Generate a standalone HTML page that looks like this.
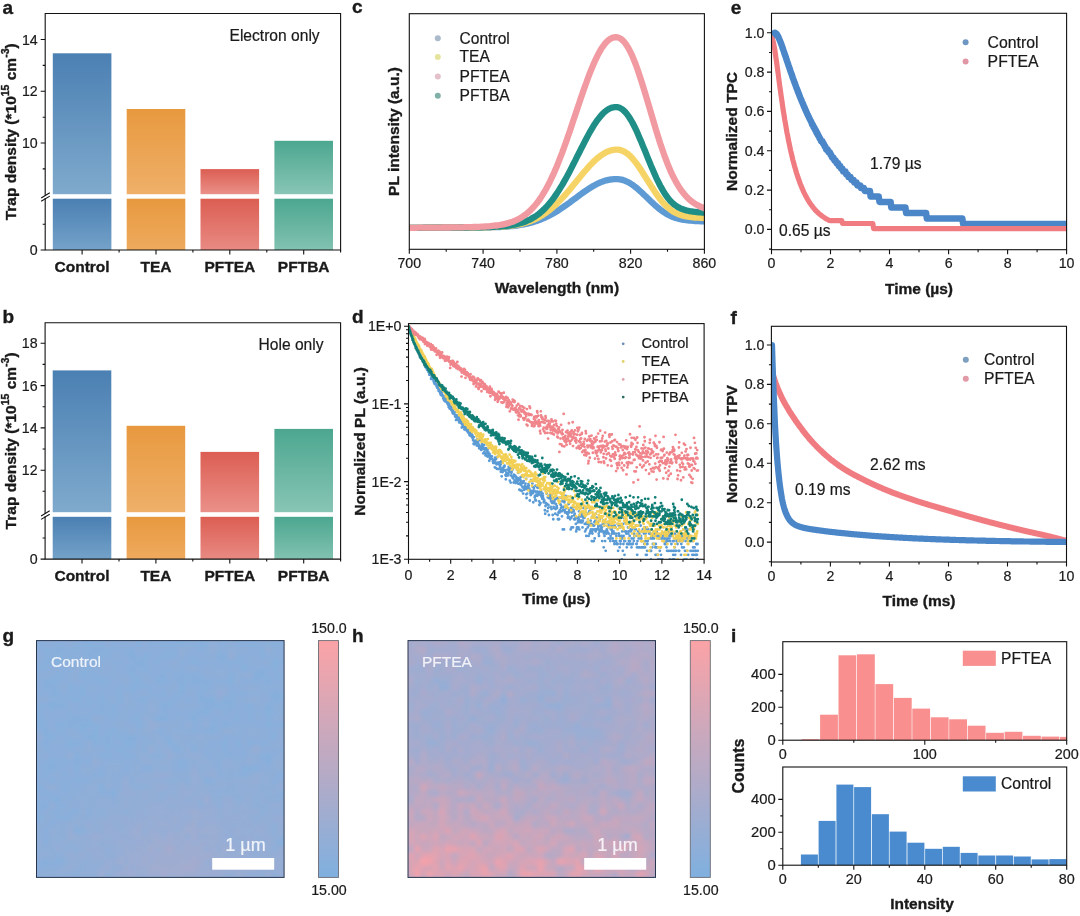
<!DOCTYPE html>
<html><head><meta charset="utf-8"><title>Figure</title>
<style>html,body{margin:0;padding:0;background:#fff}svg{display:block}text{font-family:'Liberation Sans', sans-serif}</style>
</head><body>
<svg width="1080" height="916" viewBox="0 0 1080 916" font-family="Liberation Sans, sans-serif">
<rect width="1080" height="916" fill="#fff"/>
<defs>
<linearGradient id="gB" x1="0" y1="0" x2="0" y2="1"><stop offset="0" stop-color="#4b80b3"/><stop offset="1" stop-color="#7faacd"/></linearGradient>
<linearGradient id="gO" x1="0" y1="0" x2="0" y2="1"><stop offset="0" stop-color="#e8993f"/><stop offset="1" stop-color="#efb069"/></linearGradient>
<linearGradient id="gR" x1="0" y1="0" x2="0" y2="1"><stop offset="0" stop-color="#dc5e53"/><stop offset="1" stop-color="#ea9089"/></linearGradient>
<linearGradient id="gG" x1="0" y1="0" x2="0" y2="1"><stop offset="0" stop-color="#4ca790"/><stop offset="1" stop-color="#88c5b5"/></linearGradient>
<linearGradient id="gB2" x1="0" y1="0" x2="0" y2="1"><stop offset="0" stop-color="#4b80b3"/><stop offset="1" stop-color="#74a2c9"/></linearGradient>
<linearGradient id="gO2" x1="0" y1="0" x2="0" y2="1"><stop offset="0" stop-color="#e8993f"/><stop offset="1" stop-color="#eeaa5e"/></linearGradient>
<linearGradient id="gR2" x1="0" y1="0" x2="0" y2="1"><stop offset="0" stop-color="#dc5e53"/><stop offset="1" stop-color="#e88a83"/></linearGradient>
<linearGradient id="gG2" x1="0" y1="0" x2="0" y2="1"><stop offset="0" stop-color="#4ca790"/><stop offset="1" stop-color="#82c2b1"/></linearGradient>
<linearGradient id="cb" x1="0" y1="0" x2="0" y2="1"><stop offset="0" stop-color="#fba3a6"/><stop offset="1" stop-color="#7fb0df"/></linearGradient>
<filter id="bl" x="-5%" y="-5%" width="110%" height="110%"><feGaussianBlur stdDeviation="2.2"/></filter>
<clipPath id="cg"><rect x="36" y="640.6" width="248" height="236.8"/></clipPath>
<clipPath id="ch"><rect x="408" y="640.6" width="247.5" height="236.8"/></clipPath>
</defs>
<rect x="52.8" y="53.3" width="58.6" height="140.9" fill="url(#gB)"/>
<rect x="52.8" y="198.7" width="58.6" height="51.3" fill="url(#gB2)"/>
<rect x="126.7" y="109" width="58.6" height="85.2" fill="url(#gO)"/>
<rect x="126.7" y="198.7" width="58.6" height="51.3" fill="url(#gO2)"/>
<rect x="200.5" y="169.1" width="58.6" height="25.1" fill="url(#gR)"/>
<rect x="200.5" y="198.7" width="58.6" height="51.3" fill="url(#gR2)"/>
<rect x="274.4" y="140.8" width="58.6" height="53.4" fill="url(#gG)"/>
<rect x="274.4" y="198.7" width="58.6" height="51.3" fill="url(#gG2)"/>
<path d="M45.2 195.4L45.2 13.5L340.6 13.5L340.6 250L45.2 250L45.2 198.1" stroke="#111" stroke-width="1.1" fill="none"/>
<path d="M41.2 198L49.8 192.8M41.2 201.3L49.8 196.1" stroke="#111" stroke-width="1.1" fill="none"/>
<text x="37.7" y="44.5" font-size="14.2" stroke="#1a1a1a" stroke-width=".2" text-anchor="end" fill="#1a1a1a">14</text>
<text x="37.7" y="96.3" font-size="14.2" stroke="#1a1a1a" stroke-width=".2" text-anchor="end" fill="#1a1a1a">12</text>
<text x="37.7" y="148" font-size="14.2" stroke="#1a1a1a" stroke-width=".2" text-anchor="end" fill="#1a1a1a">10</text>
<text x="37.7" y="255" font-size="14.2" stroke="#1a1a1a" stroke-width=".2" text-anchor="end" fill="#1a1a1a">0</text>
<text x="82.1" y="272" font-size="15.5" font-weight="bold" stroke="#1a1a1a" stroke-width=".35" text-anchor="middle" fill="#1a1a1a">Control</text>
<text x="156" y="272" font-size="15.5" font-weight="bold" stroke="#1a1a1a" stroke-width=".35" text-anchor="middle" fill="#1a1a1a">TEA</text>
<text x="229.8" y="272" font-size="15.5" font-weight="bold" stroke="#1a1a1a" stroke-width=".35" text-anchor="middle" fill="#1a1a1a">PFTEA</text>
<text x="303.7" y="272" font-size="15.5" font-weight="bold" stroke="#1a1a1a" stroke-width=".35" text-anchor="middle" fill="#1a1a1a">PFTBA</text>
<path d="M45.2 39.5L40.7 39.5M45.2 91.3L40.7 91.3M45.2 143L40.7 143M45.2 250L40.7 250M45.2 65.4L42.7 65.4M45.2 117.2L42.7 117.2M45.2 168.9L42.7 168.9M45.2 224.2L42.7 224.2M82.1 250L82.1 254.5M156 250L156 254.5M229.8 250L229.8 254.5M303.7 250L303.7 254.5M119.1 250L119.1 252.5M192.9 250L192.9 252.5M266.8 250L266.8 252.5M340.6 250L340.6 252.5" stroke="#111" stroke-width="1.1" fill="none"/>
<text x="229.5" y="41" font-size="15.6" stroke="#1a1a1a" stroke-width=".2" text-anchor="start" fill="#1a1a1a">Electron only</text>
<text x="15.7" y="131.8" font-size="15.5" font-weight="bold" stroke="#1a1a1a" stroke-width=".35" text-anchor="middle" fill="#1a1a1a" transform="rotate(-90 15.7 131.8)">Trap density (*10<tspan font-size="10.5" dy="-6.5">15</tspan><tspan dy="6.5"> cm</tspan><tspan font-size="10.5" dy="-6.5">-3</tspan><tspan dy="6.5">)</tspan></text>
<text x="2.5" y="14" font-size="19" font-weight="bold" stroke="#1a1a1a" stroke-width=".35" text-anchor="start" fill="#1a1a1a">a</text>
<rect x="52.7" y="370.4" width="58.6" height="141.8" fill="url(#gB)"/>
<rect x="52.7" y="516.8" width="58.6" height="42.3" fill="url(#gB2)"/>
<rect x="126.6" y="425.8" width="58.6" height="86.4" fill="url(#gO)"/>
<rect x="126.6" y="516.8" width="58.6" height="42.3" fill="url(#gO2)"/>
<rect x="200.5" y="451.9" width="58.6" height="60.3" fill="url(#gR)"/>
<rect x="200.5" y="516.8" width="58.6" height="42.3" fill="url(#gR2)"/>
<rect x="274.4" y="428.9" width="58.6" height="83.3" fill="url(#gG)"/>
<rect x="274.4" y="516.8" width="58.6" height="42.3" fill="url(#gG2)"/>
<path d="M45.1 513.4L45.1 322.7L340.6 322.7L340.6 559.1L45.1 559.1L45.1 516.2" stroke="#111" stroke-width="1.1" fill="none"/>
<path d="M41.1 516L49.7 510.8M41.1 519.4L49.7 514.2" stroke="#111" stroke-width="1.1" fill="none"/>
<text x="37.6" y="348.3" font-size="14.2" stroke="#1a1a1a" stroke-width=".2" text-anchor="end" fill="#1a1a1a">18</text>
<text x="37.6" y="390.6" font-size="14.2" stroke="#1a1a1a" stroke-width=".2" text-anchor="end" fill="#1a1a1a">16</text>
<text x="37.6" y="432.9" font-size="14.2" stroke="#1a1a1a" stroke-width=".2" text-anchor="end" fill="#1a1a1a">14</text>
<text x="37.6" y="475.2" font-size="14.2" stroke="#1a1a1a" stroke-width=".2" text-anchor="end" fill="#1a1a1a">12</text>
<text x="37.6" y="564.1" font-size="14.2" stroke="#1a1a1a" stroke-width=".2" text-anchor="end" fill="#1a1a1a">0</text>
<text x="82" y="580.5" font-size="15.5" font-weight="bold" stroke="#1a1a1a" stroke-width=".35" text-anchor="middle" fill="#1a1a1a">Control</text>
<text x="155.9" y="580.5" font-size="15.5" font-weight="bold" stroke="#1a1a1a" stroke-width=".35" text-anchor="middle" fill="#1a1a1a">TEA</text>
<text x="229.8" y="580.5" font-size="15.5" font-weight="bold" stroke="#1a1a1a" stroke-width=".35" text-anchor="middle" fill="#1a1a1a">PFTEA</text>
<text x="303.7" y="580.5" font-size="15.5" font-weight="bold" stroke="#1a1a1a" stroke-width=".35" text-anchor="middle" fill="#1a1a1a">PFTBA</text>
<path d="M45.1 343.3L40.6 343.3M45.1 385.6L40.6 385.6M45.1 427.9L40.6 427.9M45.1 470.2L40.6 470.2M45.1 559.1L40.6 559.1M45.1 364.4L42.6 364.4M45.1 406.7L42.6 406.7M45.1 449L42.6 449M45.1 491.3L42.6 491.3M45.1 538L42.6 538M82 559.1L82 563.6M155.9 559.1L155.9 563.6M229.8 559.1L229.8 563.6M303.7 559.1L303.7 563.6M119 559.1L119 561.6M192.8 559.1L192.8 561.6M266.7 559.1L266.7 561.6M340.6 559.1L340.6 561.6" stroke="#111" stroke-width="1.1" fill="none"/>
<text x="258.5" y="349.5" font-size="15.6" stroke="#1a1a1a" stroke-width=".2" text-anchor="start" fill="#1a1a1a">Hole only</text>
<text x="15.7" y="440.9" font-size="15.5" font-weight="bold" stroke="#1a1a1a" stroke-width=".35" text-anchor="middle" fill="#1a1a1a" transform="rotate(-90 15.7 440.9)">Trap density (*10<tspan font-size="10.5" dy="-6.5">15</tspan><tspan dy="6.5"> cm</tspan><tspan font-size="10.5" dy="-6.5">-3</tspan><tspan dy="6.5">)</tspan></text>
<text x="2.5" y="323" font-size="19" font-weight="bold" stroke="#1a1a1a" stroke-width=".35" text-anchor="start" fill="#1a1a1a">b</text>
<clipPath id="cc"><rect x="409.3" y="13.7" width="295.1" height="235.6"/></clipPath>
<g fill="none" stroke-linecap="round" stroke-linejoin="round" stroke-width="6.3" clip-path="url(#cc)">
<path d="M409.3 227.8 411.1 227.8 413 227.8 414.8 227.8 416.7 227.8 418.5 227.8 420.4 227.8 422.2 227.8 424.1 227.8 425.9 227.8 427.7 227.8 429.6 227.8 431.4 227.8 433.3 227.8 435.1 227.7 437 227.7 438.8 227.7 440.7 227.7 442.5 227.7 444.3 227.7 446.2 227.7 448 227.7 449.9 227.7 451.7 227.7 453.6 227.7 455.4 227.7 457.3 227.7 459.1 227.7 460.9 227.7 462.8 227.7 464.6 227.6 466.5 227.6 468.3 227.6 470.2 227.6 472 227.6 473.9 227.6 475.7 227.6 477.5 227.5 479.4 227.5 481.2 227.5 483.1 227.5 484.9 227.4 486.8 227.4 488.6 227.3 490.5 227.3 492.3 227.2 494.1 227.2 496 227.1 497.8 227 499.7 227 501.5 226.9 503.4 226.8 505.2 226.6 507.1 226.5 508.9 226.4 510.7 226.2 512.6 226 514.4 225.8 516.3 225.6 518.1 225.3 520 225 521.8 224.7 523.7 224.4 525.5 224 527.3 223.6 529.2 223.2 531 222.7 532.9 222.2 534.7 221.6 536.6 221 538.4 220.3 540.3 219.7 542.1 218.9 543.9 218.1 545.8 217.3 547.6 216.4 549.5 215.5 551.3 214.5 553.2 213.5 555 212.4 556.9 211.3 558.7 210.1 560.5 208.9 562.4 207.7 564.2 206.4 566.1 205.1 567.9 203.8 569.8 202.5 571.6 201.1 573.4 199.7 575.3 198.4 577.1 197 579 195.6 580.8 194.3 582.7 192.9 584.5 191.6 586.4 190.3 588.2 189.1 590 187.9 591.9 186.8 593.7 185.7 595.6 184.7 597.4 183.8 599.3 182.9 601.1 182.1 603 181.4 604.8 180.8 606.6 180.3 608.5 179.9 610.3 179.5 612.2 179.3 614 179.1 615.9 179.1 617.7 179.1 619.6 179.3 621.4 179.6 623.2 180.1 625.1 180.8 626.9 181.6 628.8 182.5 630.6 183.6 632.5 184.8 634.3 186.2 636.2 187.6 638 189.2 639.8 190.8 641.7 192.5 643.5 194.3 645.4 196 647.2 197.8 649.1 199.6 650.9 201.4 652.8 203.1 654.6 204.8 656.4 206.4 658.3 208 660.1 209.5 662 210.9 663.8 212.2 665.7 213.4 667.5 214.5 669.4 215.4 671.2 216.3 673 217.1 674.9 217.7 676.7 218.3 678.6 218.8 680.4 219.2 682.3 219.6 684.1 219.9 686 220.1 687.8 220.4 689.6 220.6 691.5 220.7 693.3 220.9 695.2 221 697 221.1 698.9 221.2 700.7 221.3 702.6 221.4 704.4 221.4" stroke="#5e9ad3"/>
<path d="M409.3 227.8 411.1 227.8 413 227.8 414.8 227.8 416.7 227.8 418.5 227.8 420.4 227.8 422.2 227.8 424.1 227.8 425.9 227.8 427.7 227.7 429.6 227.7 431.4 227.7 433.3 227.7 435.1 227.7 437 227.7 438.8 227.7 440.7 227.7 442.5 227.7 444.3 227.7 446.2 227.7 448 227.7 449.9 227.7 451.7 227.7 453.6 227.6 455.4 227.6 457.3 227.6 459.1 227.6 460.9 227.6 462.8 227.6 464.6 227.6 466.5 227.6 468.3 227.5 470.2 227.5 472 227.5 473.9 227.5 475.7 227.5 477.5 227.4 479.4 227.4 481.2 227.4 483.1 227.3 484.9 227.3 486.8 227.3 488.6 227.2 490.5 227.1 492.3 227.1 494.1 227 496 226.9 497.8 226.8 499.7 226.7 501.5 226.6 503.4 226.5 505.2 226.3 507.1 226.1 508.9 225.9 510.7 225.7 512.6 225.5 514.4 225.2 516.3 224.9 518.1 224.5 520 224.1 521.8 223.7 523.7 223.2 525.5 222.7 527.3 222.1 529.2 221.5 531 220.8 532.9 220.1 534.7 219.3 536.6 218.4 538.4 217.4 540.3 216.4 542.1 215.3 543.9 214.1 545.8 212.9 547.6 211.5 549.5 210.1 551.3 208.6 553.2 207 555 205.4 556.9 203.6 558.7 201.8 560.5 199.9 562.4 197.9 564.2 195.9 566.1 193.8 567.9 191.7 569.8 189.5 571.6 187.3 573.4 185.1 575.3 182.8 577.1 180.6 579 178.3 580.8 176.1 582.7 173.8 584.5 171.6 586.4 169.5 588.2 167.4 590 165.4 591.9 163.4 593.7 161.6 595.6 159.8 597.4 158.2 599.3 156.7 601.1 155.3 603 154.1 604.8 153 606.6 152 608.5 151.3 610.3 150.6 612.2 150.2 614 149.9 615.9 149.7 617.7 149.7 619.6 149.9 621.4 150.4 623.2 151.1 625.1 152.1 626.9 153.3 628.8 154.8 630.6 156.6 632.5 158.5 634.3 160.7 636.2 163.1 638 165.6 639.8 168.3 641.7 171.1 643.5 174 645.4 176.9 647.2 179.8 649.1 182.8 650.9 185.7 652.8 188.6 654.6 191.4 656.4 194.1 658.3 196.6 660.1 199.1 662 201.4 663.8 203.5 665.7 205.4 667.5 207.2 669.4 208.8 671.2 210.2 673 211.5 674.9 212.5 676.7 213.4 678.6 214.2 680.4 214.9 682.3 215.4 684.1 215.9 686 216.3 687.8 216.6 689.6 216.9 691.5 217.1 693.3 217.3 695.2 217.5 697 217.6 698.9 217.7 700.7 217.8 702.6 217.9 704.4 218" stroke="#f5d465"/>
<path d="M409.3 227.8 411.1 227.8 413 227.8 414.8 227.8 416.7 227.8 418.5 227.8 420.4 227.8 422.2 227.8 424.1 227.7 425.9 227.7 427.7 227.7 429.6 227.7 431.4 227.7 433.3 227.7 435.1 227.7 437 227.7 438.8 227.7 440.7 227.7 442.5 227.7 444.3 227.6 446.2 227.6 448 227.6 449.9 227.6 451.7 227.6 453.6 227.6 455.4 227.6 457.3 227.6 459.1 227.5 460.9 227.5 462.8 227.5 464.6 227.5 466.5 227.5 468.3 227.5 470.2 227.4 472 227.4 473.9 227.4 475.7 227.4 477.5 227.3 479.4 227.3 481.2 227.3 483.1 227.2 484.9 227.2 486.8 227.1 488.6 227.1 490.5 227 492.3 226.9 494.1 226.8 496 226.7 497.8 226.6 499.7 226.5 501.5 226.4 503.4 226.2 505.2 226 507.1 225.8 508.9 225.6 510.7 225.3 512.6 225 514.4 224.7 516.3 224.3 518.1 223.8 520 223.3 521.8 222.8 523.7 222.2 525.5 221.5 527.3 220.7 529.2 219.9 531 218.9 532.9 217.9 534.7 216.8 536.6 215.5 538.4 214.2 540.3 212.7 542.1 211.1 543.9 209.4 545.8 207.5 547.6 205.5 549.5 203.4 551.3 201.1 553.2 198.7 555 196.1 556.9 193.4 558.7 190.6 560.5 187.7 562.4 184.6 564.2 181.4 566.1 178.1 567.9 174.7 569.8 171.2 571.6 167.6 573.4 164 575.3 160.4 577.1 156.7 579 153 580.8 149.3 582.7 145.7 584.5 142.1 586.4 138.5 588.2 135.1 590 131.8 591.9 128.6 593.7 125.6 595.6 122.8 597.4 120.1 599.3 117.7 601.1 115.5 603 113.5 604.8 111.8 606.6 110.3 608.5 109.1 610.3 108.2 612.2 107.6 614 107.2 615.9 107.1 617.7 107.2 619.6 107.8 621.4 108.7 623.2 110.1 625.1 111.9 626.9 114 628.8 116.6 630.6 119.5 632.5 122.8 634.3 126.3 636.2 130.1 638 134.2 639.8 138.4 641.7 142.8 643.5 147.3 645.4 151.8 647.2 156.4 649.1 160.9 650.9 165.4 652.8 169.8 654.6 174 656.4 178.1 658.3 181.9 660.1 185.5 662 188.9 663.8 192 665.7 194.9 667.5 197.5 669.4 199.8 671.2 201.8 673 203.5 674.9 205 676.7 206.3 678.6 207.4 680.4 208.3 682.3 209.1 684.1 209.7 686 210.3 687.8 210.7 689.6 211.1 691.5 211.4 693.3 211.7 695.2 211.9 697 212.1 698.9 212.3 700.7 212.4 702.6 212.6 704.4 212.7" stroke="#1e8e87"/>
<path d="M409.3 227.8 411.1 227.8 413 227.8 414.8 227.8 416.7 227.8 418.5 227.7 420.4 227.7 422.2 227.7 424.1 227.7 425.9 227.7 427.7 227.7 429.6 227.7 431.4 227.6 433.3 227.6 435.1 227.6 437 227.6 438.8 227.6 440.7 227.6 442.5 227.5 444.3 227.5 446.2 227.5 448 227.5 449.9 227.5 451.7 227.4 453.6 227.4 455.4 227.4 457.3 227.4 459.1 227.3 460.9 227.3 462.8 227.3 464.6 227.2 466.5 227.2 468.3 227.2 470.2 227.1 472 227.1 473.9 227 475.7 226.9 477.5 226.9 479.4 226.8 481.2 226.7 483.1 226.6 484.9 226.5 486.8 226.4 488.6 226.3 490.5 226.1 492.3 225.9 494.1 225.7 496 225.5 497.8 225.3 499.7 225 501.5 224.7 503.4 224.3 505.2 223.9 507.1 223.4 508.9 222.9 510.7 222.3 512.6 221.7 514.4 221 516.3 220.1 518.1 219.2 520 218.2 521.8 217.1 523.7 215.9 525.5 214.6 527.3 213.1 529.2 211.5 531 209.7 532.9 207.8 534.7 205.7 536.6 203.5 538.4 201.1 540.3 198.4 542.1 195.6 543.9 192.7 545.8 189.5 547.6 186.1 549.5 182.5 551.3 178.7 553.2 174.7 555 170.5 556.9 166.2 558.7 161.6 560.5 156.9 562.4 152.1 564.2 147 566.1 141.9 567.9 136.6 569.8 131.3 571.6 125.8 573.4 120.3 575.3 114.8 577.1 109.3 579 103.8 580.8 98.3 582.7 92.9 584.5 87.6 586.4 82.5 588.2 77.5 590 72.7 591.9 68.1 593.7 63.7 595.6 59.6 597.4 55.8 599.3 52.3 601.1 49.1 603 46.3 604.8 43.9 606.6 41.8 608.5 40.1 610.3 38.8 612.2 37.9 614 37.4 615.9 37.2 617.7 37.4 619.6 38.1 621.4 39.2 623.2 40.9 625.1 43 626.9 45.7 628.8 48.8 630.6 52.4 632.5 56.4 634.3 60.9 636.2 65.7 638 70.8 639.8 76.3 641.7 82 643.5 87.9 645.4 94 647.2 100.2 649.1 106.4 650.9 112.7 652.8 119 654.6 125.2 656.4 131.3 658.3 137.2 660.1 143 662 148.5 663.8 153.8 665.7 158.9 667.5 163.7 669.4 168.2 671.2 172.4 673 176.3 674.9 179.9 676.7 183.2 678.6 186.3 680.4 189.1 682.3 191.6 684.1 194 686 196.1 687.8 198 689.6 199.7 691.5 201.2 693.3 202.6 695.2 203.8 697 204.9 698.9 205.9 700.7 206.8 702.6 207.5 704.4 208.2" stroke="#f29aa1"/>
</g>
<rect x="409.3" y="13.7" width="295.1" height="235.6" fill="none" stroke="#111" stroke-width="1.1"/>
<text x="409.3" y="268.3" font-size="14.2" stroke="#1a1a1a" stroke-width=".2" text-anchor="middle" fill="#1a1a1a">700</text>
<text x="483.1" y="268.3" font-size="14.2" stroke="#1a1a1a" stroke-width=".2" text-anchor="middle" fill="#1a1a1a">740</text>
<text x="556.9" y="268.3" font-size="14.2" stroke="#1a1a1a" stroke-width=".2" text-anchor="middle" fill="#1a1a1a">780</text>
<text x="630.6" y="268.3" font-size="14.2" stroke="#1a1a1a" stroke-width=".2" text-anchor="middle" fill="#1a1a1a">820</text>
<text x="704.4" y="268.3" font-size="14.2" stroke="#1a1a1a" stroke-width=".2" text-anchor="middle" fill="#1a1a1a">860</text>
<path d="M409.3 249.3L409.3 253.8M483.1 249.3L483.1 253.8M556.9 249.3L556.9 253.8M630.6 249.3L630.6 253.8M704.4 249.3L704.4 253.8M446.2 249.3L446.2 251.8M520 249.3L520 251.8M593.7 249.3L593.7 251.8M667.5 249.3L667.5 251.8" stroke="#111" stroke-width="1.1" fill="none"/>
<text x="556.9" y="293" font-size="15.5" font-weight="bold" stroke="#1a1a1a" stroke-width=".35" text-anchor="middle" fill="#1a1a1a">Wavelength (nm)</text>
<text x="398.5" y="131.5" font-size="15.5" font-weight="bold" stroke="#1a1a1a" stroke-width=".35" text-anchor="middle" fill="#1a1a1a" transform="rotate(-90 398.5 131.5)">PL intensity (a.u.)</text>
<text x="352" y="13" font-size="19" font-weight="bold" stroke="#1a1a1a" stroke-width=".35" text-anchor="start" fill="#1a1a1a">c</text>
<circle cx="437.8" cy="38.3" r="3" fill="#abbaca"/>
<text x="459.5" y="43.8" font-size="15.6" stroke="#1a1a1a" stroke-width=".2" text-anchor="start" fill="#1a1a1a">Control</text>
<circle cx="437.8" cy="56.9" r="3" fill="#e6e49c"/>
<text x="459.5" y="62.4" font-size="15.6" stroke="#1a1a1a" stroke-width=".2" text-anchor="start" fill="#1a1a1a">TEA</text>
<circle cx="437.8" cy="76.5" r="3" fill="#e3c0ca"/>
<text x="459.5" y="82" font-size="15.6" stroke="#1a1a1a" stroke-width=".2" text-anchor="start" fill="#1a1a1a">PFTEA</text>
<circle cx="437.8" cy="95.7" r="3" fill="#80b0a7"/>
<text x="459.5" y="101.2" font-size="15.6" stroke="#1a1a1a" stroke-width=".2" text-anchor="start" fill="#1a1a1a">PFTBA</text>
<clipPath id="ce"><rect x="771.5" y="13.3" width="295.1" height="236.4"/></clipPath>
<g fill="none" stroke-linecap="round" stroke-linejoin="round" clip-path="url(#ce)">
<path d="M771.5 38.7 772.2 37.2 773 35.7 773.7 34.1 774.5 32.8 775.2 32.8 775.9 33.3 776.7 34.1 777.4 35.2 778.2 36.6 778.9 38.2 779.6 39.9 780.4 41.8 781.1 43.7 781.9 45.8 782.6 47.9 783.3 50 784.1 52.2 784.8 54.4 785.6 56.6 786.3 58.8 787 61 787.8 63.2 788.5 65.3 789.3 67.5 790 69.7 790.7 71.8 791.5 73.9 792.2 76 792.9 78.1 793.7 80.2 794.4 82.2 795.2 84.2 795.9 86.2 796.6 88.2 797.4 90.1 798.1 92.1 798.9 93.9 799.6 95.8 800.3 97.7 801.1 99.5 801.8 101.3 802.6 103.1 803.3 104.8 804 106.5 804.8 108.2 805.5 109.9 806.3 111.6 807 113.2 807.7 114.8 808.5 116.4 809.2 118 810 119.5 810.7 121 811.4 122.1 812.2 124.8 812.9 124.8 813.7 127.6 814.4 127.6 815.1 130.3 815.9 130.3 816.6 133.1 817.4 133.1 818.1 135.8 818.8 135.8 819.6 138.6 820.3 138.6 821.1 141.3 821.8 141.3 822.5 141.3 823.3 144.1 824 144.1 824.8 146.8 825.5 146.8 826.2 149.6 827 149.6 827.7 149.6 828.4 152.3 829.2 152.3 829.9 152.3 830.7 155.1 831.4 155.1 832.1 157.8 832.9 157.8 833.6 157.8 834.4 160.6 835.1 160.6 835.8 160.6 836.6 163.3 837.3 163.3 838.1 163.3 838.8 166.1 839.5 166.1 840.3 166.1 841 168.8 841.8 168.8 842.5 168.8 843.2 171.6 844 171.6 844.7 171.6 845.5 171.6 846.2 174.4 846.9 174.4 847.7 174.4 848.4 177.1 849.2 177.1 849.9 177.1 850.6 177.1 851.4 179.9 852.1 179.9 852.9 179.9 853.6 179.9 854.3 182.6 855.1 182.6 855.8 182.6 856.6 182.6 857.3 185.4 858 185.4 858.8 185.4 859.5 185.4 860.3 185.4 861 188.1 861.7 188.1 862.5 188.1 863.2 188.1 863.9 188.1 864.7 190.9 865.4 190.9 866.2 190.9 866.9 190.9 867.6 190.9 868.4 190.9 869.1 190.9 869.9 190.9 870.6 196.4 871.3 196.4 872.1 196.4 872.8 196.4 873.6 196.4 874.3 196.4 875 196.4 875.8 196.4 876.5 196.4 877.3 196.4 878 196.4 878.7 196.4 879.5 201.9 880.2 201.9 881 201.9 881.7 201.9 882.4 201.9 883.2 201.9 883.9 201.9 884.7 201.9 885.4 201.9 886.1 201.9 886.9 201.9 887.6 201.9 888.4 201.9 889.1 201.9 889.8 201.9 890.6 201.9 891.3 207.4 892.1 207.4 892.8 207.4 893.5 207.4 894.3 207.4 895 207.4 895.8 207.4 896.5 207.4 897.2 207.4 898 207.4 898.7 207.4 899.5 207.4 900.2 207.4 900.9 207.4 901.7 207.4 902.4 207.4 903.1 207.4 903.9 207.4 904.6 207.4 905.4 207.4 906.1 212.9 906.8 212.9 907.6 212.9 908.3 212.9 909.1 212.9 909.8 212.9 910.5 212.9 911.3 212.9 912 212.9 912.8 212.9 913.5 212.9 914.2 212.9 915 212.9 915.7 212.9 916.5 212.9 917.2 212.9 917.9 212.9 918.7 212.9 919.4 212.9 920.2 212.9 920.9 212.9 921.6 212.9 922.4 212.9 923.1 212.9 923.9 212.9 924.6 212.9 925.3 212.9 926.1 212.9 926.8 218.4 927.6 218.4 928.3 218.4 929 218.4 929.8 218.4 930.5 218.4 931.3 218.4 932 218.4 932.7 218.4 933.5 218.4 934.2 218.4 935 218.4 935.7 218.4 936.4 218.4 937.2 218.4 937.9 218.4 938.6 218.4 939.4 218.4 940.1 218.4 940.9 218.4 941.6 218.4 942.3 218.4 943.1 218.4 943.8 218.4 944.6 218.4 945.3 218.4 946 218.4 946.8 218.4 947.5 218.4 948.3 218.4 949 218.4 949.7 218.4 950.5 218.4 951.2 218.4 952 218.4 952.7 218.4 953.4 218.4 954.2 218.4 954.9 218.4 955.7 218.4 956.4 218.4 957.1 218.4 957.9 218.4 958.6 218.4 959.4 218.4 960.1 218.4 960.8 218.4 961.6 218.4 962.3 218.4 963.1 223.9 963.8 223.9 964.5 223.9 965.3 223.9 966 223.9 966.8 223.9 967.5 223.9 968.2 223.9 969 223.9 969.7 223.9 970.5 223.9 971.2 223.9 971.9 223.9 972.7 223.9 973.4 223.9 974.2 223.9 974.9 223.9 975.6 223.9 976.4 223.9 977.1 223.9 977.8 223.9 978.6 223.9 979.3 223.9 980.1 223.9 980.8 223.9 981.5 223.9 982.3 223.9 983 223.9 983.8 223.9 984.5 223.9 985.2 223.9 986 223.9 986.7 223.9 987.5 223.9 988.2 223.9 988.9 223.9 989.7 223.9 990.4 223.9 991.2 223.9 991.9 223.9 992.6 223.9 993.4 223.9 994.1 223.9 994.9 223.9 995.6 223.9 996.3 223.9 997.1 223.9 997.8 223.9 998.6 223.9 999.3 223.9 1000 223.9 1000.8 223.9 1001.5 223.9 1002.3 223.9 1003 223.9 1003.7 223.9 1004.5 223.9 1005.2 223.9 1006 223.9 1006.7 223.9 1007.4 223.9 1008.2 223.9 1008.9 223.9 1009.7 223.9 1010.4 223.9 1011.1 223.9 1011.9 223.9 1012.6 223.9 1013.3 223.9 1014.1 223.9 1014.8 223.9 1015.6 223.9 1016.3 223.9 1017 223.9 1017.8 223.9 1018.5 223.9 1019.3 223.9 1020 223.9 1020.7 223.9 1021.5 223.9 1022.2 223.9 1023 223.9 1023.7 223.9 1024.4 223.9 1025.2 223.9 1025.9 223.9 1026.7 223.9 1027.4 223.9 1028.1 223.9 1028.9 223.9 1029.6 223.9 1030.4 223.9 1031.1 223.9 1031.8 223.9 1032.6 223.9 1033.3 223.9 1034.1 223.9 1034.8 223.9 1035.5 223.9 1036.3 223.9 1037 223.9 1037.8 223.9 1038.5 223.9 1039.2 223.9 1040 223.9 1040.7 223.9 1041.5 223.9 1042.2 223.9 1042.9 223.9 1043.7 223.9 1044.4 223.9 1045.2 223.9 1045.9 223.9 1046.6 223.9 1047.4 223.9 1048.1 223.9 1048.8 223.9 1049.6 223.9 1050.3 223.9 1051.1 223.9 1051.8 223.9 1052.5 223.9 1053.3 223.9 1054 223.9 1054.8 223.9 1055.5 223.9 1056.2 223.9 1057 223.9 1057.7 223.9 1058.5 223.9 1059.2 223.9 1059.9 223.9 1060.7 223.9 1061.4 223.9 1062.2 223.9 1062.9 223.9 1063.6 223.9 1064.4 223.9 1065.1 223.9 1065.9 223.9 1066.6 223.9" stroke="#4a86c8" stroke-width="6.5"/>
<path d="M771.5 38.1 772.2 38.8 773 40.8 773.7 43.9 774.5 47.9 775.2 52.5 775.9 57.6 776.7 62.9 777.4 68.4 778.2 74 778.9 79.5 779.6 85 780.4 90.4 781.1 95.7 781.9 100.9 782.6 105.9 783.3 110.8 784.1 115.5 784.8 120 785.6 124.4 786.3 128.6 787 132.7 787.8 136.6 788.5 140.4 789.3 144 790 147.5 790.7 150.8 791.5 154 792.2 157.1 792.9 160.1 793.7 163 794.4 165.7 795.2 168.3 795.9 170.8 796.6 173.2 797.4 175.6 798.1 177.8 798.9 179.9 799.6 182 800.3 183.9 801.1 185.8 801.8 187.6 802.6 189.3 803.3 191 804 192.6 804.8 194.1 805.5 195.5 806.3 196.9 807 198.3 807.7 199.5 808.5 200.8 809.2 202 810 203.1 810.7 204.2 811.4 205.2 812.2 206.2 812.9 207.1 813.7 208.1 814.4 208.9 815.1 209.8 815.9 210.6 816.6 211.3 817.4 212.1 818.1 212.8 818.8 213.5 819.6 214.1 820.3 214.7 821.1 215.3 821.8 215.9 822.5 216.4 823.3 216.9 824 217.4 824.8 217.9 825.5 218.4 826.2 218.8 827 219.2 827.7 219.6 828.4 220 829.2 220.4 829.9 220.6 830.7 220.6 831.4 220.6 832.1 220.6 832.9 220.6 833.6 220.6 834.4 220.6 835.1 220.6 835.8 220.6 836.6 220.6 837.3 220.6 838.1 220.6 838.8 220.6 839.5 220.6 840.3 220.6 841 220.6 841.8 220.6 842.5 223.5 843.2 223.5 844 223.5 844.7 223.5 845.5 223.5 846.2 223.5 846.9 223.5 847.7 223.5 848.4 223.5 849.2 223.5 849.9 223.5 850.6 223.5 851.4 223.5 852.1 223.5 852.9 223.5 853.6 223.5 854.3 223.5 855.1 223.5 855.8 223.5 856.6 223.5 857.3 223.5 858 223.5 858.8 223.5 859.5 223.5 860.3 223.5 861 223.5 861.7 223.5 862.5 223.5 863.2 223.5 863.9 223.5 864.7 223.5 865.4 223.5 866.2 223.5 866.9 223.5 867.6 223.5 868.4 223.5 869.1 223.5 869.9 223.5 870.6 223.5 871.3 223.5 872.1 223.5 872.8 223.5 873.6 228.6 874.3 228.6 875 228.6 875.8 228.6 876.5 228.6 877.3 228.6 878 228.6 878.7 228.6 879.5 228.6 880.2 228.6 881 228.6 881.7 228.6 882.4 228.6 883.2 228.6 883.9 228.6 884.7 228.6 885.4 228.6 886.1 228.6 886.9 228.6 887.6 228.6 888.4 228.6 889.1 228.6 889.8 228.6 890.6 228.6 891.3 228.6 892.1 228.6 892.8 228.6 893.5 228.6 894.3 228.6 895 228.6 895.8 228.6 896.5 228.6 897.2 228.6 898 228.6 898.7 228.6 899.5 228.6 900.2 228.6 900.9 228.6 901.7 228.6 902.4 228.6 903.1 228.6 903.9 228.6 904.6 228.6 905.4 228.6 906.1 228.6 906.8 228.6 907.6 228.6 908.3 228.6 909.1 228.6 909.8 228.6 910.5 228.6 911.3 228.6 912 228.6 912.8 228.6 913.5 228.6 914.2 228.6 915 228.6 915.7 228.6 916.5 228.6 917.2 228.6 917.9 228.6 918.7 228.6 919.4 228.6 920.2 228.6 920.9 228.6 921.6 228.6 922.4 228.6 923.1 228.6 923.9 228.6 924.6 228.6 925.3 228.6 926.1 228.6 926.8 228.6 927.6 228.6 928.3 228.6 929 228.6 929.8 228.6 930.5 228.6 931.3 228.6 932 228.6 932.7 228.6 933.5 228.6 934.2 228.6 935 228.6 935.7 228.6 936.4 228.6 937.2 228.6 937.9 228.6 938.6 228.6 939.4 228.6 940.1 228.6 940.9 228.6 941.6 228.6 942.3 228.6 943.1 228.6 943.8 228.6 944.6 228.6 945.3 228.6 946 228.6 946.8 228.6 947.5 228.6 948.3 228.6 949 228.6 949.7 228.6 950.5 228.6 951.2 228.6 952 228.6 952.7 228.6 953.4 228.6 954.2 228.6 954.9 228.6 955.7 228.6 956.4 228.6 957.1 228.6 957.9 228.6 958.6 228.6 959.4 228.6 960.1 228.6 960.8 228.6 961.6 228.6 962.3 228.6 963.1 228.6 963.8 228.6 964.5 228.6 965.3 228.6 966 228.6 966.8 228.6 967.5 228.6 968.2 228.6 969 228.6 969.7 228.6 970.5 228.6 971.2 228.6 971.9 228.6 972.7 228.6 973.4 228.6 974.2 228.6 974.9 228.6 975.6 228.6 976.4 228.6 977.1 228.6 977.8 228.6 978.6 228.6 979.3 228.6 980.1 228.6 980.8 228.6 981.5 228.6 982.3 228.6 983 228.6 983.8 228.6 984.5 228.6 985.2 228.6 986 228.6 986.7 228.6 987.5 228.6 988.2 228.6 988.9 228.6 989.7 228.6 990.4 228.6 991.2 228.6 991.9 228.6 992.6 228.6 993.4 228.6 994.1 228.6 994.9 228.6 995.6 228.6 996.3 228.6 997.1 228.6 997.8 228.6 998.6 228.6 999.3 228.6 1000 228.6 1000.8 228.6 1001.5 228.6 1002.3 228.6 1003 228.6 1003.7 228.6 1004.5 228.6 1005.2 228.6 1006 228.6 1006.7 228.6 1007.4 228.6 1008.2 228.6 1008.9 228.6 1009.7 228.6 1010.4 228.6 1011.1 228.6 1011.9 228.6 1012.6 228.6 1013.3 228.6 1014.1 228.6 1014.8 228.6 1015.6 228.6 1016.3 228.6 1017 228.6 1017.8 228.6 1018.5 228.6 1019.3 228.6 1020 228.6 1020.7 228.6 1021.5 228.6 1022.2 228.6 1023 228.6 1023.7 228.6 1024.4 228.6 1025.2 228.6 1025.9 228.6 1026.7 228.6 1027.4 228.6 1028.1 228.6 1028.9 228.6 1029.6 228.6 1030.4 228.6 1031.1 228.6 1031.8 228.6 1032.6 228.6 1033.3 228.6 1034.1 228.6 1034.8 228.6 1035.5 228.6 1036.3 228.6 1037 228.6 1037.8 228.6 1038.5 228.6 1039.2 228.6 1040 228.6 1040.7 228.6 1041.5 228.6 1042.2 228.6 1042.9 228.6 1043.7 228.6 1044.4 228.6 1045.2 228.6 1045.9 228.6 1046.6 228.6 1047.4 228.6 1048.1 228.6 1048.8 228.6 1049.6 228.6 1050.3 228.6 1051.1 228.6 1051.8 228.6 1052.5 228.6 1053.3 228.6 1054 228.6 1054.8 228.6 1055.5 228.6 1056.2 228.6 1057 228.6 1057.7 228.6 1058.5 228.6 1059.2 228.6 1059.9 228.6 1060.7 228.6 1061.4 228.6 1062.2 228.6 1062.9 228.6 1063.6 228.6 1064.4 228.6 1065.1 228.6 1065.9 228.6 1066.6 228.6" stroke="#f07c82" stroke-width="5.2"/>
</g>
<rect x="771.5" y="13.3" width="295.1" height="236.4" fill="none" stroke="#111" stroke-width="1.1"/>
<text x="771.5" y="268.3" font-size="14.2" stroke="#1a1a1a" stroke-width=".2" text-anchor="middle" fill="#1a1a1a">0</text>
<text x="830.5" y="268.3" font-size="14.2" stroke="#1a1a1a" stroke-width=".2" text-anchor="middle" fill="#1a1a1a">2</text>
<text x="889.5" y="268.3" font-size="14.2" stroke="#1a1a1a" stroke-width=".2" text-anchor="middle" fill="#1a1a1a">4</text>
<text x="948.6" y="268.3" font-size="14.2" stroke="#1a1a1a" stroke-width=".2" text-anchor="middle" fill="#1a1a1a">6</text>
<text x="1007.6" y="268.3" font-size="14.2" stroke="#1a1a1a" stroke-width=".2" text-anchor="middle" fill="#1a1a1a">8</text>
<text x="1066.6" y="268.3" font-size="14.2" stroke="#1a1a1a" stroke-width=".2" text-anchor="middle" fill="#1a1a1a">10</text>
<text x="764.5" y="234.4" font-size="14.2" stroke="#1a1a1a" stroke-width=".2" text-anchor="end" fill="#1a1a1a">0.0</text>
<text x="764.5" y="195.1" font-size="14.2" stroke="#1a1a1a" stroke-width=".2" text-anchor="end" fill="#1a1a1a">0.2</text>
<text x="764.5" y="155.8" font-size="14.2" stroke="#1a1a1a" stroke-width=".2" text-anchor="end" fill="#1a1a1a">0.4</text>
<text x="764.5" y="116.4" font-size="14.2" stroke="#1a1a1a" stroke-width=".2" text-anchor="end" fill="#1a1a1a">0.6</text>
<text x="764.5" y="77.1" font-size="14.2" stroke="#1a1a1a" stroke-width=".2" text-anchor="end" fill="#1a1a1a">0.8</text>
<text x="764.5" y="37.8" font-size="14.2" stroke="#1a1a1a" stroke-width=".2" text-anchor="end" fill="#1a1a1a">1.0</text>
<path d="M771.5 249.7L771.5 254.2M830.5 249.7L830.5 254.2M889.5 249.7L889.5 254.2M948.6 249.7L948.6 254.2M1007.6 249.7L1007.6 254.2M1066.6 249.7L1066.6 254.2M801 249.7L801 252.2M860 249.7L860 252.2M919 249.7L919 252.2M978.1 249.7L978.1 252.2M1037.1 249.7L1037.1 252.2M771.5 229.4L767 229.4M771.5 190.1L767 190.1M771.5 150.8L767 150.8M771.5 111.4L767 111.4M771.5 72.1L767 72.1M771.5 32.8L767 32.8M771.5 249.1L769 249.1M771.5 209.7L769 209.7M771.5 170.4L769 170.4M771.5 131.1L769 131.1M771.5 91.8L769 91.8M771.5 52.5L769 52.5" stroke="#111" stroke-width="1.1" fill="none"/>
<text x="919" y="293.8" font-size="15.5" font-weight="bold" stroke="#1a1a1a" stroke-width=".35" text-anchor="middle" fill="#1a1a1a">Time (µs)</text>
<text x="737.4" y="131.5" font-size="15.5" font-weight="bold" stroke="#1a1a1a" stroke-width=".35" text-anchor="middle" fill="#1a1a1a" transform="rotate(-90 737.4 131.5)">Normalized TPC</text>
<text x="730.8" y="14" font-size="19" font-weight="bold" stroke="#1a1a1a" stroke-width=".35" text-anchor="start" fill="#1a1a1a">e</text>
<circle cx="965.6" cy="42.3" r="3" fill="#6e96c3"/>
<text x="987.6" y="47.8" font-size="15.8" stroke="#1a1a1a" stroke-width=".2" text-anchor="start" fill="#1a1a1a">Control</text>
<circle cx="965.6" cy="61.5" r="3" fill="#e196a5"/>
<text x="987.6" y="66.8" font-size="15.8" stroke="#1a1a1a" stroke-width=".2" text-anchor="start" fill="#1a1a1a">PFTEA</text>
<text x="870" y="169" font-size="15.6" stroke="#1a1a1a" stroke-width=".2" text-anchor="start" fill="#1a1a1a">1.79 µs</text>
<text x="779" y="236.3" font-size="15.6" stroke="#1a1a1a" stroke-width=".2" text-anchor="start" fill="#1a1a1a">0.65 µs</text>
<clipPath id="cf"><rect x="771.4" y="326.3" width="295.1" height="235.7"/></clipPath>
<g fill="none" stroke-linecap="round" stroke-linejoin="round" clip-path="url(#cf)">
<path d="M771.4 368.7 772 371.2 772.6 373.5 773.2 375.6 773.8 377.5 774.4 379.3 774.9 381 775.5 382.7 776.1 384.3 776.7 385.9 777.3 387.4 777.9 388.9 778.5 390.3 779.1 391.7 779.7 393 780.3 394.3 780.9 395.6 781.5 396.8 782 398 782.6 399.2 783.2 400.4 783.8 401.5 784.4 402.6 785 403.7 785.6 404.8 786.2 405.8 786.8 406.8 787.4 407.8 788 408.8 788.6 409.8 789.1 410.7 789.7 411.7 790.3 412.6 790.9 413.5 791.5 414.4 792.1 415.3 792.7 416.2 793.3 417.1 793.9 418 794.5 418.9 795.1 419.7 795.6 420.6 796.2 421.5 796.8 422.3 797.4 423.1 798 424 798.6 424.8 799.2 425.6 799.8 426.4 800.4 427.2 801 428 801.6 428.8 802.2 429.6 802.7 430.4 803.3 431.2 803.9 431.9 804.5 432.7 805.1 433.4 805.7 434.2 806.3 434.9 806.9 435.6 807.5 436.4 808.1 437.1 808.7 437.8 809.2 438.5 809.8 439.2 810.4 439.8 811 440.5 811.6 441.2 812.2 441.8 812.8 442.5 813.4 443.1 814 443.8 814.6 444.4 815.2 445 815.8 445.6 816.3 446.2 816.9 446.8 817.5 447.4 818.1 448 818.7 448.6 819.3 449.2 819.9 449.7 820.5 450.3 821.1 450.9 821.7 451.4 822.3 452 822.9 452.5 823.4 453.1 824 453.6 824.6 454.1 825.2 454.7 825.8 455.2 826.4 455.7 827 456.2 827.6 456.7 828.2 457.2 828.8 457.7 829.4 458.2 829.9 458.7 830.5 459.2 831.1 459.7 831.7 460.2 832.3 460.6 832.9 461.1 833.5 461.5 834.1 462 834.7 462.5 835.3 462.9 835.9 463.3 836.5 463.8 837 464.2 837.6 464.6 838.2 465.1 838.8 465.5 839.4 465.9 840 466.3 840.6 466.7 841.2 467.1 841.8 467.5 842.4 467.9 843 468.3 843.5 468.6 844.1 469 844.7 469.4 845.3 469.8 845.9 470.1 846.5 470.5 847.1 470.8 847.7 471.2 848.3 471.5 848.9 471.9 849.5 472.2 850.1 472.6 850.6 472.9 851.2 473.2 851.8 473.6 852.4 473.9 853 474.2 853.6 474.5 854.2 474.9 854.8 475.2 855.4 475.5 856 475.8 856.6 476.1 857.2 476.4 857.7 476.7 858.3 477 858.9 477.3 859.5 477.6 860.1 477.9 860.7 478.2 861.3 478.5 861.9 478.8 862.5 479.1 863.1 479.4 863.7 479.7 864.2 480 864.8 480.3 865.4 480.6 866 480.9 866.6 481.2 867.2 481.5 867.8 481.8 868.4 482 869 482.3 869.6 482.6 870.2 482.9 870.8 483.2 871.3 483.5 871.9 483.7 872.5 484 873.1 484.3 873.7 484.6 874.3 484.8 874.9 485.1 875.5 485.4 876.1 485.6 876.7 485.9 877.3 486.2 877.8 486.4 878.4 486.7 879 487 879.6 487.2 880.2 487.5 880.8 487.7 881.4 488 882 488.2 882.6 488.5 883.2 488.8 883.8 489 884.4 489.3 884.9 489.5 885.5 489.7 886.1 490 886.7 490.2 887.3 490.5 887.9 490.7 888.5 491 889.1 491.2 889.7 491.4 890.3 491.7 890.9 491.9 891.5 492.1 892 492.4 892.6 492.6 893.2 492.8 893.8 493 894.4 493.3 895 493.5 895.6 493.7 896.2 493.9 896.8 494.2 897.4 494.4 898 494.6 898.5 494.8 899.1 495 899.7 495.2 900.3 495.5 900.9 495.7 901.5 495.9 902.1 496.1 902.7 496.3 903.3 496.5 903.9 496.7 904.5 496.9 905.1 497.1 905.6 497.3 906.2 497.5 906.8 497.7 907.4 497.9 908 498.1 908.6 498.3 909.2 498.5 909.8 498.7 910.4 498.9 911 499.1 911.6 499.3 912.1 499.5 912.7 499.7 913.3 499.9 913.9 500.1 914.5 500.3 915.1 500.5 915.7 500.7 916.3 500.9 916.9 501.1 917.5 501.3 918.1 501.5 918.7 501.7 919.2 501.9 919.8 502 920.4 502.2 921 502.4 921.6 502.6 922.2 502.8 922.8 503 923.4 503.1 924 503.3 924.6 503.5 925.2 503.7 925.8 503.9 926.3 504.1 926.9 504.2 927.5 504.4 928.1 504.6 928.7 504.8 929.3 505 929.9 505.1 930.5 505.3 931.1 505.5 931.7 505.7 932.3 505.8 932.8 506 933.4 506.2 934 506.4 934.6 506.5 935.2 506.7 935.8 506.9 936.4 507.1 937 507.2 937.6 507.4 938.2 507.6 938.8 507.7 939.4 507.9 939.9 508.1 940.5 508.3 941.1 508.4 941.7 508.6 942.3 508.8 942.9 508.9 943.5 509.1 944.1 509.3 944.7 509.5 945.3 509.6 945.9 509.8 946.4 510 947 510.2 947.6 510.3 948.2 510.5 948.8 510.7 949.4 510.8 950 511 950.6 511.2 951.2 511.4 951.8 511.5 952.4 511.7 953 511.9 953.5 512 954.1 512.2 954.7 512.4 955.3 512.6 955.9 512.7 956.5 512.9 957.1 513.1 957.7 513.2 958.3 513.4 958.9 513.6 959.5 513.8 960.1 513.9 960.6 514.1 961.2 514.3 961.8 514.4 962.4 514.6 963 514.8 963.6 514.9 964.2 515.1 964.8 515.3 965.4 515.5 966 515.6 966.6 515.8 967.1 516 967.7 516.1 968.3 516.3 968.9 516.5 969.5 516.6 970.1 516.8 970.7 517 971.3 517.1 971.9 517.3 972.5 517.5 973.1 517.6 973.7 517.8 974.2 518 974.8 518.1 975.4 518.3 976 518.5 976.6 518.6 977.2 518.8 977.8 519 978.4 519.1 979 519.3 979.6 519.4 980.2 519.6 980.7 519.8 981.3 519.9 981.9 520.1 982.5 520.3 983.1 520.4 983.7 520.6 984.3 520.7 984.9 520.9 985.5 521.1 986.1 521.2 986.7 521.4 987.3 521.5 987.8 521.7 988.4 521.8 989 522 989.6 522.2 990.2 522.3 990.8 522.5 991.4 522.6 992 522.8 992.6 522.9 993.2 523.1 993.8 523.2 994.4 523.4 994.9 523.5 995.5 523.7 996.1 523.8 996.7 524 997.3 524.1 997.9 524.3 998.5 524.5 999.1 524.6 999.7 524.8 1000.3 524.9 1000.9 525.1 1001.4 525.2 1002 525.3 1002.6 525.5 1003.2 525.6 1003.8 525.8 1004.4 525.9 1005 526.1 1005.6 526.2 1006.2 526.4 1006.8 526.5 1007.4 526.7 1008 526.8 1008.5 527 1009.1 527.1 1009.7 527.3 1010.3 527.4 1010.9 527.5 1011.5 527.7 1012.1 527.8 1012.7 528 1013.3 528.1 1013.9 528.3 1014.5 528.4 1015 528.6 1015.6 528.7 1016.2 528.8 1016.8 529 1017.4 529.1 1018 529.3 1018.6 529.4 1019.2 529.5 1019.8 529.7 1020.4 529.8 1021 530 1021.6 530.1 1022.1 530.3 1022.7 530.4 1023.3 530.5 1023.9 530.7 1024.5 530.8 1025.1 530.9 1025.7 531.1 1026.3 531.2 1026.9 531.4 1027.5 531.5 1028.1 531.6 1028.7 531.8 1029.2 531.9 1029.8 532 1030.4 532.1 1031 532.3 1031.6 532.4 1032.2 532.5 1032.8 532.7 1033.4 532.8 1034 532.9 1034.6 533.1 1035.2 533.2 1035.7 533.3 1036.3 533.5 1036.9 533.6 1037.5 533.7 1038.1 533.8 1038.7 534 1039.3 534.1 1039.9 534.2 1040.5 534.4 1041.1 534.5 1041.7 534.6 1042.3 534.8 1042.8 534.9 1043.4 535 1044 535.2 1044.6 535.3 1045.2 535.5 1045.8 535.6 1046.4 535.7 1047 535.9 1047.6 536 1048.2 536.2 1048.8 536.3 1049.3 536.4 1049.9 536.6 1050.5 536.7 1051.1 536.9 1051.7 537 1052.3 537.2 1052.9 537.3 1053.5 537.5 1054.1 537.6 1054.7 537.8 1055.3 537.9 1055.9 538.1 1056.4 538.2 1057 538.4 1057.6 538.5 1058.2 538.7 1058.8 538.9 1059.4 539 1060 539.2 1060.6 539.3 1061.2 539.5 1061.8 539.6 1062.4 539.8 1063 540 1063.5 540.1 1064.1 540.3 1064.7 540.4 1065.3 540.6 1065.9 540.8 1066.5 540.9" stroke="#f07c82" stroke-width="6"/>
<path d="M771.4 345 772 345 772.6 364.3 773.2 381.5 773.8 396.9 774.4 410.7 774.9 422.9 775.5 433.9 776.1 443.6 776.7 452.4 777.3 460.2 777.9 467.1 778.5 473.4 779.1 478.9 779.7 483.9 780.3 488.4 780.9 492.3 781.5 495.9 782 499.1 782.6 501.9 783.2 504.5 783.8 506.8 784.4 508.8 785 510.7 785.6 512.3 786.2 513.8 786.8 515.2 787.4 516.4 788 517.5 788.6 518.4 789.1 519.3 789.7 520.1 790.3 520.9 790.9 521.5 791.5 522.1 792.1 522.7 792.7 523.1 793.3 523.6 793.9 524 794.5 524.4 795.1 524.7 795.6 525.1 796.2 525.4 796.8 525.6 797.4 525.9 798 526.1 798.6 526.3 799.2 526.6 799.8 526.8 800.4 526.9 801 527.1 801.6 527.3 802.2 527.4 802.7 527.6 803.3 527.7 803.9 527.9 804.5 528 805.1 528.1 805.7 528.2 806.3 528.4 806.9 528.5 807.5 528.6 808.1 528.7 808.7 528.8 809.2 528.9 809.8 529 810.4 529.1 811 529.2 811.6 529.3 812.2 529.4 812.8 529.5 813.4 529.6 814 529.7 814.6 529.7 815.2 529.8 815.8 529.9 816.3 530 816.9 530.1 817.5 530.2 818.1 530.2 818.7 530.3 819.3 530.4 819.9 530.5 820.5 530.6 821.1 530.6 821.7 530.7 822.3 530.8 822.9 530.9 823.4 531 824 531 824.6 531.1 825.2 531.2 825.8 531.3 826.4 531.3 827 531.4 827.6 531.5 828.2 531.5 828.8 531.6 829.4 531.7 829.9 531.8 830.5 531.8 831.1 531.9 831.7 532 832.3 532 832.9 532.1 833.5 532.2 834.1 532.2 834.7 532.3 835.3 532.4 835.9 532.4 836.5 532.5 837 532.6 837.6 532.6 838.2 532.7 838.8 532.8 839.4 532.8 840 532.9 840.6 532.9 841.2 533 841.8 533.1 842.4 533.1 843 533.2 843.5 533.2 844.1 533.3 844.7 533.4 845.3 533.4 845.9 533.5 846.5 533.5 847.1 533.6 847.7 533.7 848.3 533.7 848.9 533.8 849.5 533.8 850.1 533.9 850.6 533.9 851.2 534 851.8 534.1 852.4 534.1 853 534.2 853.6 534.2 854.2 534.3 854.8 534.3 855.4 534.4 856 534.4 856.6 534.5 857.2 534.5 857.7 534.6 858.3 534.6 858.9 534.7 859.5 534.7 860.1 534.8 860.7 534.8 861.3 534.9 861.9 534.9 862.5 535 863.1 535 863.7 535.1 864.2 535.1 864.8 535.2 865.4 535.2 866 535.3 866.6 535.3 867.2 535.4 867.8 535.4 868.4 535.5 869 535.5 869.6 535.6 870.2 535.6 870.8 535.7 871.3 535.7 871.9 535.8 872.5 535.8 873.1 535.8 873.7 535.9 874.3 535.9 874.9 536 875.5 536 876.1 536.1 876.7 536.1 877.3 536.1 877.8 536.2 878.4 536.2 879 536.3 879.6 536.3 880.2 536.4 880.8 536.4 881.4 536.4 882 536.5 882.6 536.5 883.2 536.6 883.8 536.6 884.4 536.6 884.9 536.7 885.5 536.7 886.1 536.7 886.7 536.8 887.3 536.8 887.9 536.9 888.5 536.9 889.1 536.9 889.7 537 890.3 537 890.9 537 891.5 537.1 892 537.1 892.6 537.2 893.2 537.2 893.8 537.2 894.4 537.3 895 537.3 895.6 537.3 896.2 537.4 896.8 537.4 897.4 537.4 898 537.5 898.5 537.5 899.1 537.5 899.7 537.6 900.3 537.6 900.9 537.6 901.5 537.7 902.1 537.7 902.7 537.7 903.3 537.8 903.9 537.8 904.5 537.8 905.1 537.9 905.6 537.9 906.2 537.9 906.8 538 907.4 538 908 538 908.6 538 909.2 538.1 909.8 538.1 910.4 538.1 911 538.2 911.6 538.2 912.1 538.2 912.7 538.3 913.3 538.3 913.9 538.3 914.5 538.3 915.1 538.4 915.7 538.4 916.3 538.4 916.9 538.5 917.5 538.5 918.1 538.5 918.7 538.5 919.2 538.6 919.8 538.6 920.4 538.6 921 538.6 921.6 538.7 922.2 538.7 922.8 538.7 923.4 538.7 924 538.8 924.6 538.8 925.2 538.8 925.8 538.9 926.3 538.9 926.9 538.9 927.5 538.9 928.1 539 928.7 539 929.3 539 929.9 539 930.5 539 931.1 539.1 931.7 539.1 932.3 539.1 932.8 539.1 933.4 539.2 934 539.2 934.6 539.2 935.2 539.2 935.8 539.3 936.4 539.3 937 539.3 937.6 539.3 938.2 539.3 938.8 539.4 939.4 539.4 939.9 539.4 940.5 539.4 941.1 539.5 941.7 539.5 942.3 539.5 942.9 539.5 943.5 539.5 944.1 539.6 944.7 539.6 945.3 539.6 945.9 539.6 946.4 539.6 947 539.7 947.6 539.7 948.2 539.7 948.8 539.7 949.4 539.7 950 539.8 950.6 539.8 951.2 539.8 951.8 539.8 952.4 539.8 953 539.9 953.5 539.9 954.1 539.9 954.7 539.9 955.3 539.9 955.9 540 956.5 540 957.1 540 957.7 540 958.3 540 958.9 540 959.5 540.1 960.1 540.1 960.6 540.1 961.2 540.1 961.8 540.1 962.4 540.2 963 540.2 963.6 540.2 964.2 540.2 964.8 540.2 965.4 540.2 966 540.3 966.6 540.3 967.1 540.3 967.7 540.3 968.3 540.3 968.9 540.3 969.5 540.3 970.1 540.4 970.7 540.4 971.3 540.4 971.9 540.4 972.5 540.4 973.1 540.4 973.7 540.5 974.2 540.5 974.8 540.5 975.4 540.5 976 540.5 976.6 540.5 977.2 540.5 977.8 540.6 978.4 540.6 979 540.6 979.6 540.6 980.2 540.6 980.7 540.6 981.3 540.6 981.9 540.7 982.5 540.7 983.1 540.7 983.7 540.7 984.3 540.7 984.9 540.7 985.5 540.7 986.1 540.8 986.7 540.8 987.3 540.8 987.8 540.8 988.4 540.8 989 540.8 989.6 540.8 990.2 540.8 990.8 540.9 991.4 540.9 992 540.9 992.6 540.9 993.2 540.9 993.8 540.9 994.4 540.9 994.9 540.9 995.5 541 996.1 541 996.7 541 997.3 541 997.9 541 998.5 541 999.1 541 999.7 541 1000.3 541.1 1000.9 541.1 1001.4 541.1 1002 541.1 1002.6 541.1 1003.2 541.1 1003.8 541.1 1004.4 541.1 1005 541.1 1005.6 541.2 1006.2 541.2 1006.8 541.2 1007.4 541.2 1008 541.2 1008.5 541.2 1009.1 541.2 1009.7 541.2 1010.3 541.2 1010.9 541.3 1011.5 541.3 1012.1 541.3 1012.7 541.3 1013.3 541.3 1013.9 541.3 1014.5 541.3 1015 541.3 1015.6 541.3 1016.2 541.3 1016.8 541.3 1017.4 541.4 1018 541.4 1018.6 541.4 1019.2 541.4 1019.8 541.4 1020.4 541.4 1021 541.4 1021.6 541.4 1022.1 541.4 1022.7 541.4 1023.3 541.5 1023.9 541.5 1024.5 541.5 1025.1 541.5 1025.7 541.5 1026.3 541.5 1026.9 541.5 1027.5 541.5 1028.1 541.5 1028.7 541.5 1029.2 541.5 1029.8 541.5 1030.4 541.6 1031 541.6 1031.6 541.6 1032.2 541.6 1032.8 541.6 1033.4 541.6 1034 541.6 1034.6 541.6 1035.2 541.6 1035.7 541.6 1036.3 541.6 1036.9 541.6 1037.5 541.7 1038.1 541.7 1038.7 541.7 1039.3 541.7 1039.9 541.7 1040.5 541.7 1041.1 541.7 1041.7 541.7 1042.3 541.7 1042.8 541.7 1043.4 541.7 1044 541.7 1044.6 541.7 1045.2 541.7 1045.8 541.8 1046.4 541.8 1047 541.8 1047.6 541.8 1048.2 541.8 1048.8 541.8 1049.3 541.8 1049.9 541.8 1050.5 541.8 1051.1 541.8 1051.7 541.8 1052.3 541.8 1052.9 541.8 1053.5 541.8 1054.1 541.9 1054.7 541.9 1055.3 541.9 1055.9 541.9 1056.4 541.9 1057 541.9 1057.6 541.9 1058.2 541.9 1058.8 541.9 1059.4 541.9 1060 541.9 1060.6 541.9 1061.2 541.9 1061.8 541.9 1062.4 541.9 1063 541.9 1063.5 542 1064.1 542 1064.7 542 1065.3 542 1065.9 542 1066.5 542" stroke="#4a86c8" stroke-width="6.2"/>
</g>
<rect x="771.4" y="326.3" width="295.1" height="235.7" fill="none" stroke="#111" stroke-width="1.1"/>
<text x="771.4" y="581.2" font-size="14.2" stroke="#1a1a1a" stroke-width=".2" text-anchor="middle" fill="#1a1a1a">0</text>
<text x="830.4" y="581.2" font-size="14.2" stroke="#1a1a1a" stroke-width=".2" text-anchor="middle" fill="#1a1a1a">2</text>
<text x="889.4" y="581.2" font-size="14.2" stroke="#1a1a1a" stroke-width=".2" text-anchor="middle" fill="#1a1a1a">4</text>
<text x="948.5" y="581.2" font-size="14.2" stroke="#1a1a1a" stroke-width=".2" text-anchor="middle" fill="#1a1a1a">6</text>
<text x="1007.5" y="581.2" font-size="14.2" stroke="#1a1a1a" stroke-width=".2" text-anchor="middle" fill="#1a1a1a">8</text>
<text x="1066.5" y="581.2" font-size="14.2" stroke="#1a1a1a" stroke-width=".2" text-anchor="middle" fill="#1a1a1a">10</text>
<text x="764.4" y="547.1" font-size="14.2" stroke="#1a1a1a" stroke-width=".2" text-anchor="end" fill="#1a1a1a">0.0</text>
<text x="764.4" y="507.7" font-size="14.2" stroke="#1a1a1a" stroke-width=".2" text-anchor="end" fill="#1a1a1a">0.2</text>
<text x="764.4" y="468.3" font-size="14.2" stroke="#1a1a1a" stroke-width=".2" text-anchor="end" fill="#1a1a1a">0.4</text>
<text x="764.4" y="428.8" font-size="14.2" stroke="#1a1a1a" stroke-width=".2" text-anchor="end" fill="#1a1a1a">0.6</text>
<text x="764.4" y="389.4" font-size="14.2" stroke="#1a1a1a" stroke-width=".2" text-anchor="end" fill="#1a1a1a">0.8</text>
<text x="764.4" y="350" font-size="14.2" stroke="#1a1a1a" stroke-width=".2" text-anchor="end" fill="#1a1a1a">1.0</text>
<path d="M771.4 562L771.4 566.5M830.4 562L830.4 566.5M889.4 562L889.4 566.5M948.5 562L948.5 566.5M1007.5 562L1007.5 566.5M1066.5 562L1066.5 566.5M800.9 562L800.9 564.5M859.9 562L859.9 564.5M919 562L919 564.5M978 562L978 564.5M1037 562L1037 564.5M771.4 542.1L766.9 542.1M771.4 502.7L766.9 502.7M771.4 463.3L766.9 463.3M771.4 423.8L766.9 423.8M771.4 384.4L766.9 384.4M771.4 345L766.9 345M771.4 561.8L768.9 561.8M771.4 522.4L768.9 522.4M771.4 483L768.9 483M771.4 443.6L768.9 443.6M771.4 404.1L768.9 404.1M771.4 364.7L768.9 364.7" stroke="#111" stroke-width="1.1" fill="none"/>
<text x="919" y="605.5" font-size="15.5" font-weight="bold" stroke="#1a1a1a" stroke-width=".35" text-anchor="middle" fill="#1a1a1a">Time (ms)</text>
<text x="737.2" y="444.1" font-size="15.5" font-weight="bold" stroke="#1a1a1a" stroke-width=".35" text-anchor="middle" fill="#1a1a1a" transform="rotate(-90 737.2 444.1)">Normalized TPV</text>
<text x="730.5" y="324" font-size="19" font-weight="bold" stroke="#1a1a1a" stroke-width=".35" text-anchor="start" fill="#1a1a1a">f</text>
<circle cx="965.8" cy="359.7" r="3" fill="#7d9fc0"/>
<text x="984" y="365.3" font-size="15.7" stroke="#1a1a1a" stroke-width=".2" text-anchor="start" fill="#1a1a1a">Control</text>
<circle cx="965.8" cy="378.8" r="3" fill="#e29aa6"/>
<text x="984" y="384.2" font-size="15.7" stroke="#1a1a1a" stroke-width=".2" text-anchor="start" fill="#1a1a1a">PFTEA</text>
<text x="870" y="469.5" font-size="15.6" stroke="#1a1a1a" stroke-width=".2" text-anchor="start" fill="#1a1a1a">2.62 ms</text>
<text x="795" y="495.3" font-size="15.6" stroke="#1a1a1a" stroke-width=".2" text-anchor="start" fill="#1a1a1a">0.19 ms</text>
<clipPath id="cd"><rect x="408.5" y="323.6" width="295.6" height="235.7"/></clipPath>
<path d="M408.5 326.2h0M408.8 326.8h0M409.1 328.3h0M409.4 328.6h0M409.7 330.1h0M409.9 331.1h0M410.2 331.6h0M410.5 332.9h0M410.8 333.2h0M411.1 334.2h0M411.4 334.8h0M411.7 335.8h0M412 336.3h0M412.3 337.5h0M412.6 337.6h0M412.8 339.2h0M413.1 339.6h0M413.4 340.1h0M413.7 341.9h0M414 341.8h0M414.3 342.7h0M414.6 344.3h0M414.9 344.2h0M415.2 344.1h0M415.4 345.1h0M415.7 345.7h0M416 346.7h0M416.3 347.4h0M416.6 346.3h0M416.9 348.3h0M417.2 348.5h0M417.5 350.6h0M417.8 350.4h0M418.1 351h0M418.3 350.9h0M418.6 352.3h0M418.9 353.1h0M419.2 353.7h0M419.5 354.5h0M419.8 356.8h0M420.1 355.5h0M420.4 355.2h0M420.7 356.4h0M421 357.4h0M421.2 357.2h0M421.5 357.7h0M421.8 359.1h0M422.1 358.9h0M422.4 359.6h0M422.7 361.3h0M423 361.9h0M423.3 360.3h0M423.6 362.6h0M423.8 361.3h0M424.1 363.4h0M424.4 363.5h0M424.7 364.7h0M425 365.3h0M425.3 367h0M425.6 366.1h0M425.9 367.3h0M426.2 366.9h0M426.5 367.5h0M426.7 368.7h0M427 369.6h0M427.3 370.1h0M427.6 369.1h0M427.9 370.2h0M428.2 370.8h0M428.5 372h0M428.8 372.1h0M429.1 372.2h0M429.3 374.7h0M429.6 372.9h0M429.9 373.6h0M430.2 373.3h0M430.5 374.1h0M430.8 374.3h0M431.1 378.9h0M431.4 377.3h0M431.7 378.1h0M432 378.7h0M432.2 376.5h0M432.5 377.9h0M432.8 379h0M433.1 379.6h0M433.4 379.2h0M433.7 381.2h0M434 382.6h0M434.3 380.9h0M434.6 381.1h0M434.8 384h0M435.1 382h0M435.4 383.5h0M435.7 383.9h0M436 384.3h0M436.3 384.2h0M436.6 386.2h0M436.9 385h0M437.2 387.8h0M437.5 386.7h0M437.7 387.5h0M438 388.5h0M438.3 388.7h0M438.6 390.7h0M438.9 390.9h0M439.2 389h0M439.5 390.9h0M439.8 392h0M440.1 392h0M440.4 393.8h0M440.6 392.2h0M440.9 394.9h0M441.2 394.8h0M441.5 395.3h0M441.8 392.6h0M442.1 395.5h0M442.4 394.9h0M442.7 395.9h0M443 396.6h0M443.2 398.5h0M443.5 396.1h0M443.8 397h0M444.1 400.4h0M444.4 397.6h0M444.7 399.8h0M445 398.6h0M445.3 401.5h0M445.6 399.2h0M445.9 398.4h0M446.1 400.2h0M446.4 401.2h0M446.7 401.2h0M447 401.8h0M447.3 403.5h0M447.6 403.3h0M447.9 403.8h0M448.2 404.8h0M448.5 402.7h0M448.7 406.9h0M449 404.9h0M449.3 403.9h0M449.6 408.5h0M449.9 406.8h0M450.2 406.5h0M450.5 405.7h0M450.8 407.2h0M451.1 408.9h0M451.4 410h0M451.6 408.7h0M451.9 408.1h0M452.2 411.6h0M452.5 412.2h0M452.8 413.3h0M453.1 410h0M453.4 413.7h0M453.7 413.7h0M454 414h0M454.2 412.9h0M454.5 414.3h0M454.8 412.4h0M455.1 416.6h0M455.4 416.6h0M455.7 415.5h0M456 420.1h0M456.3 415.9h0M456.6 418.1h0M456.9 415.1h0M457.1 415.9h0M457.4 417.1h0M457.7 417.6h0M458 419.8h0M458.3 418h0M458.6 417h0M458.9 420.8h0M459.2 422.4h0M459.5 420.4h0M459.8 422.3h0M460 420.6h0M460.3 418.4h0M460.6 422.8h0M460.9 421h0M461.2 422.4h0M461.5 423.3h0M461.8 427.5h0M462.1 424.5h0M462.4 423.6h0M462.6 423.9h0M462.9 425.1h0M463.2 422.7h0M463.5 426.5h0M463.8 426.4h0M464.1 426.5h0M464.4 429.2h0M464.7 429.6h0M465 426.8h0M465.3 428.3h0M465.5 429.1h0M465.8 427.4h0M466.1 428.9h0M466.4 429.7h0M466.7 429h0M467 431h0M467.3 431.1h0M467.6 429.5h0M467.9 429.7h0M468.1 432.5h0M468.4 430.2h0M468.7 432.6h0M469 432.3h0M469.3 434.1h0M469.6 435.3h0M469.9 435.2h0M470.2 435.4h0M470.5 435.8h0M470.8 432.7h0M471 434.7h0M471.3 433.6h0M471.6 436.6h0M471.9 437.3h0M472.2 434.9h0M472.5 435.8h0M472.8 438.6h0M473.1 440.3h0M473.4 437.2h0M473.6 443.7h0M473.9 437.1h0M474.2 444.2h0M474.5 441.6h0M474.8 441h0M475.1 442.2h0M475.4 440.7h0M475.7 442.7h0M476 443.3h0M476.3 442.3h0M476.5 440.9h0M476.8 445.5h0M477.1 441h0M477.4 439.5h0M477.7 442.8h0M478 442.2h0M478.3 446h0M478.6 444.5h0M478.9 445.2h0M479.2 448.3h0M479.4 448.1h0M479.7 440h0M480 448.6h0M480.3 446.7h0M480.6 447h0M480.9 448.8h0M481.2 449.9h0M481.5 448.4h0M481.8 445.5h0M482 444.2h0M482.3 447.4h0M482.6 447.7h0M482.9 447.2h0M483.2 453.3h0M483.5 449h0M483.8 448.8h0M484.1 445h0M484.4 452.1h0M484.7 449.5h0M484.9 448.4h0M485.2 452.9h0M485.5 455.4h0M485.8 453.9h0M486.1 448.1h0M486.4 449.2h0M486.7 450.1h0M487 455.7h0M487.3 451.3h0M487.5 456.6h0M487.8 449.4h0M488.1 453.1h0M488.4 452.3h0M488.7 455h0M489 455.2h0M489.3 460.7h0M489.6 453.9h0M489.9 458h0M490.2 457h0M490.4 458.7h0M490.7 456.1h0M491 458.5h0M491.3 456.1h0M491.6 456.3h0M491.9 456.3h0M492.2 458.9h0M492.5 459.4h0M492.8 461h0M493.1 462h0M493.3 463.1h0M493.6 460.2h0M493.9 462.3h0M494.2 460.5h0M494.5 461h0M494.8 467.3h0M495.1 457.7h0M495.4 462.9h0M495.7 467.9h0M495.9 459.2h0M496.2 462.9h0M496.5 464.3h0M496.8 464h0M497.1 468.9h0M497.4 457h0M497.7 462.6h0M498 463.4h0M498.3 463.4h0M498.6 464h0M498.8 464h0M499.1 468.9h0M499.4 462.3h0M499.7 465.1h0M500 466.7h0M500.3 467.3h0M500.6 464.6h0M500.9 471.7h0M501.2 461.5h0M501.4 469.9h0M501.7 476.3h0M502 470.9h0M502.3 462.6h0M502.6 472h0M502.9 468.2h0M503.2 469.2h0M503.5 470.2h0M503.8 466.7h0M504.1 466.3h0M504.3 466.7h0M504.6 465.7h0M504.9 470.6h0M505.2 470.2h0M505.5 475h0M505.8 479.3h0M506.1 475.9h0M506.4 472.7h0M506.7 473.9h0M506.9 473.5h0M507.2 474.7h0M507.5 469.6h0M507.8 474.7h0M508.1 475.4h0M508.4 473.9h0M508.7 467h0M509 471.3h0M509.3 471.7h0M509.6 468.9h0M509.8 480.6h0M510.1 467.9h0M510.4 468.9h0M510.7 482.6h0M511 475.4h0M511.3 472.7h0M511.6 472h0M511.9 476.3h0M512.2 468.9h0M512.5 469.6h0M512.7 477.9h0M513 477.1h0M513.3 478.4h0M513.6 482.6h0M513.9 474.7h0M514.2 475.9h0M514.5 481.1h0M514.8 480.6h0M515.1 475.4h0M515.3 480.6h0M515.6 483.1h0M515.9 476.7h0M516.2 481.6h0M516.5 478.8h0M516.8 481.6h0M517.1 478.8h0M517.4 477.9h0M517.7 469.9h0M518 483.6h0M518.2 472.7h0M518.5 480.6h0M518.8 478.8h0M519.1 483.6h0M519.4 489.7h0M519.7 484.1h0M520 483.1h0M520.3 479.7h0M520.6 477.1h0M520.8 490.4h0M521.1 481.6h0M521.4 485.2h0M521.7 491h0M522 481.6h0M522.3 482.6h0M522.6 487.4h0M522.9 482.6h0M523.2 493.6h0M523.5 482.6h0M523.7 481.1h0M524 489.7h0M524.3 489.1h0M524.6 486.8h0M524.9 485.7h0M525.2 486.8h0M525.5 483.6h0M525.8 489.1h0M526.1 478.8h0M526.3 494.3h0M526.6 498h0M526.9 487.4h0M527.2 493.6h0M527.5 489.1h0M527.8 486.2h0M528.1 487.4h0M528.4 484.1h0M528.7 485.7h0M529 489.1h0M529.2 488.5h0M529.5 489.7h0M529.8 500.5h0M530.1 491h0M530.4 493h0M530.7 495h0M531 480.2h0M531.3 491h0M531.6 493.6h0M531.9 493.6h0M532.1 493h0M532.4 483.6h0M532.7 486.8h0M533 493h0M533.3 502.2h0M533.6 490.4h0M533.9 487.9h0M534.2 480.2h0M534.5 491h0M534.7 497.3h0M535 495.8h0M535.3 499.7h0M535.6 485.7h0M535.9 500.5h0M536.2 492.3h0M536.5 495h0M536.8 491.6h0M537.1 495.8h0M537.4 487.4h0M537.6 491.6h0M537.9 487.9h0M538.2 495h0M538.5 493h0M538.8 484.6h0M539.1 501.3h0M539.4 505h0M539.7 494.3h0M540 504h0M540.2 491.6h0M540.5 503.1h0M540.8 495h0M541.1 491h0M541.4 496.5h0M541.7 496.5h0M542 493.6h0M542.3 498.8h0M542.6 493.6h0M542.9 495.8h0M543.1 498h0M543.4 498.8h0M543.7 502.2h0M544 501.3h0M544.3 500.5h0M544.6 489.1h0M544.9 510.2h0M545.2 513.7h0M545.5 506h0M545.7 503.1h0M546 503.1h0M546.3 488.5h0M546.6 493.6h0M546.9 504h0M547.2 504h0M547.5 511.3h0M547.8 497.3h0M548.1 508h0M548.4 505h0M548.6 498h0M548.9 515h0M549.2 497.3h0M549.5 495.8h0M549.8 495h0M550.1 495.8h0M550.4 498.8h0M550.7 507h0M551 501.3h0M551.3 494.3h0M551.5 509.1h0M551.8 498h0M552.1 503.1h0M552.4 501.3h0M552.7 515h0M553 497.3h0M553.3 519.2h0M553.6 507h0M553.9 508h0M554.1 503.1h0M554.4 501.3h0M554.7 499.7h0M555 493h0M555.3 513.7h0M555.6 509.1h0M555.9 504h0M556.2 498.8h0M556.5 507h0M556.8 506h0M557 508h0M557.3 498h0M557.6 515h0M557.9 519.2h0M558.2 498.8h0M558.5 512.5h0M558.8 519.2h0M559.1 519.2h0M559.4 511.3h0M559.6 512.5h0M559.9 510.2h0M560.2 504h0M560.5 511.3h0M560.8 505h0M561.1 508h0M561.4 498h0M561.7 511.3h0M562 516.3h0M562.3 501.3h0M562.5 507h0M562.8 529.4h0M563.1 510.2h0M563.4 510.2h0M563.7 507h0M564 529.4h0M564.3 502.2h0M564.6 510.2h0M564.9 500.5h0M565.1 512.5h0M565.4 507h0M565.7 495.8h0M566 506h0M566.3 512.5h0M566.6 508h0M566.9 508h0M567.2 513.7h0M567.5 512.5h0M567.8 517.7h0M568 513.7h0M568.3 516.3h0M568.6 504h0M568.9 512.5h0M569.2 510.2h0M569.5 511.3h0M569.8 517.7h0M570.1 519.2h0M570.4 510.2h0M570.7 529.4h0M570.9 508h0M571.2 517.7h0M571.5 527.4h0M571.8 512.5h0M572.1 516.3h0M572.4 510.2h0M572.7 510.2h0M573 527.4h0M573.3 507h0M573.5 510.2h0M573.8 511.3h0M574.1 519.2h0M574.4 515h0M574.7 513.7h0M575 519.2h0M575.3 519.2h0M575.6 517.7h0M575.9 523.9h0M576.2 531.4h0M576.4 508h0M576.7 529.4h0M577 527.4h0M577.3 527.4h0M577.6 517.7h0M577.9 522.2h0M578.2 520.7h0M578.5 527.4h0M578.8 519.2h0M579 511.3h0M579.3 529.4h0M579.6 516.3h0M579.9 515h0M580.2 522.2h0M580.5 508h0M580.8 520.7h0M581.1 515h0M581.4 512.5h0M581.7 516.3h0M581.9 520.7h0M582.2 522.2h0M582.5 527.4h0M582.8 520.7h0M583.1 508h0M583.4 517.7h0M583.7 513.7h0M584 515h0M584.3 513.7h0M584.5 517.7h0M584.8 523.9h0M585.1 531.4h0M585.4 523.9h0M585.7 513.7h0M586 529.4h0M586.3 535.9h0M586.6 508h0M586.9 522.2h0M587.2 523.9h0M587.4 522.2h0M587.7 527.4h0M588 513.7h0M588.3 523.9h0M588.6 535.9h0M588.9 525.6h0M589.2 511.3h0M589.5 533.6h0M589.8 533.6h0M590.1 510.2h0M590.3 531.4h0M590.6 520.7h0M590.9 529.4h0M591.2 523.9h0M591.5 523.9h0M591.8 541.1h0M592.1 531.4h0M592.4 533.6h0M592.7 516.3h0M592.9 529.4h0M593.2 525.6h0M593.5 525.6h0M593.8 541.1h0M594.1 525.6h0M594.4 522.2h0M594.7 538.4h0M595 529.4h0M595.3 520.7h0M595.6 531.4h0M595.8 513.7h0M596.1 529.4h0M596.4 529.4h0M596.7 517.7h0M597 529.4h0M597.3 522.2h0M597.6 529.4h0M597.9 522.2h0M598.2 527.4h0M598.4 525.6h0M598.7 533.6h0M599 535.9h0M599.3 529.4h0M599.6 531.4h0M599.9 519.2h0M600.2 529.4h0M600.5 525.6h0M600.8 531.4h0M601.1 517.7h0M601.3 527.4h0M601.6 529.4h0M601.9 527.4h0M602.2 541.1h0M602.5 531.4h0M602.8 523.9h0M603.1 531.4h0M603.4 520.7h0M603.7 547.3h0M603.9 533.6h0M604.2 525.6h0M604.5 535.9h0M604.8 522.2h0M605.1 541.1h0M605.4 531.4h0M605.7 550.8h0M606 531.4h0M606.3 533.6h0M606.6 533.6h0M606.8 529.4h0M607.1 522.2h0M607.4 531.4h0M607.7 522.2h0M608 525.6h0M608.3 525.6h0M608.6 538.4h0M608.9 533.6h0M609.2 527.4h0M609.5 523.9h0M609.7 527.4h0M610 538.4h0M610.3 541.1h0M610.6 535.9h0M610.9 529.4h0M611.2 538.4h0M611.5 525.6h0M611.8 529.4h0M612.1 533.6h0M612.3 531.4h0M612.6 538.4h0M612.9 525.6h0M613.2 541.1h0M613.5 531.4h0M613.8 519.2h0M614.1 533.6h0M614.4 544h0M614.7 525.6h0M615 527.4h0M615.2 541.1h0M615.5 527.4h0M615.8 533.6h0M616.1 541.1h0M616.4 535.9h0M616.7 544h0M617 544h0M617.3 544h0M617.6 544h0M617.8 523.9h0M618.1 550.8h0M618.4 533.6h0M618.7 525.6h0M619 533.6h0M619.3 535.9h0M619.6 547.3h0M619.9 541.1h0M620.2 527.4h0M620.5 544h0M620.7 541.1h0M621 538.4h0M621.3 525.6h0M621.6 535.9h0M621.9 559.3h0M622.2 531.4h0M622.5 538.4h0M622.8 550.8h0M623.1 523.9h0M623.4 544h0M623.6 535.9h0M623.9 517.7h0M624.2 541.1h0M624.5 554.8h0M624.8 531.4h0M625.1 541.1h0M625.4 522.2h0M625.7 520.7h0M626 531.4h0M626.2 533.6h0M626.5 523.9h0M626.8 547.3h0M627.1 544h0M627.4 515h0M627.7 544h0M628 527.4h0M628.3 533.6h0M628.6 531.4h0M628.9 541.1h0M629.1 544h0M629.4 541.1h0M629.7 535.9h0M630 541.1h0M630.3 522.2h0M630.6 529.4h0M630.9 531.4h0M631.2 544h0M631.5 547.3h0M631.7 538.4h0M632 529.4h0M632.3 522.2h0M632.6 544h0M632.9 544h0M633.2 527.4h0M633.5 538.4h0M633.8 541.1h0M634.1 533.6h0M634.4 535.9h0M634.6 535.9h0M634.9 535.9h0M635.2 529.4h0M635.5 535.9h0M635.8 529.4h0M636.1 525.6h0M636.4 544h0M636.7 544h0M637 547.3h0M637.2 554.8h0M637.5 541.1h0M637.8 547.3h0M638.1 531.4h0M638.4 535.9h0M638.7 538.4h0M639 547.3h0M639.3 533.6h0M639.6 520.7h0M639.9 547.3h0M640.1 525.6h0M640.4 538.4h0M640.7 525.6h0M641 535.9h0M641.3 538.4h0M641.6 541.1h0M641.9 547.3h0M642.2 531.4h0M642.5 547.3h0M642.8 529.4h0M643 531.4h0M643.3 547.3h0M643.6 529.4h0M643.9 533.6h0M644.2 544h0M644.5 527.4h0M644.8 527.4h0M645.1 547.3h0M645.4 541.1h0M645.6 533.6h0M645.9 554.8h0M646.2 529.4h0M646.5 544h0M646.8 554.8h0M647.1 550.8h0M647.4 544h0M647.7 541.1h0M648 529.4h0M648.3 529.4h0M648.5 531.4h0M648.8 538.4h0M649.1 533.6h0M649.4 531.4h0M649.7 550.8h0M650 538.4h0M650.3 533.6h0M650.6 550.8h0M650.9 559.3h0M651.1 550.8h0M651.4 525.6h0M651.7 538.4h0M652 535.9h0M652.3 547.3h0M652.6 538.4h0M652.9 544h0M653.2 538.4h0M653.5 533.6h0M653.8 535.9h0M654 538.4h0M654.6 544h0M654.9 533.6h0M655.2 547.3h0M655.5 554.8h0M655.8 544h0M656.1 547.3h0M656.4 554.8h0M656.6 531.4h0M656.9 533.6h0M657.2 535.9h0M657.5 547.3h0M657.8 554.8h0M658.1 559.3h0M658.7 535.9h0M659 538.4h0M659.3 538.4h0M659.5 535.9h0M659.8 550.8h0M660.1 559.3h0M660.4 538.4h0M660.7 547.3h0M661 554.8h0M661.3 538.4h0M661.9 535.9h0M662.2 535.9h0M662.4 559.3h0M662.7 538.4h0M663 538.4h0M663.6 533.6h0M663.9 533.6h0M664.2 541.1h0M664.5 535.9h0M664.8 544h0M665 538.4h0M665.3 538.4h0M665.6 544h0M665.9 544h0M666.2 544h0M666.5 547.3h0M666.8 541.1h0M667.1 550.8h0M667.4 538.4h0M667.7 541.1h0M667.9 535.9h0M668.2 538.4h0M668.5 550.8h0M668.8 531.4h0M669.1 533.6h0M669.4 538.4h0M669.7 559.3h0M670 541.1h0M670.3 535.9h0M670.5 550.8h0M670.8 529.4h0M671.1 533.6h0M671.4 544h0M671.7 550.8h0M672 531.4h0M672.3 535.9h0M672.6 559.3h0M672.9 541.1h0M673.2 554.8h0M673.4 550.8h0M673.7 541.1h0M674 550.8h0M674.3 559.3h0M674.6 547.3h0M674.9 533.6h0M675.2 554.8h0M675.5 538.4h0M675.8 550.8h0M676 550.8h0M676.3 535.9h0M676.6 541.1h0M676.9 541.1h0M677.2 538.4h0M677.5 544h0M678.4 538.4h0M678.7 550.8h0M678.9 533.6h0M679.2 550.8h0M679.5 541.1h0M679.8 541.1h0M680.1 538.4h0M680.7 538.4h0M681 554.8h0M681.3 544h0M681.6 538.4h0M681.8 535.9h0M682.1 547.3h0M682.4 538.4h0M682.7 541.1h0M683 535.9h0M683.3 529.4h0M683.6 538.4h0M683.9 547.3h0M684.7 559.3h0M685 550.8h0M685.3 529.4h0M685.6 541.1h0M685.9 535.9h0M686.5 559.3h0M686.8 531.4h0M687.1 550.8h0M687.3 538.4h0M687.6 529.4h0M687.9 535.9h0M688.2 554.8h0M689.1 541.1h0M689.4 541.1h0M689.7 535.9h0M689.9 535.9h0M690.5 550.8h0M690.8 559.3h0M691.1 538.4h0M691.4 538.4h0M692 550.8h0M692.3 554.8h0M692.6 541.1h0M692.8 559.3h0M693.1 547.3h0M693.4 554.8h0M693.7 550.8h0M694 547.3h0M694.6 547.3h0M694.9 550.8h0M695.2 535.9h0M695.4 554.8h0M695.7 550.8h0M696 550.8h0M696.3 544h0M696.6 554.8h0M696.9 554.8h0M697.2 559.3h0M697.5 544h0M697.8 550.8h0" stroke="#5b9bd5" stroke-width="2.85" stroke-linecap="round" fill="none" clip-path="url(#cd)"/>
<path d="M408.5 326.2h0M408.8 326.4h0M409.1 326.9h0M409.4 327.8h0M409.7 328.6h0M409.9 328.8h0M410.2 330.1h0M410.5 330.3h0M410.8 330.4h0M411.1 330.8h0M411.4 331.7h0M411.7 332.7h0M412 332.9h0M412.3 334.4h0M412.6 334.2h0M412.8 334.3h0M413.1 335.9h0M413.4 335.8h0M413.7 336.8h0M414 337.2h0M414.3 337.5h0M414.6 338.2h0M414.9 340.1h0M415.2 338.7h0M415.4 339.4h0M415.7 340.7h0M416 341.6h0M416.3 342.4h0M416.6 342.5h0M416.9 343.3h0M417.2 343.5h0M417.5 344.1h0M417.8 344.6h0M418.1 345.6h0M418.3 344.8h0M418.6 345.8h0M418.9 346.5h0M419.2 346.8h0M419.5 348.3h0M419.8 349.3h0M420.1 349.7h0M420.4 349.3h0M420.7 350h0M421 351.8h0M421.2 350.3h0M421.5 351.1h0M421.8 351.8h0M422.1 353h0M422.4 353.4h0M422.7 354h0M423 354.8h0M423.3 354.7h0M423.6 357.1h0M423.8 356.5h0M424.1 356.2h0M424.4 357.7h0M424.7 356.6h0M425 358.4h0M425.3 358.5h0M425.6 359.9h0M425.9 359.5h0M426.2 360.6h0M426.5 362.1h0M426.7 361.3h0M427 363.1h0M427.3 363.4h0M427.6 363.5h0M427.9 362.8h0M428.2 364.7h0M428.5 364.2h0M428.8 365.5h0M429.1 366.1h0M429.3 367.1h0M429.6 367.4h0M429.9 367.9h0M430.2 369.4h0M430.5 368.3h0M430.8 369.3h0M431.1 369.4h0M431.4 371.7h0M431.7 369h0M432 369.6h0M432.2 372h0M432.5 370.7h0M432.8 373.4h0M433.1 373.3h0M433.4 372.7h0M433.7 376.4h0M434 374.5h0M434.3 375.3h0M434.6 375.4h0M434.8 376.7h0M435.1 376.8h0M435.4 377.7h0M435.7 377.9h0M436 378.3h0M436.3 378.8h0M436.6 379.7h0M436.9 379.7h0M437.2 380.7h0M437.5 381.2h0M437.7 380.9h0M438 381.4h0M438.3 382.4h0M438.6 382.7h0M438.9 382.2h0M439.2 384.5h0M439.5 383.8h0M439.8 385h0M440.1 386.3h0M440.4 387.3h0M440.6 387.3h0M440.9 387h0M441.2 388.7h0M441.5 386.9h0M441.8 387.2h0M442.1 387.8h0M442.4 388h0M442.7 390.1h0M443 390.7h0M443.2 390.9h0M443.5 389.4h0M443.8 391.2h0M444.1 390.4h0M444.4 392.1h0M444.7 391.8h0M445 392.6h0M445.3 392h0M445.6 393.8h0M445.9 396.5h0M446.1 395h0M446.4 393.2h0M446.7 394.2h0M447 396.4h0M447.3 397.3h0M447.6 398.1h0M447.9 399.7h0M448.2 395.5h0M448.5 397.4h0M448.7 399.6h0M449 398.2h0M449.3 397.8h0M449.6 400.7h0M449.9 399.6h0M450.2 401.2h0M450.5 401.1h0M450.8 401.3h0M451.1 401.3h0M451.4 402.3h0M451.6 402.7h0M451.9 404.4h0M452.2 401.8h0M452.5 403.6h0M452.8 403.3h0M453.1 405.5h0M453.4 405.1h0M453.7 408h0M454 405.5h0M454.2 408.4h0M454.5 406.2h0M454.8 407.3h0M455.1 406.3h0M455.4 409.5h0M455.7 405.1h0M456 408.6h0M456.3 409.4h0M456.6 410.4h0M456.9 411.9h0M457.1 410.4h0M457.4 410h0M457.7 411.6h0M458 411.8h0M458.3 410.3h0M458.6 412.3h0M458.9 414.6h0M459.2 415.2h0M459.5 415h0M459.8 413.8h0M460 412.7h0M460.3 414.1h0M460.6 414.3h0M460.9 412.4h0M461.2 417.7h0M461.5 414.5h0M461.8 415.7h0M462.1 418h0M462.4 419.8h0M462.6 418.5h0M462.9 418.4h0M463.2 416.4h0M463.5 422h0M463.8 418.1h0M464.1 420.2h0M464.4 419.3h0M464.7 419.4h0M465 424.5h0M465.3 421.3h0M465.5 424.5h0M465.8 422.7h0M466.1 419.8h0M466.4 419.7h0M466.7 423.6h0M467 423.5h0M467.3 425.9h0M467.6 423h0M467.9 421.5h0M468.1 427.8h0M468.4 423.1h0M468.7 425.1h0M469 427.6h0M469.3 424.2h0M469.6 424.2h0M469.9 428h0M470.2 430.2h0M470.5 426.6h0M470.8 428.4h0M471 424.3h0M471.3 426.8h0M471.6 427.1h0M471.9 428.7h0M472.2 432h0M472.5 427.1h0M472.8 431.1h0M473.1 428.4h0M473.4 430h0M473.6 429.7h0M473.9 430.6h0M474.2 429.5h0M474.5 429.4h0M474.8 430h0M475.1 433.2h0M475.4 432.4h0M475.7 431.8h0M476 431.1h0M476.3 430.6h0M476.5 435.7h0M476.8 436.6h0M477.1 435.6h0M477.4 432.8h0M477.7 439.6h0M478 435.4h0M478.3 435.4h0M478.6 434.5h0M478.9 434h0M479.2 436.7h0M479.4 435.6h0M479.7 436.4h0M480 438.4h0M480.3 435.3h0M480.6 433.4h0M480.9 433.8h0M481.2 436.9h0M481.5 441.9h0M481.8 439.7h0M482 439.1h0M482.3 437.7h0M482.6 441.3h0M482.9 436.4h0M483.2 434.7h0M483.5 440.4h0M483.8 440.3h0M484.1 440.7h0M484.4 442h0M484.7 441.3h0M484.9 441.5h0M485.2 439.5h0M485.5 442.3h0M485.8 443h0M486.1 440.7h0M486.4 443.3h0M486.7 442.5h0M487 442.7h0M487.3 443.7h0M487.5 445.2h0M487.8 439.1h0M488.1 444.7h0M488.4 443.9h0M488.7 448.1h0M489 447.9h0M489.3 443h0M489.6 445.5h0M489.9 446.9h0M490.2 443.3h0M490.4 446.2h0M490.7 442.8h0M491 447.2h0M491.3 447.9h0M491.6 449.2h0M491.9 445.5h0M492.2 447.7h0M492.5 447h0M492.8 449.5h0M493.1 452.5h0M493.3 449.5h0M493.6 447.4h0M493.9 447.4h0M494.2 449h0M494.5 451.5h0M494.8 446.7h0M495.1 454.1h0M495.4 450.1h0M495.7 451.9h0M495.9 448.4h0M496.2 447h0M496.5 451.3h0M496.8 451.1h0M497.1 451.1h0M497.4 451.1h0M497.7 457h0M498 453.5h0M498.3 451.9h0M498.6 453.5h0M498.8 455.4h0M499.1 450.1h0M499.4 454.6h0M499.7 455.4h0M500 450.1h0M500.3 456.6h0M500.6 456.6h0M500.9 451.3h0M501.2 452.1h0M501.4 458h0M501.7 452.7h0M502 458.5h0M502.3 459.7h0M502.6 456.3h0M502.9 463.1h0M503.2 461h0M503.5 458h0M503.8 454.6h0M504.1 458.5h0M504.3 459.4h0M504.6 455.2h0M504.9 454.8h0M505.2 456.8h0M505.5 461h0M505.8 454.3h0M506.1 455h0M506.4 456.6h0M506.7 457h0M506.9 458.5h0M507.2 463.4h0M507.5 457h0M507.8 459.7h0M508.1 459.4h0M508.4 458.9h0M508.7 460.5h0M509 462.6h0M509.3 464h0M509.6 454.6h0M509.8 460.7h0M510.1 460.5h0M510.4 466h0M510.7 462.6h0M511 460.5h0M511.3 457h0M511.6 459.7h0M511.9 469.6h0M512.2 462.3h0M512.5 464.3h0M512.7 467.6h0M513 466.7h0M513.3 460.7h0M513.6 462h0M513.9 465.1h0M514.2 461.8h0M514.5 460.7h0M514.8 467.6h0M515.1 466h0M515.3 461.2h0M515.6 467.6h0M515.9 464.8h0M516.2 467.6h0M516.5 464.6h0M516.8 469.6h0M517.1 469.2h0M517.4 466.7h0M517.7 464.6h0M518 472.4h0M518.2 468.2h0M518.5 469.9h0M518.8 465.1h0M519.1 469.6h0M519.4 464.6h0M519.7 472h0M520 469.9h0M520.3 469.6h0M520.6 471.7h0M520.8 471.3h0M521.1 466.3h0M521.4 467.9h0M521.7 468.2h0M522 475.4h0M522.3 464.3h0M522.6 469.6h0M522.9 475h0M523.2 467.9h0M523.5 477.1h0M523.7 470.6h0M524 466.7h0M524.3 475.9h0M524.6 475.4h0M524.9 474.7h0M525.2 470.9h0M525.5 468.6h0M525.8 471.3h0M526.1 479.3h0M526.3 468.2h0M526.6 473.5h0M526.9 471.7h0M527.2 475.9h0M527.5 475.9h0M527.8 471.3h0M528.1 476.3h0M528.4 490.4h0M528.7 475.4h0M529 470.6h0M529.2 475.4h0M529.5 482.1h0M529.8 475.9h0M530.1 471.7h0M530.4 472h0M530.7 476.3h0M531 475h0M531.3 480.6h0M531.6 473.5h0M531.9 485.7h0M532.1 475.9h0M532.4 475h0M532.7 474.7h0M533 481.1h0M533.3 479.3h0M533.6 476.3h0M533.9 476.3h0M534.2 478.8h0M534.5 480.2h0M534.7 473.5h0M535 476.7h0M535.3 472.4h0M535.6 478.4h0M535.9 481.1h0M536.2 481.6h0M536.5 474.3h0M536.8 478.4h0M537.1 485.2h0M537.4 481.1h0M537.6 477.9h0M537.9 480.6h0M538.2 483.1h0M538.5 481.1h0M538.8 485.2h0M539.1 485.7h0M539.4 481.1h0M539.7 485.2h0M540 487.9h0M540.2 479.3h0M540.5 482.6h0M540.8 489.7h0M541.1 486.2h0M541.4 485.2h0M541.7 484.6h0M542 478.8h0M542.3 485.2h0M542.6 485.2h0M542.9 479.7h0M543.1 473.5h0M543.4 482.6h0M543.7 489.1h0M544 477.1h0M544.3 478.8h0M544.6 487.4h0M544.9 480.6h0M545.2 477.1h0M545.5 489.1h0M545.7 491.6h0M546 485.2h0M546.3 493h0M546.6 487.9h0M546.9 489.1h0M547.2 483.1h0M547.5 489.1h0M547.8 490.4h0M548.1 495.8h0M548.4 488.5h0M548.6 483.1h0M548.9 489.1h0M549.2 483.6h0M549.5 491.6h0M549.8 484.6h0M550.1 493h0M550.4 487.4h0M550.7 483.1h0M551 489.7h0M551.3 486.8h0M551.5 486.8h0M551.8 493.6h0M552.1 488.5h0M552.4 496.5h0M552.7 491.6h0M553 498.8h0M553.3 486.2h0M553.6 493.6h0M553.9 490.4h0M554.1 492.3h0M554.4 493h0M554.7 485.7h0M555 496.5h0M555.3 489.7h0M555.6 491h0M555.9 493.6h0M556.2 495.8h0M556.5 491.6h0M556.8 491.6h0M557 486.8h0M557.3 493h0M557.6 490.4h0M557.9 482.1h0M558.2 500.5h0M558.5 488.5h0M558.8 492.3h0M559.1 503.1h0M559.4 497.3h0M559.6 501.3h0M559.9 501.3h0M560.2 493h0M560.5 492.3h0M560.8 493.6h0M561.1 484.1h0M561.4 497.3h0M561.7 493.6h0M562 496.5h0M562.3 495.8h0M562.5 497.3h0M562.8 498.8h0M563.1 495.8h0M563.4 493h0M563.7 494.3h0M564 487.9h0M564.3 491.6h0M564.6 498h0M564.9 490.4h0M565.1 497.3h0M565.4 507h0M565.7 505h0M566 499.7h0M566.3 498.8h0M566.6 497.3h0M566.9 506h0M567.2 487.9h0M567.5 488.5h0M567.8 496.5h0M568 508h0M568.3 499.7h0M568.6 502.2h0M568.9 502.2h0M569.2 502.2h0M569.5 499.7h0M569.8 500.5h0M570.1 501.3h0M570.4 496.5h0M570.7 502.2h0M570.9 500.5h0M571.2 510.2h0M571.5 500.5h0M571.8 497.3h0M572.1 497.3h0M572.4 501.3h0M572.7 506h0M573 499.7h0M573.3 505h0M573.5 501.3h0M573.8 502.2h0M574.1 491h0M574.4 507h0M574.7 503.1h0M575 502.2h0M575.3 496.5h0M575.6 495h0M575.9 507h0M576.2 516.3h0M576.4 509.1h0M576.7 504h0M577 509.1h0M577.3 505h0M577.6 504h0M577.9 498.8h0M578.2 506h0M578.5 507h0M578.8 506h0M579 504h0M579.3 497.3h0M579.6 515h0M579.9 509.1h0M580.2 505h0M580.5 512.5h0M580.8 506h0M581.1 505h0M581.4 508h0M581.7 505h0M581.9 499.7h0M582.2 511.3h0M582.5 504h0M582.8 503.1h0M583.1 511.3h0M583.4 502.2h0M583.7 513.7h0M584 512.5h0M584.3 506h0M584.5 515h0M584.8 506h0M585.1 516.3h0M585.4 509.1h0M585.7 511.3h0M586 513.7h0M586.3 515h0M586.6 507h0M586.9 501.3h0M587.2 507h0M587.4 501.3h0M587.7 522.2h0M588 519.2h0M588.3 505h0M588.6 507h0M588.9 513.7h0M589.2 522.2h0M589.5 508h0M589.8 507h0M590.1 507h0M590.3 512.5h0M590.6 509.1h0M590.9 525.6h0M591.2 525.6h0M591.5 517.7h0M591.8 507h0M592.1 502.2h0M592.4 509.1h0M592.7 512.5h0M592.9 515h0M593.2 517.7h0M593.5 508h0M593.8 516.3h0M594.1 508h0M594.4 502.2h0M594.7 515h0M595 517.7h0M595.3 500.5h0M595.6 513.7h0M595.8 523.9h0M596.1 507h0M596.4 519.2h0M596.7 522.2h0M597 506h0M597.3 511.3h0M597.6 507h0M597.9 500.5h0M598.2 523.9h0M598.4 511.3h0M598.7 515h0M599 517.7h0M599.3 520.7h0M599.6 517.7h0M599.9 520.7h0M600.2 510.2h0M600.5 512.5h0M600.8 516.3h0M601.1 507h0M601.3 512.5h0M601.6 516.3h0M601.9 517.7h0M602.2 510.2h0M602.5 509.1h0M602.8 522.2h0M603.1 516.3h0M603.4 520.7h0M603.7 507h0M603.9 525.6h0M604.2 509.1h0M604.5 513.7h0M604.8 512.5h0M605.1 507h0M605.4 522.2h0M605.7 519.2h0M606 510.2h0M606.3 513.7h0M606.6 525.6h0M606.8 506h0M607.1 516.3h0M607.4 515h0M607.7 522.2h0M608 513.7h0M608.3 507h0M608.6 527.4h0M608.9 516.3h0M609.2 517.7h0M609.5 520.7h0M609.7 522.2h0M610 517.7h0M610.3 510.2h0M610.6 523.9h0M610.9 527.4h0M611.2 515h0M611.5 512.5h0M611.8 519.2h0M612.1 522.2h0M612.3 512.5h0M612.6 517.7h0M612.9 523.9h0M613.2 508h0M613.5 527.4h0M613.8 519.2h0M614.1 522.2h0M614.4 511.3h0M614.7 522.2h0M615 522.2h0M615.2 527.4h0M615.5 517.7h0M615.8 512.5h0M616.1 517.7h0M616.4 538.4h0M616.7 519.2h0M617 517.7h0M617.3 515h0M617.6 529.4h0M617.8 523.9h0M618.1 515h0M618.4 516.3h0M618.7 520.7h0M619 509.1h0M619.3 523.9h0M619.6 527.4h0M619.9 520.7h0M620.2 538.4h0M620.5 517.7h0M620.7 523.9h0M621 516.3h0M621.3 511.3h0M621.6 523.9h0M621.9 525.6h0M622.2 527.4h0M622.5 527.4h0M622.8 516.3h0M623.1 527.4h0M623.4 527.4h0M623.6 529.4h0M623.9 512.5h0M624.2 520.7h0M624.5 538.4h0M624.8 513.7h0M625.1 517.7h0M625.4 513.7h0M625.7 522.2h0M626 515h0M626.2 523.9h0M626.5 519.2h0M626.8 520.7h0M627.1 516.3h0M627.4 522.2h0M627.7 523.9h0M628 509.1h0M628.3 509.1h0M628.6 538.4h0M628.9 527.4h0M629.1 523.9h0M629.4 522.2h0M629.7 513.7h0M630 522.2h0M630.3 523.9h0M630.6 525.6h0M630.9 512.5h0M631.2 510.2h0M631.5 523.9h0M631.7 525.6h0M632 533.6h0M632.3 527.4h0M632.6 515h0M632.9 520.7h0M633.2 523.9h0M633.5 522.2h0M633.8 527.4h0M634.1 527.4h0M634.4 531.4h0M634.6 535.9h0M634.9 527.4h0M635.2 513.7h0M635.5 516.3h0M635.8 525.6h0M636.1 513.7h0M636.4 519.2h0M636.7 519.2h0M637 525.6h0M637.2 533.6h0M637.5 516.3h0M637.8 525.6h0M638.1 535.9h0M638.4 525.6h0M638.7 516.3h0M639 529.4h0M639.3 520.7h0M639.6 520.7h0M639.9 535.9h0M640.1 531.4h0M640.4 515h0M640.7 513.7h0M641 541.1h0M641.3 517.7h0M641.6 516.3h0M641.9 517.7h0M642.2 531.4h0M642.5 519.2h0M642.8 522.2h0M643 541.1h0M643.3 516.3h0M643.6 523.9h0M643.9 527.4h0M644.2 531.4h0M644.5 529.4h0M644.8 544h0M645.1 519.2h0M645.4 538.4h0M645.6 535.9h0M645.9 519.2h0M646.2 531.4h0M646.5 538.4h0M646.8 517.7h0M647.1 527.4h0M647.4 516.3h0M647.7 522.2h0M648 522.2h0M648.3 531.4h0M648.5 538.4h0M648.8 538.4h0M649.1 550.8h0M649.4 531.4h0M649.7 523.9h0M650 525.6h0M650.3 523.9h0M650.6 547.3h0M650.9 525.6h0M651.1 535.9h0M651.4 529.4h0M651.7 533.6h0M652 523.9h0M652.3 517.7h0M652.6 533.6h0M652.9 512.5h0M653.2 525.6h0M653.5 531.4h0M653.8 544h0M654 535.9h0M654.3 515h0M654.6 531.4h0M654.9 525.6h0M655.2 535.9h0M655.5 531.4h0M655.8 529.4h0M656.1 512.5h0M656.4 533.6h0M656.6 533.6h0M656.9 538.4h0M657.2 533.6h0M657.5 529.4h0M657.8 554.8h0M658.1 513.7h0M658.4 547.3h0M658.7 533.6h0M659 525.6h0M659.3 538.4h0M659.5 529.4h0M659.8 547.3h0M660.1 527.4h0M660.4 533.6h0M660.7 535.9h0M661 547.3h0M661.3 525.6h0M661.6 525.6h0M661.9 519.2h0M662.2 531.4h0M662.4 541.1h0M662.7 533.6h0M663 516.3h0M663.3 527.4h0M663.6 527.4h0M663.9 541.1h0M664.2 523.9h0M664.5 519.2h0M664.8 533.6h0M665 535.9h0M665.3 531.4h0M665.6 523.9h0M665.9 533.6h0M666.2 516.3h0M666.5 527.4h0M666.8 531.4h0M667.1 535.9h0M667.4 544h0M667.7 533.6h0M667.9 529.4h0M668.2 533.6h0M668.5 525.6h0M668.8 529.4h0M669.1 517.7h0M669.4 523.9h0M669.7 520.7h0M670 531.4h0M670.3 525.6h0M670.5 525.6h0M670.8 527.4h0M671.1 520.7h0M671.4 523.9h0M671.7 527.4h0M672 520.7h0M672.3 531.4h0M672.6 533.6h0M672.9 535.9h0M673.2 516.3h0M673.4 522.2h0M673.7 520.7h0M674 538.4h0M674.3 547.3h0M674.6 525.6h0M674.9 520.7h0M675.2 544h0M675.5 538.4h0M675.8 531.4h0M676 535.9h0M676.3 527.4h0M676.6 535.9h0M676.9 525.6h0M677.2 535.9h0M677.5 538.4h0M677.8 559.3h0M678.1 535.9h0M678.4 541.1h0M678.7 533.6h0M678.9 538.4h0M679.2 533.6h0M679.5 525.6h0M679.8 522.2h0M680.1 535.9h0M680.4 531.4h0M680.7 538.4h0M681 531.4h0M681.3 541.1h0M681.6 516.3h0M681.8 525.6h0M682.1 533.6h0M682.4 541.1h0M682.7 533.6h0M683 538.4h0M683.3 529.4h0M683.6 533.6h0M683.9 523.9h0M684.2 535.9h0M684.4 554.8h0M684.7 533.6h0M685 538.4h0M685.3 533.6h0M685.6 531.4h0M685.9 554.8h0M686.2 512.5h0M686.5 535.9h0M686.8 533.6h0M687.1 535.9h0M687.3 550.8h0M687.6 544h0M687.9 541.1h0M688.2 523.9h0M688.5 544h0M688.8 538.4h0M689.1 517.7h0M689.4 523.9h0M689.7 529.4h0M689.9 535.9h0M690.2 520.7h0M690.5 525.6h0M690.8 538.4h0M691.1 527.4h0M691.4 535.9h0M691.7 519.2h0M692 529.4h0M692.3 525.6h0M692.6 527.4h0M692.8 517.7h0M693.1 529.4h0M693.4 538.4h0M693.7 541.1h0M694 529.4h0M694.3 527.4h0M694.6 535.9h0M694.9 512.5h0M695.2 533.6h0M695.4 511.3h0M695.7 522.2h0M696 538.4h0M696.3 535.9h0M696.6 533.6h0M696.9 533.6h0M697.2 531.4h0M697.5 515h0M697.8 523.9h0" stroke="#f2cf55" stroke-width="2.85" stroke-linecap="round" fill="none" clip-path="url(#cd)"/>
<path d="M408.5 328h0M408.8 326.2h0M409.1 326.4h0M409.4 326.4h0M409.7 327.8h0M409.9 329h0M410.2 328.7h0M410.5 328h0M410.8 329.5h0M411.1 329.8h0M411.4 330.7h0M411.7 330.8h0M412 329.2h0M412.3 329.9h0M412.6 331.7h0M412.8 331.9h0M413.1 331.7h0M413.4 330.9h0M413.7 332.9h0M414 332.2h0M414.3 334.4h0M414.6 333.8h0M414.9 332.4h0M415.2 332.2h0M415.4 334.6h0M415.7 334.5h0M416 333.2h0M416.3 334.6h0M416.6 335.1h0M416.9 334.3h0M417.2 334.9h0M417.5 334.2h0M417.8 334.8h0M418.1 336.5h0M418.3 336.3h0M418.6 336.5h0M418.9 338.1h0M419.2 338h0M419.5 336.1h0M419.8 339.2h0M420.1 336.6h0M420.4 337.6h0M420.7 338.4h0M421 337.9h0M421.2 338.2h0M421.5 337.6h0M421.8 339.7h0M422.1 339.7h0M422.4 340h0M422.7 337.9h0M423 339.2h0M423.3 341.5h0M423.6 341.1h0M423.8 341.8h0M424.1 341.2h0M424.4 341.2h0M424.7 339h0M425 344.1h0M425.3 341h0M425.6 341.9h0M425.9 343.5h0M426.2 343.1h0M426.5 343.8h0M426.7 343.4h0M427 342.5h0M427.3 345.8h0M427.6 342.6h0M427.9 344.9h0M428.2 342.8h0M428.5 344.4h0M428.8 343.6h0M429.1 344.7h0M429.3 344.2h0M429.6 345.8h0M429.9 347.1h0M430.2 345.5h0M430.5 345.6h0M430.8 344.1h0M431.1 349.6h0M431.4 347.5h0M431.7 346.1h0M432 349.4h0M432.2 348.3h0M432.5 345.4h0M432.8 346.5h0M433.1 349.8h0M433.4 347h0M433.7 347.5h0M434 348.3h0M434.3 349.1h0M434.6 349.5h0M434.8 351.2h0M435.1 351h0M435.4 349.5h0M435.7 350.5h0M436 348.4h0M436.3 351.7h0M436.6 354.8h0M436.9 352.1h0M437.2 351.5h0M437.5 351.6h0M437.7 352.2h0M438 353.7h0M438.3 350.7h0M438.6 354h0M438.9 352.2h0M439.2 353.9h0M439.5 355.5h0M439.8 351.9h0M440.1 357.8h0M440.4 355.6h0M440.6 354h0M440.9 355.4h0M441.2 353.9h0M441.5 355.4h0M441.8 356.2h0M442.1 352.5h0M442.4 356.3h0M442.7 356.4h0M443 358.1h0M443.2 357.8h0M443.5 355.9h0M443.8 356.2h0M444.1 357.3h0M444.4 358.6h0M444.7 356.7h0M445 360.7h0M445.3 358.7h0M445.6 358.8h0M445.9 360h0M446.1 358.6h0M446.4 360.2h0M446.7 360.6h0M447 356.6h0M447.3 358.6h0M447.6 358h0M447.9 360.1h0M448.2 358.8h0M448.5 359.4h0M448.7 358.9h0M449 357.2h0M449.3 361.7h0M449.6 361.1h0M449.9 361.8h0M450.2 367.9h0M450.5 364.6h0M450.8 362.4h0M451.1 361.6h0M451.4 363.8h0M451.6 361.1h0M451.9 361.1h0M452.2 364.2h0M452.5 361.2h0M452.8 360.9h0M453.1 363.4h0M453.4 366.1h0M453.7 362h0M454 365.1h0M454.2 365.7h0M454.5 365.1h0M454.8 366.5h0M455.1 363.8h0M455.4 364.5h0M455.7 363.9h0M456 365.3h0M456.3 368h0M456.6 367.1h0M456.9 365.4h0M457.1 368h0M457.4 362h0M457.7 368.1h0M458 369h0M458.3 365.9h0M458.6 366.9h0M458.9 368.6h0M459.2 369.2h0M459.5 368.2h0M459.8 367.6h0M460 367.9h0M460.3 370.2h0M460.6 369h0M460.9 368.4h0M461.2 368.8h0M461.5 376.6h0M461.8 372.5h0M462.1 372.5h0M462.4 371.6h0M462.6 371h0M462.9 369.7h0M463.2 370.5h0M463.5 372.3h0M463.8 372.2h0M464.1 368.8h0M464.4 373.9h0M464.7 372.2h0M465 369.8h0M465.3 372.6h0M465.5 377.8h0M465.8 372.9h0M466.1 374.8h0M466.4 374.4h0M466.7 372.1h0M467 373.6h0M467.3 375.4h0M467.6 373.1h0M467.9 374.3h0M468.1 375.2h0M468.4 375h0M468.7 375.3h0M469 376.8h0M469.3 377.3h0M469.6 376.5h0M469.9 378.8h0M470.2 379.7h0M470.5 374.2h0M470.8 377.9h0M471 377.6h0M471.3 378.1h0M471.6 377.9h0M471.9 378.2h0M472.2 378.3h0M472.5 380.5h0M472.8 376.7h0M473.1 380.7h0M473.4 376.9h0M473.6 384h0M473.9 382.2h0M474.2 377.6h0M474.5 380.5h0M474.8 381.9h0M475.1 379.6h0M475.4 383.2h0M475.7 380.8h0M476 386.5h0M476.3 382.5h0M476.5 383.2h0M476.8 380.5h0M477.1 379.9h0M477.4 384.3h0M477.7 378.5h0M478 384.1h0M478.3 388h0M478.6 389h0M478.9 379.4h0M479.2 383.7h0M479.4 385.3h0M479.7 385.8h0M480 386.9h0M480.3 380.9h0M480.6 384.7h0M480.9 380.1h0M481.2 385.4h0M481.5 391.2h0M481.8 383.2h0M482 386.5h0M482.3 386.4h0M482.6 381.8h0M482.9 386.9h0M483.2 383.3h0M483.5 386.6h0M483.8 388.8h0M484.1 385.6h0M484.4 388.8h0M484.7 384.1h0M484.9 385h0M485.2 387.7h0M485.5 386.4h0M485.8 386.7h0M486.1 389.2h0M486.4 386.2h0M486.7 389.5h0M487 387.3h0M487.3 391.9h0M487.5 389.2h0M487.8 388.5h0M488.1 392.1h0M488.4 391.3h0M488.7 391.8h0M489 388.4h0M489.3 392.7h0M489.6 389.6h0M489.9 386.7h0M490.2 390.3h0M490.4 396.2h0M490.7 391.3h0M491 388.8h0M491.3 392.9h0M491.6 389h0M491.9 390.7h0M492.2 391.4h0M492.5 393.7h0M492.8 394.6h0M493.1 394.1h0M493.3 393.3h0M493.6 392.1h0M493.9 392.6h0M494.2 395h0M494.5 394.1h0M494.8 393.3h0M495.1 399.7h0M495.4 397.3h0M495.7 397.6h0M495.9 395.9h0M496.2 396.3h0M496.5 396.5h0M496.8 398.6h0M497.1 393.9h0M497.4 395.4h0M497.7 401.7h0M498 396.6h0M498.3 400.5h0M498.6 391.6h0M498.8 398.7h0M499.1 398.7h0M499.4 397.4h0M499.7 398.5h0M500 398.2h0M500.3 393.1h0M500.6 397.7h0M500.9 395.8h0M501.2 395.1h0M501.4 402.3h0M501.7 393.5h0M502 397.1h0M502.3 396.4h0M502.6 402.7h0M502.9 397.2h0M503.2 398.8h0M503.5 402.2h0M503.8 392.7h0M504.1 398.8h0M504.3 401.8h0M504.6 400.5h0M504.9 398.1h0M505.2 397.6h0M505.5 399.7h0M505.8 397.6h0M506.1 396.9h0M506.4 406.7h0M506.7 404.2h0M506.9 406h0M507.2 402.5h0M507.5 397.8h0M507.8 400.9h0M508.1 407.2h0M508.4 404.7h0M508.7 400h0M509 405.9h0M509.3 404.5h0M509.6 403.2h0M509.8 411.3h0M510.1 401.9h0M510.4 403.7h0M510.7 403h0M511 409h0M511.3 408.4h0M511.6 407.9h0M511.9 404.9h0M512.2 405.8h0M512.5 405.8h0M512.7 399.6h0M513 401.6h0M513.3 409.6h0M513.6 409.5h0M513.9 400.5h0M514.2 408.6h0M514.5 402.1h0M514.8 401.5h0M515.1 410.1h0M515.3 409.2h0M515.6 408h0M515.9 411.9h0M516.2 412.6h0M516.5 410.4h0M516.8 405.6h0M517.1 411h0M517.4 410.2h0M517.7 411.5h0M518 415.3h0M518.2 403.9h0M518.5 419.7h0M518.8 413h0M519.1 408.2h0M519.4 416.4h0M519.7 408.3h0M520 405.8h0M520.3 414.8h0M520.6 410.5h0M520.8 416.2h0M521.1 409.6h0M521.4 411.5h0M521.7 411.2h0M522 406.4h0M522.3 410.4h0M522.6 406.8h0M522.9 410.1h0M523.2 418.2h0M523.5 412h0M523.7 411.2h0M524 419.8h0M524.3 407.8h0M524.6 413.5h0M524.9 412.4h0M525.2 418.2h0M525.5 414.1h0M525.8 413.2h0M526.1 416.2h0M526.3 414.5h0M526.6 424.6h0M526.9 409.1h0M527.2 420.5h0M527.5 425.5h0M527.8 420.1h0M528.1 419.7h0M528.4 413.6h0M528.7 420.5h0M529 415.1h0M529.2 421.1h0M529.5 406.5h0M529.8 414.4h0M530.1 408h0M530.4 422h0M530.7 414.3h0M531 422.1h0M531.3 415.1h0M531.6 414.8h0M531.9 425.7h0M532.1 423.7h0M532.4 424.1h0M532.7 425.9h0M533 422.3h0M533.3 423.6h0M533.6 426.2h0M533.9 418.8h0M534.2 416.8h0M534.5 426.1h0M534.7 422.5h0M535 419.9h0M535.3 421.3h0M535.6 423.8h0M535.9 416.4h0M536.2 416.4h0M536.5 417.4h0M536.8 422h0M537.1 411.1h0M537.4 412.5h0M537.6 423.5h0M537.9 422.2h0M538.2 415.7h0M538.5 426h0M538.8 420.1h0M539.1 422h0M539.4 426h0M539.7 423.8h0M540 430.9h0M540.2 425.7h0M540.5 433.4h0M540.8 411.3h0M541.1 415.5h0M541.4 417.1h0M541.7 422.1h0M542 418.6h0M542.3 417.3h0M542.6 418.8h0M542.9 419.4h0M543.1 429.3h0M543.4 422.3h0M543.7 427.7h0M544 431.3h0M544.3 431.3h0M544.6 422.9h0M544.9 419.7h0M545.2 433h0M545.5 416.2h0M545.7 417.8h0M546 428.1h0M546.3 428.7h0M546.6 426.7h0M546.9 421h0M547.2 428.8h0M547.5 432.9h0M547.8 425h0M548.1 438.6h0M548.4 426.4h0M548.6 420.9h0M548.9 425.8h0M549.2 423.3h0M549.5 425h0M549.8 423.8h0M550.1 427.3h0M550.4 433h0M550.7 429.7h0M551 429h0M551.3 421.4h0M551.5 419.4h0M551.8 426.6h0M552.1 433.5h0M552.4 433.5h0M552.7 430.5h0M553 421.4h0M553.3 427.7h0M553.6 430.2h0M553.9 434.5h0M554.1 424.9h0M554.4 428.6h0M554.7 430.7h0M555 429.9h0M555.3 420.6h0M555.6 431.8h0M555.9 420.8h0M556.2 423.6h0M556.5 430.9h0M556.8 426h0M557 432.3h0M557.3 436.7h0M557.6 433.4h0M557.9 437.5h0M558.2 428.9h0M558.5 432.1h0M558.8 428.8h0M559.1 427.4h0M559.4 451.9h0M559.6 430.8h0M559.9 444.1h0M560.2 432h0M560.5 438.6h0M560.8 432.6h0M561.1 424.8h0M561.4 444.3h0M561.7 432.5h0M562 434.3h0M562.3 445.9h0M562.5 429.9h0M562.8 434h0M563.1 437.6h0M563.4 439.1h0M563.7 413.9h0M564 437.2h0M564.3 446.4h0M564.6 441h0M564.9 437.5h0M565.1 437.7h0M565.4 435.8h0M565.7 442.3h0M566 432h0M566.3 438.9h0M566.6 444.8h0M566.9 441.3h0M567.2 438.6h0M567.5 430.6h0M567.8 433.1h0M568 438.7h0M568.3 436.4h0M568.6 435.2h0M568.9 423.2h0M569.2 441.1h0M569.5 433.9h0M569.8 432.3h0M570.1 443.7h0M570.4 436.1h0M570.7 436.4h0M570.9 440.8h0M571.2 433.9h0M571.5 430.9h0M571.8 430.3h0M572.1 439.4h0M572.4 436.9h0M572.7 422.2h0M573 446.1h0M573.3 437h0M573.5 432.5h0M573.8 437.8h0M574.1 434.4h0M574.4 437.8h0M574.7 433.9h0M575 430.3h0M575.3 440.9h0M575.6 438.1h0M575.9 440h0M576.2 442.6h0M576.4 440h0M576.7 448h0M577 434.7h0M577.3 428h0M577.6 428.1h0M577.9 431.2h0M578.2 447.4h0M578.5 429.7h0M578.8 445.8h0M579 441.2h0M579.3 427.6h0M579.6 448.8h0M579.9 435h0M580.2 439.2h0M580.5 442.4h0M580.8 447.8h0M581.1 438.5h0M581.4 445h0M581.7 434.1h0M581.9 432.9h0M582.2 452.1h0M582.5 445.8h0M582.8 444.5h0M583.1 451h0M583.4 450.6h0M583.7 441.8h0M584 444.1h0M584.3 455h0M584.5 446.8h0M584.8 439h0M585.1 452h0M585.4 450h0M585.7 431.2h0M586 433.3h0M586.3 455.6h0M586.6 453.7h0M586.9 440.7h0M587.2 452.7h0M587.4 445.7h0M587.7 447.3h0M588 439.7h0M588.3 463.4h0M588.6 461h0M588.9 453.6h0M589.2 436.5h0M589.5 445.6h0M589.8 457.7h0M590.1 440.8h0M590.3 439.2h0M590.6 446.7h0M590.9 447.4h0M591.2 441.5h0M591.5 435.6h0M591.8 443.9h0M592.1 441.1h0M592.4 445.7h0M592.7 448.4h0M592.9 452.7h0M593.2 443.6h0M593.5 448h0M593.8 447.7h0M594.1 438.5h0M594.4 442.1h0M594.7 439.1h0M595 458.6h0M595.3 441.7h0M595.6 451h0M595.8 452.8h0M596.1 453.3h0M596.4 436.8h0M596.7 440h0M597 452.4h0M597.3 455.9h0M597.6 446.7h0M597.9 450.6h0M598.2 433.6h0M598.4 458.9h0M598.7 462h0M599 449.3h0M599.3 447.3h0M599.6 446.3h0M599.9 441.4h0M600.2 430.7h0M600.5 450.5h0M600.8 452.2h0M601.1 462.2h0M601.3 445.9h0M601.6 441h0M601.9 450.2h0M602.2 438.4h0M602.5 448h0M602.8 435.8h0M603.1 445.6h0M603.4 457.2h0M603.7 453.8h0M603.9 461.3h0M604.2 463.1h0M604.5 446.5h0M604.8 441.6h0M605.1 432.6h0M605.4 449.4h0M605.7 451h0M606 458.4h0M606.3 440.9h0M606.6 446h0M606.8 454.3h0M607.1 443.6h0M607.4 444.7h0M607.7 465.3h0M608 443.3h0M608.3 448.5h0M608.6 453.1h0M608.9 453.4h0M609.2 435h0M609.5 436.9h0M609.7 434.4h0M610 459.9h0M610.3 455.8h0M610.6 442.5h0M610.9 460.7h0M611.2 456.5h0M611.5 465.9h0M611.8 434.5h0M612.1 441.4h0M612.3 446.7h0M612.6 448.8h0M612.9 454.4h0M613.2 454.3h0M613.5 445.5h0M613.8 457.1h0M614.1 440.3h0M614.4 455.3h0M614.7 458.7h0M615 439.9h0M615.2 452.5h0M615.5 446.5h0M615.8 455h0M616.1 471.1h0M616.4 446.7h0M616.7 463.4h0M617 442.1h0M617.3 465.3h0M617.6 468.2h0M617.8 449.1h0M618.1 448.1h0M618.4 451h0M618.7 462.7h0M619 444.2h0M619.3 465.1h0M619.6 456.3h0M619.9 459.2h0M620.2 455.6h0M620.5 444.7h0M620.7 458h0M621 447.4h0M621.3 446.3h0M621.6 467.8h0M621.9 463h0M622.2 456.1h0M622.5 458h0M622.8 450h0M623.1 470.2h0M623.4 446.4h0M623.6 446.2h0M623.9 454.5h0M624.2 465.5h0M624.5 453h0M624.8 458h0M625.1 448.1h0M625.4 454h0M625.7 446.7h0M626 457.3h0M626.2 440.3h0M626.5 474.4h0M626.8 462.7h0M627.1 449.1h0M627.4 467.4h0M627.7 446.9h0M628 464.8h0M628.3 452.9h0M628.6 462.2h0M628.9 457.9h0M629.1 452.3h0M629.4 454.9h0M629.7 457.5h0M630 434.2h0M630.3 454h0M630.6 463h0M630.9 445.6h0M631.2 446.7h0M631.5 443h0M631.7 437.8h0M632 463h0M632.3 444.6h0M632.6 443.9h0M632.9 454.5h0M633.2 452.3h0M633.5 482.4h0M633.8 460h0M634.1 438h0M634.4 471.3h0M634.6 459.7h0M634.9 452.1h0M635.2 449.5h0M635.5 439.7h0M635.8 471.4h0M636.1 454.6h0M636.4 447h0M636.7 467.3h0M637 455.5h0M637.2 437.5h0M637.5 442.8h0M637.8 450.2h0M638.1 479.8h0M638.4 456.5h0M638.7 451.7h0M639 458.3h0M639.3 456h0M639.6 426.4h0M639.9 457.5h0M640.1 464.7h0M640.4 453.3h0M640.7 458.6h0M641 458.6h0M641.3 456.5h0M641.6 448.4h0M641.9 453.5h0M642.2 467.2h0M642.5 457.1h0M642.8 451.4h0M643 460.4h0M643.3 445h0M643.6 448.6h0M643.9 465.5h0M644.2 453h0M644.5 437.2h0M644.8 441.2h0M645.1 456.7h0M645.4 447.6h0M645.6 462.7h0M645.9 470.1h0M646.2 451h0M646.5 454h0M646.8 451.4h0M647.1 456.6h0M647.4 453.3h0M647.7 461.4h0M648 452h0M648.3 448.5h0M648.5 457.1h0M648.8 448.8h0M649.1 473.7h0M649.4 464.3h0M649.7 442.8h0M650 439.7h0M650.3 454.4h0M650.6 457.8h0M650.9 469.1h0M651.1 453.3h0M651.4 449.4h0M651.7 471.3h0M652 451.5h0M652.3 452.2h0M652.6 452.7h0M652.9 468h0M653.2 451.8h0M653.5 471.7h0M653.8 442.7h0M654 455.9h0M654.3 468.5h0M654.6 444.1h0M654.9 446h0M655.2 463.6h0M655.5 435.8h0M655.8 467.1h0M656.1 454.3h0M656.4 445.8h0M656.6 479.6h0M656.9 447.7h0M657.2 458.1h0M657.5 457.7h0M657.8 468.1h0M658.1 454.3h0M658.4 468.5h0M658.7 467.1h0M659 462h0M659.3 469.7h0M659.5 442.2h0M659.8 470.8h0M660.1 465.2h0M660.4 460.9h0M660.7 457.8h0M661 450h0M661.3 449.8h0M661.6 460.9h0M661.9 461.7h0M662.2 457.6h0M662.4 449.8h0M662.7 451.1h0M663 463.1h0M663.3 478.4h0M663.6 436.9h0M663.9 448.7h0M664.2 455.5h0M664.5 454.8h0M664.8 463.3h0M665 468.1h0M665.3 461.5h0M665.6 460.4h0M665.9 464.4h0M666.2 472.7h0M666.5 461.4h0M666.8 452.6h0M667.1 463.3h0M667.4 458.1h0M667.7 479h0M667.9 460.5h0M668.2 459.6h0M668.5 470.7h0M668.8 475.7h0M669.1 454.4h0M669.4 466.6h0M669.7 453.7h0M670 462.7h0M670.3 452.3h0M670.5 462h0M670.8 473.7h0M671.1 459.5h0M671.4 461.9h0M671.7 452.1h0M672 463.2h0M672.3 462.6h0M672.6 450.1h0M672.9 447.1h0M673.2 451.2h0M673.4 448.4h0M673.7 454.3h0M674 451.1h0M674.3 450h0M674.6 454.8h0M674.9 458.3h0M675.2 457.5h0M675.5 434.8h0M675.8 458.8h0M676 461.3h0M676.3 462.6h0M676.6 459.3h0M676.9 456.6h0M677.2 470.4h0M677.5 479h0M677.8 456.1h0M678.1 475.3h0M678.4 456.5h0M678.7 457.7h0M678.9 447.5h0M679.2 442.3h0M679.5 455.5h0M679.8 464.8h0M680.1 471.1h0M680.4 467.2h0M680.7 458.8h0M681 480.2h0M681.3 458.5h0M681.6 459.4h0M681.8 452.8h0M682.1 462.7h0M682.4 458.3h0M682.7 466.8h0M683 464.1h0M683.3 477.4h0M683.6 458.2h0M683.9 443.7h0M684.2 457.8h0M684.4 455.7h0M684.7 469.4h0M685 444.9h0M685.3 467.3h0M685.6 451.4h0M685.9 458.4h0M686.2 469.3h0M686.5 449.1h0M686.8 459.4h0M687.1 457.8h0M687.3 455h0M687.6 459.8h0M687.9 463.5h0M688.2 454.9h0M688.5 463.8h0M688.8 459h0M689.1 466.5h0M689.4 474.9h0M689.7 466.6h0M689.9 464.8h0M690.2 459.6h0M690.5 447.7h0M690.8 477h0M691.1 458.5h0M691.4 482.4h0M691.7 470.5h0M692 465h0M692.3 482.9h0M692.6 478.8h0M692.8 458.3h0M693.1 459.1h0M693.4 461h0M693.7 468.1h0M694 437.9h0M694.3 461.6h0M694.6 468.8h0M694.9 442.8h0M695.2 453.7h0M695.4 463.8h0M695.7 447.8h0M696 458.4h0M696.3 453.4h0M696.6 457.6h0M696.9 470.6h0M697.2 450.1h0M697.5 458.4h0M697.8 470.4h0" stroke="#f0858b" stroke-width="2.85" stroke-linecap="round" fill="none" clip-path="url(#cd)"/>
<path d="M408.5 326.2h0M408.8 327.6h0M409.1 327.9h0M409.4 329.7h0M409.7 330.2h0M409.9 330.8h0M410.2 331.7h0M410.5 333.3h0M410.8 334.5h0M411.1 334.4h0M411.4 335.8h0M411.7 336.6h0M412 336.3h0M412.3 338h0M412.6 340.1h0M412.8 339.2h0M413.1 339.7h0M413.4 341.2h0M413.7 342.4h0M414 343.2h0M414.3 343.5h0M414.6 343.7h0M414.9 344.7h0M415.2 345.5h0M415.4 346.1h0M415.7 347.9h0M416 348.3h0M416.3 347.4h0M416.6 349.5h0M416.9 349.9h0M417.2 349.6h0M417.5 350.8h0M417.8 351.7h0M418.1 350.6h0M418.3 352.2h0M418.6 353.4h0M418.9 352.9h0M419.2 353.6h0M419.5 354.7h0M419.8 355.3h0M420.1 355.3h0M420.4 357h0M420.7 357.9h0M421 357.3h0M421.2 358.6h0M421.5 358.2h0M421.8 358.3h0M422.1 358.9h0M422.4 360.3h0M422.7 360.7h0M423 360.9h0M423.3 361.7h0M423.6 360.6h0M423.8 361.7h0M424.1 363.6h0M424.4 361.9h0M424.7 365.2h0M425 365.3h0M425.3 363.9h0M425.6 364.4h0M425.9 365.7h0M426.2 366.6h0M426.5 366.4h0M426.7 366.1h0M427 366.9h0M427.3 367.4h0M427.6 368.1h0M427.9 368.4h0M428.2 368.6h0M428.5 370h0M428.8 369.6h0M429.1 369.6h0M429.3 370.9h0M429.6 370.6h0M429.9 371.9h0M430.2 370h0M430.5 372.9h0M430.8 371.3h0M431.1 372h0M431.4 372.1h0M431.7 374h0M432 375h0M432.2 374.7h0M432.5 375h0M432.8 376.6h0M433.1 375.7h0M433.4 375.8h0M433.7 376.4h0M434 375.4h0M434.3 377.9h0M434.6 376.9h0M434.8 377.3h0M435.1 378.3h0M435.4 378.4h0M435.7 378.2h0M436 379.8h0M436.3 380.5h0M436.6 378.4h0M436.9 379.6h0M437.2 380.8h0M437.5 380.7h0M437.7 381.6h0M438 381.5h0M438.3 382.1h0M438.6 382.8h0M438.9 383h0M439.2 384.8h0M439.5 385.3h0M439.8 385.3h0M440.1 385h0M440.4 385.8h0M440.6 384.8h0M440.9 386.1h0M441.2 385.5h0M441.5 386.7h0M441.8 387.3h0M442.1 385.5h0M442.4 387.5h0M442.7 389.7h0M443 388.5h0M443.2 386.9h0M443.5 387.5h0M443.8 388.5h0M444.1 389.3h0M444.4 388.8h0M444.7 390.7h0M445 389.7h0M445.3 389.4h0M445.6 388.6h0M445.9 392.3h0M446.1 391.7h0M446.4 391.5h0M446.7 392.8h0M447 392.6h0M447.3 393.3h0M447.6 393.7h0M447.9 393.8h0M448.2 394.1h0M448.5 393.8h0M448.7 394.8h0M449 393h0M449.3 395h0M449.6 396.5h0M449.9 398.4h0M450.2 396.6h0M450.5 395.3h0M450.8 397.2h0M451.1 396.5h0M451.4 396.3h0M451.6 397.3h0M451.9 397.2h0M452.2 397.8h0M452.5 397.8h0M452.8 397h0M453.1 398.7h0M453.4 398.9h0M453.7 398.3h0M454 401.1h0M454.2 401.8h0M454.5 401h0M454.8 403h0M455.1 400.3h0M455.4 401.1h0M455.7 401.5h0M456 403.2h0M456.3 399.5h0M456.6 401.9h0M456.9 403.6h0M457.1 401.9h0M457.4 402.9h0M457.7 405.3h0M458 404.6h0M458.3 404.4h0M458.6 404.2h0M458.9 407.5h0M459.2 403h0M459.5 406.8h0M459.8 405.9h0M460 406h0M460.3 407.8h0M460.6 403.6h0M460.9 407.4h0M461.2 408.4h0M461.5 408.9h0M461.8 408.7h0M462.1 409h0M462.4 409.1h0M462.6 407.6h0M462.9 409.1h0M463.2 409.4h0M463.5 409.8h0M463.8 411h0M464.1 410.4h0M464.4 412h0M464.7 414.1h0M465 408.8h0M465.3 412.2h0M465.5 409.6h0M465.8 408.4h0M466.1 411.4h0M466.4 411.6h0M466.7 412.4h0M467 411.8h0M467.3 409h0M467.6 414.7h0M467.9 413.1h0M468.1 412.9h0M468.4 412h0M468.7 413.4h0M469 413h0M469.3 416.5h0M469.6 414.3h0M469.9 411.9h0M470.2 416.8h0M470.5 417.2h0M470.8 417.1h0M471 416.4h0M471.3 415.7h0M471.6 416.4h0M471.9 418.7h0M472.2 415.3h0M472.5 418.5h0M472.8 416.1h0M473.1 418.5h0M473.4 419.5h0M473.6 417h0M473.9 418.1h0M474.2 418.8h0M474.5 421.1h0M474.8 419.8h0M475.1 420.7h0M475.4 418.7h0M475.7 421.2h0M476 421.1h0M476.3 421.1h0M476.5 418h0M476.8 417.2h0M477.1 420.4h0M477.4 420.3h0M477.7 421.1h0M478 421.9h0M478.3 419.3h0M478.6 421.7h0M478.9 427h0M479.2 425.5h0M479.4 421h0M479.7 421.5h0M480 425.3h0M480.3 425.1h0M480.6 423h0M480.9 425.5h0M481.2 423h0M481.5 425.5h0M481.8 424.5h0M482 424.8h0M482.3 425.6h0M482.6 426.5h0M482.9 424.6h0M483.2 422.1h0M483.5 427.7h0M483.8 424.7h0M484.1 427.3h0M484.4 427.3h0M484.7 429.5h0M484.9 424.1h0M485.2 427.8h0M485.5 423.8h0M485.8 430.3h0M486.1 428.1h0M486.4 429.4h0M486.7 427.8h0M487 428.3h0M487.3 428.6h0M487.5 426.4h0M487.8 427.3h0M488.1 430.5h0M488.4 429.9h0M488.7 430.3h0M489 432.2h0M489.3 431.3h0M489.6 432.3h0M489.9 431.5h0M490.2 432.6h0M490.4 430.8h0M490.7 430.6h0M491 435.4h0M491.3 432.4h0M491.6 432.6h0M491.9 431.6h0M492.2 434.1h0M492.5 432h0M492.8 430h0M493.1 433.4h0M493.3 435.1h0M493.6 433.6h0M493.9 432.8h0M494.2 433.3h0M494.5 433.9h0M494.8 434.5h0M495.1 433.8h0M495.4 435.2h0M495.7 438.1h0M495.9 433.6h0M496.2 432.3h0M496.5 438h0M496.8 434h0M497.1 434.3h0M497.4 436.7h0M497.7 439.2h0M498 439.6h0M498.3 434h0M498.6 441.5h0M498.8 437.5h0M499.1 435.1h0M499.4 444h0M499.7 437.3h0M500 440.7h0M500.3 438.5h0M500.6 438h0M500.9 439.6h0M501.2 440.9h0M501.4 441.3h0M501.7 439.6h0M502 439.9h0M502.3 437.8h0M502.6 440.2h0M502.9 442.3h0M503.2 440h0M503.5 440.7h0M503.8 442.2h0M504.1 441.2h0M504.3 440.9h0M504.6 438.4h0M504.9 442h0M505.2 442.8h0M505.5 441.8h0M505.8 442.2h0M506.1 444.4h0M506.4 442.8h0M506.7 444h0M506.9 442.3h0M507.2 441.6h0M507.5 442.2h0M507.8 443.9h0M508.1 441.5h0M508.4 449.5h0M508.7 449h0M509 442.3h0M509.3 442h0M509.6 446.2h0M509.8 446.9h0M510.1 445.8h0M510.4 443.4h0M510.7 446.9h0M511 441h0M511.3 447.6h0M511.6 447h0M511.9 448.6h0M512.2 448.3h0M512.5 447.6h0M512.7 447.4h0M513 448.3h0M513.3 449.9h0M513.6 447h0M513.9 448.1h0M514.2 451.1h0M514.5 446.2h0M514.8 449.4h0M515.1 448.1h0M515.3 450.5h0M515.6 447h0M515.9 448.6h0M516.2 451.9h0M516.5 449.9h0M516.8 448.3h0M517.1 449.5h0M517.4 449.2h0M517.7 449.9h0M518 454.8h0M518.2 449.7h0M518.5 450.3h0M518.8 453.5h0M519.1 457.5h0M519.4 447.2h0M519.7 450.5h0M520 451.7h0M520.3 453.3h0M520.6 451.3h0M520.8 453.5h0M521.1 453.7h0M521.4 454.1h0M521.7 450.3h0M522 451.5h0M522.3 456.1h0M522.6 458.2h0M522.9 453.5h0M523.2 457.3h0M523.5 451.7h0M523.7 454.8h0M524 454.6h0M524.3 454.3h0M524.6 453.1h0M524.9 454.6h0M525.2 459.4h0M525.5 458.7h0M525.8 452.7h0M526.1 455.2h0M526.3 455.9h0M526.6 454.1h0M526.9 457h0M527.2 460.7h0M527.5 455.4h0M527.8 452.9h0M528.1 456.1h0M528.4 457.3h0M528.7 460.2h0M529 456.3h0M529.2 458.2h0M529.5 461.2h0M529.8 458.5h0M530.1 457h0M530.4 456.6h0M530.7 458.5h0M531 458.7h0M531.3 460.7h0M531.6 461.5h0M531.9 463.1h0M532.1 457h0M532.4 458.7h0M532.7 459.7h0M533 462.6h0M533.3 459.7h0M533.6 462.3h0M533.9 461h0M534.2 466.3h0M534.5 460.5h0M534.7 466h0M535 460.2h0M535.3 455.9h0M535.6 466.7h0M535.9 461.8h0M536.2 465.7h0M536.5 464.8h0M536.8 464.8h0M537.1 461.2h0M537.4 460.5h0M537.6 466h0M537.9 462.9h0M538.2 463.1h0M538.5 467h0M538.8 475.4h0M539.1 466.7h0M539.4 466h0M539.7 469.6h0M540 474.7h0M540.2 464.3h0M540.5 464.8h0M540.8 469.6h0M541.1 464h0M541.4 471.7h0M541.7 466.7h0M542 466h0M542.3 458h0M542.6 469.2h0M542.9 470.2h0M543.1 468.9h0M543.4 469.2h0M543.7 471.7h0M544 470.9h0M544.3 470.2h0M544.6 468.2h0M544.9 464.6h0M545.2 472.7h0M545.5 468.9h0M545.7 470.2h0M546 467.3h0M546.3 470.9h0M546.6 466h0M546.9 470.9h0M547.2 469.9h0M547.5 465.1h0M547.8 467.9h0M548.1 467.6h0M548.4 467.3h0M548.6 473.5h0M548.9 467.3h0M549.2 465.4h0M549.5 465.4h0M549.8 464.8h0M550.1 465.1h0M550.4 471.3h0M550.7 470.2h0M551 470.2h0M551.3 475h0M551.5 476.3h0M551.8 470.9h0M552.1 475.9h0M552.4 483.6h0M552.7 469.6h0M553 473.5h0M553.3 477.1h0M553.6 470.2h0M553.9 475.9h0M554.1 480.6h0M554.4 473.5h0M554.7 476.3h0M555 481.1h0M555.3 473.5h0M555.6 472.7h0M555.9 473.1h0M556.2 474.3h0M556.5 479.3h0M556.8 481.1h0M557 469.6h0M557.3 475h0M557.6 475.9h0M557.9 475.4h0M558.2 474.3h0M558.5 475.9h0M558.8 473.5h0M559.1 478.8h0M559.4 475h0M559.6 473.5h0M559.9 475.9h0M560.2 474.3h0M560.5 484.1h0M560.8 481.6h0M561.1 483.6h0M561.4 477.9h0M561.7 475h0M562 480.6h0M562.3 482.1h0M562.5 483.6h0M562.8 481.1h0M563.1 476.3h0M563.4 476.3h0M563.7 480.2h0M564 489.7h0M564.3 479.7h0M564.6 477.9h0M564.9 479.7h0M565.1 486.2h0M565.4 477.1h0M565.7 480.2h0M566 479.7h0M566.3 483.6h0M566.6 481.1h0M566.9 485.2h0M567.2 488.5h0M567.5 481.1h0M567.8 473.9h0M568 485.7h0M568.3 478.8h0M568.6 486.8h0M568.9 489.1h0M569.2 488.5h0M569.5 484.6h0M569.8 479.7h0M570.1 478.8h0M570.4 481.6h0M570.7 483.1h0M570.9 482.6h0M571.2 477.1h0M571.5 485.7h0M571.8 489.1h0M572.1 483.1h0M572.4 481.1h0M572.7 498h0M573 484.1h0M573.3 486.8h0M573.5 482.1h0M573.8 485.2h0M574.1 486.2h0M574.4 487.4h0M574.7 476.3h0M575 486.2h0M575.3 486.8h0M575.6 490.4h0M575.9 487.4h0M576.2 483.6h0M576.4 487.9h0M576.7 491h0M577 495.8h0M577.3 481.6h0M577.6 494.3h0M577.9 484.1h0M578.2 491h0M578.5 478.4h0M578.8 496.5h0M579 494.3h0M579.3 491h0M579.6 485.7h0M579.9 490.4h0M580.2 491.6h0M580.5 492.3h0M580.8 481.1h0M581.1 483.6h0M581.4 504h0M581.7 486.8h0M581.9 493h0M582.2 481.6h0M582.5 493h0M582.8 484.6h0M583.1 490.4h0M583.4 485.7h0M583.7 486.8h0M584 493.6h0M584.3 486.8h0M584.5 487.9h0M584.8 485.7h0M585.1 494.3h0M585.4 499.7h0M585.7 493h0M586 486.2h0M586.3 493h0M586.6 489.7h0M586.9 503.1h0M587.2 497.3h0M587.4 489.1h0M587.7 483.6h0M588 494.3h0M588.3 480.6h0M588.6 491h0M588.9 498.8h0M589.2 489.7h0M589.5 492.3h0M589.8 493h0M590.1 491.6h0M590.3 488.5h0M590.6 491.6h0M590.9 491.6h0M591.2 499.7h0M591.5 496.5h0M591.8 497.3h0M592.1 487.9h0M592.4 486.2h0M592.7 491h0M592.9 491h0M593.2 486.8h0M593.5 497.3h0M593.8 490.4h0M594.1 499.7h0M594.4 491h0M594.7 498h0M595 498h0M595.3 506h0M595.6 494.3h0M595.8 484.1h0M596.1 498h0M596.4 488.5h0M596.7 504h0M597 506h0M597.3 492.3h0M597.6 496.5h0M597.9 495h0M598.2 491.6h0M598.4 493.6h0M598.7 492.3h0M599 490.4h0M599.3 498h0M599.6 507h0M599.9 491.6h0M600.2 496.5h0M600.5 487.9h0M600.8 494.3h0M601.1 502.2h0M601.3 495.8h0M601.6 496.5h0M601.9 499.7h0M602.2 508h0M602.5 499.7h0M602.8 499.7h0M603.1 504h0M603.4 502.2h0M603.7 498h0M603.9 493.6h0M604.2 504h0M604.5 499.7h0M604.8 495.8h0M605.1 493h0M605.4 513.7h0M605.7 499.7h0M606 495h0M606.3 493h0M606.6 503.1h0M606.8 499.7h0M607.1 499.7h0M607.4 503.1h0M607.7 496.5h0M608 498h0M608.3 497.3h0M608.6 508h0M608.9 507h0M609.2 515h0M609.5 511.3h0M609.7 499.7h0M610 500.5h0M610.3 498.8h0M610.6 502.2h0M610.9 508h0M611.2 508h0M611.5 502.2h0M611.8 505h0M612.1 503.1h0M612.3 496.5h0M612.6 503.1h0M612.9 498h0M613.2 503.1h0M613.5 498h0M613.8 516.3h0M614.1 499.7h0M614.4 499.7h0M614.7 512.5h0M615 495.8h0M615.2 505h0M615.5 502.2h0M615.8 501.3h0M616.1 515h0M616.4 503.1h0M616.7 499.7h0M617 506h0M617.3 506h0M617.6 499.7h0M617.8 498.8h0M618.1 501.3h0M618.4 495h0M618.7 498.8h0M619 517.7h0M619.3 512.5h0M619.6 502.2h0M619.9 508h0M620.2 509.1h0M620.5 502.2h0M620.7 498h0M621 508h0M621.3 517.7h0M621.6 500.5h0M621.9 512.5h0M622.2 510.2h0M622.5 515h0M622.8 503.1h0M623.1 505h0M623.4 507h0M623.6 505h0M623.9 505h0M624.2 506h0M624.5 505h0M624.8 507h0M625.1 506h0M625.4 511.3h0M625.7 497.3h0M626 512.5h0M626.2 507h0M626.5 507h0M626.8 505h0M627.1 503.1h0M627.4 512.5h0M627.7 509.1h0M628 507h0M628.3 515h0M628.6 507h0M628.9 509.1h0M629.1 502.2h0M629.4 522.2h0M629.7 508h0M630 495.8h0M630.3 517.7h0M630.6 516.3h0M630.9 509.1h0M631.2 505h0M631.5 506h0M631.7 507h0M632 510.2h0M632.3 517.7h0M632.6 511.3h0M632.9 511.3h0M633.2 513.7h0M633.5 497.3h0M633.8 504h0M634.1 520.7h0M634.4 507h0M634.6 512.5h0M634.9 512.5h0M635.2 516.3h0M635.5 509.1h0M635.8 506h0M636.1 506h0M636.4 506h0M636.7 503.1h0M637 503.1h0M637.2 508h0M637.5 515h0M637.8 502.2h0M638.1 497.3h0M638.4 508h0M638.7 512.5h0M639 517.7h0M639.3 515h0M639.6 522.2h0M639.9 513.7h0M640.1 506h0M640.4 503.1h0M640.7 511.3h0M641 516.3h0M641.3 505h0M641.6 500.5h0M641.9 513.7h0M642.2 504h0M642.5 506h0M642.8 512.5h0M643 512.5h0M643.3 506h0M643.6 520.7h0M643.9 519.2h0M644.2 519.2h0M644.5 506h0M644.8 506h0M645.1 498.8h0M645.4 505h0M645.6 516.3h0M645.9 513.7h0M646.2 516.3h0M646.5 508h0M646.8 511.3h0M647.1 511.3h0M647.4 512.5h0M647.7 510.2h0M648 507h0M648.3 498.8h0M648.5 507h0M648.8 513.7h0M649.1 516.3h0M649.4 515h0M649.7 512.5h0M650 513.7h0M650.3 515h0M650.6 516.3h0M650.9 512.5h0M651.1 520.7h0M651.4 509.1h0M651.7 529.4h0M652 507h0M652.3 505h0M652.6 511.3h0M652.9 516.3h0M653.2 525.6h0M653.5 508h0M653.8 523.9h0M654 516.3h0M654.3 512.5h0M654.6 512.5h0M654.9 503.1h0M655.2 497.3h0M655.5 520.7h0M655.8 515h0M656.1 516.3h0M656.4 517.7h0M656.6 508h0M656.9 523.9h0M657.2 513.7h0M657.5 516.3h0M657.8 516.3h0M658.1 508h0M658.4 510.2h0M658.7 509.1h0M659 522.2h0M659.3 515h0M659.5 513.7h0M659.8 511.3h0M660.1 507h0M660.4 527.4h0M660.7 522.2h0M661 503.1h0M661.3 519.2h0M661.6 511.3h0M661.9 519.2h0M662.2 506h0M662.4 509.1h0M662.7 509.1h0M663 517.7h0M663.3 516.3h0M663.6 520.7h0M663.9 517.7h0M664.2 510.2h0M664.5 509.1h0M664.8 519.2h0M665 523.9h0M665.3 515h0M665.6 512.5h0M665.9 522.2h0M666.2 516.3h0M666.5 529.4h0M666.8 513.7h0M667.1 522.2h0M667.4 523.9h0M667.7 510.2h0M667.9 510.2h0M668.2 520.7h0M668.5 515h0M668.8 516.3h0M669.1 510.2h0M669.4 522.2h0M669.7 523.9h0M670 513.7h0M670.3 520.7h0M670.5 522.2h0M670.8 519.2h0M671.1 516.3h0M671.4 529.4h0M671.7 533.6h0M672 513.7h0M672.3 523.9h0M672.6 513.7h0M672.9 515h0M673.2 504h0M673.4 520.7h0M673.7 517.7h0M674 507h0M674.3 510.2h0M674.6 512.5h0M674.9 508h0M675.2 515h0M675.5 517.7h0M675.8 520.7h0M676 519.2h0M676.3 522.2h0M676.6 525.6h0M676.9 531.4h0M677.2 525.6h0M677.5 522.2h0M677.8 511.3h0M678.1 511.3h0M678.4 520.7h0M678.7 527.4h0M678.9 515h0M679.2 517.7h0M679.5 525.6h0M679.8 519.2h0M680.1 513.7h0M680.4 519.2h0M680.7 522.2h0M681 520.7h0M681.3 533.6h0M681.6 515h0M681.8 499.7h0M682.1 523.9h0M682.4 515h0M682.7 520.7h0M683 517.7h0M683.3 519.2h0M683.6 520.7h0M683.9 522.2h0M684.2 522.2h0M684.4 520.7h0M684.7 516.3h0M685 520.7h0M685.3 527.4h0M685.6 516.3h0M685.9 527.4h0M686.2 519.2h0M686.5 517.7h0M686.8 531.4h0M687.1 515h0M687.3 504h0M687.6 512.5h0M687.9 513.7h0M688.2 533.6h0M688.5 515h0M688.8 506h0M689.1 512.5h0M689.4 523.9h0M689.7 522.2h0M689.9 525.6h0M690.2 516.3h0M690.5 523.9h0M690.8 541.1h0M691.1 517.7h0M691.4 507h0M691.7 519.2h0M692 538.4h0M692.3 525.6h0M692.6 527.4h0M692.8 515h0M693.1 531.4h0M693.4 529.4h0M693.7 508h0M694 525.6h0M694.3 538.4h0M694.6 517.7h0M694.9 520.7h0M695.2 525.6h0M695.4 519.2h0M695.7 519.2h0M696 515h0M696.3 507h0M696.6 509.1h0M696.9 515h0M697.2 522.2h0M697.5 510.2h0M697.8 519.2h0" stroke="#138078" stroke-width="2.85" stroke-linecap="round" fill="none" clip-path="url(#cd)"/>
<rect x="408.5" y="323.6" width="295.6" height="235.7" fill="none" stroke="#111" stroke-width="1.1"/>
<text x="408.5" y="579.5" font-size="14.2" stroke="#1a1a1a" stroke-width=".2" text-anchor="middle" fill="#1a1a1a">0</text>
<text x="450.7" y="579.5" font-size="14.2" stroke="#1a1a1a" stroke-width=".2" text-anchor="middle" fill="#1a1a1a">2</text>
<text x="493" y="579.5" font-size="14.2" stroke="#1a1a1a" stroke-width=".2" text-anchor="middle" fill="#1a1a1a">4</text>
<text x="535.2" y="579.5" font-size="14.2" stroke="#1a1a1a" stroke-width=".2" text-anchor="middle" fill="#1a1a1a">6</text>
<text x="577.4" y="579.5" font-size="14.2" stroke="#1a1a1a" stroke-width=".2" text-anchor="middle" fill="#1a1a1a">8</text>
<text x="619.6" y="579.5" font-size="14.2" stroke="#1a1a1a" stroke-width=".2" text-anchor="middle" fill="#1a1a1a">10</text>
<text x="661.9" y="579.5" font-size="14.2" stroke="#1a1a1a" stroke-width=".2" text-anchor="middle" fill="#1a1a1a">12</text>
<text x="704.1" y="579.5" font-size="14.2" stroke="#1a1a1a" stroke-width=".2" text-anchor="middle" fill="#1a1a1a">14</text>
<text x="401.5" y="331.2" font-size="14.2" stroke="#1a1a1a" stroke-width=".2" text-anchor="end" fill="#1a1a1a">1E+0</text>
<text x="401.5" y="408.9" font-size="14.2" stroke="#1a1a1a" stroke-width=".2" text-anchor="end" fill="#1a1a1a">1E-1</text>
<text x="401.5" y="486.6" font-size="14.2" stroke="#1a1a1a" stroke-width=".2" text-anchor="end" fill="#1a1a1a">1E-2</text>
<text x="401.5" y="564.3" font-size="14.2" stroke="#1a1a1a" stroke-width=".2" text-anchor="end" fill="#1a1a1a">1E-3</text>
<path d="M408.5 559.3L408.5 563.8M450.7 559.3L450.7 563.8M493 559.3L493 563.8M535.2 559.3L535.2 563.8M577.4 559.3L577.4 563.8M619.6 559.3L619.6 563.8M661.9 559.3L661.9 563.8M704.1 559.3L704.1 563.8M429.6 559.3L429.6 561.8M471.8 559.3L471.8 561.8M514.1 559.3L514.1 561.8M556.3 559.3L556.3 561.8M598.5 559.3L598.5 561.8M640.8 559.3L640.8 561.8M683 559.3L683 561.8M408.5 326.2L404 326.2M408.5 403.9L404 403.9M408.5 481.6L404 481.6M408.5 559.3L404 559.3M408.5 380.5L406 380.5M408.5 366.8L406 366.8M408.5 357.1L406 357.1M408.5 349.6L406 349.6M408.5 343.4L406 343.4M408.5 338.2L406 338.2M408.5 333.7L406 333.7M408.5 329.8L406 329.8M408.5 458.2L406 458.2M408.5 444.5L406 444.5M408.5 434.8L406 434.8M408.5 427.3L406 427.3M408.5 421.1L406 421.1M408.5 415.9L406 415.9M408.5 411.4L406 411.4M408.5 407.5L406 407.5M408.5 535.9L406 535.9M408.5 522.2L406 522.2M408.5 512.5L406 512.5M408.5 505L406 505M408.5 498.8L406 498.8M408.5 493.6L406 493.6M408.5 489.1L406 489.1M408.5 485.2L406 485.2" stroke="#111" stroke-width="1.1" fill="none"/>
<text x="556.3" y="604" font-size="15.5" font-weight="bold" stroke="#1a1a1a" stroke-width=".35" text-anchor="middle" fill="#1a1a1a">Time (µs)</text>
<text x="365.5" y="441.4" font-size="15.5" font-weight="bold" stroke="#1a1a1a" stroke-width=".35" text-anchor="middle" fill="#1a1a1a" transform="rotate(-90 365.5 441.4)">Normalized PL (a.u.)</text>
<text x="352" y="323" font-size="19" font-weight="bold" stroke="#1a1a1a" stroke-width=".35" text-anchor="start" fill="#1a1a1a">d</text>
<circle cx="623.2" cy="343.8" r="1.4" fill="#6d8fb3"/>
<text x="641.5" y="348.2" font-size="14.6" stroke="#1a1a1a" stroke-width=".2" text-anchor="start" fill="#1a1a1a">Control</text>
<circle cx="623.2" cy="361.5" r="1.4" fill="#e0d26a"/>
<text x="641.5" y="365.9" font-size="14.6" stroke="#1a1a1a" stroke-width=".2" text-anchor="start" fill="#1a1a1a">TEA</text>
<circle cx="623.2" cy="379.4" r="1.4" fill="#e3a3ab"/>
<text x="641.5" y="383.8" font-size="14.6" stroke="#1a1a1a" stroke-width=".2" text-anchor="start" fill="#1a1a1a">PFTEA</text>
<circle cx="623.2" cy="397.1" r="1.4" fill="#2e6e63"/>
<text x="641.5" y="401.5" font-size="14.6" stroke="#1a1a1a" stroke-width=".2" text-anchor="start" fill="#1a1a1a">PFTBA</text>
<g clip-path="url(#cg)"><g filter="url(#bl)">
<rect x="30.5" y="634.6" width="259.6" height="248.8" fill="#8eaed9"/>
<rect x="36.5" y="640.6" width="6.5" height="6.5" fill="#8aafdb"/>
<rect x="42.7" y="640.6" width="6.5" height="6.5" fill="#8dafd9"/>
<rect x="48.9" y="640.6" width="6.5" height="6.5" fill="#8daed9"/>
<rect x="55.1" y="640.6" width="6.5" height="6.5" fill="#8aafda"/>
<rect x="61.3" y="640.6" width="6.5" height="6.5" fill="#8aafda"/>
<rect x="67.4" y="640.6" width="6.5" height="6.5" fill="#91aed7"/>
<rect x="73.6" y="640.6" width="6.5" height="6.5" fill="#89afdb"/>
<rect x="79.8" y="640.6" width="6.5" height="6.5" fill="#89afdb"/>
<rect x="86" y="640.6" width="6.5" height="6.5" fill="#86b0dd"/>
<rect x="92.2" y="640.6" width="6.5" height="6.5" fill="#8cafda"/>
<rect x="98.4" y="640.6" width="6.5" height="6.5" fill="#89afdb"/>
<rect x="104.6" y="640.6" width="6.5" height="6.5" fill="#91aed7"/>
<rect x="110.8" y="640.6" width="6.5" height="6.5" fill="#89afdb"/>
<rect x="117" y="640.6" width="6.5" height="6.5" fill="#8daed9"/>
<rect x="123.2" y="640.6" width="6.5" height="6.5" fill="#8daed9"/>
<rect x="129.3" y="640.6" width="6.5" height="6.5" fill="#90aed8"/>
<rect x="135.5" y="640.6" width="6.5" height="6.5" fill="#86afdc"/>
<rect x="141.7" y="640.6" width="6.5" height="6.5" fill="#90aed8"/>
<rect x="147.9" y="640.6" width="6.5" height="6.5" fill="#8aafda"/>
<rect x="154.1" y="640.6" width="6.5" height="6.5" fill="#8aafda"/>
<rect x="160.3" y="640.6" width="6.5" height="6.5" fill="#89afdb"/>
<rect x="166.5" y="640.6" width="6.5" height="6.5" fill="#89afdb"/>
<rect x="172.7" y="640.6" width="6.5" height="6.5" fill="#89afdb"/>
<rect x="178.9" y="640.6" width="6.5" height="6.5" fill="#86b0dd"/>
<rect x="185.1" y="640.6" width="6.5" height="6.5" fill="#8cafd9"/>
<rect x="191.2" y="640.6" width="6.5" height="6.5" fill="#8bafda"/>
<rect x="197.4" y="640.6" width="6.5" height="6.5" fill="#87afdc"/>
<rect x="203.6" y="640.6" width="6.5" height="6.5" fill="#8aafda"/>
<rect x="209.8" y="640.6" width="6.5" height="6.5" fill="#92aed7"/>
<rect x="216" y="640.6" width="6.5" height="6.5" fill="#8cafda"/>
<rect x="222.2" y="640.6" width="6.5" height="6.5" fill="#89afdb"/>
<rect x="228.4" y="640.6" width="6.5" height="6.5" fill="#90aed7"/>
<rect x="234.6" y="640.6" width="6.5" height="6.5" fill="#88afdb"/>
<rect x="240.8" y="640.6" width="6.5" height="6.5" fill="#8aafda"/>
<rect x="247" y="640.6" width="6.5" height="6.5" fill="#88afdb"/>
<rect x="253.1" y="640.6" width="6.5" height="6.5" fill="#8aafdb"/>
<rect x="259.3" y="640.6" width="6.5" height="6.5" fill="#8daed9"/>
<rect x="265.5" y="640.6" width="6.5" height="6.5" fill="#8cafd9"/>
<rect x="271.7" y="640.6" width="6.5" height="6.5" fill="#88afdb"/>
<rect x="277.9" y="640.6" width="6.5" height="6.5" fill="#8aafda"/>
<rect x="36.5" y="646.8" width="6.5" height="6.5" fill="#8bafda"/>
<rect x="42.7" y="646.8" width="6.5" height="6.5" fill="#89afdb"/>
<rect x="48.9" y="646.8" width="6.5" height="6.5" fill="#8aafda"/>
<rect x="55.1" y="646.8" width="6.5" height="6.5" fill="#88afdb"/>
<rect x="61.3" y="646.8" width="6.5" height="6.5" fill="#88afdb"/>
<rect x="67.4" y="646.8" width="6.5" height="6.5" fill="#8aafda"/>
<rect x="73.6" y="646.8" width="6.5" height="6.5" fill="#87afdc"/>
<rect x="79.8" y="646.8" width="6.5" height="6.5" fill="#8cafda"/>
<rect x="86" y="646.8" width="6.5" height="6.5" fill="#8aafdb"/>
<rect x="92.2" y="646.8" width="6.5" height="6.5" fill="#87afdc"/>
<rect x="98.4" y="646.8" width="6.5" height="6.5" fill="#88afdb"/>
<rect x="104.6" y="646.8" width="6.5" height="6.5" fill="#89afdb"/>
<rect x="110.8" y="646.8" width="6.5" height="6.5" fill="#8aafda"/>
<rect x="117" y="646.8" width="6.5" height="6.5" fill="#8bafda"/>
<rect x="123.2" y="646.8" width="6.5" height="6.5" fill="#8aafdb"/>
<rect x="129.3" y="646.8" width="6.5" height="6.5" fill="#87afdc"/>
<rect x="135.5" y="646.8" width="6.5" height="6.5" fill="#8faed8"/>
<rect x="141.7" y="646.8" width="6.5" height="6.5" fill="#8daed9"/>
<rect x="147.9" y="646.8" width="6.5" height="6.5" fill="#8bafda"/>
<rect x="154.1" y="646.8" width="6.5" height="6.5" fill="#8eaed9"/>
<rect x="160.3" y="646.8" width="6.5" height="6.5" fill="#8bafda"/>
<rect x="166.5" y="646.8" width="6.5" height="6.5" fill="#8aafdb"/>
<rect x="172.7" y="646.8" width="6.5" height="6.5" fill="#8bafda"/>
<rect x="178.9" y="646.8" width="6.5" height="6.5" fill="#93aed6"/>
<rect x="185.1" y="646.8" width="6.5" height="6.5" fill="#8eaed9"/>
<rect x="191.2" y="646.8" width="6.5" height="6.5" fill="#8eaed9"/>
<rect x="197.4" y="646.8" width="6.5" height="6.5" fill="#89afdb"/>
<rect x="203.6" y="646.8" width="6.5" height="6.5" fill="#8cafd9"/>
<rect x="209.8" y="646.8" width="6.5" height="6.5" fill="#92aed7"/>
<rect x="216" y="646.8" width="6.5" height="6.5" fill="#8cafd9"/>
<rect x="222.2" y="646.8" width="6.5" height="6.5" fill="#8eaed8"/>
<rect x="228.4" y="646.8" width="6.5" height="6.5" fill="#8faed8"/>
<rect x="234.6" y="646.8" width="6.5" height="6.5" fill="#8dafd9"/>
<rect x="240.8" y="646.8" width="6.5" height="6.5" fill="#90aed8"/>
<rect x="247" y="646.8" width="6.5" height="6.5" fill="#8bafda"/>
<rect x="253.1" y="646.8" width="6.5" height="6.5" fill="#8cafd9"/>
<rect x="259.3" y="646.8" width="6.5" height="6.5" fill="#88afdb"/>
<rect x="265.5" y="646.8" width="6.5" height="6.5" fill="#93aed6"/>
<rect x="271.7" y="646.8" width="6.5" height="6.5" fill="#8bafda"/>
<rect x="277.9" y="646.8" width="6.5" height="6.5" fill="#8bafda"/>
<rect x="36.5" y="653.1" width="6.5" height="6.5" fill="#8faed8"/>
<rect x="42.7" y="653.1" width="6.5" height="6.5" fill="#89afdb"/>
<rect x="48.9" y="653.1" width="6.5" height="6.5" fill="#8aafda"/>
<rect x="55.1" y="653.1" width="6.5" height="6.5" fill="#88afdb"/>
<rect x="61.3" y="653.1" width="6.5" height="6.5" fill="#8aafda"/>
<rect x="67.4" y="653.1" width="6.5" height="6.5" fill="#89afdb"/>
<rect x="73.6" y="653.1" width="6.5" height="6.5" fill="#8cafd9"/>
<rect x="79.8" y="653.1" width="6.5" height="6.5" fill="#8aafda"/>
<rect x="86" y="653.1" width="6.5" height="6.5" fill="#88afdb"/>
<rect x="92.2" y="653.1" width="6.5" height="6.5" fill="#89afdb"/>
<rect x="98.4" y="653.1" width="6.5" height="6.5" fill="#8aafda"/>
<rect x="104.6" y="653.1" width="6.5" height="6.5" fill="#89afdb"/>
<rect x="110.8" y="653.1" width="6.5" height="6.5" fill="#8eaed9"/>
<rect x="117" y="653.1" width="6.5" height="6.5" fill="#8dafd9"/>
<rect x="123.2" y="653.1" width="6.5" height="6.5" fill="#8bafda"/>
<rect x="129.3" y="653.1" width="6.5" height="6.5" fill="#86afdc"/>
<rect x="135.5" y="653.1" width="6.5" height="6.5" fill="#8cafd9"/>
<rect x="141.7" y="653.1" width="6.5" height="6.5" fill="#86afdc"/>
<rect x="147.9" y="653.1" width="6.5" height="6.5" fill="#8bafda"/>
<rect x="154.1" y="653.1" width="6.5" height="6.5" fill="#8bafda"/>
<rect x="160.3" y="653.1" width="6.5" height="6.5" fill="#88afdb"/>
<rect x="166.5" y="653.1" width="6.5" height="6.5" fill="#88afdb"/>
<rect x="172.7" y="653.1" width="6.5" height="6.5" fill="#88afdb"/>
<rect x="178.9" y="653.1" width="6.5" height="6.5" fill="#91aed7"/>
<rect x="185.1" y="653.1" width="6.5" height="6.5" fill="#8aafdb"/>
<rect x="191.2" y="653.1" width="6.5" height="6.5" fill="#8aafda"/>
<rect x="197.4" y="653.1" width="6.5" height="6.5" fill="#8eaed9"/>
<rect x="203.6" y="653.1" width="6.5" height="6.5" fill="#8cafd9"/>
<rect x="209.8" y="653.1" width="6.5" height="6.5" fill="#8eaed8"/>
<rect x="216" y="653.1" width="6.5" height="6.5" fill="#86afdc"/>
<rect x="222.2" y="653.1" width="6.5" height="6.5" fill="#87afdc"/>
<rect x="228.4" y="653.1" width="6.5" height="6.5" fill="#96add5"/>
<rect x="234.6" y="653.1" width="6.5" height="6.5" fill="#8aafda"/>
<rect x="240.8" y="653.1" width="6.5" height="6.5" fill="#8aafdb"/>
<rect x="247" y="653.1" width="6.5" height="6.5" fill="#8bafda"/>
<rect x="253.1" y="653.1" width="6.5" height="6.5" fill="#8eaed9"/>
<rect x="259.3" y="653.1" width="6.5" height="6.5" fill="#87afdc"/>
<rect x="265.5" y="653.1" width="6.5" height="6.5" fill="#8cafda"/>
<rect x="271.7" y="653.1" width="6.5" height="6.5" fill="#8bafda"/>
<rect x="277.9" y="653.1" width="6.5" height="6.5" fill="#8daed9"/>
<rect x="36.5" y="659.3" width="6.5" height="6.5" fill="#8bafda"/>
<rect x="42.7" y="659.3" width="6.5" height="6.5" fill="#88afdb"/>
<rect x="48.9" y="659.3" width="6.5" height="6.5" fill="#87afdc"/>
<rect x="55.1" y="659.3" width="6.5" height="6.5" fill="#86b0dd"/>
<rect x="61.3" y="659.3" width="6.5" height="6.5" fill="#8eaed9"/>
<rect x="67.4" y="659.3" width="6.5" height="6.5" fill="#86b0dd"/>
<rect x="73.6" y="659.3" width="6.5" height="6.5" fill="#89afdb"/>
<rect x="79.8" y="659.3" width="6.5" height="6.5" fill="#90aed8"/>
<rect x="86" y="659.3" width="6.5" height="6.5" fill="#89afdb"/>
<rect x="92.2" y="659.3" width="6.5" height="6.5" fill="#8cafd9"/>
<rect x="98.4" y="659.3" width="6.5" height="6.5" fill="#8aafdb"/>
<rect x="104.6" y="659.3" width="6.5" height="6.5" fill="#8dafd9"/>
<rect x="110.8" y="659.3" width="6.5" height="6.5" fill="#8bafda"/>
<rect x="117" y="659.3" width="6.5" height="6.5" fill="#89afdb"/>
<rect x="123.2" y="659.3" width="6.5" height="6.5" fill="#8faed8"/>
<rect x="129.3" y="659.3" width="6.5" height="6.5" fill="#8aafdb"/>
<rect x="135.5" y="659.3" width="6.5" height="6.5" fill="#86afdc"/>
<rect x="141.7" y="659.3" width="6.5" height="6.5" fill="#89afdb"/>
<rect x="147.9" y="659.3" width="6.5" height="6.5" fill="#8cafd9"/>
<rect x="154.1" y="659.3" width="6.5" height="6.5" fill="#87afdc"/>
<rect x="160.3" y="659.3" width="6.5" height="6.5" fill="#8daed9"/>
<rect x="166.5" y="659.3" width="6.5" height="6.5" fill="#8daed9"/>
<rect x="172.7" y="659.3" width="6.5" height="6.5" fill="#92aed7"/>
<rect x="178.9" y="659.3" width="6.5" height="6.5" fill="#88afdb"/>
<rect x="185.1" y="659.3" width="6.5" height="6.5" fill="#8daed9"/>
<rect x="191.2" y="659.3" width="6.5" height="6.5" fill="#86b0dd"/>
<rect x="197.4" y="659.3" width="6.5" height="6.5" fill="#89afdb"/>
<rect x="203.6" y="659.3" width="6.5" height="6.5" fill="#8bafda"/>
<rect x="209.8" y="659.3" width="6.5" height="6.5" fill="#8cafd9"/>
<rect x="216" y="659.3" width="6.5" height="6.5" fill="#8aafda"/>
<rect x="222.2" y="659.3" width="6.5" height="6.5" fill="#8aafda"/>
<rect x="228.4" y="659.3" width="6.5" height="6.5" fill="#89afdb"/>
<rect x="234.6" y="659.3" width="6.5" height="6.5" fill="#89afdb"/>
<rect x="240.8" y="659.3" width="6.5" height="6.5" fill="#8cafda"/>
<rect x="247" y="659.3" width="6.5" height="6.5" fill="#8dafd9"/>
<rect x="253.1" y="659.3" width="6.5" height="6.5" fill="#8daed9"/>
<rect x="259.3" y="659.3" width="6.5" height="6.5" fill="#8eaed8"/>
<rect x="265.5" y="659.3" width="6.5" height="6.5" fill="#8faed8"/>
<rect x="271.7" y="659.3" width="6.5" height="6.5" fill="#86b0dd"/>
<rect x="277.9" y="659.3" width="6.5" height="6.5" fill="#89afdb"/>
<rect x="36.5" y="665.5" width="6.5" height="6.5" fill="#8aafdb"/>
<rect x="42.7" y="665.5" width="6.5" height="6.5" fill="#88afdb"/>
<rect x="48.9" y="665.5" width="6.5" height="6.5" fill="#8eaed9"/>
<rect x="55.1" y="665.5" width="6.5" height="6.5" fill="#8daed9"/>
<rect x="61.3" y="665.5" width="6.5" height="6.5" fill="#8aafda"/>
<rect x="67.4" y="665.5" width="6.5" height="6.5" fill="#8bafda"/>
<rect x="73.6" y="665.5" width="6.5" height="6.5" fill="#8faed8"/>
<rect x="79.8" y="665.5" width="6.5" height="6.5" fill="#89afdb"/>
<rect x="86" y="665.5" width="6.5" height="6.5" fill="#89afdb"/>
<rect x="92.2" y="665.5" width="6.5" height="6.5" fill="#8daed9"/>
<rect x="98.4" y="665.5" width="6.5" height="6.5" fill="#8cafd9"/>
<rect x="104.6" y="665.5" width="6.5" height="6.5" fill="#8faed8"/>
<rect x="110.8" y="665.5" width="6.5" height="6.5" fill="#8cafda"/>
<rect x="117" y="665.5" width="6.5" height="6.5" fill="#8daed9"/>
<rect x="123.2" y="665.5" width="6.5" height="6.5" fill="#89afdb"/>
<rect x="129.3" y="665.5" width="6.5" height="6.5" fill="#87afdc"/>
<rect x="135.5" y="665.5" width="6.5" height="6.5" fill="#8bafda"/>
<rect x="141.7" y="665.5" width="6.5" height="6.5" fill="#86b0dd"/>
<rect x="147.9" y="665.5" width="6.5" height="6.5" fill="#8cafd9"/>
<rect x="154.1" y="665.5" width="6.5" height="6.5" fill="#8eaed9"/>
<rect x="160.3" y="665.5" width="6.5" height="6.5" fill="#8bafda"/>
<rect x="166.5" y="665.5" width="6.5" height="6.5" fill="#8aafda"/>
<rect x="172.7" y="665.5" width="6.5" height="6.5" fill="#8eaed8"/>
<rect x="178.9" y="665.5" width="6.5" height="6.5" fill="#8bafda"/>
<rect x="185.1" y="665.5" width="6.5" height="6.5" fill="#8eaed8"/>
<rect x="191.2" y="665.5" width="6.5" height="6.5" fill="#92aed7"/>
<rect x="197.4" y="665.5" width="6.5" height="6.5" fill="#8daed9"/>
<rect x="203.6" y="665.5" width="6.5" height="6.5" fill="#8eaed9"/>
<rect x="209.8" y="665.5" width="6.5" height="6.5" fill="#8cafd9"/>
<rect x="216" y="665.5" width="6.5" height="6.5" fill="#8cafda"/>
<rect x="222.2" y="665.5" width="6.5" height="6.5" fill="#8cafda"/>
<rect x="228.4" y="665.5" width="6.5" height="6.5" fill="#8bafda"/>
<rect x="234.6" y="665.5" width="6.5" height="6.5" fill="#8eaed8"/>
<rect x="240.8" y="665.5" width="6.5" height="6.5" fill="#86b0dd"/>
<rect x="247" y="665.5" width="6.5" height="6.5" fill="#8aafda"/>
<rect x="253.1" y="665.5" width="6.5" height="6.5" fill="#8daed9"/>
<rect x="259.3" y="665.5" width="6.5" height="6.5" fill="#88afdb"/>
<rect x="265.5" y="665.5" width="6.5" height="6.5" fill="#8bafda"/>
<rect x="271.7" y="665.5" width="6.5" height="6.5" fill="#89afdb"/>
<rect x="277.9" y="665.5" width="6.5" height="6.5" fill="#8cafd9"/>
<rect x="36.5" y="671.8" width="6.5" height="6.5" fill="#8daed9"/>
<rect x="42.7" y="671.8" width="6.5" height="6.5" fill="#8faed8"/>
<rect x="48.9" y="671.8" width="6.5" height="6.5" fill="#8cafd9"/>
<rect x="55.1" y="671.8" width="6.5" height="6.5" fill="#88afdb"/>
<rect x="61.3" y="671.8" width="6.5" height="6.5" fill="#8bafda"/>
<rect x="67.4" y="671.8" width="6.5" height="6.5" fill="#8cafd9"/>
<rect x="73.6" y="671.8" width="6.5" height="6.5" fill="#8faed8"/>
<rect x="79.8" y="671.8" width="6.5" height="6.5" fill="#86b0dd"/>
<rect x="86" y="671.8" width="6.5" height="6.5" fill="#8cafda"/>
<rect x="92.2" y="671.8" width="6.5" height="6.5" fill="#86b0dd"/>
<rect x="98.4" y="671.8" width="6.5" height="6.5" fill="#8daed9"/>
<rect x="104.6" y="671.8" width="6.5" height="6.5" fill="#8cafd9"/>
<rect x="110.8" y="671.8" width="6.5" height="6.5" fill="#8cafd9"/>
<rect x="117" y="671.8" width="6.5" height="6.5" fill="#8daed9"/>
<rect x="123.2" y="671.8" width="6.5" height="6.5" fill="#8cafd9"/>
<rect x="129.3" y="671.8" width="6.5" height="6.5" fill="#88afdb"/>
<rect x="135.5" y="671.8" width="6.5" height="6.5" fill="#8cafda"/>
<rect x="141.7" y="671.8" width="6.5" height="6.5" fill="#8faed8"/>
<rect x="147.9" y="671.8" width="6.5" height="6.5" fill="#8aafda"/>
<rect x="154.1" y="671.8" width="6.5" height="6.5" fill="#8bafda"/>
<rect x="160.3" y="671.8" width="6.5" height="6.5" fill="#87afdc"/>
<rect x="166.5" y="671.8" width="6.5" height="6.5" fill="#8faed8"/>
<rect x="172.7" y="671.8" width="6.5" height="6.5" fill="#89afdb"/>
<rect x="178.9" y="671.8" width="6.5" height="6.5" fill="#88afdb"/>
<rect x="185.1" y="671.8" width="6.5" height="6.5" fill="#89afdb"/>
<rect x="191.2" y="671.8" width="6.5" height="6.5" fill="#88afdb"/>
<rect x="197.4" y="671.8" width="6.5" height="6.5" fill="#8aafda"/>
<rect x="203.6" y="671.8" width="6.5" height="6.5" fill="#8faed8"/>
<rect x="209.8" y="671.8" width="6.5" height="6.5" fill="#8eaed9"/>
<rect x="216" y="671.8" width="6.5" height="6.5" fill="#90aed8"/>
<rect x="222.2" y="671.8" width="6.5" height="6.5" fill="#90aed8"/>
<rect x="228.4" y="671.8" width="6.5" height="6.5" fill="#88afdb"/>
<rect x="234.6" y="671.8" width="6.5" height="6.5" fill="#8dafd9"/>
<rect x="240.8" y="671.8" width="6.5" height="6.5" fill="#90aed8"/>
<rect x="247" y="671.8" width="6.5" height="6.5" fill="#93aed6"/>
<rect x="253.1" y="671.8" width="6.5" height="6.5" fill="#86afdc"/>
<rect x="259.3" y="671.8" width="6.5" height="6.5" fill="#86afdc"/>
<rect x="265.5" y="671.8" width="6.5" height="6.5" fill="#8dafd9"/>
<rect x="271.7" y="671.8" width="6.5" height="6.5" fill="#8aafda"/>
<rect x="277.9" y="671.8" width="6.5" height="6.5" fill="#88afdb"/>
<rect x="36.5" y="678" width="6.5" height="6.5" fill="#8cafda"/>
<rect x="42.7" y="678" width="6.5" height="6.5" fill="#88afdb"/>
<rect x="48.9" y="678" width="6.5" height="6.5" fill="#86b0dd"/>
<rect x="55.1" y="678" width="6.5" height="6.5" fill="#8aafda"/>
<rect x="61.3" y="678" width="6.5" height="6.5" fill="#8bafda"/>
<rect x="67.4" y="678" width="6.5" height="6.5" fill="#8cafd9"/>
<rect x="73.6" y="678" width="6.5" height="6.5" fill="#8eaed9"/>
<rect x="79.8" y="678" width="6.5" height="6.5" fill="#8bafda"/>
<rect x="86" y="678" width="6.5" height="6.5" fill="#8aafdb"/>
<rect x="92.2" y="678" width="6.5" height="6.5" fill="#88afdb"/>
<rect x="98.4" y="678" width="6.5" height="6.5" fill="#86b0dd"/>
<rect x="104.6" y="678" width="6.5" height="6.5" fill="#89afdb"/>
<rect x="110.8" y="678" width="6.5" height="6.5" fill="#8eaed9"/>
<rect x="117" y="678" width="6.5" height="6.5" fill="#8daed9"/>
<rect x="123.2" y="678" width="6.5" height="6.5" fill="#91aed7"/>
<rect x="129.3" y="678" width="6.5" height="6.5" fill="#8aafda"/>
<rect x="135.5" y="678" width="6.5" height="6.5" fill="#86b0dd"/>
<rect x="141.7" y="678" width="6.5" height="6.5" fill="#8daed9"/>
<rect x="147.9" y="678" width="6.5" height="6.5" fill="#8eaed8"/>
<rect x="154.1" y="678" width="6.5" height="6.5" fill="#87afdc"/>
<rect x="160.3" y="678" width="6.5" height="6.5" fill="#86b0dd"/>
<rect x="166.5" y="678" width="6.5" height="6.5" fill="#8bafda"/>
<rect x="172.7" y="678" width="6.5" height="6.5" fill="#8daed9"/>
<rect x="178.9" y="678" width="6.5" height="6.5" fill="#87afdc"/>
<rect x="185.1" y="678" width="6.5" height="6.5" fill="#8aafda"/>
<rect x="191.2" y="678" width="6.5" height="6.5" fill="#88afdb"/>
<rect x="197.4" y="678" width="6.5" height="6.5" fill="#87afdc"/>
<rect x="203.6" y="678" width="6.5" height="6.5" fill="#87afdc"/>
<rect x="209.8" y="678" width="6.5" height="6.5" fill="#8bafda"/>
<rect x="216" y="678" width="6.5" height="6.5" fill="#8aafda"/>
<rect x="222.2" y="678" width="6.5" height="6.5" fill="#89afdb"/>
<rect x="228.4" y="678" width="6.5" height="6.5" fill="#86b0dd"/>
<rect x="234.6" y="678" width="6.5" height="6.5" fill="#91aed7"/>
<rect x="240.8" y="678" width="6.5" height="6.5" fill="#88afdb"/>
<rect x="247" y="678" width="6.5" height="6.5" fill="#8bafda"/>
<rect x="253.1" y="678" width="6.5" height="6.5" fill="#87afdc"/>
<rect x="259.3" y="678" width="6.5" height="6.5" fill="#8cafd9"/>
<rect x="265.5" y="678" width="6.5" height="6.5" fill="#86afdc"/>
<rect x="271.7" y="678" width="6.5" height="6.5" fill="#8bafda"/>
<rect x="277.9" y="678" width="6.5" height="6.5" fill="#8bafda"/>
<rect x="36.5" y="684.2" width="6.5" height="6.5" fill="#8daed9"/>
<rect x="42.7" y="684.2" width="6.5" height="6.5" fill="#87afdc"/>
<rect x="48.9" y="684.2" width="6.5" height="6.5" fill="#88afdb"/>
<rect x="55.1" y="684.2" width="6.5" height="6.5" fill="#8aafdb"/>
<rect x="61.3" y="684.2" width="6.5" height="6.5" fill="#91aed7"/>
<rect x="67.4" y="684.2" width="6.5" height="6.5" fill="#86b0dd"/>
<rect x="73.6" y="684.2" width="6.5" height="6.5" fill="#8bafda"/>
<rect x="79.8" y="684.2" width="6.5" height="6.5" fill="#88afdb"/>
<rect x="86" y="684.2" width="6.5" height="6.5" fill="#8cafda"/>
<rect x="92.2" y="684.2" width="6.5" height="6.5" fill="#8dafd9"/>
<rect x="98.4" y="684.2" width="6.5" height="6.5" fill="#8bafda"/>
<rect x="104.6" y="684.2" width="6.5" height="6.5" fill="#8bafda"/>
<rect x="110.8" y="684.2" width="6.5" height="6.5" fill="#8cafda"/>
<rect x="117" y="684.2" width="6.5" height="6.5" fill="#89afdb"/>
<rect x="123.2" y="684.2" width="6.5" height="6.5" fill="#8aafda"/>
<rect x="129.3" y="684.2" width="6.5" height="6.5" fill="#86b0dd"/>
<rect x="135.5" y="684.2" width="6.5" height="6.5" fill="#8aafdb"/>
<rect x="141.7" y="684.2" width="6.5" height="6.5" fill="#88afdb"/>
<rect x="147.9" y="684.2" width="6.5" height="6.5" fill="#8aafda"/>
<rect x="154.1" y="684.2" width="6.5" height="6.5" fill="#8daed9"/>
<rect x="160.3" y="684.2" width="6.5" height="6.5" fill="#8cafd9"/>
<rect x="166.5" y="684.2" width="6.5" height="6.5" fill="#8cafd9"/>
<rect x="172.7" y="684.2" width="6.5" height="6.5" fill="#8faed8"/>
<rect x="178.9" y="684.2" width="6.5" height="6.5" fill="#86b0dd"/>
<rect x="185.1" y="684.2" width="6.5" height="6.5" fill="#8cafd9"/>
<rect x="191.2" y="684.2" width="6.5" height="6.5" fill="#8bafda"/>
<rect x="197.4" y="684.2" width="6.5" height="6.5" fill="#8bafda"/>
<rect x="203.6" y="684.2" width="6.5" height="6.5" fill="#87afdc"/>
<rect x="209.8" y="684.2" width="6.5" height="6.5" fill="#8daed9"/>
<rect x="216" y="684.2" width="6.5" height="6.5" fill="#8faed8"/>
<rect x="222.2" y="684.2" width="6.5" height="6.5" fill="#8faed8"/>
<rect x="228.4" y="684.2" width="6.5" height="6.5" fill="#8bafda"/>
<rect x="234.6" y="684.2" width="6.5" height="6.5" fill="#8daed9"/>
<rect x="240.8" y="684.2" width="6.5" height="6.5" fill="#8eaed8"/>
<rect x="247" y="684.2" width="6.5" height="6.5" fill="#91aed7"/>
<rect x="253.1" y="684.2" width="6.5" height="6.5" fill="#8faed8"/>
<rect x="259.3" y="684.2" width="6.5" height="6.5" fill="#8cafda"/>
<rect x="265.5" y="684.2" width="6.5" height="6.5" fill="#8cafda"/>
<rect x="271.7" y="684.2" width="6.5" height="6.5" fill="#8cafd9"/>
<rect x="277.9" y="684.2" width="6.5" height="6.5" fill="#8cafd9"/>
<rect x="36.5" y="690.5" width="6.5" height="6.5" fill="#89afdb"/>
<rect x="42.7" y="690.5" width="6.5" height="6.5" fill="#8daed9"/>
<rect x="48.9" y="690.5" width="6.5" height="6.5" fill="#88afdb"/>
<rect x="55.1" y="690.5" width="6.5" height="6.5" fill="#88afdb"/>
<rect x="61.3" y="690.5" width="6.5" height="6.5" fill="#8cafda"/>
<rect x="67.4" y="690.5" width="6.5" height="6.5" fill="#88afdb"/>
<rect x="73.6" y="690.5" width="6.5" height="6.5" fill="#8aafdb"/>
<rect x="79.8" y="690.5" width="6.5" height="6.5" fill="#86b0dd"/>
<rect x="86" y="690.5" width="6.5" height="6.5" fill="#8daed9"/>
<rect x="92.2" y="690.5" width="6.5" height="6.5" fill="#8bafda"/>
<rect x="98.4" y="690.5" width="6.5" height="6.5" fill="#8aafda"/>
<rect x="104.6" y="690.5" width="6.5" height="6.5" fill="#8cafd9"/>
<rect x="110.8" y="690.5" width="6.5" height="6.5" fill="#8bafda"/>
<rect x="117" y="690.5" width="6.5" height="6.5" fill="#88afdb"/>
<rect x="123.2" y="690.5" width="6.5" height="6.5" fill="#91aed7"/>
<rect x="129.3" y="690.5" width="6.5" height="6.5" fill="#89afdb"/>
<rect x="135.5" y="690.5" width="6.5" height="6.5" fill="#8eaed8"/>
<rect x="141.7" y="690.5" width="6.5" height="6.5" fill="#91aed7"/>
<rect x="147.9" y="690.5" width="6.5" height="6.5" fill="#89afdb"/>
<rect x="154.1" y="690.5" width="6.5" height="6.5" fill="#8bafda"/>
<rect x="160.3" y="690.5" width="6.5" height="6.5" fill="#88afdb"/>
<rect x="166.5" y="690.5" width="6.5" height="6.5" fill="#8eaed8"/>
<rect x="172.7" y="690.5" width="6.5" height="6.5" fill="#8aafda"/>
<rect x="178.9" y="690.5" width="6.5" height="6.5" fill="#87afdc"/>
<rect x="185.1" y="690.5" width="6.5" height="6.5" fill="#8faed8"/>
<rect x="191.2" y="690.5" width="6.5" height="6.5" fill="#8eaed8"/>
<rect x="197.4" y="690.5" width="6.5" height="6.5" fill="#88afdb"/>
<rect x="203.6" y="690.5" width="6.5" height="6.5" fill="#8faed8"/>
<rect x="209.8" y="690.5" width="6.5" height="6.5" fill="#8cafd9"/>
<rect x="216" y="690.5" width="6.5" height="6.5" fill="#94add6"/>
<rect x="222.2" y="690.5" width="6.5" height="6.5" fill="#91aed7"/>
<rect x="228.4" y="690.5" width="6.5" height="6.5" fill="#89afdb"/>
<rect x="234.6" y="690.5" width="6.5" height="6.5" fill="#8aafda"/>
<rect x="240.8" y="690.5" width="6.5" height="6.5" fill="#88afdb"/>
<rect x="247" y="690.5" width="6.5" height="6.5" fill="#8cafda"/>
<rect x="253.1" y="690.5" width="6.5" height="6.5" fill="#8cafda"/>
<rect x="259.3" y="690.5" width="6.5" height="6.5" fill="#8eaed9"/>
<rect x="265.5" y="690.5" width="6.5" height="6.5" fill="#8cafda"/>
<rect x="271.7" y="690.5" width="6.5" height="6.5" fill="#87afdc"/>
<rect x="277.9" y="690.5" width="6.5" height="6.5" fill="#89afdb"/>
<rect x="36.5" y="696.7" width="6.5" height="6.5" fill="#8faed8"/>
<rect x="42.7" y="696.7" width="6.5" height="6.5" fill="#8eaed8"/>
<rect x="48.9" y="696.7" width="6.5" height="6.5" fill="#8aafda"/>
<rect x="55.1" y="696.7" width="6.5" height="6.5" fill="#8aafda"/>
<rect x="61.3" y="696.7" width="6.5" height="6.5" fill="#8aafda"/>
<rect x="67.4" y="696.7" width="6.5" height="6.5" fill="#8aafda"/>
<rect x="73.6" y="696.7" width="6.5" height="6.5" fill="#86b0dd"/>
<rect x="79.8" y="696.7" width="6.5" height="6.5" fill="#8daed9"/>
<rect x="86" y="696.7" width="6.5" height="6.5" fill="#88afdb"/>
<rect x="92.2" y="696.7" width="6.5" height="6.5" fill="#8bafda"/>
<rect x="98.4" y="696.7" width="6.5" height="6.5" fill="#86b0dd"/>
<rect x="104.6" y="696.7" width="6.5" height="6.5" fill="#8bafda"/>
<rect x="110.8" y="696.7" width="6.5" height="6.5" fill="#8faed8"/>
<rect x="117" y="696.7" width="6.5" height="6.5" fill="#86b0dd"/>
<rect x="123.2" y="696.7" width="6.5" height="6.5" fill="#90aed8"/>
<rect x="129.3" y="696.7" width="6.5" height="6.5" fill="#8cafd9"/>
<rect x="135.5" y="696.7" width="6.5" height="6.5" fill="#88afdb"/>
<rect x="141.7" y="696.7" width="6.5" height="6.5" fill="#86afdc"/>
<rect x="147.9" y="696.7" width="6.5" height="6.5" fill="#8faed8"/>
<rect x="154.1" y="696.7" width="6.5" height="6.5" fill="#8cafd9"/>
<rect x="160.3" y="696.7" width="6.5" height="6.5" fill="#8daed9"/>
<rect x="166.5" y="696.7" width="6.5" height="6.5" fill="#8aafda"/>
<rect x="172.7" y="696.7" width="6.5" height="6.5" fill="#88afdb"/>
<rect x="178.9" y="696.7" width="6.5" height="6.5" fill="#8eaed8"/>
<rect x="185.1" y="696.7" width="6.5" height="6.5" fill="#88afdb"/>
<rect x="191.2" y="696.7" width="6.5" height="6.5" fill="#8eaed8"/>
<rect x="197.4" y="696.7" width="6.5" height="6.5" fill="#86afdc"/>
<rect x="203.6" y="696.7" width="6.5" height="6.5" fill="#88afdb"/>
<rect x="209.8" y="696.7" width="6.5" height="6.5" fill="#86afdc"/>
<rect x="216" y="696.7" width="6.5" height="6.5" fill="#90aed8"/>
<rect x="222.2" y="696.7" width="6.5" height="6.5" fill="#86afdc"/>
<rect x="228.4" y="696.7" width="6.5" height="6.5" fill="#88afdb"/>
<rect x="234.6" y="696.7" width="6.5" height="6.5" fill="#8eaed9"/>
<rect x="240.8" y="696.7" width="6.5" height="6.5" fill="#8cafd9"/>
<rect x="247" y="696.7" width="6.5" height="6.5" fill="#93aed6"/>
<rect x="253.1" y="696.7" width="6.5" height="6.5" fill="#92aed7"/>
<rect x="259.3" y="696.7" width="6.5" height="6.5" fill="#8eaed9"/>
<rect x="265.5" y="696.7" width="6.5" height="6.5" fill="#8eaed9"/>
<rect x="271.7" y="696.7" width="6.5" height="6.5" fill="#86afdc"/>
<rect x="277.9" y="696.7" width="6.5" height="6.5" fill="#89afdb"/>
<rect x="36.5" y="702.9" width="6.5" height="6.5" fill="#89afdb"/>
<rect x="42.7" y="702.9" width="6.5" height="6.5" fill="#8aafdb"/>
<rect x="48.9" y="702.9" width="6.5" height="6.5" fill="#86afdc"/>
<rect x="55.1" y="702.9" width="6.5" height="6.5" fill="#87afdc"/>
<rect x="61.3" y="702.9" width="6.5" height="6.5" fill="#88afdc"/>
<rect x="67.4" y="702.9" width="6.5" height="6.5" fill="#8eaed8"/>
<rect x="73.6" y="702.9" width="6.5" height="6.5" fill="#8cafd9"/>
<rect x="79.8" y="702.9" width="6.5" height="6.5" fill="#89afdb"/>
<rect x="86" y="702.9" width="6.5" height="6.5" fill="#8aafdb"/>
<rect x="92.2" y="702.9" width="6.5" height="6.5" fill="#8cafda"/>
<rect x="98.4" y="702.9" width="6.5" height="6.5" fill="#88afdb"/>
<rect x="104.6" y="702.9" width="6.5" height="6.5" fill="#8aafda"/>
<rect x="110.8" y="702.9" width="6.5" height="6.5" fill="#86b0dd"/>
<rect x="117" y="702.9" width="6.5" height="6.5" fill="#8daed9"/>
<rect x="123.2" y="702.9" width="6.5" height="6.5" fill="#8eaed8"/>
<rect x="129.3" y="702.9" width="6.5" height="6.5" fill="#8cafd9"/>
<rect x="135.5" y="702.9" width="6.5" height="6.5" fill="#8dafd9"/>
<rect x="141.7" y="702.9" width="6.5" height="6.5" fill="#8cafd9"/>
<rect x="147.9" y="702.9" width="6.5" height="6.5" fill="#92aed7"/>
<rect x="154.1" y="702.9" width="6.5" height="6.5" fill="#8cafd9"/>
<rect x="160.3" y="702.9" width="6.5" height="6.5" fill="#87afdc"/>
<rect x="166.5" y="702.9" width="6.5" height="6.5" fill="#88afdb"/>
<rect x="172.7" y="702.9" width="6.5" height="6.5" fill="#8eaed9"/>
<rect x="178.9" y="702.9" width="6.5" height="6.5" fill="#8faed8"/>
<rect x="185.1" y="702.9" width="6.5" height="6.5" fill="#8eaed9"/>
<rect x="191.2" y="702.9" width="6.5" height="6.5" fill="#8eaed8"/>
<rect x="197.4" y="702.9" width="6.5" height="6.5" fill="#8cafd9"/>
<rect x="203.6" y="702.9" width="6.5" height="6.5" fill="#87afdc"/>
<rect x="209.8" y="702.9" width="6.5" height="6.5" fill="#89afdb"/>
<rect x="216" y="702.9" width="6.5" height="6.5" fill="#86b0dd"/>
<rect x="222.2" y="702.9" width="6.5" height="6.5" fill="#8aafda"/>
<rect x="228.4" y="702.9" width="6.5" height="6.5" fill="#87afdc"/>
<rect x="234.6" y="702.9" width="6.5" height="6.5" fill="#8cafd9"/>
<rect x="240.8" y="702.9" width="6.5" height="6.5" fill="#8bafda"/>
<rect x="247" y="702.9" width="6.5" height="6.5" fill="#86b0dd"/>
<rect x="253.1" y="702.9" width="6.5" height="6.5" fill="#8eaed8"/>
<rect x="259.3" y="702.9" width="6.5" height="6.5" fill="#8eaed8"/>
<rect x="265.5" y="702.9" width="6.5" height="6.5" fill="#87afdc"/>
<rect x="271.7" y="702.9" width="6.5" height="6.5" fill="#8cafd9"/>
<rect x="277.9" y="702.9" width="6.5" height="6.5" fill="#8eaed8"/>
<rect x="36.5" y="709.1" width="6.5" height="6.5" fill="#89afdb"/>
<rect x="42.7" y="709.1" width="6.5" height="6.5" fill="#8daed9"/>
<rect x="48.9" y="709.1" width="6.5" height="6.5" fill="#8bafda"/>
<rect x="55.1" y="709.1" width="6.5" height="6.5" fill="#8eaed9"/>
<rect x="61.3" y="709.1" width="6.5" height="6.5" fill="#8bafda"/>
<rect x="67.4" y="709.1" width="6.5" height="6.5" fill="#8aafda"/>
<rect x="73.6" y="709.1" width="6.5" height="6.5" fill="#8cafd9"/>
<rect x="79.8" y="709.1" width="6.5" height="6.5" fill="#8daed9"/>
<rect x="86" y="709.1" width="6.5" height="6.5" fill="#8bafda"/>
<rect x="92.2" y="709.1" width="6.5" height="6.5" fill="#89afdb"/>
<rect x="98.4" y="709.1" width="6.5" height="6.5" fill="#88afdb"/>
<rect x="104.6" y="709.1" width="6.5" height="6.5" fill="#8aafdb"/>
<rect x="110.8" y="709.1" width="6.5" height="6.5" fill="#89afdb"/>
<rect x="117" y="709.1" width="6.5" height="6.5" fill="#8cafda"/>
<rect x="123.2" y="709.1" width="6.5" height="6.5" fill="#8cafda"/>
<rect x="129.3" y="709.1" width="6.5" height="6.5" fill="#8bafda"/>
<rect x="135.5" y="709.1" width="6.5" height="6.5" fill="#8bafda"/>
<rect x="141.7" y="709.1" width="6.5" height="6.5" fill="#8cafda"/>
<rect x="147.9" y="709.1" width="6.5" height="6.5" fill="#90aed7"/>
<rect x="154.1" y="709.1" width="6.5" height="6.5" fill="#8faed8"/>
<rect x="160.3" y="709.1" width="6.5" height="6.5" fill="#89afdb"/>
<rect x="166.5" y="709.1" width="6.5" height="6.5" fill="#8daed9"/>
<rect x="172.7" y="709.1" width="6.5" height="6.5" fill="#8aafda"/>
<rect x="178.9" y="709.1" width="6.5" height="6.5" fill="#8bafda"/>
<rect x="185.1" y="709.1" width="6.5" height="6.5" fill="#8bafda"/>
<rect x="191.2" y="709.1" width="6.5" height="6.5" fill="#89afdb"/>
<rect x="197.4" y="709.1" width="6.5" height="6.5" fill="#87afdc"/>
<rect x="203.6" y="709.1" width="6.5" height="6.5" fill="#86b0dd"/>
<rect x="209.8" y="709.1" width="6.5" height="6.5" fill="#8cafd9"/>
<rect x="216" y="709.1" width="6.5" height="6.5" fill="#90aed8"/>
<rect x="222.2" y="709.1" width="6.5" height="6.5" fill="#89afdb"/>
<rect x="228.4" y="709.1" width="6.5" height="6.5" fill="#8daed9"/>
<rect x="234.6" y="709.1" width="6.5" height="6.5" fill="#8aafda"/>
<rect x="240.8" y="709.1" width="6.5" height="6.5" fill="#8dafd9"/>
<rect x="247" y="709.1" width="6.5" height="6.5" fill="#89afdb"/>
<rect x="253.1" y="709.1" width="6.5" height="6.5" fill="#8bafda"/>
<rect x="259.3" y="709.1" width="6.5" height="6.5" fill="#8bafda"/>
<rect x="265.5" y="709.1" width="6.5" height="6.5" fill="#86b0dd"/>
<rect x="271.7" y="709.1" width="6.5" height="6.5" fill="#8dafd9"/>
<rect x="277.9" y="709.1" width="6.5" height="6.5" fill="#8bafda"/>
<rect x="36.5" y="715.4" width="6.5" height="6.5" fill="#86b0dd"/>
<rect x="42.7" y="715.4" width="6.5" height="6.5" fill="#8cafd9"/>
<rect x="48.9" y="715.4" width="6.5" height="6.5" fill="#8aafda"/>
<rect x="55.1" y="715.4" width="6.5" height="6.5" fill="#8bafda"/>
<rect x="61.3" y="715.4" width="6.5" height="6.5" fill="#8cafda"/>
<rect x="67.4" y="715.4" width="6.5" height="6.5" fill="#89afdb"/>
<rect x="73.6" y="715.4" width="6.5" height="6.5" fill="#87afdc"/>
<rect x="79.8" y="715.4" width="6.5" height="6.5" fill="#89afdb"/>
<rect x="86" y="715.4" width="6.5" height="6.5" fill="#89afdb"/>
<rect x="92.2" y="715.4" width="6.5" height="6.5" fill="#92aed6"/>
<rect x="98.4" y="715.4" width="6.5" height="6.5" fill="#91aed7"/>
<rect x="104.6" y="715.4" width="6.5" height="6.5" fill="#89afdb"/>
<rect x="110.8" y="715.4" width="6.5" height="6.5" fill="#8aafdb"/>
<rect x="117" y="715.4" width="6.5" height="6.5" fill="#8cafd9"/>
<rect x="123.2" y="715.4" width="6.5" height="6.5" fill="#8daed9"/>
<rect x="129.3" y="715.4" width="6.5" height="6.5" fill="#89afdb"/>
<rect x="135.5" y="715.4" width="6.5" height="6.5" fill="#88afdb"/>
<rect x="141.7" y="715.4" width="6.5" height="6.5" fill="#92aed7"/>
<rect x="147.9" y="715.4" width="6.5" height="6.5" fill="#8faed8"/>
<rect x="154.1" y="715.4" width="6.5" height="6.5" fill="#86afdc"/>
<rect x="160.3" y="715.4" width="6.5" height="6.5" fill="#86afdc"/>
<rect x="166.5" y="715.4" width="6.5" height="6.5" fill="#89afdb"/>
<rect x="172.7" y="715.4" width="6.5" height="6.5" fill="#8cafd9"/>
<rect x="178.9" y="715.4" width="6.5" height="6.5" fill="#8daed9"/>
<rect x="185.1" y="715.4" width="6.5" height="6.5" fill="#8bafda"/>
<rect x="191.2" y="715.4" width="6.5" height="6.5" fill="#86afdc"/>
<rect x="197.4" y="715.4" width="6.5" height="6.5" fill="#8cafd9"/>
<rect x="203.6" y="715.4" width="6.5" height="6.5" fill="#8eaed9"/>
<rect x="209.8" y="715.4" width="6.5" height="6.5" fill="#8cafda"/>
<rect x="216" y="715.4" width="6.5" height="6.5" fill="#8aafda"/>
<rect x="222.2" y="715.4" width="6.5" height="6.5" fill="#8eaed9"/>
<rect x="228.4" y="715.4" width="6.5" height="6.5" fill="#8cafda"/>
<rect x="234.6" y="715.4" width="6.5" height="6.5" fill="#88afdb"/>
<rect x="240.8" y="715.4" width="6.5" height="6.5" fill="#8cafd9"/>
<rect x="247" y="715.4" width="6.5" height="6.5" fill="#88afdc"/>
<rect x="253.1" y="715.4" width="6.5" height="6.5" fill="#8faed8"/>
<rect x="259.3" y="715.4" width="6.5" height="6.5" fill="#8eaed9"/>
<rect x="265.5" y="715.4" width="6.5" height="6.5" fill="#89afdb"/>
<rect x="271.7" y="715.4" width="6.5" height="6.5" fill="#8dafd9"/>
<rect x="277.9" y="715.4" width="6.5" height="6.5" fill="#90aed7"/>
<rect x="36.5" y="721.6" width="6.5" height="6.5" fill="#86b0dd"/>
<rect x="42.7" y="721.6" width="6.5" height="6.5" fill="#8aafdb"/>
<rect x="48.9" y="721.6" width="6.5" height="6.5" fill="#90aed8"/>
<rect x="55.1" y="721.6" width="6.5" height="6.5" fill="#86b0dd"/>
<rect x="61.3" y="721.6" width="6.5" height="6.5" fill="#8aafda"/>
<rect x="67.4" y="721.6" width="6.5" height="6.5" fill="#86afdc"/>
<rect x="73.6" y="721.6" width="6.5" height="6.5" fill="#8aafda"/>
<rect x="79.8" y="721.6" width="6.5" height="6.5" fill="#86b0dd"/>
<rect x="86" y="721.6" width="6.5" height="6.5" fill="#86b0dd"/>
<rect x="92.2" y="721.6" width="6.5" height="6.5" fill="#89afdb"/>
<rect x="98.4" y="721.6" width="6.5" height="6.5" fill="#8bafda"/>
<rect x="104.6" y="721.6" width="6.5" height="6.5" fill="#8cafd9"/>
<rect x="110.8" y="721.6" width="6.5" height="6.5" fill="#8dafd9"/>
<rect x="117" y="721.6" width="6.5" height="6.5" fill="#8faed8"/>
<rect x="123.2" y="721.6" width="6.5" height="6.5" fill="#8eaed9"/>
<rect x="129.3" y="721.6" width="6.5" height="6.5" fill="#8eaed9"/>
<rect x="135.5" y="721.6" width="6.5" height="6.5" fill="#88afdb"/>
<rect x="141.7" y="721.6" width="6.5" height="6.5" fill="#8bafda"/>
<rect x="147.9" y="721.6" width="6.5" height="6.5" fill="#96add4"/>
<rect x="154.1" y="721.6" width="6.5" height="6.5" fill="#93aed6"/>
<rect x="160.3" y="721.6" width="6.5" height="6.5" fill="#8faed8"/>
<rect x="166.5" y="721.6" width="6.5" height="6.5" fill="#8eaed8"/>
<rect x="172.7" y="721.6" width="6.5" height="6.5" fill="#8faed8"/>
<rect x="178.9" y="721.6" width="6.5" height="6.5" fill="#8aafda"/>
<rect x="185.1" y="721.6" width="6.5" height="6.5" fill="#93aed6"/>
<rect x="191.2" y="721.6" width="6.5" height="6.5" fill="#8bafda"/>
<rect x="197.4" y="721.6" width="6.5" height="6.5" fill="#8cafda"/>
<rect x="203.6" y="721.6" width="6.5" height="6.5" fill="#93aed6"/>
<rect x="209.8" y="721.6" width="6.5" height="6.5" fill="#86b0dd"/>
<rect x="216" y="721.6" width="6.5" height="6.5" fill="#8daed9"/>
<rect x="222.2" y="721.6" width="6.5" height="6.5" fill="#86afdc"/>
<rect x="228.4" y="721.6" width="6.5" height="6.5" fill="#8aafda"/>
<rect x="234.6" y="721.6" width="6.5" height="6.5" fill="#8cafda"/>
<rect x="240.8" y="721.6" width="6.5" height="6.5" fill="#8bafda"/>
<rect x="247" y="721.6" width="6.5" height="6.5" fill="#8dafd9"/>
<rect x="253.1" y="721.6" width="6.5" height="6.5" fill="#89afdb"/>
<rect x="259.3" y="721.6" width="6.5" height="6.5" fill="#8cafda"/>
<rect x="265.5" y="721.6" width="6.5" height="6.5" fill="#88afdb"/>
<rect x="271.7" y="721.6" width="6.5" height="6.5" fill="#8bafda"/>
<rect x="277.9" y="721.6" width="6.5" height="6.5" fill="#87afdc"/>
<rect x="36.5" y="727.8" width="6.5" height="6.5" fill="#8cafd9"/>
<rect x="42.7" y="727.8" width="6.5" height="6.5" fill="#86afdc"/>
<rect x="48.9" y="727.8" width="6.5" height="6.5" fill="#8dafd9"/>
<rect x="55.1" y="727.8" width="6.5" height="6.5" fill="#89afdb"/>
<rect x="61.3" y="727.8" width="6.5" height="6.5" fill="#89afdb"/>
<rect x="67.4" y="727.8" width="6.5" height="6.5" fill="#8faed8"/>
<rect x="73.6" y="727.8" width="6.5" height="6.5" fill="#8bafda"/>
<rect x="79.8" y="727.8" width="6.5" height="6.5" fill="#86b0dd"/>
<rect x="86" y="727.8" width="6.5" height="6.5" fill="#8dafd9"/>
<rect x="92.2" y="727.8" width="6.5" height="6.5" fill="#86b0dd"/>
<rect x="98.4" y="727.8" width="6.5" height="6.5" fill="#8cafd9"/>
<rect x="104.6" y="727.8" width="6.5" height="6.5" fill="#8aafda"/>
<rect x="110.8" y="727.8" width="6.5" height="6.5" fill="#86afdc"/>
<rect x="117" y="727.8" width="6.5" height="6.5" fill="#8cafda"/>
<rect x="123.2" y="727.8" width="6.5" height="6.5" fill="#8aafda"/>
<rect x="129.3" y="727.8" width="6.5" height="6.5" fill="#92aed6"/>
<rect x="135.5" y="727.8" width="6.5" height="6.5" fill="#8aafda"/>
<rect x="141.7" y="727.8" width="6.5" height="6.5" fill="#92aed6"/>
<rect x="147.9" y="727.8" width="6.5" height="6.5" fill="#91aed7"/>
<rect x="154.1" y="727.8" width="6.5" height="6.5" fill="#8aafda"/>
<rect x="160.3" y="727.8" width="6.5" height="6.5" fill="#89afdb"/>
<rect x="166.5" y="727.8" width="6.5" height="6.5" fill="#91aed7"/>
<rect x="172.7" y="727.8" width="6.5" height="6.5" fill="#8cafda"/>
<rect x="178.9" y="727.8" width="6.5" height="6.5" fill="#8dafd9"/>
<rect x="185.1" y="727.8" width="6.5" height="6.5" fill="#8bafda"/>
<rect x="191.2" y="727.8" width="6.5" height="6.5" fill="#88afdb"/>
<rect x="197.4" y="727.8" width="6.5" height="6.5" fill="#8bafda"/>
<rect x="203.6" y="727.8" width="6.5" height="6.5" fill="#89afdb"/>
<rect x="209.8" y="727.8" width="6.5" height="6.5" fill="#87afdc"/>
<rect x="216" y="727.8" width="6.5" height="6.5" fill="#8bafda"/>
<rect x="222.2" y="727.8" width="6.5" height="6.5" fill="#92aed6"/>
<rect x="228.4" y="727.8" width="6.5" height="6.5" fill="#92aed7"/>
<rect x="234.6" y="727.8" width="6.5" height="6.5" fill="#8cafd9"/>
<rect x="240.8" y="727.8" width="6.5" height="6.5" fill="#8daed9"/>
<rect x="247" y="727.8" width="6.5" height="6.5" fill="#8eaed8"/>
<rect x="253.1" y="727.8" width="6.5" height="6.5" fill="#91aed7"/>
<rect x="259.3" y="727.8" width="6.5" height="6.5" fill="#8daed9"/>
<rect x="265.5" y="727.8" width="6.5" height="6.5" fill="#8bafda"/>
<rect x="271.7" y="727.8" width="6.5" height="6.5" fill="#8bafda"/>
<rect x="277.9" y="727.8" width="6.5" height="6.5" fill="#90aed7"/>
<rect x="36.5" y="734.1" width="6.5" height="6.5" fill="#93aed6"/>
<rect x="42.7" y="734.1" width="6.5" height="6.5" fill="#88afdb"/>
<rect x="48.9" y="734.1" width="6.5" height="6.5" fill="#86b0dd"/>
<rect x="55.1" y="734.1" width="6.5" height="6.5" fill="#8daed9"/>
<rect x="61.3" y="734.1" width="6.5" height="6.5" fill="#8aafda"/>
<rect x="67.4" y="734.1" width="6.5" height="6.5" fill="#8bafda"/>
<rect x="73.6" y="734.1" width="6.5" height="6.5" fill="#8faed8"/>
<rect x="79.8" y="734.1" width="6.5" height="6.5" fill="#8bafda"/>
<rect x="86" y="734.1" width="6.5" height="6.5" fill="#86afdc"/>
<rect x="92.2" y="734.1" width="6.5" height="6.5" fill="#86b0dd"/>
<rect x="98.4" y="734.1" width="6.5" height="6.5" fill="#8bafda"/>
<rect x="104.6" y="734.1" width="6.5" height="6.5" fill="#87afdc"/>
<rect x="110.8" y="734.1" width="6.5" height="6.5" fill="#8cafd9"/>
<rect x="117" y="734.1" width="6.5" height="6.5" fill="#87afdc"/>
<rect x="123.2" y="734.1" width="6.5" height="6.5" fill="#8aafda"/>
<rect x="129.3" y="734.1" width="6.5" height="6.5" fill="#87afdc"/>
<rect x="135.5" y="734.1" width="6.5" height="6.5" fill="#8bafda"/>
<rect x="141.7" y="734.1" width="6.5" height="6.5" fill="#8aafda"/>
<rect x="147.9" y="734.1" width="6.5" height="6.5" fill="#8eaed8"/>
<rect x="154.1" y="734.1" width="6.5" height="6.5" fill="#91aed7"/>
<rect x="160.3" y="734.1" width="6.5" height="6.5" fill="#8cafda"/>
<rect x="166.5" y="734.1" width="6.5" height="6.5" fill="#89afdb"/>
<rect x="172.7" y="734.1" width="6.5" height="6.5" fill="#93aed6"/>
<rect x="178.9" y="734.1" width="6.5" height="6.5" fill="#8eaed9"/>
<rect x="185.1" y="734.1" width="6.5" height="6.5" fill="#8faed8"/>
<rect x="191.2" y="734.1" width="6.5" height="6.5" fill="#8faed8"/>
<rect x="197.4" y="734.1" width="6.5" height="6.5" fill="#92aed7"/>
<rect x="203.6" y="734.1" width="6.5" height="6.5" fill="#90aed7"/>
<rect x="209.8" y="734.1" width="6.5" height="6.5" fill="#8faed8"/>
<rect x="216" y="734.1" width="6.5" height="6.5" fill="#8faed8"/>
<rect x="222.2" y="734.1" width="6.5" height="6.5" fill="#8aafdb"/>
<rect x="228.4" y="734.1" width="6.5" height="6.5" fill="#8aafda"/>
<rect x="234.6" y="734.1" width="6.5" height="6.5" fill="#8cafd9"/>
<rect x="240.8" y="734.1" width="6.5" height="6.5" fill="#8daed9"/>
<rect x="247" y="734.1" width="6.5" height="6.5" fill="#8dafd9"/>
<rect x="253.1" y="734.1" width="6.5" height="6.5" fill="#8eaed9"/>
<rect x="259.3" y="734.1" width="6.5" height="6.5" fill="#8dafd9"/>
<rect x="265.5" y="734.1" width="6.5" height="6.5" fill="#8bafda"/>
<rect x="271.7" y="734.1" width="6.5" height="6.5" fill="#87afdc"/>
<rect x="277.9" y="734.1" width="6.5" height="6.5" fill="#90aed8"/>
<rect x="36.5" y="740.3" width="6.5" height="6.5" fill="#8cafd9"/>
<rect x="42.7" y="740.3" width="6.5" height="6.5" fill="#87afdc"/>
<rect x="48.9" y="740.3" width="6.5" height="6.5" fill="#8cafd9"/>
<rect x="55.1" y="740.3" width="6.5" height="6.5" fill="#8cafd9"/>
<rect x="61.3" y="740.3" width="6.5" height="6.5" fill="#8bafda"/>
<rect x="67.4" y="740.3" width="6.5" height="6.5" fill="#86b0dd"/>
<rect x="73.6" y="740.3" width="6.5" height="6.5" fill="#87afdc"/>
<rect x="79.8" y="740.3" width="6.5" height="6.5" fill="#89afdb"/>
<rect x="86" y="740.3" width="6.5" height="6.5" fill="#91aed7"/>
<rect x="92.2" y="740.3" width="6.5" height="6.5" fill="#88afdb"/>
<rect x="98.4" y="740.3" width="6.5" height="6.5" fill="#8aafda"/>
<rect x="104.6" y="740.3" width="6.5" height="6.5" fill="#88afdb"/>
<rect x="110.8" y="740.3" width="6.5" height="6.5" fill="#8aafda"/>
<rect x="117" y="740.3" width="6.5" height="6.5" fill="#8daed9"/>
<rect x="123.2" y="740.3" width="6.5" height="6.5" fill="#86b0dd"/>
<rect x="129.3" y="740.3" width="6.5" height="6.5" fill="#86b0dd"/>
<rect x="135.5" y="740.3" width="6.5" height="6.5" fill="#8faed8"/>
<rect x="141.7" y="740.3" width="6.5" height="6.5" fill="#8dafd9"/>
<rect x="147.9" y="740.3" width="6.5" height="6.5" fill="#8aafda"/>
<rect x="154.1" y="740.3" width="6.5" height="6.5" fill="#90aed8"/>
<rect x="160.3" y="740.3" width="6.5" height="6.5" fill="#90aed7"/>
<rect x="166.5" y="740.3" width="6.5" height="6.5" fill="#86b0dd"/>
<rect x="172.7" y="740.3" width="6.5" height="6.5" fill="#8cafd9"/>
<rect x="178.9" y="740.3" width="6.5" height="6.5" fill="#91aed7"/>
<rect x="185.1" y="740.3" width="6.5" height="6.5" fill="#8bafda"/>
<rect x="191.2" y="740.3" width="6.5" height="6.5" fill="#8cafd9"/>
<rect x="197.4" y="740.3" width="6.5" height="6.5" fill="#90aed7"/>
<rect x="203.6" y="740.3" width="6.5" height="6.5" fill="#8cafd9"/>
<rect x="209.8" y="740.3" width="6.5" height="6.5" fill="#89afdb"/>
<rect x="216" y="740.3" width="6.5" height="6.5" fill="#8bafda"/>
<rect x="222.2" y="740.3" width="6.5" height="6.5" fill="#88afdb"/>
<rect x="228.4" y="740.3" width="6.5" height="6.5" fill="#8faed8"/>
<rect x="234.6" y="740.3" width="6.5" height="6.5" fill="#87afdc"/>
<rect x="240.8" y="740.3" width="6.5" height="6.5" fill="#90aed7"/>
<rect x="247" y="740.3" width="6.5" height="6.5" fill="#87afdc"/>
<rect x="253.1" y="740.3" width="6.5" height="6.5" fill="#8daed9"/>
<rect x="259.3" y="740.3" width="6.5" height="6.5" fill="#88afdb"/>
<rect x="265.5" y="740.3" width="6.5" height="6.5" fill="#8cafda"/>
<rect x="271.7" y="740.3" width="6.5" height="6.5" fill="#90aed7"/>
<rect x="277.9" y="740.3" width="6.5" height="6.5" fill="#91aed7"/>
<rect x="36.5" y="746.5" width="6.5" height="6.5" fill="#8faed8"/>
<rect x="42.7" y="746.5" width="6.5" height="6.5" fill="#8aafda"/>
<rect x="48.9" y="746.5" width="6.5" height="6.5" fill="#8bafda"/>
<rect x="55.1" y="746.5" width="6.5" height="6.5" fill="#8bafda"/>
<rect x="61.3" y="746.5" width="6.5" height="6.5" fill="#8daed9"/>
<rect x="67.4" y="746.5" width="6.5" height="6.5" fill="#89afdb"/>
<rect x="73.6" y="746.5" width="6.5" height="6.5" fill="#8faed8"/>
<rect x="79.8" y="746.5" width="6.5" height="6.5" fill="#8cafd9"/>
<rect x="86" y="746.5" width="6.5" height="6.5" fill="#8faed8"/>
<rect x="92.2" y="746.5" width="6.5" height="6.5" fill="#8daed9"/>
<rect x="98.4" y="746.5" width="6.5" height="6.5" fill="#8eaed8"/>
<rect x="104.6" y="746.5" width="6.5" height="6.5" fill="#89afdb"/>
<rect x="110.8" y="746.5" width="6.5" height="6.5" fill="#8bafda"/>
<rect x="117" y="746.5" width="6.5" height="6.5" fill="#88afdb"/>
<rect x="123.2" y="746.5" width="6.5" height="6.5" fill="#8bafda"/>
<rect x="129.3" y="746.5" width="6.5" height="6.5" fill="#8cafd9"/>
<rect x="135.5" y="746.5" width="6.5" height="6.5" fill="#90aed8"/>
<rect x="141.7" y="746.5" width="6.5" height="6.5" fill="#88afdb"/>
<rect x="147.9" y="746.5" width="6.5" height="6.5" fill="#98add4"/>
<rect x="154.1" y="746.5" width="6.5" height="6.5" fill="#8dafd9"/>
<rect x="160.3" y="746.5" width="6.5" height="6.5" fill="#91aed7"/>
<rect x="166.5" y="746.5" width="6.5" height="6.5" fill="#91aed7"/>
<rect x="172.7" y="746.5" width="6.5" height="6.5" fill="#86b0dd"/>
<rect x="178.9" y="746.5" width="6.5" height="6.5" fill="#8cafd9"/>
<rect x="185.1" y="746.5" width="6.5" height="6.5" fill="#92aed6"/>
<rect x="191.2" y="746.5" width="6.5" height="6.5" fill="#86b0dd"/>
<rect x="197.4" y="746.5" width="6.5" height="6.5" fill="#90aed7"/>
<rect x="203.6" y="746.5" width="6.5" height="6.5" fill="#8aafda"/>
<rect x="209.8" y="746.5" width="6.5" height="6.5" fill="#8cafda"/>
<rect x="216" y="746.5" width="6.5" height="6.5" fill="#8eaed8"/>
<rect x="222.2" y="746.5" width="6.5" height="6.5" fill="#87afdc"/>
<rect x="228.4" y="746.5" width="6.5" height="6.5" fill="#8eaed9"/>
<rect x="234.6" y="746.5" width="6.5" height="6.5" fill="#8bafda"/>
<rect x="240.8" y="746.5" width="6.5" height="6.5" fill="#8bafda"/>
<rect x="247" y="746.5" width="6.5" height="6.5" fill="#90aed8"/>
<rect x="253.1" y="746.5" width="6.5" height="6.5" fill="#99add3"/>
<rect x="259.3" y="746.5" width="6.5" height="6.5" fill="#8eaed8"/>
<rect x="265.5" y="746.5" width="6.5" height="6.5" fill="#8faed8"/>
<rect x="271.7" y="746.5" width="6.5" height="6.5" fill="#8daed9"/>
<rect x="277.9" y="746.5" width="6.5" height="6.5" fill="#8bafda"/>
<rect x="36.5" y="752.8" width="6.5" height="6.5" fill="#8bafda"/>
<rect x="42.7" y="752.8" width="6.5" height="6.5" fill="#90aed8"/>
<rect x="48.9" y="752.8" width="6.5" height="6.5" fill="#8bafda"/>
<rect x="55.1" y="752.8" width="6.5" height="6.5" fill="#8eaed9"/>
<rect x="61.3" y="752.8" width="6.5" height="6.5" fill="#8aafda"/>
<rect x="67.4" y="752.8" width="6.5" height="6.5" fill="#94aed6"/>
<rect x="73.6" y="752.8" width="6.5" height="6.5" fill="#86b0dd"/>
<rect x="79.8" y="752.8" width="6.5" height="6.5" fill="#8daed9"/>
<rect x="86" y="752.8" width="6.5" height="6.5" fill="#8daed9"/>
<rect x="92.2" y="752.8" width="6.5" height="6.5" fill="#8dafd9"/>
<rect x="98.4" y="752.8" width="6.5" height="6.5" fill="#88afdb"/>
<rect x="104.6" y="752.8" width="6.5" height="6.5" fill="#88afdb"/>
<rect x="110.8" y="752.8" width="6.5" height="6.5" fill="#8bafda"/>
<rect x="117" y="752.8" width="6.5" height="6.5" fill="#8daed9"/>
<rect x="123.2" y="752.8" width="6.5" height="6.5" fill="#88afdb"/>
<rect x="129.3" y="752.8" width="6.5" height="6.5" fill="#89afdb"/>
<rect x="135.5" y="752.8" width="6.5" height="6.5" fill="#8faed8"/>
<rect x="141.7" y="752.8" width="6.5" height="6.5" fill="#91aed7"/>
<rect x="147.9" y="752.8" width="6.5" height="6.5" fill="#8bafda"/>
<rect x="154.1" y="752.8" width="6.5" height="6.5" fill="#8bafda"/>
<rect x="160.3" y="752.8" width="6.5" height="6.5" fill="#8bafda"/>
<rect x="166.5" y="752.8" width="6.5" height="6.5" fill="#96add5"/>
<rect x="172.7" y="752.8" width="6.5" height="6.5" fill="#8faed8"/>
<rect x="178.9" y="752.8" width="6.5" height="6.5" fill="#8eaed9"/>
<rect x="185.1" y="752.8" width="6.5" height="6.5" fill="#91aed7"/>
<rect x="191.2" y="752.8" width="6.5" height="6.5" fill="#96add5"/>
<rect x="197.4" y="752.8" width="6.5" height="6.5" fill="#92aed7"/>
<rect x="203.6" y="752.8" width="6.5" height="6.5" fill="#89afdb"/>
<rect x="209.8" y="752.8" width="6.5" height="6.5" fill="#8daed9"/>
<rect x="216" y="752.8" width="6.5" height="6.5" fill="#8cafd9"/>
<rect x="222.2" y="752.8" width="6.5" height="6.5" fill="#8cafd9"/>
<rect x="228.4" y="752.8" width="6.5" height="6.5" fill="#89afdb"/>
<rect x="234.6" y="752.8" width="6.5" height="6.5" fill="#8cafd9"/>
<rect x="240.8" y="752.8" width="6.5" height="6.5" fill="#8aafdb"/>
<rect x="247" y="752.8" width="6.5" height="6.5" fill="#8faed8"/>
<rect x="253.1" y="752.8" width="6.5" height="6.5" fill="#8eaed9"/>
<rect x="259.3" y="752.8" width="6.5" height="6.5" fill="#88afdb"/>
<rect x="265.5" y="752.8" width="6.5" height="6.5" fill="#87afdc"/>
<rect x="271.7" y="752.8" width="6.5" height="6.5" fill="#8cafda"/>
<rect x="277.9" y="752.8" width="6.5" height="6.5" fill="#90aed8"/>
<rect x="36.5" y="759" width="6.5" height="6.5" fill="#8cafd9"/>
<rect x="42.7" y="759" width="6.5" height="6.5" fill="#8aafda"/>
<rect x="48.9" y="759" width="6.5" height="6.5" fill="#86b0dd"/>
<rect x="55.1" y="759" width="6.5" height="6.5" fill="#89afdb"/>
<rect x="61.3" y="759" width="6.5" height="6.5" fill="#88afdb"/>
<rect x="67.4" y="759" width="6.5" height="6.5" fill="#8aafda"/>
<rect x="73.6" y="759" width="6.5" height="6.5" fill="#87afdc"/>
<rect x="79.8" y="759" width="6.5" height="6.5" fill="#8aafda"/>
<rect x="86" y="759" width="6.5" height="6.5" fill="#89afdb"/>
<rect x="92.2" y="759" width="6.5" height="6.5" fill="#95add5"/>
<rect x="98.4" y="759" width="6.5" height="6.5" fill="#8faed8"/>
<rect x="104.6" y="759" width="6.5" height="6.5" fill="#8cafda"/>
<rect x="110.8" y="759" width="6.5" height="6.5" fill="#8cafd9"/>
<rect x="117" y="759" width="6.5" height="6.5" fill="#8cafd9"/>
<rect x="123.2" y="759" width="6.5" height="6.5" fill="#8eaed9"/>
<rect x="129.3" y="759" width="6.5" height="6.5" fill="#8cafd9"/>
<rect x="135.5" y="759" width="6.5" height="6.5" fill="#8daed9"/>
<rect x="141.7" y="759" width="6.5" height="6.5" fill="#91aed7"/>
<rect x="147.9" y="759" width="6.5" height="6.5" fill="#91aed7"/>
<rect x="154.1" y="759" width="6.5" height="6.5" fill="#8faed8"/>
<rect x="160.3" y="759" width="6.5" height="6.5" fill="#93aed6"/>
<rect x="166.5" y="759" width="6.5" height="6.5" fill="#8faed8"/>
<rect x="172.7" y="759" width="6.5" height="6.5" fill="#8bafda"/>
<rect x="178.9" y="759" width="6.5" height="6.5" fill="#88afdb"/>
<rect x="185.1" y="759" width="6.5" height="6.5" fill="#8cafd9"/>
<rect x="191.2" y="759" width="6.5" height="6.5" fill="#8eaed8"/>
<rect x="197.4" y="759" width="6.5" height="6.5" fill="#90aed8"/>
<rect x="203.6" y="759" width="6.5" height="6.5" fill="#92aed7"/>
<rect x="209.8" y="759" width="6.5" height="6.5" fill="#8cafd9"/>
<rect x="216" y="759" width="6.5" height="6.5" fill="#8bafda"/>
<rect x="222.2" y="759" width="6.5" height="6.5" fill="#91aed7"/>
<rect x="228.4" y="759" width="6.5" height="6.5" fill="#92aed7"/>
<rect x="234.6" y="759" width="6.5" height="6.5" fill="#8cafd9"/>
<rect x="240.8" y="759" width="6.5" height="6.5" fill="#8faed8"/>
<rect x="247" y="759" width="6.5" height="6.5" fill="#93aed6"/>
<rect x="253.1" y="759" width="6.5" height="6.5" fill="#8faed8"/>
<rect x="259.3" y="759" width="6.5" height="6.5" fill="#8daed9"/>
<rect x="265.5" y="759" width="6.5" height="6.5" fill="#86afdc"/>
<rect x="271.7" y="759" width="6.5" height="6.5" fill="#92aed6"/>
<rect x="277.9" y="759" width="6.5" height="6.5" fill="#90aed8"/>
<rect x="36.5" y="765.2" width="6.5" height="6.5" fill="#8bafda"/>
<rect x="42.7" y="765.2" width="6.5" height="6.5" fill="#89afdb"/>
<rect x="48.9" y="765.2" width="6.5" height="6.5" fill="#86afdc"/>
<rect x="55.1" y="765.2" width="6.5" height="6.5" fill="#8aafda"/>
<rect x="61.3" y="765.2" width="6.5" height="6.5" fill="#8bafda"/>
<rect x="67.4" y="765.2" width="6.5" height="6.5" fill="#8faed8"/>
<rect x="73.6" y="765.2" width="6.5" height="6.5" fill="#87afdc"/>
<rect x="79.8" y="765.2" width="6.5" height="6.5" fill="#91aed7"/>
<rect x="86" y="765.2" width="6.5" height="6.5" fill="#8cafd9"/>
<rect x="92.2" y="765.2" width="6.5" height="6.5" fill="#90aed7"/>
<rect x="98.4" y="765.2" width="6.5" height="6.5" fill="#89afdb"/>
<rect x="104.6" y="765.2" width="6.5" height="6.5" fill="#8eaed8"/>
<rect x="110.8" y="765.2" width="6.5" height="6.5" fill="#91aed7"/>
<rect x="117" y="765.2" width="6.5" height="6.5" fill="#8eaed9"/>
<rect x="123.2" y="765.2" width="6.5" height="6.5" fill="#88afdb"/>
<rect x="129.3" y="765.2" width="6.5" height="6.5" fill="#8dafd9"/>
<rect x="135.5" y="765.2" width="6.5" height="6.5" fill="#90aed8"/>
<rect x="141.7" y="765.2" width="6.5" height="6.5" fill="#89afdb"/>
<rect x="147.9" y="765.2" width="6.5" height="6.5" fill="#89afdb"/>
<rect x="154.1" y="765.2" width="6.5" height="6.5" fill="#90aed8"/>
<rect x="160.3" y="765.2" width="6.5" height="6.5" fill="#8cafda"/>
<rect x="166.5" y="765.2" width="6.5" height="6.5" fill="#91aed7"/>
<rect x="172.7" y="765.2" width="6.5" height="6.5" fill="#8bafda"/>
<rect x="178.9" y="765.2" width="6.5" height="6.5" fill="#89afdb"/>
<rect x="185.1" y="765.2" width="6.5" height="6.5" fill="#8cafd9"/>
<rect x="191.2" y="765.2" width="6.5" height="6.5" fill="#94add5"/>
<rect x="197.4" y="765.2" width="6.5" height="6.5" fill="#8cafd9"/>
<rect x="203.6" y="765.2" width="6.5" height="6.5" fill="#8faed8"/>
<rect x="209.8" y="765.2" width="6.5" height="6.5" fill="#90aed8"/>
<rect x="216" y="765.2" width="6.5" height="6.5" fill="#8bafda"/>
<rect x="222.2" y="765.2" width="6.5" height="6.5" fill="#92aed6"/>
<rect x="228.4" y="765.2" width="6.5" height="6.5" fill="#8faed8"/>
<rect x="234.6" y="765.2" width="6.5" height="6.5" fill="#90aed8"/>
<rect x="240.8" y="765.2" width="6.5" height="6.5" fill="#88afdb"/>
<rect x="247" y="765.2" width="6.5" height="6.5" fill="#88afdb"/>
<rect x="253.1" y="765.2" width="6.5" height="6.5" fill="#86b0dd"/>
<rect x="259.3" y="765.2" width="6.5" height="6.5" fill="#8daed9"/>
<rect x="265.5" y="765.2" width="6.5" height="6.5" fill="#8daed9"/>
<rect x="271.7" y="765.2" width="6.5" height="6.5" fill="#90aed7"/>
<rect x="277.9" y="765.2" width="6.5" height="6.5" fill="#93aed6"/>
<rect x="36.5" y="771.5" width="6.5" height="6.5" fill="#8aafdb"/>
<rect x="42.7" y="771.5" width="6.5" height="6.5" fill="#8aafdb"/>
<rect x="48.9" y="771.5" width="6.5" height="6.5" fill="#8cafd9"/>
<rect x="55.1" y="771.5" width="6.5" height="6.5" fill="#90aed7"/>
<rect x="61.3" y="771.5" width="6.5" height="6.5" fill="#88afdb"/>
<rect x="67.4" y="771.5" width="6.5" height="6.5" fill="#8eaed9"/>
<rect x="73.6" y="771.5" width="6.5" height="6.5" fill="#8bafda"/>
<rect x="79.8" y="771.5" width="6.5" height="6.5" fill="#8bafda"/>
<rect x="86" y="771.5" width="6.5" height="6.5" fill="#8faed8"/>
<rect x="92.2" y="771.5" width="6.5" height="6.5" fill="#8aafda"/>
<rect x="98.4" y="771.5" width="6.5" height="6.5" fill="#89afdb"/>
<rect x="104.6" y="771.5" width="6.5" height="6.5" fill="#90aed8"/>
<rect x="110.8" y="771.5" width="6.5" height="6.5" fill="#8daed9"/>
<rect x="117" y="771.5" width="6.5" height="6.5" fill="#8daed9"/>
<rect x="123.2" y="771.5" width="6.5" height="6.5" fill="#8eaed9"/>
<rect x="129.3" y="771.5" width="6.5" height="6.5" fill="#90aed7"/>
<rect x="135.5" y="771.5" width="6.5" height="6.5" fill="#8daed9"/>
<rect x="141.7" y="771.5" width="6.5" height="6.5" fill="#92aed7"/>
<rect x="147.9" y="771.5" width="6.5" height="6.5" fill="#91aed7"/>
<rect x="154.1" y="771.5" width="6.5" height="6.5" fill="#95add5"/>
<rect x="160.3" y="771.5" width="6.5" height="6.5" fill="#94add6"/>
<rect x="166.5" y="771.5" width="6.5" height="6.5" fill="#93aed6"/>
<rect x="172.7" y="771.5" width="6.5" height="6.5" fill="#8faed8"/>
<rect x="178.9" y="771.5" width="6.5" height="6.5" fill="#90aed7"/>
<rect x="185.1" y="771.5" width="6.5" height="6.5" fill="#8eaed9"/>
<rect x="191.2" y="771.5" width="6.5" height="6.5" fill="#9aadd3"/>
<rect x="197.4" y="771.5" width="6.5" height="6.5" fill="#8faed8"/>
<rect x="203.6" y="771.5" width="6.5" height="6.5" fill="#92aed7"/>
<rect x="209.8" y="771.5" width="6.5" height="6.5" fill="#94add5"/>
<rect x="216" y="771.5" width="6.5" height="6.5" fill="#8bafda"/>
<rect x="222.2" y="771.5" width="6.5" height="6.5" fill="#8cafd9"/>
<rect x="228.4" y="771.5" width="6.5" height="6.5" fill="#8eaed9"/>
<rect x="234.6" y="771.5" width="6.5" height="6.5" fill="#8bafda"/>
<rect x="240.8" y="771.5" width="6.5" height="6.5" fill="#8aafda"/>
<rect x="247" y="771.5" width="6.5" height="6.5" fill="#8daed9"/>
<rect x="253.1" y="771.5" width="6.5" height="6.5" fill="#93aed6"/>
<rect x="259.3" y="771.5" width="6.5" height="6.5" fill="#91aed7"/>
<rect x="265.5" y="771.5" width="6.5" height="6.5" fill="#8eaed8"/>
<rect x="271.7" y="771.5" width="6.5" height="6.5" fill="#8eaed8"/>
<rect x="277.9" y="771.5" width="6.5" height="6.5" fill="#88afdb"/>
<rect x="36.5" y="777.7" width="6.5" height="6.5" fill="#8daed9"/>
<rect x="42.7" y="777.7" width="6.5" height="6.5" fill="#8cafd9"/>
<rect x="48.9" y="777.7" width="6.5" height="6.5" fill="#87afdc"/>
<rect x="55.1" y="777.7" width="6.5" height="6.5" fill="#8cafd9"/>
<rect x="61.3" y="777.7" width="6.5" height="6.5" fill="#8bafda"/>
<rect x="67.4" y="777.7" width="6.5" height="6.5" fill="#8aafda"/>
<rect x="73.6" y="777.7" width="6.5" height="6.5" fill="#89afdb"/>
<rect x="79.8" y="777.7" width="6.5" height="6.5" fill="#8aafda"/>
<rect x="86" y="777.7" width="6.5" height="6.5" fill="#89afdb"/>
<rect x="92.2" y="777.7" width="6.5" height="6.5" fill="#8faed8"/>
<rect x="98.4" y="777.7" width="6.5" height="6.5" fill="#8faed8"/>
<rect x="104.6" y="777.7" width="6.5" height="6.5" fill="#8faed8"/>
<rect x="110.8" y="777.7" width="6.5" height="6.5" fill="#8daed9"/>
<rect x="117" y="777.7" width="6.5" height="6.5" fill="#8daed9"/>
<rect x="123.2" y="777.7" width="6.5" height="6.5" fill="#96add5"/>
<rect x="129.3" y="777.7" width="6.5" height="6.5" fill="#89afdb"/>
<rect x="135.5" y="777.7" width="6.5" height="6.5" fill="#94aed6"/>
<rect x="141.7" y="777.7" width="6.5" height="6.5" fill="#91aed7"/>
<rect x="147.9" y="777.7" width="6.5" height="6.5" fill="#90aed7"/>
<rect x="154.1" y="777.7" width="6.5" height="6.5" fill="#8faed8"/>
<rect x="160.3" y="777.7" width="6.5" height="6.5" fill="#90aed8"/>
<rect x="166.5" y="777.7" width="6.5" height="6.5" fill="#8dafd9"/>
<rect x="172.7" y="777.7" width="6.5" height="6.5" fill="#8cafd9"/>
<rect x="178.9" y="777.7" width="6.5" height="6.5" fill="#90aed7"/>
<rect x="185.1" y="777.7" width="6.5" height="6.5" fill="#8bafda"/>
<rect x="191.2" y="777.7" width="6.5" height="6.5" fill="#94aed6"/>
<rect x="197.4" y="777.7" width="6.5" height="6.5" fill="#94add5"/>
<rect x="203.6" y="777.7" width="6.5" height="6.5" fill="#86b0dd"/>
<rect x="209.8" y="777.7" width="6.5" height="6.5" fill="#8bafda"/>
<rect x="216" y="777.7" width="6.5" height="6.5" fill="#91aed7"/>
<rect x="222.2" y="777.7" width="6.5" height="6.5" fill="#91aed7"/>
<rect x="228.4" y="777.7" width="6.5" height="6.5" fill="#90aed7"/>
<rect x="234.6" y="777.7" width="6.5" height="6.5" fill="#91aed7"/>
<rect x="240.8" y="777.7" width="6.5" height="6.5" fill="#92aed7"/>
<rect x="247" y="777.7" width="6.5" height="6.5" fill="#92aed6"/>
<rect x="253.1" y="777.7" width="6.5" height="6.5" fill="#95add5"/>
<rect x="259.3" y="777.7" width="6.5" height="6.5" fill="#8faed8"/>
<rect x="265.5" y="777.7" width="6.5" height="6.5" fill="#92aed7"/>
<rect x="271.7" y="777.7" width="6.5" height="6.5" fill="#89afdb"/>
<rect x="277.9" y="777.7" width="6.5" height="6.5" fill="#8eaed8"/>
<rect x="36.5" y="783.9" width="6.5" height="6.5" fill="#86afdc"/>
<rect x="42.7" y="783.9" width="6.5" height="6.5" fill="#90aed8"/>
<rect x="48.9" y="783.9" width="6.5" height="6.5" fill="#93aed6"/>
<rect x="55.1" y="783.9" width="6.5" height="6.5" fill="#8daed9"/>
<rect x="61.3" y="783.9" width="6.5" height="6.5" fill="#87afdc"/>
<rect x="67.4" y="783.9" width="6.5" height="6.5" fill="#8cafda"/>
<rect x="73.6" y="783.9" width="6.5" height="6.5" fill="#8cafd9"/>
<rect x="79.8" y="783.9" width="6.5" height="6.5" fill="#8daed9"/>
<rect x="86" y="783.9" width="6.5" height="6.5" fill="#91aed7"/>
<rect x="92.2" y="783.9" width="6.5" height="6.5" fill="#91aed7"/>
<rect x="98.4" y="783.9" width="6.5" height="6.5" fill="#86b0dd"/>
<rect x="104.6" y="783.9" width="6.5" height="6.5" fill="#93aed6"/>
<rect x="110.8" y="783.9" width="6.5" height="6.5" fill="#8daed9"/>
<rect x="117" y="783.9" width="6.5" height="6.5" fill="#8daed9"/>
<rect x="123.2" y="783.9" width="6.5" height="6.5" fill="#95add5"/>
<rect x="129.3" y="783.9" width="6.5" height="6.5" fill="#8faed8"/>
<rect x="135.5" y="783.9" width="6.5" height="6.5" fill="#8cafda"/>
<rect x="141.7" y="783.9" width="6.5" height="6.5" fill="#8cafd9"/>
<rect x="147.9" y="783.9" width="6.5" height="6.5" fill="#91aed7"/>
<rect x="154.1" y="783.9" width="6.5" height="6.5" fill="#94add5"/>
<rect x="160.3" y="783.9" width="6.5" height="6.5" fill="#97add4"/>
<rect x="166.5" y="783.9" width="6.5" height="6.5" fill="#91aed7"/>
<rect x="172.7" y="783.9" width="6.5" height="6.5" fill="#90aed7"/>
<rect x="178.9" y="783.9" width="6.5" height="6.5" fill="#97add4"/>
<rect x="185.1" y="783.9" width="6.5" height="6.5" fill="#90aed7"/>
<rect x="191.2" y="783.9" width="6.5" height="6.5" fill="#97add4"/>
<rect x="197.4" y="783.9" width="6.5" height="6.5" fill="#92aed6"/>
<rect x="203.6" y="783.9" width="6.5" height="6.5" fill="#92aed6"/>
<rect x="209.8" y="783.9" width="6.5" height="6.5" fill="#90aed7"/>
<rect x="216" y="783.9" width="6.5" height="6.5" fill="#92aed7"/>
<rect x="222.2" y="783.9" width="6.5" height="6.5" fill="#8faed8"/>
<rect x="228.4" y="783.9" width="6.5" height="6.5" fill="#8eaed8"/>
<rect x="234.6" y="783.9" width="6.5" height="6.5" fill="#90aed8"/>
<rect x="240.8" y="783.9" width="6.5" height="6.5" fill="#8eaed9"/>
<rect x="247" y="783.9" width="6.5" height="6.5" fill="#91aed7"/>
<rect x="253.1" y="783.9" width="6.5" height="6.5" fill="#90aed8"/>
<rect x="259.3" y="783.9" width="6.5" height="6.5" fill="#8eaed8"/>
<rect x="265.5" y="783.9" width="6.5" height="6.5" fill="#8eaed8"/>
<rect x="271.7" y="783.9" width="6.5" height="6.5" fill="#8eaed8"/>
<rect x="277.9" y="783.9" width="6.5" height="6.5" fill="#95add5"/>
<rect x="36.5" y="790.2" width="6.5" height="6.5" fill="#8bafda"/>
<rect x="42.7" y="790.2" width="6.5" height="6.5" fill="#89afdb"/>
<rect x="48.9" y="790.2" width="6.5" height="6.5" fill="#8aafda"/>
<rect x="55.1" y="790.2" width="6.5" height="6.5" fill="#8eaed9"/>
<rect x="61.3" y="790.2" width="6.5" height="6.5" fill="#8bafda"/>
<rect x="67.4" y="790.2" width="6.5" height="6.5" fill="#8cafda"/>
<rect x="73.6" y="790.2" width="6.5" height="6.5" fill="#8cafda"/>
<rect x="79.8" y="790.2" width="6.5" height="6.5" fill="#8eaed9"/>
<rect x="86" y="790.2" width="6.5" height="6.5" fill="#8faed8"/>
<rect x="92.2" y="790.2" width="6.5" height="6.5" fill="#8faed8"/>
<rect x="98.4" y="790.2" width="6.5" height="6.5" fill="#89afdb"/>
<rect x="104.6" y="790.2" width="6.5" height="6.5" fill="#8bafda"/>
<rect x="110.8" y="790.2" width="6.5" height="6.5" fill="#86afdc"/>
<rect x="117" y="790.2" width="6.5" height="6.5" fill="#93aed6"/>
<rect x="123.2" y="790.2" width="6.5" height="6.5" fill="#94add6"/>
<rect x="129.3" y="790.2" width="6.5" height="6.5" fill="#95add5"/>
<rect x="135.5" y="790.2" width="6.5" height="6.5" fill="#92aed7"/>
<rect x="141.7" y="790.2" width="6.5" height="6.5" fill="#96add5"/>
<rect x="147.9" y="790.2" width="6.5" height="6.5" fill="#92aed7"/>
<rect x="154.1" y="790.2" width="6.5" height="6.5" fill="#92aed7"/>
<rect x="160.3" y="790.2" width="6.5" height="6.5" fill="#8daed9"/>
<rect x="166.5" y="790.2" width="6.5" height="6.5" fill="#90aed8"/>
<rect x="172.7" y="790.2" width="6.5" height="6.5" fill="#91aed7"/>
<rect x="178.9" y="790.2" width="6.5" height="6.5" fill="#96add5"/>
<rect x="185.1" y="790.2" width="6.5" height="6.5" fill="#99add3"/>
<rect x="191.2" y="790.2" width="6.5" height="6.5" fill="#91aed7"/>
<rect x="197.4" y="790.2" width="6.5" height="6.5" fill="#94aed6"/>
<rect x="203.6" y="790.2" width="6.5" height="6.5" fill="#93aed6"/>
<rect x="209.8" y="790.2" width="6.5" height="6.5" fill="#8faed8"/>
<rect x="216" y="790.2" width="6.5" height="6.5" fill="#8cafda"/>
<rect x="222.2" y="790.2" width="6.5" height="6.5" fill="#8faed8"/>
<rect x="228.4" y="790.2" width="6.5" height="6.5" fill="#8cafd9"/>
<rect x="234.6" y="790.2" width="6.5" height="6.5" fill="#90aed8"/>
<rect x="240.8" y="790.2" width="6.5" height="6.5" fill="#90aed7"/>
<rect x="247" y="790.2" width="6.5" height="6.5" fill="#90aed8"/>
<rect x="253.1" y="790.2" width="6.5" height="6.5" fill="#8faed8"/>
<rect x="259.3" y="790.2" width="6.5" height="6.5" fill="#91aed7"/>
<rect x="265.5" y="790.2" width="6.5" height="6.5" fill="#8cafd9"/>
<rect x="271.7" y="790.2" width="6.5" height="6.5" fill="#92aed6"/>
<rect x="277.9" y="790.2" width="6.5" height="6.5" fill="#89afdb"/>
<rect x="36.5" y="796.4" width="6.5" height="6.5" fill="#8bafda"/>
<rect x="42.7" y="796.4" width="6.5" height="6.5" fill="#8cafd9"/>
<rect x="48.9" y="796.4" width="6.5" height="6.5" fill="#89afdb"/>
<rect x="55.1" y="796.4" width="6.5" height="6.5" fill="#86afdc"/>
<rect x="61.3" y="796.4" width="6.5" height="6.5" fill="#8eaed8"/>
<rect x="67.4" y="796.4" width="6.5" height="6.5" fill="#8aafda"/>
<rect x="73.6" y="796.4" width="6.5" height="6.5" fill="#90aed8"/>
<rect x="79.8" y="796.4" width="6.5" height="6.5" fill="#90aed7"/>
<rect x="86" y="796.4" width="6.5" height="6.5" fill="#8eaed9"/>
<rect x="92.2" y="796.4" width="6.5" height="6.5" fill="#8eaed8"/>
<rect x="98.4" y="796.4" width="6.5" height="6.5" fill="#92aed6"/>
<rect x="104.6" y="796.4" width="6.5" height="6.5" fill="#91aed7"/>
<rect x="110.8" y="796.4" width="6.5" height="6.5" fill="#8daed9"/>
<rect x="117" y="796.4" width="6.5" height="6.5" fill="#91aed7"/>
<rect x="123.2" y="796.4" width="6.5" height="6.5" fill="#93aed6"/>
<rect x="129.3" y="796.4" width="6.5" height="6.5" fill="#92aed6"/>
<rect x="135.5" y="796.4" width="6.5" height="6.5" fill="#93aed6"/>
<rect x="141.7" y="796.4" width="6.5" height="6.5" fill="#92aed6"/>
<rect x="147.9" y="796.4" width="6.5" height="6.5" fill="#93aed6"/>
<rect x="154.1" y="796.4" width="6.5" height="6.5" fill="#90aed7"/>
<rect x="160.3" y="796.4" width="6.5" height="6.5" fill="#8faed8"/>
<rect x="166.5" y="796.4" width="6.5" height="6.5" fill="#98add4"/>
<rect x="172.7" y="796.4" width="6.5" height="6.5" fill="#92aed7"/>
<rect x="178.9" y="796.4" width="6.5" height="6.5" fill="#95add5"/>
<rect x="185.1" y="796.4" width="6.5" height="6.5" fill="#8faed8"/>
<rect x="191.2" y="796.4" width="6.5" height="6.5" fill="#94add5"/>
<rect x="197.4" y="796.4" width="6.5" height="6.5" fill="#91aed7"/>
<rect x="203.6" y="796.4" width="6.5" height="6.5" fill="#9eacd1"/>
<rect x="209.8" y="796.4" width="6.5" height="6.5" fill="#8faed8"/>
<rect x="216" y="796.4" width="6.5" height="6.5" fill="#8faed8"/>
<rect x="222.2" y="796.4" width="6.5" height="6.5" fill="#96add5"/>
<rect x="228.4" y="796.4" width="6.5" height="6.5" fill="#96add5"/>
<rect x="234.6" y="796.4" width="6.5" height="6.5" fill="#8aafda"/>
<rect x="240.8" y="796.4" width="6.5" height="6.5" fill="#92aed7"/>
<rect x="247" y="796.4" width="6.5" height="6.5" fill="#94aed6"/>
<rect x="253.1" y="796.4" width="6.5" height="6.5" fill="#8cafd9"/>
<rect x="259.3" y="796.4" width="6.5" height="6.5" fill="#93aed6"/>
<rect x="265.5" y="796.4" width="6.5" height="6.5" fill="#8eaed8"/>
<rect x="271.7" y="796.4" width="6.5" height="6.5" fill="#8cafd9"/>
<rect x="277.9" y="796.4" width="6.5" height="6.5" fill="#8eaed8"/>
<rect x="36.5" y="802.6" width="6.5" height="6.5" fill="#89afdb"/>
<rect x="42.7" y="802.6" width="6.5" height="6.5" fill="#86afdc"/>
<rect x="48.9" y="802.6" width="6.5" height="6.5" fill="#93aed6"/>
<rect x="55.1" y="802.6" width="6.5" height="6.5" fill="#8aafda"/>
<rect x="61.3" y="802.6" width="6.5" height="6.5" fill="#8aafda"/>
<rect x="67.4" y="802.6" width="6.5" height="6.5" fill="#90aed8"/>
<rect x="73.6" y="802.6" width="6.5" height="6.5" fill="#8daed9"/>
<rect x="79.8" y="802.6" width="6.5" height="6.5" fill="#92aed6"/>
<rect x="86" y="802.6" width="6.5" height="6.5" fill="#8daed9"/>
<rect x="92.2" y="802.6" width="6.5" height="6.5" fill="#90aed7"/>
<rect x="98.4" y="802.6" width="6.5" height="6.5" fill="#90aed8"/>
<rect x="104.6" y="802.6" width="6.5" height="6.5" fill="#91aed7"/>
<rect x="110.8" y="802.6" width="6.5" height="6.5" fill="#90aed7"/>
<rect x="117" y="802.6" width="6.5" height="6.5" fill="#91aed7"/>
<rect x="123.2" y="802.6" width="6.5" height="6.5" fill="#98add4"/>
<rect x="129.3" y="802.6" width="6.5" height="6.5" fill="#90aed7"/>
<rect x="135.5" y="802.6" width="6.5" height="6.5" fill="#91aed7"/>
<rect x="141.7" y="802.6" width="6.5" height="6.5" fill="#93aed6"/>
<rect x="147.9" y="802.6" width="6.5" height="6.5" fill="#96add5"/>
<rect x="154.1" y="802.6" width="6.5" height="6.5" fill="#96add5"/>
<rect x="160.3" y="802.6" width="6.5" height="6.5" fill="#98add4"/>
<rect x="166.5" y="802.6" width="6.5" height="6.5" fill="#90aed7"/>
<rect x="172.7" y="802.6" width="6.5" height="6.5" fill="#96add5"/>
<rect x="178.9" y="802.6" width="6.5" height="6.5" fill="#94add5"/>
<rect x="185.1" y="802.6" width="6.5" height="6.5" fill="#94add6"/>
<rect x="191.2" y="802.6" width="6.5" height="6.5" fill="#95add5"/>
<rect x="197.4" y="802.6" width="6.5" height="6.5" fill="#8eaed9"/>
<rect x="203.6" y="802.6" width="6.5" height="6.5" fill="#95add5"/>
<rect x="209.8" y="802.6" width="6.5" height="6.5" fill="#95add5"/>
<rect x="216" y="802.6" width="6.5" height="6.5" fill="#8faed8"/>
<rect x="222.2" y="802.6" width="6.5" height="6.5" fill="#93aed6"/>
<rect x="228.4" y="802.6" width="6.5" height="6.5" fill="#98add4"/>
<rect x="234.6" y="802.6" width="6.5" height="6.5" fill="#91aed7"/>
<rect x="240.8" y="802.6" width="6.5" height="6.5" fill="#94aed6"/>
<rect x="247" y="802.6" width="6.5" height="6.5" fill="#91aed7"/>
<rect x="253.1" y="802.6" width="6.5" height="6.5" fill="#8eaed8"/>
<rect x="259.3" y="802.6" width="6.5" height="6.5" fill="#8eaed9"/>
<rect x="265.5" y="802.6" width="6.5" height="6.5" fill="#8faed8"/>
<rect x="271.7" y="802.6" width="6.5" height="6.5" fill="#95add5"/>
<rect x="277.9" y="802.6" width="6.5" height="6.5" fill="#93aed6"/>
<rect x="36.5" y="808.9" width="6.5" height="6.5" fill="#89afdb"/>
<rect x="42.7" y="808.9" width="6.5" height="6.5" fill="#8faed8"/>
<rect x="48.9" y="808.9" width="6.5" height="6.5" fill="#8bafda"/>
<rect x="55.1" y="808.9" width="6.5" height="6.5" fill="#8aafda"/>
<rect x="61.3" y="808.9" width="6.5" height="6.5" fill="#8eaed8"/>
<rect x="67.4" y="808.9" width="6.5" height="6.5" fill="#8aafda"/>
<rect x="73.6" y="808.9" width="6.5" height="6.5" fill="#88afdb"/>
<rect x="79.8" y="808.9" width="6.5" height="6.5" fill="#93aed6"/>
<rect x="86" y="808.9" width="6.5" height="6.5" fill="#89afdb"/>
<rect x="92.2" y="808.9" width="6.5" height="6.5" fill="#91aed7"/>
<rect x="98.4" y="808.9" width="6.5" height="6.5" fill="#8bafda"/>
<rect x="104.6" y="808.9" width="6.5" height="6.5" fill="#91aed7"/>
<rect x="110.8" y="808.9" width="6.5" height="6.5" fill="#91aed7"/>
<rect x="117" y="808.9" width="6.5" height="6.5" fill="#91aed7"/>
<rect x="123.2" y="808.9" width="6.5" height="6.5" fill="#8cafda"/>
<rect x="129.3" y="808.9" width="6.5" height="6.5" fill="#93aed6"/>
<rect x="135.5" y="808.9" width="6.5" height="6.5" fill="#94add6"/>
<rect x="141.7" y="808.9" width="6.5" height="6.5" fill="#92aed7"/>
<rect x="147.9" y="808.9" width="6.5" height="6.5" fill="#95add5"/>
<rect x="154.1" y="808.9" width="6.5" height="6.5" fill="#99add3"/>
<rect x="160.3" y="808.9" width="6.5" height="6.5" fill="#94aed6"/>
<rect x="166.5" y="808.9" width="6.5" height="6.5" fill="#97add4"/>
<rect x="172.7" y="808.9" width="6.5" height="6.5" fill="#92aed6"/>
<rect x="178.9" y="808.9" width="6.5" height="6.5" fill="#98add4"/>
<rect x="185.1" y="808.9" width="6.5" height="6.5" fill="#98add4"/>
<rect x="191.2" y="808.9" width="6.5" height="6.5" fill="#9facd1"/>
<rect x="197.4" y="808.9" width="6.5" height="6.5" fill="#99add3"/>
<rect x="203.6" y="808.9" width="6.5" height="6.5" fill="#97add4"/>
<rect x="209.8" y="808.9" width="6.5" height="6.5" fill="#9aadd3"/>
<rect x="216" y="808.9" width="6.5" height="6.5" fill="#91aed7"/>
<rect x="222.2" y="808.9" width="6.5" height="6.5" fill="#98add4"/>
<rect x="228.4" y="808.9" width="6.5" height="6.5" fill="#92aed7"/>
<rect x="234.6" y="808.9" width="6.5" height="6.5" fill="#91aed7"/>
<rect x="240.8" y="808.9" width="6.5" height="6.5" fill="#96add4"/>
<rect x="247" y="808.9" width="6.5" height="6.5" fill="#93aed6"/>
<rect x="253.1" y="808.9" width="6.5" height="6.5" fill="#96add5"/>
<rect x="259.3" y="808.9" width="6.5" height="6.5" fill="#8cafd9"/>
<rect x="265.5" y="808.9" width="6.5" height="6.5" fill="#92aed7"/>
<rect x="271.7" y="808.9" width="6.5" height="6.5" fill="#8faed8"/>
<rect x="277.9" y="808.9" width="6.5" height="6.5" fill="#8faed8"/>
<rect x="36.5" y="815.1" width="6.5" height="6.5" fill="#86b0dd"/>
<rect x="42.7" y="815.1" width="6.5" height="6.5" fill="#8faed8"/>
<rect x="48.9" y="815.1" width="6.5" height="6.5" fill="#8dafd9"/>
<rect x="55.1" y="815.1" width="6.5" height="6.5" fill="#89afdb"/>
<rect x="61.3" y="815.1" width="6.5" height="6.5" fill="#88afdb"/>
<rect x="67.4" y="815.1" width="6.5" height="6.5" fill="#8aafda"/>
<rect x="73.6" y="815.1" width="6.5" height="6.5" fill="#93aed6"/>
<rect x="79.8" y="815.1" width="6.5" height="6.5" fill="#8eaed8"/>
<rect x="86" y="815.1" width="6.5" height="6.5" fill="#8eaed8"/>
<rect x="92.2" y="815.1" width="6.5" height="6.5" fill="#92aed7"/>
<rect x="98.4" y="815.1" width="6.5" height="6.5" fill="#91aed7"/>
<rect x="104.6" y="815.1" width="6.5" height="6.5" fill="#92aed6"/>
<rect x="110.8" y="815.1" width="6.5" height="6.5" fill="#95add5"/>
<rect x="117" y="815.1" width="6.5" height="6.5" fill="#94add5"/>
<rect x="123.2" y="815.1" width="6.5" height="6.5" fill="#97add4"/>
<rect x="129.3" y="815.1" width="6.5" height="6.5" fill="#91aed7"/>
<rect x="135.5" y="815.1" width="6.5" height="6.5" fill="#96add5"/>
<rect x="141.7" y="815.1" width="6.5" height="6.5" fill="#95add5"/>
<rect x="147.9" y="815.1" width="6.5" height="6.5" fill="#97add4"/>
<rect x="154.1" y="815.1" width="6.5" height="6.5" fill="#97add4"/>
<rect x="160.3" y="815.1" width="6.5" height="6.5" fill="#95add5"/>
<rect x="166.5" y="815.1" width="6.5" height="6.5" fill="#96add5"/>
<rect x="172.7" y="815.1" width="6.5" height="6.5" fill="#9badd2"/>
<rect x="178.9" y="815.1" width="6.5" height="6.5" fill="#96add5"/>
<rect x="185.1" y="815.1" width="6.5" height="6.5" fill="#93aed6"/>
<rect x="191.2" y="815.1" width="6.5" height="6.5" fill="#99add3"/>
<rect x="197.4" y="815.1" width="6.5" height="6.5" fill="#9aadd3"/>
<rect x="203.6" y="815.1" width="6.5" height="6.5" fill="#96add5"/>
<rect x="209.8" y="815.1" width="6.5" height="6.5" fill="#97add4"/>
<rect x="216" y="815.1" width="6.5" height="6.5" fill="#93aed6"/>
<rect x="222.2" y="815.1" width="6.5" height="6.5" fill="#94add5"/>
<rect x="228.4" y="815.1" width="6.5" height="6.5" fill="#98add4"/>
<rect x="234.6" y="815.1" width="6.5" height="6.5" fill="#97add4"/>
<rect x="240.8" y="815.1" width="6.5" height="6.5" fill="#94aed6"/>
<rect x="247" y="815.1" width="6.5" height="6.5" fill="#92aed7"/>
<rect x="253.1" y="815.1" width="6.5" height="6.5" fill="#8daed9"/>
<rect x="259.3" y="815.1" width="6.5" height="6.5" fill="#93aed6"/>
<rect x="265.5" y="815.1" width="6.5" height="6.5" fill="#93aed6"/>
<rect x="271.7" y="815.1" width="6.5" height="6.5" fill="#95add5"/>
<rect x="277.9" y="815.1" width="6.5" height="6.5" fill="#98add4"/>
<rect x="36.5" y="821.3" width="6.5" height="6.5" fill="#8dafd9"/>
<rect x="42.7" y="821.3" width="6.5" height="6.5" fill="#8faed8"/>
<rect x="48.9" y="821.3" width="6.5" height="6.5" fill="#88afdb"/>
<rect x="55.1" y="821.3" width="6.5" height="6.5" fill="#91aed7"/>
<rect x="61.3" y="821.3" width="6.5" height="6.5" fill="#90aed7"/>
<rect x="67.4" y="821.3" width="6.5" height="6.5" fill="#92aed6"/>
<rect x="73.6" y="821.3" width="6.5" height="6.5" fill="#91aed7"/>
<rect x="79.8" y="821.3" width="6.5" height="6.5" fill="#91aed7"/>
<rect x="86" y="821.3" width="6.5" height="6.5" fill="#95add5"/>
<rect x="92.2" y="821.3" width="6.5" height="6.5" fill="#8faed8"/>
<rect x="98.4" y="821.3" width="6.5" height="6.5" fill="#94aed6"/>
<rect x="104.6" y="821.3" width="6.5" height="6.5" fill="#96add5"/>
<rect x="110.8" y="821.3" width="6.5" height="6.5" fill="#91aed7"/>
<rect x="117" y="821.3" width="6.5" height="6.5" fill="#90aed7"/>
<rect x="123.2" y="821.3" width="6.5" height="6.5" fill="#97add4"/>
<rect x="129.3" y="821.3" width="6.5" height="6.5" fill="#96add5"/>
<rect x="135.5" y="821.3" width="6.5" height="6.5" fill="#99add3"/>
<rect x="141.7" y="821.3" width="6.5" height="6.5" fill="#99add3"/>
<rect x="147.9" y="821.3" width="6.5" height="6.5" fill="#95add5"/>
<rect x="154.1" y="821.3" width="6.5" height="6.5" fill="#99add3"/>
<rect x="160.3" y="821.3" width="6.5" height="6.5" fill="#9cacd2"/>
<rect x="166.5" y="821.3" width="6.5" height="6.5" fill="#98add4"/>
<rect x="172.7" y="821.3" width="6.5" height="6.5" fill="#98add4"/>
<rect x="178.9" y="821.3" width="6.5" height="6.5" fill="#95add5"/>
<rect x="185.1" y="821.3" width="6.5" height="6.5" fill="#9cacd2"/>
<rect x="191.2" y="821.3" width="6.5" height="6.5" fill="#9facd0"/>
<rect x="197.4" y="821.3" width="6.5" height="6.5" fill="#94aed6"/>
<rect x="203.6" y="821.3" width="6.5" height="6.5" fill="#9aadd3"/>
<rect x="209.8" y="821.3" width="6.5" height="6.5" fill="#9aadd3"/>
<rect x="216" y="821.3" width="6.5" height="6.5" fill="#95add5"/>
<rect x="222.2" y="821.3" width="6.5" height="6.5" fill="#95add5"/>
<rect x="228.4" y="821.3" width="6.5" height="6.5" fill="#92aed7"/>
<rect x="234.6" y="821.3" width="6.5" height="6.5" fill="#92aed6"/>
<rect x="240.8" y="821.3" width="6.5" height="6.5" fill="#95add5"/>
<rect x="247" y="821.3" width="6.5" height="6.5" fill="#96add5"/>
<rect x="253.1" y="821.3" width="6.5" height="6.5" fill="#93aed6"/>
<rect x="259.3" y="821.3" width="6.5" height="6.5" fill="#95add5"/>
<rect x="265.5" y="821.3" width="6.5" height="6.5" fill="#93aed6"/>
<rect x="271.7" y="821.3" width="6.5" height="6.5" fill="#8eaed9"/>
<rect x="277.9" y="821.3" width="6.5" height="6.5" fill="#96add5"/>
<rect x="36.5" y="827.5" width="6.5" height="6.5" fill="#90aed8"/>
<rect x="42.7" y="827.5" width="6.5" height="6.5" fill="#8aafdb"/>
<rect x="48.9" y="827.5" width="6.5" height="6.5" fill="#92aed6"/>
<rect x="55.1" y="827.5" width="6.5" height="6.5" fill="#8faed8"/>
<rect x="61.3" y="827.5" width="6.5" height="6.5" fill="#8eaed8"/>
<rect x="67.4" y="827.5" width="6.5" height="6.5" fill="#95add5"/>
<rect x="73.6" y="827.5" width="6.5" height="6.5" fill="#86afdc"/>
<rect x="79.8" y="827.5" width="6.5" height="6.5" fill="#8aafda"/>
<rect x="86" y="827.5" width="6.5" height="6.5" fill="#93aed6"/>
<rect x="92.2" y="827.5" width="6.5" height="6.5" fill="#91aed7"/>
<rect x="98.4" y="827.5" width="6.5" height="6.5" fill="#8faed8"/>
<rect x="104.6" y="827.5" width="6.5" height="6.5" fill="#98add4"/>
<rect x="110.8" y="827.5" width="6.5" height="6.5" fill="#96add5"/>
<rect x="117" y="827.5" width="6.5" height="6.5" fill="#91aed7"/>
<rect x="123.2" y="827.5" width="6.5" height="6.5" fill="#94aed6"/>
<rect x="129.3" y="827.5" width="6.5" height="6.5" fill="#9aadd3"/>
<rect x="135.5" y="827.5" width="6.5" height="6.5" fill="#9eacd1"/>
<rect x="141.7" y="827.5" width="6.5" height="6.5" fill="#92aed7"/>
<rect x="147.9" y="827.5" width="6.5" height="6.5" fill="#9aadd3"/>
<rect x="154.1" y="827.5" width="6.5" height="6.5" fill="#98add4"/>
<rect x="160.3" y="827.5" width="6.5" height="6.5" fill="#94add6"/>
<rect x="166.5" y="827.5" width="6.5" height="6.5" fill="#9aadd3"/>
<rect x="172.7" y="827.5" width="6.5" height="6.5" fill="#95add5"/>
<rect x="178.9" y="827.5" width="6.5" height="6.5" fill="#98add3"/>
<rect x="185.1" y="827.5" width="6.5" height="6.5" fill="#a0acd0"/>
<rect x="191.2" y="827.5" width="6.5" height="6.5" fill="#9cacd2"/>
<rect x="197.4" y="827.5" width="6.5" height="6.5" fill="#9cacd2"/>
<rect x="203.6" y="827.5" width="6.5" height="6.5" fill="#9badd2"/>
<rect x="209.8" y="827.5" width="6.5" height="6.5" fill="#9aadd3"/>
<rect x="216" y="827.5" width="6.5" height="6.5" fill="#9badd2"/>
<rect x="222.2" y="827.5" width="6.5" height="6.5" fill="#93aed6"/>
<rect x="228.4" y="827.5" width="6.5" height="6.5" fill="#95add5"/>
<rect x="234.6" y="827.5" width="6.5" height="6.5" fill="#99add3"/>
<rect x="240.8" y="827.5" width="6.5" height="6.5" fill="#93aed6"/>
<rect x="247" y="827.5" width="6.5" height="6.5" fill="#93aed6"/>
<rect x="253.1" y="827.5" width="6.5" height="6.5" fill="#98add4"/>
<rect x="259.3" y="827.5" width="6.5" height="6.5" fill="#98add4"/>
<rect x="265.5" y="827.5" width="6.5" height="6.5" fill="#91aed7"/>
<rect x="271.7" y="827.5" width="6.5" height="6.5" fill="#8faed8"/>
<rect x="277.9" y="827.5" width="6.5" height="6.5" fill="#94aed6"/>
<rect x="36.5" y="833.8" width="6.5" height="6.5" fill="#8dafd9"/>
<rect x="42.7" y="833.8" width="6.5" height="6.5" fill="#8aafda"/>
<rect x="48.9" y="833.8" width="6.5" height="6.5" fill="#8faed8"/>
<rect x="55.1" y="833.8" width="6.5" height="6.5" fill="#8faed8"/>
<rect x="61.3" y="833.8" width="6.5" height="6.5" fill="#8eaed8"/>
<rect x="67.4" y="833.8" width="6.5" height="6.5" fill="#99add3"/>
<rect x="73.6" y="833.8" width="6.5" height="6.5" fill="#94aed6"/>
<rect x="79.8" y="833.8" width="6.5" height="6.5" fill="#93aed6"/>
<rect x="86" y="833.8" width="6.5" height="6.5" fill="#95add5"/>
<rect x="92.2" y="833.8" width="6.5" height="6.5" fill="#9cacd2"/>
<rect x="98.4" y="833.8" width="6.5" height="6.5" fill="#97add4"/>
<rect x="104.6" y="833.8" width="6.5" height="6.5" fill="#92aed7"/>
<rect x="110.8" y="833.8" width="6.5" height="6.5" fill="#96add5"/>
<rect x="117" y="833.8" width="6.5" height="6.5" fill="#96add5"/>
<rect x="123.2" y="833.8" width="6.5" height="6.5" fill="#95add5"/>
<rect x="129.3" y="833.8" width="6.5" height="6.5" fill="#99add3"/>
<rect x="135.5" y="833.8" width="6.5" height="6.5" fill="#9aadd3"/>
<rect x="141.7" y="833.8" width="6.5" height="6.5" fill="#99add3"/>
<rect x="147.9" y="833.8" width="6.5" height="6.5" fill="#99add3"/>
<rect x="154.1" y="833.8" width="6.5" height="6.5" fill="#9eacd1"/>
<rect x="160.3" y="833.8" width="6.5" height="6.5" fill="#96add5"/>
<rect x="166.5" y="833.8" width="6.5" height="6.5" fill="#9eacd1"/>
<rect x="172.7" y="833.8" width="6.5" height="6.5" fill="#9cacd2"/>
<rect x="178.9" y="833.8" width="6.5" height="6.5" fill="#9cacd2"/>
<rect x="185.1" y="833.8" width="6.5" height="6.5" fill="#93aed6"/>
<rect x="191.2" y="833.8" width="6.5" height="6.5" fill="#a1acd0"/>
<rect x="197.4" y="833.8" width="6.5" height="6.5" fill="#95add5"/>
<rect x="203.6" y="833.8" width="6.5" height="6.5" fill="#97add4"/>
<rect x="209.8" y="833.8" width="6.5" height="6.5" fill="#9cacd2"/>
<rect x="216" y="833.8" width="6.5" height="6.5" fill="#97add4"/>
<rect x="222.2" y="833.8" width="6.5" height="6.5" fill="#97add4"/>
<rect x="228.4" y="833.8" width="6.5" height="6.5" fill="#90aed8"/>
<rect x="234.6" y="833.8" width="6.5" height="6.5" fill="#95add5"/>
<rect x="240.8" y="833.8" width="6.5" height="6.5" fill="#96add4"/>
<rect x="247" y="833.8" width="6.5" height="6.5" fill="#97add4"/>
<rect x="253.1" y="833.8" width="6.5" height="6.5" fill="#93aed6"/>
<rect x="259.3" y="833.8" width="6.5" height="6.5" fill="#94add5"/>
<rect x="265.5" y="833.8" width="6.5" height="6.5" fill="#95add5"/>
<rect x="271.7" y="833.8" width="6.5" height="6.5" fill="#90aed7"/>
<rect x="277.9" y="833.8" width="6.5" height="6.5" fill="#90aed8"/>
<rect x="36.5" y="840" width="6.5" height="6.5" fill="#93aed6"/>
<rect x="42.7" y="840" width="6.5" height="6.5" fill="#89afdb"/>
<rect x="48.9" y="840" width="6.5" height="6.5" fill="#91aed7"/>
<rect x="55.1" y="840" width="6.5" height="6.5" fill="#8eaed9"/>
<rect x="61.3" y="840" width="6.5" height="6.5" fill="#93aed6"/>
<rect x="67.4" y="840" width="6.5" height="6.5" fill="#8dafd9"/>
<rect x="73.6" y="840" width="6.5" height="6.5" fill="#91aed7"/>
<rect x="79.8" y="840" width="6.5" height="6.5" fill="#92aed7"/>
<rect x="86" y="840" width="6.5" height="6.5" fill="#91aed7"/>
<rect x="92.2" y="840" width="6.5" height="6.5" fill="#94aed6"/>
<rect x="98.4" y="840" width="6.5" height="6.5" fill="#91aed7"/>
<rect x="104.6" y="840" width="6.5" height="6.5" fill="#94add5"/>
<rect x="110.8" y="840" width="6.5" height="6.5" fill="#94add5"/>
<rect x="117" y="840" width="6.5" height="6.5" fill="#99add3"/>
<rect x="123.2" y="840" width="6.5" height="6.5" fill="#98add4"/>
<rect x="129.3" y="840" width="6.5" height="6.5" fill="#94add6"/>
<rect x="135.5" y="840" width="6.5" height="6.5" fill="#98add4"/>
<rect x="141.7" y="840" width="6.5" height="6.5" fill="#9aadd3"/>
<rect x="147.9" y="840" width="6.5" height="6.5" fill="#98add4"/>
<rect x="154.1" y="840" width="6.5" height="6.5" fill="#a0acd0"/>
<rect x="160.3" y="840" width="6.5" height="6.5" fill="#9eacd1"/>
<rect x="166.5" y="840" width="6.5" height="6.5" fill="#9facd0"/>
<rect x="172.7" y="840" width="6.5" height="6.5" fill="#9aadd3"/>
<rect x="178.9" y="840" width="6.5" height="6.5" fill="#9bacd2"/>
<rect x="185.1" y="840" width="6.5" height="6.5" fill="#a0acd0"/>
<rect x="191.2" y="840" width="6.5" height="6.5" fill="#97add4"/>
<rect x="197.4" y="840" width="6.5" height="6.5" fill="#9dacd1"/>
<rect x="203.6" y="840" width="6.5" height="6.5" fill="#9bacd2"/>
<rect x="209.8" y="840" width="6.5" height="6.5" fill="#99add3"/>
<rect x="216" y="840" width="6.5" height="6.5" fill="#9aadd3"/>
<rect x="222.2" y="840" width="6.5" height="6.5" fill="#95add5"/>
<rect x="228.4" y="840" width="6.5" height="6.5" fill="#99add3"/>
<rect x="234.6" y="840" width="6.5" height="6.5" fill="#93aed6"/>
<rect x="240.8" y="840" width="6.5" height="6.5" fill="#92aed7"/>
<rect x="247" y="840" width="6.5" height="6.5" fill="#9aadd3"/>
<rect x="253.1" y="840" width="6.5" height="6.5" fill="#92aed6"/>
<rect x="259.3" y="840" width="6.5" height="6.5" fill="#8daed9"/>
<rect x="265.5" y="840" width="6.5" height="6.5" fill="#97add4"/>
<rect x="271.7" y="840" width="6.5" height="6.5" fill="#90aed7"/>
<rect x="277.9" y="840" width="6.5" height="6.5" fill="#86afdc"/>
<rect x="36.5" y="846.2" width="6.5" height="6.5" fill="#8cafda"/>
<rect x="42.7" y="846.2" width="6.5" height="6.5" fill="#90aed8"/>
<rect x="48.9" y="846.2" width="6.5" height="6.5" fill="#8eaed8"/>
<rect x="55.1" y="846.2" width="6.5" height="6.5" fill="#94aed6"/>
<rect x="61.3" y="846.2" width="6.5" height="6.5" fill="#8eaed9"/>
<rect x="67.4" y="846.2" width="6.5" height="6.5" fill="#91aed7"/>
<rect x="73.6" y="846.2" width="6.5" height="6.5" fill="#8dafd9"/>
<rect x="79.8" y="846.2" width="6.5" height="6.5" fill="#91aed7"/>
<rect x="86" y="846.2" width="6.5" height="6.5" fill="#97add4"/>
<rect x="92.2" y="846.2" width="6.5" height="6.5" fill="#95add5"/>
<rect x="98.4" y="846.2" width="6.5" height="6.5" fill="#95add5"/>
<rect x="104.6" y="846.2" width="6.5" height="6.5" fill="#8eaed8"/>
<rect x="110.8" y="846.2" width="6.5" height="6.5" fill="#95add5"/>
<rect x="117" y="846.2" width="6.5" height="6.5" fill="#93aed6"/>
<rect x="123.2" y="846.2" width="6.5" height="6.5" fill="#9badd2"/>
<rect x="129.3" y="846.2" width="6.5" height="6.5" fill="#97add4"/>
<rect x="135.5" y="846.2" width="6.5" height="6.5" fill="#9cacd2"/>
<rect x="141.7" y="846.2" width="6.5" height="6.5" fill="#98add4"/>
<rect x="147.9" y="846.2" width="6.5" height="6.5" fill="#a3abcf"/>
<rect x="154.1" y="846.2" width="6.5" height="6.5" fill="#99add3"/>
<rect x="160.3" y="846.2" width="6.5" height="6.5" fill="#9eacd1"/>
<rect x="166.5" y="846.2" width="6.5" height="6.5" fill="#a7abcd"/>
<rect x="172.7" y="846.2" width="6.5" height="6.5" fill="#9eacd1"/>
<rect x="178.9" y="846.2" width="6.5" height="6.5" fill="#9badd2"/>
<rect x="185.1" y="846.2" width="6.5" height="6.5" fill="#a0acd0"/>
<rect x="191.2" y="846.2" width="6.5" height="6.5" fill="#a1acd0"/>
<rect x="197.4" y="846.2" width="6.5" height="6.5" fill="#a0acd0"/>
<rect x="203.6" y="846.2" width="6.5" height="6.5" fill="#95add5"/>
<rect x="209.8" y="846.2" width="6.5" height="6.5" fill="#9cacd2"/>
<rect x="216" y="846.2" width="6.5" height="6.5" fill="#93aed6"/>
<rect x="222.2" y="846.2" width="6.5" height="6.5" fill="#a0acd0"/>
<rect x="228.4" y="846.2" width="6.5" height="6.5" fill="#99add3"/>
<rect x="234.6" y="846.2" width="6.5" height="6.5" fill="#96add5"/>
<rect x="240.8" y="846.2" width="6.5" height="6.5" fill="#99add3"/>
<rect x="247" y="846.2" width="6.5" height="6.5" fill="#98add4"/>
<rect x="253.1" y="846.2" width="6.5" height="6.5" fill="#91aed7"/>
<rect x="259.3" y="846.2" width="6.5" height="6.5" fill="#9aadd3"/>
<rect x="265.5" y="846.2" width="6.5" height="6.5" fill="#93aed6"/>
<rect x="271.7" y="846.2" width="6.5" height="6.5" fill="#8daed9"/>
<rect x="277.9" y="846.2" width="6.5" height="6.5" fill="#98add4"/>
<rect x="36.5" y="852.5" width="6.5" height="6.5" fill="#91aed7"/>
<rect x="42.7" y="852.5" width="6.5" height="6.5" fill="#91aed7"/>
<rect x="48.9" y="852.5" width="6.5" height="6.5" fill="#8faed8"/>
<rect x="55.1" y="852.5" width="6.5" height="6.5" fill="#8bafda"/>
<rect x="61.3" y="852.5" width="6.5" height="6.5" fill="#92aed7"/>
<rect x="67.4" y="852.5" width="6.5" height="6.5" fill="#96add5"/>
<rect x="73.6" y="852.5" width="6.5" height="6.5" fill="#93aed6"/>
<rect x="79.8" y="852.5" width="6.5" height="6.5" fill="#97add4"/>
<rect x="86" y="852.5" width="6.5" height="6.5" fill="#90aed8"/>
<rect x="92.2" y="852.5" width="6.5" height="6.5" fill="#97add4"/>
<rect x="98.4" y="852.5" width="6.5" height="6.5" fill="#98add4"/>
<rect x="104.6" y="852.5" width="6.5" height="6.5" fill="#91aed7"/>
<rect x="110.8" y="852.5" width="6.5" height="6.5" fill="#91aed7"/>
<rect x="117" y="852.5" width="6.5" height="6.5" fill="#96add5"/>
<rect x="123.2" y="852.5" width="6.5" height="6.5" fill="#9aadd3"/>
<rect x="129.3" y="852.5" width="6.5" height="6.5" fill="#9cacd2"/>
<rect x="135.5" y="852.5" width="6.5" height="6.5" fill="#9badd3"/>
<rect x="141.7" y="852.5" width="6.5" height="6.5" fill="#9cacd2"/>
<rect x="147.9" y="852.5" width="6.5" height="6.5" fill="#9dacd2"/>
<rect x="154.1" y="852.5" width="6.5" height="6.5" fill="#9eacd1"/>
<rect x="160.3" y="852.5" width="6.5" height="6.5" fill="#a0acd0"/>
<rect x="166.5" y="852.5" width="6.5" height="6.5" fill="#a0acd0"/>
<rect x="172.7" y="852.5" width="6.5" height="6.5" fill="#9eacd1"/>
<rect x="178.9" y="852.5" width="6.5" height="6.5" fill="#9facd0"/>
<rect x="185.1" y="852.5" width="6.5" height="6.5" fill="#9dacd1"/>
<rect x="191.2" y="852.5" width="6.5" height="6.5" fill="#a1acd0"/>
<rect x="197.4" y="852.5" width="6.5" height="6.5" fill="#9cacd2"/>
<rect x="203.6" y="852.5" width="6.5" height="6.5" fill="#a2accf"/>
<rect x="209.8" y="852.5" width="6.5" height="6.5" fill="#9cacd2"/>
<rect x="216" y="852.5" width="6.5" height="6.5" fill="#9cacd2"/>
<rect x="222.2" y="852.5" width="6.5" height="6.5" fill="#98add4"/>
<rect x="228.4" y="852.5" width="6.5" height="6.5" fill="#98add4"/>
<rect x="234.6" y="852.5" width="6.5" height="6.5" fill="#99add3"/>
<rect x="240.8" y="852.5" width="6.5" height="6.5" fill="#98add4"/>
<rect x="247" y="852.5" width="6.5" height="6.5" fill="#95add5"/>
<rect x="253.1" y="852.5" width="6.5" height="6.5" fill="#92aed7"/>
<rect x="259.3" y="852.5" width="6.5" height="6.5" fill="#95add5"/>
<rect x="265.5" y="852.5" width="6.5" height="6.5" fill="#95add5"/>
<rect x="271.7" y="852.5" width="6.5" height="6.5" fill="#96add5"/>
<rect x="277.9" y="852.5" width="6.5" height="6.5" fill="#97add4"/>
<rect x="36.5" y="858.7" width="6.5" height="6.5" fill="#8bafda"/>
<rect x="42.7" y="858.7" width="6.5" height="6.5" fill="#86afdc"/>
<rect x="48.9" y="858.7" width="6.5" height="6.5" fill="#8dafd9"/>
<rect x="55.1" y="858.7" width="6.5" height="6.5" fill="#88afdc"/>
<rect x="61.3" y="858.7" width="6.5" height="6.5" fill="#8aafda"/>
<rect x="67.4" y="858.7" width="6.5" height="6.5" fill="#93aed6"/>
<rect x="73.6" y="858.7" width="6.5" height="6.5" fill="#92aed6"/>
<rect x="79.8" y="858.7" width="6.5" height="6.5" fill="#8faed8"/>
<rect x="86" y="858.7" width="6.5" height="6.5" fill="#90aed7"/>
<rect x="92.2" y="858.7" width="6.5" height="6.5" fill="#93aed6"/>
<rect x="98.4" y="858.7" width="6.5" height="6.5" fill="#8faed8"/>
<rect x="104.6" y="858.7" width="6.5" height="6.5" fill="#98add4"/>
<rect x="110.8" y="858.7" width="6.5" height="6.5" fill="#96add5"/>
<rect x="117" y="858.7" width="6.5" height="6.5" fill="#9facd0"/>
<rect x="123.2" y="858.7" width="6.5" height="6.5" fill="#96add5"/>
<rect x="129.3" y="858.7" width="6.5" height="6.5" fill="#9eacd1"/>
<rect x="135.5" y="858.7" width="6.5" height="6.5" fill="#9aadd3"/>
<rect x="141.7" y="858.7" width="6.5" height="6.5" fill="#a0acd0"/>
<rect x="147.9" y="858.7" width="6.5" height="6.5" fill="#9aadd3"/>
<rect x="154.1" y="858.7" width="6.5" height="6.5" fill="#a1acd0"/>
<rect x="160.3" y="858.7" width="6.5" height="6.5" fill="#9dacd1"/>
<rect x="166.5" y="858.7" width="6.5" height="6.5" fill="#9cacd2"/>
<rect x="172.7" y="858.7" width="6.5" height="6.5" fill="#9facd1"/>
<rect x="178.9" y="858.7" width="6.5" height="6.5" fill="#a1acd0"/>
<rect x="185.1" y="858.7" width="6.5" height="6.5" fill="#a0acd0"/>
<rect x="191.2" y="858.7" width="6.5" height="6.5" fill="#a4abce"/>
<rect x="197.4" y="858.7" width="6.5" height="6.5" fill="#a1accf"/>
<rect x="203.6" y="858.7" width="6.5" height="6.5" fill="#94add5"/>
<rect x="209.8" y="858.7" width="6.5" height="6.5" fill="#9badd2"/>
<rect x="216" y="858.7" width="6.5" height="6.5" fill="#95add5"/>
<rect x="222.2" y="858.7" width="6.5" height="6.5" fill="#9aadd3"/>
<rect x="228.4" y="858.7" width="6.5" height="6.5" fill="#9cacd2"/>
<rect x="234.6" y="858.7" width="6.5" height="6.5" fill="#94add5"/>
<rect x="240.8" y="858.7" width="6.5" height="6.5" fill="#94aed6"/>
<rect x="247" y="858.7" width="6.5" height="6.5" fill="#98add4"/>
<rect x="253.1" y="858.7" width="6.5" height="6.5" fill="#95add5"/>
<rect x="259.3" y="858.7" width="6.5" height="6.5" fill="#9badd2"/>
<rect x="265.5" y="858.7" width="6.5" height="6.5" fill="#96add5"/>
<rect x="271.7" y="858.7" width="6.5" height="6.5" fill="#96add5"/>
<rect x="277.9" y="858.7" width="6.5" height="6.5" fill="#9aadd3"/>
<rect x="36.5" y="864.9" width="6.5" height="6.5" fill="#8aafda"/>
<rect x="42.7" y="864.9" width="6.5" height="6.5" fill="#8dafd9"/>
<rect x="48.9" y="864.9" width="6.5" height="6.5" fill="#8aafda"/>
<rect x="55.1" y="864.9" width="6.5" height="6.5" fill="#8faed8"/>
<rect x="61.3" y="864.9" width="6.5" height="6.5" fill="#92aed6"/>
<rect x="67.4" y="864.9" width="6.5" height="6.5" fill="#94add5"/>
<rect x="73.6" y="864.9" width="6.5" height="6.5" fill="#90aed7"/>
<rect x="79.8" y="864.9" width="6.5" height="6.5" fill="#8faed8"/>
<rect x="86" y="864.9" width="6.5" height="6.5" fill="#90aed7"/>
<rect x="92.2" y="864.9" width="6.5" height="6.5" fill="#8faed8"/>
<rect x="98.4" y="864.9" width="6.5" height="6.5" fill="#96add5"/>
<rect x="104.6" y="864.9" width="6.5" height="6.5" fill="#9badd2"/>
<rect x="110.8" y="864.9" width="6.5" height="6.5" fill="#8faed8"/>
<rect x="117" y="864.9" width="6.5" height="6.5" fill="#91aed7"/>
<rect x="123.2" y="864.9" width="6.5" height="6.5" fill="#9facd0"/>
<rect x="129.3" y="864.9" width="6.5" height="6.5" fill="#96add5"/>
<rect x="135.5" y="864.9" width="6.5" height="6.5" fill="#9dacd1"/>
<rect x="141.7" y="864.9" width="6.5" height="6.5" fill="#99add3"/>
<rect x="147.9" y="864.9" width="6.5" height="6.5" fill="#a1acd0"/>
<rect x="154.1" y="864.9" width="6.5" height="6.5" fill="#a2accf"/>
<rect x="160.3" y="864.9" width="6.5" height="6.5" fill="#a0acd0"/>
<rect x="166.5" y="864.9" width="6.5" height="6.5" fill="#a3abcf"/>
<rect x="172.7" y="864.9" width="6.5" height="6.5" fill="#a0acd0"/>
<rect x="178.9" y="864.9" width="6.5" height="6.5" fill="#a2accf"/>
<rect x="185.1" y="864.9" width="6.5" height="6.5" fill="#a6abcd"/>
<rect x="191.2" y="864.9" width="6.5" height="6.5" fill="#a3abcf"/>
<rect x="197.4" y="864.9" width="6.5" height="6.5" fill="#9cacd2"/>
<rect x="203.6" y="864.9" width="6.5" height="6.5" fill="#9badd2"/>
<rect x="209.8" y="864.9" width="6.5" height="6.5" fill="#9cacd2"/>
<rect x="216" y="864.9" width="6.5" height="6.5" fill="#9bacd2"/>
<rect x="222.2" y="864.9" width="6.5" height="6.5" fill="#9cacd2"/>
<rect x="228.4" y="864.9" width="6.5" height="6.5" fill="#98add4"/>
<rect x="234.6" y="864.9" width="6.5" height="6.5" fill="#9cacd2"/>
<rect x="240.8" y="864.9" width="6.5" height="6.5" fill="#98add3"/>
<rect x="247" y="864.9" width="6.5" height="6.5" fill="#99add3"/>
<rect x="253.1" y="864.9" width="6.5" height="6.5" fill="#97add4"/>
<rect x="259.3" y="864.9" width="6.5" height="6.5" fill="#98add4"/>
<rect x="265.5" y="864.9" width="6.5" height="6.5" fill="#91aed7"/>
<rect x="271.7" y="864.9" width="6.5" height="6.5" fill="#9aadd3"/>
<rect x="277.9" y="864.9" width="6.5" height="6.5" fill="#95add5"/>
<rect x="36.5" y="871.2" width="6.5" height="6.5" fill="#8eaed9"/>
<rect x="42.7" y="871.2" width="6.5" height="6.5" fill="#8faed8"/>
<rect x="48.9" y="871.2" width="6.5" height="6.5" fill="#91aed7"/>
<rect x="55.1" y="871.2" width="6.5" height="6.5" fill="#91aed7"/>
<rect x="61.3" y="871.2" width="6.5" height="6.5" fill="#90aed8"/>
<rect x="67.4" y="871.2" width="6.5" height="6.5" fill="#8faed8"/>
<rect x="73.6" y="871.2" width="6.5" height="6.5" fill="#8bafda"/>
<rect x="79.8" y="871.2" width="6.5" height="6.5" fill="#93aed6"/>
<rect x="86" y="871.2" width="6.5" height="6.5" fill="#92aed7"/>
<rect x="92.2" y="871.2" width="6.5" height="6.5" fill="#93aed6"/>
<rect x="98.4" y="871.2" width="6.5" height="6.5" fill="#9eacd1"/>
<rect x="104.6" y="871.2" width="6.5" height="6.5" fill="#90aed7"/>
<rect x="110.8" y="871.2" width="6.5" height="6.5" fill="#98add4"/>
<rect x="117" y="871.2" width="6.5" height="6.5" fill="#9dacd1"/>
<rect x="123.2" y="871.2" width="6.5" height="6.5" fill="#9eacd1"/>
<rect x="129.3" y="871.2" width="6.5" height="6.5" fill="#a0acd0"/>
<rect x="135.5" y="871.2" width="6.5" height="6.5" fill="#98add4"/>
<rect x="141.7" y="871.2" width="6.5" height="6.5" fill="#9aadd3"/>
<rect x="147.9" y="871.2" width="6.5" height="6.5" fill="#a1acd0"/>
<rect x="154.1" y="871.2" width="6.5" height="6.5" fill="#9eacd1"/>
<rect x="160.3" y="871.2" width="6.5" height="6.5" fill="#a6abcd"/>
<rect x="166.5" y="871.2" width="6.5" height="6.5" fill="#a1acd0"/>
<rect x="172.7" y="871.2" width="6.5" height="6.5" fill="#a1acd0"/>
<rect x="178.9" y="871.2" width="6.5" height="6.5" fill="#a2accf"/>
<rect x="185.1" y="871.2" width="6.5" height="6.5" fill="#9facd0"/>
<rect x="191.2" y="871.2" width="6.5" height="6.5" fill="#a0acd0"/>
<rect x="197.4" y="871.2" width="6.5" height="6.5" fill="#9dacd2"/>
<rect x="203.6" y="871.2" width="6.5" height="6.5" fill="#9eacd1"/>
<rect x="209.8" y="871.2" width="6.5" height="6.5" fill="#9cacd2"/>
<rect x="216" y="871.2" width="6.5" height="6.5" fill="#9dacd1"/>
<rect x="222.2" y="871.2" width="6.5" height="6.5" fill="#97add4"/>
<rect x="228.4" y="871.2" width="6.5" height="6.5" fill="#95add5"/>
<rect x="234.6" y="871.2" width="6.5" height="6.5" fill="#9badd2"/>
<rect x="240.8" y="871.2" width="6.5" height="6.5" fill="#99add3"/>
<rect x="247" y="871.2" width="6.5" height="6.5" fill="#94add5"/>
<rect x="253.1" y="871.2" width="6.5" height="6.5" fill="#96add5"/>
<rect x="259.3" y="871.2" width="6.5" height="6.5" fill="#92aed6"/>
<rect x="265.5" y="871.2" width="6.5" height="6.5" fill="#9cacd2"/>
<rect x="271.7" y="871.2" width="6.5" height="6.5" fill="#8faed8"/>
<rect x="277.9" y="871.2" width="6.5" height="6.5" fill="#9aadd3"/>
</g></g>
<rect x="36.5" y="640.6" width="247.6" height="236.8" fill="none" stroke="#26354d" stroke-width="1"/>
<g clip-path="url(#ch)"><g filter="url(#bl)">
<rect x="402" y="634.6" width="259.5" height="248.8" fill="#acaaca"/>
<rect x="408" y="640.6" width="6.5" height="6.5" fill="#a2accf"/>
<rect x="414.2" y="640.6" width="6.5" height="6.5" fill="#a9abcc"/>
<rect x="420.4" y="640.6" width="6.5" height="6.5" fill="#a5abce"/>
<rect x="426.6" y="640.6" width="6.5" height="6.5" fill="#a4abce"/>
<rect x="432.8" y="640.6" width="6.5" height="6.5" fill="#acaaca"/>
<rect x="438.9" y="640.6" width="6.5" height="6.5" fill="#abaacb"/>
<rect x="445.1" y="640.6" width="6.5" height="6.5" fill="#a5abce"/>
<rect x="451.3" y="640.6" width="6.5" height="6.5" fill="#a1accf"/>
<rect x="457.5" y="640.6" width="6.5" height="6.5" fill="#b2a9c7"/>
<rect x="463.7" y="640.6" width="6.5" height="6.5" fill="#afaac9"/>
<rect x="469.9" y="640.6" width="6.5" height="6.5" fill="#a7abcd"/>
<rect x="476.1" y="640.6" width="6.5" height="6.5" fill="#a5abce"/>
<rect x="482.2" y="640.6" width="6.5" height="6.5" fill="#a8abcc"/>
<rect x="488.4" y="640.6" width="6.5" height="6.5" fill="#a7abcd"/>
<rect x="494.6" y="640.6" width="6.5" height="6.5" fill="#adaaca"/>
<rect x="500.8" y="640.6" width="6.5" height="6.5" fill="#a1acd0"/>
<rect x="507" y="640.6" width="6.5" height="6.5" fill="#a7abcd"/>
<rect x="513.2" y="640.6" width="6.5" height="6.5" fill="#a2accf"/>
<rect x="519.4" y="640.6" width="6.5" height="6.5" fill="#aeaac9"/>
<rect x="525.6" y="640.6" width="6.5" height="6.5" fill="#b1aac8"/>
<rect x="531.8" y="640.6" width="6.5" height="6.5" fill="#a6abcd"/>
<rect x="537.9" y="640.6" width="6.5" height="6.5" fill="#aaabcb"/>
<rect x="544.1" y="640.6" width="6.5" height="6.5" fill="#afaac9"/>
<rect x="550.3" y="640.6" width="6.5" height="6.5" fill="#a5abce"/>
<rect x="556.5" y="640.6" width="6.5" height="6.5" fill="#a1accf"/>
<rect x="562.7" y="640.6" width="6.5" height="6.5" fill="#acaaca"/>
<rect x="568.9" y="640.6" width="6.5" height="6.5" fill="#a9abcb"/>
<rect x="575.1" y="640.6" width="6.5" height="6.5" fill="#a5abcd"/>
<rect x="581.2" y="640.6" width="6.5" height="6.5" fill="#afaac9"/>
<rect x="587.4" y="640.6" width="6.5" height="6.5" fill="#a8abcc"/>
<rect x="593.6" y="640.6" width="6.5" height="6.5" fill="#9dacd1"/>
<rect x="599.8" y="640.6" width="6.5" height="6.5" fill="#aaaacb"/>
<rect x="606" y="640.6" width="6.5" height="6.5" fill="#a9abcc"/>
<rect x="612.2" y="640.6" width="6.5" height="6.5" fill="#b5a9c6"/>
<rect x="618.4" y="640.6" width="6.5" height="6.5" fill="#acaaca"/>
<rect x="624.6" y="640.6" width="6.5" height="6.5" fill="#adaaca"/>
<rect x="630.8" y="640.6" width="6.5" height="6.5" fill="#b3a9c7"/>
<rect x="636.9" y="640.6" width="6.5" height="6.5" fill="#b4a9c6"/>
<rect x="643.1" y="640.6" width="6.5" height="6.5" fill="#acaaca"/>
<rect x="649.3" y="640.6" width="6.5" height="6.5" fill="#b6a9c5"/>
<rect x="408" y="646.8" width="6.5" height="6.5" fill="#a4abce"/>
<rect x="414.2" y="646.8" width="6.5" height="6.5" fill="#aeaac9"/>
<rect x="420.4" y="646.8" width="6.5" height="6.5" fill="#b4a9c7"/>
<rect x="426.6" y="646.8" width="6.5" height="6.5" fill="#9facd0"/>
<rect x="432.8" y="646.8" width="6.5" height="6.5" fill="#a0acd0"/>
<rect x="438.9" y="646.8" width="6.5" height="6.5" fill="#a1accf"/>
<rect x="445.1" y="646.8" width="6.5" height="6.5" fill="#a2accf"/>
<rect x="451.3" y="646.8" width="6.5" height="6.5" fill="#a2accf"/>
<rect x="457.5" y="646.8" width="6.5" height="6.5" fill="#a6abcd"/>
<rect x="463.7" y="646.8" width="6.5" height="6.5" fill="#acaaca"/>
<rect x="469.9" y="646.8" width="6.5" height="6.5" fill="#9eacd1"/>
<rect x="476.1" y="646.8" width="6.5" height="6.5" fill="#9dacd1"/>
<rect x="482.2" y="646.8" width="6.5" height="6.5" fill="#9badd2"/>
<rect x="488.4" y="646.8" width="6.5" height="6.5" fill="#acaaca"/>
<rect x="494.6" y="646.8" width="6.5" height="6.5" fill="#aeaac9"/>
<rect x="500.8" y="646.8" width="6.5" height="6.5" fill="#9dacd1"/>
<rect x="507" y="646.8" width="6.5" height="6.5" fill="#9cacd2"/>
<rect x="513.2" y="646.8" width="6.5" height="6.5" fill="#a7abcd"/>
<rect x="519.4" y="646.8" width="6.5" height="6.5" fill="#acaaca"/>
<rect x="525.6" y="646.8" width="6.5" height="6.5" fill="#acaaca"/>
<rect x="531.8" y="646.8" width="6.5" height="6.5" fill="#a7abcd"/>
<rect x="537.9" y="646.8" width="6.5" height="6.5" fill="#aaaacb"/>
<rect x="544.1" y="646.8" width="6.5" height="6.5" fill="#a8abcc"/>
<rect x="550.3" y="646.8" width="6.5" height="6.5" fill="#a3abcf"/>
<rect x="556.5" y="646.8" width="6.5" height="6.5" fill="#b1a9c8"/>
<rect x="562.7" y="646.8" width="6.5" height="6.5" fill="#a6abcd"/>
<rect x="568.9" y="646.8" width="6.5" height="6.5" fill="#a0acd0"/>
<rect x="575.1" y="646.8" width="6.5" height="6.5" fill="#a3abce"/>
<rect x="581.2" y="646.8" width="6.5" height="6.5" fill="#9dacd1"/>
<rect x="587.4" y="646.8" width="6.5" height="6.5" fill="#a6abcd"/>
<rect x="593.6" y="646.8" width="6.5" height="6.5" fill="#adaaca"/>
<rect x="599.8" y="646.8" width="6.5" height="6.5" fill="#a0acd0"/>
<rect x="606" y="646.8" width="6.5" height="6.5" fill="#afaac9"/>
<rect x="612.2" y="646.8" width="6.5" height="6.5" fill="#b6a9c6"/>
<rect x="618.4" y="646.8" width="6.5" height="6.5" fill="#aeaac9"/>
<rect x="624.6" y="646.8" width="6.5" height="6.5" fill="#a7abcd"/>
<rect x="630.8" y="646.8" width="6.5" height="6.5" fill="#abaacb"/>
<rect x="636.9" y="646.8" width="6.5" height="6.5" fill="#b0aac8"/>
<rect x="643.1" y="646.8" width="6.5" height="6.5" fill="#adaaca"/>
<rect x="649.3" y="646.8" width="6.5" height="6.5" fill="#aeaac9"/>
<rect x="408" y="653.1" width="6.5" height="6.5" fill="#a4abce"/>
<rect x="414.2" y="653.1" width="6.5" height="6.5" fill="#a4abce"/>
<rect x="420.4" y="653.1" width="6.5" height="6.5" fill="#a9abcc"/>
<rect x="426.6" y="653.1" width="6.5" height="6.5" fill="#9eacd1"/>
<rect x="432.8" y="653.1" width="6.5" height="6.5" fill="#b0aac8"/>
<rect x="438.9" y="653.1" width="6.5" height="6.5" fill="#abaacb"/>
<rect x="445.1" y="653.1" width="6.5" height="6.5" fill="#aaaacb"/>
<rect x="451.3" y="653.1" width="6.5" height="6.5" fill="#a1accf"/>
<rect x="457.5" y="653.1" width="6.5" height="6.5" fill="#afaac9"/>
<rect x="463.7" y="653.1" width="6.5" height="6.5" fill="#a3abce"/>
<rect x="469.9" y="653.1" width="6.5" height="6.5" fill="#b0aac9"/>
<rect x="476.1" y="653.1" width="6.5" height="6.5" fill="#abaacb"/>
<rect x="482.2" y="653.1" width="6.5" height="6.5" fill="#a0acd0"/>
<rect x="488.4" y="653.1" width="6.5" height="6.5" fill="#a2accf"/>
<rect x="494.6" y="653.1" width="6.5" height="6.5" fill="#b0aac8"/>
<rect x="500.8" y="653.1" width="6.5" height="6.5" fill="#abaacb"/>
<rect x="507" y="653.1" width="6.5" height="6.5" fill="#a4abce"/>
<rect x="513.2" y="653.1" width="6.5" height="6.5" fill="#a6abcd"/>
<rect x="519.4" y="653.1" width="6.5" height="6.5" fill="#a6abcd"/>
<rect x="525.6" y="653.1" width="6.5" height="6.5" fill="#a1acd0"/>
<rect x="531.8" y="653.1" width="6.5" height="6.5" fill="#a4abce"/>
<rect x="537.9" y="653.1" width="6.5" height="6.5" fill="#a1accf"/>
<rect x="544.1" y="653.1" width="6.5" height="6.5" fill="#a3abcf"/>
<rect x="550.3" y="653.1" width="6.5" height="6.5" fill="#a8abcc"/>
<rect x="556.5" y="653.1" width="6.5" height="6.5" fill="#9facd0"/>
<rect x="562.7" y="653.1" width="6.5" height="6.5" fill="#a9abcc"/>
<rect x="568.9" y="653.1" width="6.5" height="6.5" fill="#a6abcd"/>
<rect x="575.1" y="653.1" width="6.5" height="6.5" fill="#aaabcb"/>
<rect x="581.2" y="653.1" width="6.5" height="6.5" fill="#aaaacb"/>
<rect x="587.4" y="653.1" width="6.5" height="6.5" fill="#adaaca"/>
<rect x="593.6" y="653.1" width="6.5" height="6.5" fill="#aaabcb"/>
<rect x="599.8" y="653.1" width="6.5" height="6.5" fill="#abaacb"/>
<rect x="606" y="653.1" width="6.5" height="6.5" fill="#a6abcd"/>
<rect x="612.2" y="653.1" width="6.5" height="6.5" fill="#acaaca"/>
<rect x="618.4" y="653.1" width="6.5" height="6.5" fill="#a6abcd"/>
<rect x="624.6" y="653.1" width="6.5" height="6.5" fill="#acaaca"/>
<rect x="630.8" y="653.1" width="6.5" height="6.5" fill="#b4a9c7"/>
<rect x="636.9" y="653.1" width="6.5" height="6.5" fill="#b1a9c8"/>
<rect x="643.1" y="653.1" width="6.5" height="6.5" fill="#b6a9c6"/>
<rect x="649.3" y="653.1" width="6.5" height="6.5" fill="#aeaac9"/>
<rect x="408" y="659.3" width="6.5" height="6.5" fill="#acaaca"/>
<rect x="414.2" y="659.3" width="6.5" height="6.5" fill="#a1acd0"/>
<rect x="420.4" y="659.3" width="6.5" height="6.5" fill="#a6abcd"/>
<rect x="426.6" y="659.3" width="6.5" height="6.5" fill="#a4abce"/>
<rect x="432.8" y="659.3" width="6.5" height="6.5" fill="#a9abcb"/>
<rect x="438.9" y="659.3" width="6.5" height="6.5" fill="#a2accf"/>
<rect x="445.1" y="659.3" width="6.5" height="6.5" fill="#9eacd1"/>
<rect x="451.3" y="659.3" width="6.5" height="6.5" fill="#99add3"/>
<rect x="457.5" y="659.3" width="6.5" height="6.5" fill="#a2accf"/>
<rect x="463.7" y="659.3" width="6.5" height="6.5" fill="#9dacd1"/>
<rect x="469.9" y="659.3" width="6.5" height="6.5" fill="#a7abcd"/>
<rect x="476.1" y="659.3" width="6.5" height="6.5" fill="#acaaca"/>
<rect x="482.2" y="659.3" width="6.5" height="6.5" fill="#97add4"/>
<rect x="488.4" y="659.3" width="6.5" height="6.5" fill="#9cacd2"/>
<rect x="494.6" y="659.3" width="6.5" height="6.5" fill="#a6abcd"/>
<rect x="500.8" y="659.3" width="6.5" height="6.5" fill="#abaacb"/>
<rect x="507" y="659.3" width="6.5" height="6.5" fill="#a6abcd"/>
<rect x="513.2" y="659.3" width="6.5" height="6.5" fill="#a6abcd"/>
<rect x="519.4" y="659.3" width="6.5" height="6.5" fill="#a7abcd"/>
<rect x="525.6" y="659.3" width="6.5" height="6.5" fill="#a7abcc"/>
<rect x="531.8" y="659.3" width="6.5" height="6.5" fill="#aeaaca"/>
<rect x="537.9" y="659.3" width="6.5" height="6.5" fill="#a8abcc"/>
<rect x="544.1" y="659.3" width="6.5" height="6.5" fill="#9dacd1"/>
<rect x="550.3" y="659.3" width="6.5" height="6.5" fill="#a1accf"/>
<rect x="556.5" y="659.3" width="6.5" height="6.5" fill="#a5abcd"/>
<rect x="562.7" y="659.3" width="6.5" height="6.5" fill="#9facd0"/>
<rect x="568.9" y="659.3" width="6.5" height="6.5" fill="#a2accf"/>
<rect x="575.1" y="659.3" width="6.5" height="6.5" fill="#a1accf"/>
<rect x="581.2" y="659.3" width="6.5" height="6.5" fill="#a0acd0"/>
<rect x="587.4" y="659.3" width="6.5" height="6.5" fill="#a8abcc"/>
<rect x="593.6" y="659.3" width="6.5" height="6.5" fill="#a3abcf"/>
<rect x="599.8" y="659.3" width="6.5" height="6.5" fill="#9facd0"/>
<rect x="606" y="659.3" width="6.5" height="6.5" fill="#a2accf"/>
<rect x="612.2" y="659.3" width="6.5" height="6.5" fill="#a8abcc"/>
<rect x="618.4" y="659.3" width="6.5" height="6.5" fill="#b6a9c6"/>
<rect x="624.6" y="659.3" width="6.5" height="6.5" fill="#adaaca"/>
<rect x="630.8" y="659.3" width="6.5" height="6.5" fill="#b7a9c5"/>
<rect x="636.9" y="659.3" width="6.5" height="6.5" fill="#b3a9c7"/>
<rect x="643.1" y="659.3" width="6.5" height="6.5" fill="#a5abcd"/>
<rect x="649.3" y="659.3" width="6.5" height="6.5" fill="#b5a9c6"/>
<rect x="408" y="665.5" width="6.5" height="6.5" fill="#9eacd1"/>
<rect x="414.2" y="665.5" width="6.5" height="6.5" fill="#9badd2"/>
<rect x="420.4" y="665.5" width="6.5" height="6.5" fill="#9dacd2"/>
<rect x="426.6" y="665.5" width="6.5" height="6.5" fill="#adaaca"/>
<rect x="432.8" y="665.5" width="6.5" height="6.5" fill="#9aadd3"/>
<rect x="438.9" y="665.5" width="6.5" height="6.5" fill="#9facd0"/>
<rect x="445.1" y="665.5" width="6.5" height="6.5" fill="#aaabcb"/>
<rect x="451.3" y="665.5" width="6.5" height="6.5" fill="#a7abcd"/>
<rect x="457.5" y="665.5" width="6.5" height="6.5" fill="#99add3"/>
<rect x="463.7" y="665.5" width="6.5" height="6.5" fill="#a2accf"/>
<rect x="469.9" y="665.5" width="6.5" height="6.5" fill="#a0acd0"/>
<rect x="476.1" y="665.5" width="6.5" height="6.5" fill="#a2accf"/>
<rect x="482.2" y="665.5" width="6.5" height="6.5" fill="#a7abcc"/>
<rect x="488.4" y="665.5" width="6.5" height="6.5" fill="#a0acd0"/>
<rect x="494.6" y="665.5" width="6.5" height="6.5" fill="#a1accf"/>
<rect x="500.8" y="665.5" width="6.5" height="6.5" fill="#abaacb"/>
<rect x="507" y="665.5" width="6.5" height="6.5" fill="#98add4"/>
<rect x="513.2" y="665.5" width="6.5" height="6.5" fill="#a1acd0"/>
<rect x="519.4" y="665.5" width="6.5" height="6.5" fill="#a6abcd"/>
<rect x="525.6" y="665.5" width="6.5" height="6.5" fill="#9cacd2"/>
<rect x="531.8" y="665.5" width="6.5" height="6.5" fill="#9facd0"/>
<rect x="537.9" y="665.5" width="6.5" height="6.5" fill="#9badd2"/>
<rect x="544.1" y="665.5" width="6.5" height="6.5" fill="#a4abce"/>
<rect x="550.3" y="665.5" width="6.5" height="6.5" fill="#9facd0"/>
<rect x="556.5" y="665.5" width="6.5" height="6.5" fill="#a8abcc"/>
<rect x="562.7" y="665.5" width="6.5" height="6.5" fill="#a9abcc"/>
<rect x="568.9" y="665.5" width="6.5" height="6.5" fill="#a3abce"/>
<rect x="575.1" y="665.5" width="6.5" height="6.5" fill="#a1acd0"/>
<rect x="581.2" y="665.5" width="6.5" height="6.5" fill="#a5abce"/>
<rect x="587.4" y="665.5" width="6.5" height="6.5" fill="#a4abce"/>
<rect x="593.6" y="665.5" width="6.5" height="6.5" fill="#9dacd2"/>
<rect x="599.8" y="665.5" width="6.5" height="6.5" fill="#abaacb"/>
<rect x="606" y="665.5" width="6.5" height="6.5" fill="#a7abcd"/>
<rect x="612.2" y="665.5" width="6.5" height="6.5" fill="#abaacb"/>
<rect x="618.4" y="665.5" width="6.5" height="6.5" fill="#a1acd0"/>
<rect x="624.6" y="665.5" width="6.5" height="6.5" fill="#b0aac8"/>
<rect x="630.8" y="665.5" width="6.5" height="6.5" fill="#b9a8c4"/>
<rect x="636.9" y="665.5" width="6.5" height="6.5" fill="#b3a9c7"/>
<rect x="643.1" y="665.5" width="6.5" height="6.5" fill="#a8abcc"/>
<rect x="649.3" y="665.5" width="6.5" height="6.5" fill="#b2a9c7"/>
<rect x="408" y="671.8" width="6.5" height="6.5" fill="#a2accf"/>
<rect x="414.2" y="671.8" width="6.5" height="6.5" fill="#a3abce"/>
<rect x="420.4" y="671.8" width="6.5" height="6.5" fill="#a1acd0"/>
<rect x="426.6" y="671.8" width="6.5" height="6.5" fill="#a5abce"/>
<rect x="432.8" y="671.8" width="6.5" height="6.5" fill="#9facd0"/>
<rect x="438.9" y="671.8" width="6.5" height="6.5" fill="#a3abce"/>
<rect x="445.1" y="671.8" width="6.5" height="6.5" fill="#9eacd1"/>
<rect x="451.3" y="671.8" width="6.5" height="6.5" fill="#a3abcf"/>
<rect x="457.5" y="671.8" width="6.5" height="6.5" fill="#a8abcc"/>
<rect x="463.7" y="671.8" width="6.5" height="6.5" fill="#9facd0"/>
<rect x="469.9" y="671.8" width="6.5" height="6.5" fill="#a6abcd"/>
<rect x="476.1" y="671.8" width="6.5" height="6.5" fill="#9dacd1"/>
<rect x="482.2" y="671.8" width="6.5" height="6.5" fill="#a0acd0"/>
<rect x="488.4" y="671.8" width="6.5" height="6.5" fill="#a1acd0"/>
<rect x="494.6" y="671.8" width="6.5" height="6.5" fill="#a9abcc"/>
<rect x="500.8" y="671.8" width="6.5" height="6.5" fill="#9eacd1"/>
<rect x="507" y="671.8" width="6.5" height="6.5" fill="#a9abcc"/>
<rect x="513.2" y="671.8" width="6.5" height="6.5" fill="#99add3"/>
<rect x="519.4" y="671.8" width="6.5" height="6.5" fill="#a1accf"/>
<rect x="525.6" y="671.8" width="6.5" height="6.5" fill="#a7abcc"/>
<rect x="531.8" y="671.8" width="6.5" height="6.5" fill="#a6abcd"/>
<rect x="537.9" y="671.8" width="6.5" height="6.5" fill="#9cacd2"/>
<rect x="544.1" y="671.8" width="6.5" height="6.5" fill="#9badd2"/>
<rect x="550.3" y="671.8" width="6.5" height="6.5" fill="#a7abcd"/>
<rect x="556.5" y="671.8" width="6.5" height="6.5" fill="#9badd2"/>
<rect x="562.7" y="671.8" width="6.5" height="6.5" fill="#a5abcd"/>
<rect x="568.9" y="671.8" width="6.5" height="6.5" fill="#9facd0"/>
<rect x="575.1" y="671.8" width="6.5" height="6.5" fill="#a2accf"/>
<rect x="581.2" y="671.8" width="6.5" height="6.5" fill="#b0aac8"/>
<rect x="587.4" y="671.8" width="6.5" height="6.5" fill="#acaaca"/>
<rect x="593.6" y="671.8" width="6.5" height="6.5" fill="#a8abcc"/>
<rect x="599.8" y="671.8" width="6.5" height="6.5" fill="#9bacd2"/>
<rect x="606" y="671.8" width="6.5" height="6.5" fill="#a6abcd"/>
<rect x="612.2" y="671.8" width="6.5" height="6.5" fill="#a6abcd"/>
<rect x="618.4" y="671.8" width="6.5" height="6.5" fill="#a7abcd"/>
<rect x="624.6" y="671.8" width="6.5" height="6.5" fill="#b2a9c8"/>
<rect x="630.8" y="671.8" width="6.5" height="6.5" fill="#a2accf"/>
<rect x="636.9" y="671.8" width="6.5" height="6.5" fill="#b0aac8"/>
<rect x="643.1" y="671.8" width="6.5" height="6.5" fill="#b1aac8"/>
<rect x="649.3" y="671.8" width="6.5" height="6.5" fill="#adaaca"/>
<rect x="408" y="678" width="6.5" height="6.5" fill="#acaaca"/>
<rect x="414.2" y="678" width="6.5" height="6.5" fill="#9aadd3"/>
<rect x="420.4" y="678" width="6.5" height="6.5" fill="#a2accf"/>
<rect x="426.6" y="678" width="6.5" height="6.5" fill="#a2accf"/>
<rect x="432.8" y="678" width="6.5" height="6.5" fill="#95add5"/>
<rect x="438.9" y="678" width="6.5" height="6.5" fill="#99add3"/>
<rect x="445.1" y="678" width="6.5" height="6.5" fill="#9cacd2"/>
<rect x="451.3" y="678" width="6.5" height="6.5" fill="#a6abcd"/>
<rect x="457.5" y="678" width="6.5" height="6.5" fill="#a7abcd"/>
<rect x="463.7" y="678" width="6.5" height="6.5" fill="#a5abce"/>
<rect x="469.9" y="678" width="6.5" height="6.5" fill="#a3abcf"/>
<rect x="476.1" y="678" width="6.5" height="6.5" fill="#95add5"/>
<rect x="482.2" y="678" width="6.5" height="6.5" fill="#a3abcf"/>
<rect x="488.4" y="678" width="6.5" height="6.5" fill="#9eacd1"/>
<rect x="494.6" y="678" width="6.5" height="6.5" fill="#a8abcc"/>
<rect x="500.8" y="678" width="6.5" height="6.5" fill="#a9abcc"/>
<rect x="507" y="678" width="6.5" height="6.5" fill="#afaac9"/>
<rect x="513.2" y="678" width="6.5" height="6.5" fill="#a6abcd"/>
<rect x="519.4" y="678" width="6.5" height="6.5" fill="#a6abcd"/>
<rect x="525.6" y="678" width="6.5" height="6.5" fill="#9bacd2"/>
<rect x="531.8" y="678" width="6.5" height="6.5" fill="#a2accf"/>
<rect x="537.9" y="678" width="6.5" height="6.5" fill="#9aadd3"/>
<rect x="544.1" y="678" width="6.5" height="6.5" fill="#a7abcd"/>
<rect x="550.3" y="678" width="6.5" height="6.5" fill="#9aadd3"/>
<rect x="556.5" y="678" width="6.5" height="6.5" fill="#a0acd0"/>
<rect x="562.7" y="678" width="6.5" height="6.5" fill="#9dacd2"/>
<rect x="568.9" y="678" width="6.5" height="6.5" fill="#9facd1"/>
<rect x="575.1" y="678" width="6.5" height="6.5" fill="#a4abce"/>
<rect x="581.2" y="678" width="6.5" height="6.5" fill="#9eacd1"/>
<rect x="587.4" y="678" width="6.5" height="6.5" fill="#a3abce"/>
<rect x="593.6" y="678" width="6.5" height="6.5" fill="#9cacd2"/>
<rect x="599.8" y="678" width="6.5" height="6.5" fill="#abaacb"/>
<rect x="606" y="678" width="6.5" height="6.5" fill="#a0acd0"/>
<rect x="612.2" y="678" width="6.5" height="6.5" fill="#abaacb"/>
<rect x="618.4" y="678" width="6.5" height="6.5" fill="#b4a9c7"/>
<rect x="624.6" y="678" width="6.5" height="6.5" fill="#9badd2"/>
<rect x="630.8" y="678" width="6.5" height="6.5" fill="#a6abcd"/>
<rect x="636.9" y="678" width="6.5" height="6.5" fill="#adaaca"/>
<rect x="643.1" y="678" width="6.5" height="6.5" fill="#b6a9c5"/>
<rect x="649.3" y="678" width="6.5" height="6.5" fill="#adaaca"/>
<rect x="408" y="684.2" width="6.5" height="6.5" fill="#a3abce"/>
<rect x="414.2" y="684.2" width="6.5" height="6.5" fill="#9dacd1"/>
<rect x="420.4" y="684.2" width="6.5" height="6.5" fill="#a4abce"/>
<rect x="426.6" y="684.2" width="6.5" height="6.5" fill="#9aadd3"/>
<rect x="432.8" y="684.2" width="6.5" height="6.5" fill="#a6abcd"/>
<rect x="438.9" y="684.2" width="6.5" height="6.5" fill="#8faed8"/>
<rect x="445.1" y="684.2" width="6.5" height="6.5" fill="#96add5"/>
<rect x="451.3" y="684.2" width="6.5" height="6.5" fill="#acaaca"/>
<rect x="457.5" y="684.2" width="6.5" height="6.5" fill="#a2accf"/>
<rect x="463.7" y="684.2" width="6.5" height="6.5" fill="#9cacd2"/>
<rect x="469.9" y="684.2" width="6.5" height="6.5" fill="#aeaac9"/>
<rect x="476.1" y="684.2" width="6.5" height="6.5" fill="#a7abcd"/>
<rect x="482.2" y="684.2" width="6.5" height="6.5" fill="#a8abcc"/>
<rect x="488.4" y="684.2" width="6.5" height="6.5" fill="#9facd1"/>
<rect x="494.6" y="684.2" width="6.5" height="6.5" fill="#a5abce"/>
<rect x="500.8" y="684.2" width="6.5" height="6.5" fill="#a4abce"/>
<rect x="507" y="684.2" width="6.5" height="6.5" fill="#97add4"/>
<rect x="513.2" y="684.2" width="6.5" height="6.5" fill="#a4abce"/>
<rect x="519.4" y="684.2" width="6.5" height="6.5" fill="#a0acd0"/>
<rect x="525.6" y="684.2" width="6.5" height="6.5" fill="#a9abcc"/>
<rect x="531.8" y="684.2" width="6.5" height="6.5" fill="#a9abcc"/>
<rect x="537.9" y="684.2" width="6.5" height="6.5" fill="#9dacd1"/>
<rect x="544.1" y="684.2" width="6.5" height="6.5" fill="#9dacd1"/>
<rect x="550.3" y="684.2" width="6.5" height="6.5" fill="#a2accf"/>
<rect x="556.5" y="684.2" width="6.5" height="6.5" fill="#a5abce"/>
<rect x="562.7" y="684.2" width="6.5" height="6.5" fill="#9facd1"/>
<rect x="568.9" y="684.2" width="6.5" height="6.5" fill="#a0acd0"/>
<rect x="575.1" y="684.2" width="6.5" height="6.5" fill="#a5abce"/>
<rect x="581.2" y="684.2" width="6.5" height="6.5" fill="#a4abce"/>
<rect x="587.4" y="684.2" width="6.5" height="6.5" fill="#a8abcc"/>
<rect x="593.6" y="684.2" width="6.5" height="6.5" fill="#a3abce"/>
<rect x="599.8" y="684.2" width="6.5" height="6.5" fill="#9dacd1"/>
<rect x="606" y="684.2" width="6.5" height="6.5" fill="#99add3"/>
<rect x="612.2" y="684.2" width="6.5" height="6.5" fill="#aaabcb"/>
<rect x="618.4" y="684.2" width="6.5" height="6.5" fill="#a5abce"/>
<rect x="624.6" y="684.2" width="6.5" height="6.5" fill="#a7abcd"/>
<rect x="630.8" y="684.2" width="6.5" height="6.5" fill="#a9abcb"/>
<rect x="636.9" y="684.2" width="6.5" height="6.5" fill="#a4abce"/>
<rect x="643.1" y="684.2" width="6.5" height="6.5" fill="#adaaca"/>
<rect x="649.3" y="684.2" width="6.5" height="6.5" fill="#a1acd0"/>
<rect x="408" y="690.5" width="6.5" height="6.5" fill="#9eacd1"/>
<rect x="414.2" y="690.5" width="6.5" height="6.5" fill="#9bacd2"/>
<rect x="420.4" y="690.5" width="6.5" height="6.5" fill="#acaaca"/>
<rect x="426.6" y="690.5" width="6.5" height="6.5" fill="#a3abce"/>
<rect x="432.8" y="690.5" width="6.5" height="6.5" fill="#9facd0"/>
<rect x="438.9" y="690.5" width="6.5" height="6.5" fill="#a2accf"/>
<rect x="445.1" y="690.5" width="6.5" height="6.5" fill="#a5abce"/>
<rect x="451.3" y="690.5" width="6.5" height="6.5" fill="#9cacd2"/>
<rect x="457.5" y="690.5" width="6.5" height="6.5" fill="#9facd0"/>
<rect x="463.7" y="690.5" width="6.5" height="6.5" fill="#9facd1"/>
<rect x="469.9" y="690.5" width="6.5" height="6.5" fill="#b0aac9"/>
<rect x="476.1" y="690.5" width="6.5" height="6.5" fill="#a1accf"/>
<rect x="482.2" y="690.5" width="6.5" height="6.5" fill="#95add5"/>
<rect x="488.4" y="690.5" width="6.5" height="6.5" fill="#a5abcd"/>
<rect x="494.6" y="690.5" width="6.5" height="6.5" fill="#b0aac8"/>
<rect x="500.8" y="690.5" width="6.5" height="6.5" fill="#9badd2"/>
<rect x="507" y="690.5" width="6.5" height="6.5" fill="#b5a9c6"/>
<rect x="513.2" y="690.5" width="6.5" height="6.5" fill="#a0acd0"/>
<rect x="519.4" y="690.5" width="6.5" height="6.5" fill="#a7abcd"/>
<rect x="525.6" y="690.5" width="6.5" height="6.5" fill="#9dacd1"/>
<rect x="531.8" y="690.5" width="6.5" height="6.5" fill="#9facd0"/>
<rect x="537.9" y="690.5" width="6.5" height="6.5" fill="#99add3"/>
<rect x="544.1" y="690.5" width="6.5" height="6.5" fill="#9aadd3"/>
<rect x="550.3" y="690.5" width="6.5" height="6.5" fill="#94aed6"/>
<rect x="556.5" y="690.5" width="6.5" height="6.5" fill="#a8abcc"/>
<rect x="562.7" y="690.5" width="6.5" height="6.5" fill="#9aadd3"/>
<rect x="568.9" y="690.5" width="6.5" height="6.5" fill="#a3abcf"/>
<rect x="575.1" y="690.5" width="6.5" height="6.5" fill="#a3abcf"/>
<rect x="581.2" y="690.5" width="6.5" height="6.5" fill="#9dacd1"/>
<rect x="587.4" y="690.5" width="6.5" height="6.5" fill="#a1accf"/>
<rect x="593.6" y="690.5" width="6.5" height="6.5" fill="#a1accf"/>
<rect x="599.8" y="690.5" width="6.5" height="6.5" fill="#9facd0"/>
<rect x="606" y="690.5" width="6.5" height="6.5" fill="#a4abce"/>
<rect x="612.2" y="690.5" width="6.5" height="6.5" fill="#a5abce"/>
<rect x="618.4" y="690.5" width="6.5" height="6.5" fill="#a0acd0"/>
<rect x="624.6" y="690.5" width="6.5" height="6.5" fill="#a1acd0"/>
<rect x="630.8" y="690.5" width="6.5" height="6.5" fill="#a6abcd"/>
<rect x="636.9" y="690.5" width="6.5" height="6.5" fill="#aeaac9"/>
<rect x="643.1" y="690.5" width="6.5" height="6.5" fill="#b7a9c5"/>
<rect x="649.3" y="690.5" width="6.5" height="6.5" fill="#b8a8c4"/>
<rect x="408" y="696.7" width="6.5" height="6.5" fill="#a2accf"/>
<rect x="414.2" y="696.7" width="6.5" height="6.5" fill="#a6abcd"/>
<rect x="420.4" y="696.7" width="6.5" height="6.5" fill="#a1accf"/>
<rect x="426.6" y="696.7" width="6.5" height="6.5" fill="#a7abcd"/>
<rect x="432.8" y="696.7" width="6.5" height="6.5" fill="#a1accf"/>
<rect x="438.9" y="696.7" width="6.5" height="6.5" fill="#a3abcf"/>
<rect x="445.1" y="696.7" width="6.5" height="6.5" fill="#9facd0"/>
<rect x="451.3" y="696.7" width="6.5" height="6.5" fill="#a1acd0"/>
<rect x="457.5" y="696.7" width="6.5" height="6.5" fill="#acaaca"/>
<rect x="463.7" y="696.7" width="6.5" height="6.5" fill="#99add3"/>
<rect x="469.9" y="696.7" width="6.5" height="6.5" fill="#a1acd0"/>
<rect x="476.1" y="696.7" width="6.5" height="6.5" fill="#9dacd1"/>
<rect x="482.2" y="696.7" width="6.5" height="6.5" fill="#a6abcd"/>
<rect x="488.4" y="696.7" width="6.5" height="6.5" fill="#abaaca"/>
<rect x="494.6" y="696.7" width="6.5" height="6.5" fill="#9facd1"/>
<rect x="500.8" y="696.7" width="6.5" height="6.5" fill="#90aed8"/>
<rect x="507" y="696.7" width="6.5" height="6.5" fill="#a4abce"/>
<rect x="513.2" y="696.7" width="6.5" height="6.5" fill="#a4abce"/>
<rect x="519.4" y="696.7" width="6.5" height="6.5" fill="#96add4"/>
<rect x="525.6" y="696.7" width="6.5" height="6.5" fill="#9facd0"/>
<rect x="531.8" y="696.7" width="6.5" height="6.5" fill="#a0acd0"/>
<rect x="537.9" y="696.7" width="6.5" height="6.5" fill="#93aed6"/>
<rect x="544.1" y="696.7" width="6.5" height="6.5" fill="#a5abce"/>
<rect x="550.3" y="696.7" width="6.5" height="6.5" fill="#a3abce"/>
<rect x="556.5" y="696.7" width="6.5" height="6.5" fill="#a2accf"/>
<rect x="562.7" y="696.7" width="6.5" height="6.5" fill="#9aadd3"/>
<rect x="568.9" y="696.7" width="6.5" height="6.5" fill="#9cacd2"/>
<rect x="575.1" y="696.7" width="6.5" height="6.5" fill="#9dacd1"/>
<rect x="581.2" y="696.7" width="6.5" height="6.5" fill="#a4abce"/>
<rect x="587.4" y="696.7" width="6.5" height="6.5" fill="#9badd2"/>
<rect x="593.6" y="696.7" width="6.5" height="6.5" fill="#aaaacb"/>
<rect x="599.8" y="696.7" width="6.5" height="6.5" fill="#a4abce"/>
<rect x="606" y="696.7" width="6.5" height="6.5" fill="#96add5"/>
<rect x="612.2" y="696.7" width="6.5" height="6.5" fill="#afaac9"/>
<rect x="618.4" y="696.7" width="6.5" height="6.5" fill="#a7abcc"/>
<rect x="624.6" y="696.7" width="6.5" height="6.5" fill="#a5abcd"/>
<rect x="630.8" y="696.7" width="6.5" height="6.5" fill="#abaacb"/>
<rect x="636.9" y="696.7" width="6.5" height="6.5" fill="#a2accf"/>
<rect x="643.1" y="696.7" width="6.5" height="6.5" fill="#b0aac8"/>
<rect x="649.3" y="696.7" width="6.5" height="6.5" fill="#a1acd0"/>
<rect x="408" y="702.9" width="6.5" height="6.5" fill="#9aadd3"/>
<rect x="414.2" y="702.9" width="6.5" height="6.5" fill="#a9abcc"/>
<rect x="420.4" y="702.9" width="6.5" height="6.5" fill="#a8abcc"/>
<rect x="426.6" y="702.9" width="6.5" height="6.5" fill="#9eacd1"/>
<rect x="432.8" y="702.9" width="6.5" height="6.5" fill="#9badd2"/>
<rect x="438.9" y="702.9" width="6.5" height="6.5" fill="#a6abcd"/>
<rect x="445.1" y="702.9" width="6.5" height="6.5" fill="#a0acd0"/>
<rect x="451.3" y="702.9" width="6.5" height="6.5" fill="#a2accf"/>
<rect x="457.5" y="702.9" width="6.5" height="6.5" fill="#a4abce"/>
<rect x="463.7" y="702.9" width="6.5" height="6.5" fill="#9aadd3"/>
<rect x="469.9" y="702.9" width="6.5" height="6.5" fill="#a5abcd"/>
<rect x="476.1" y="702.9" width="6.5" height="6.5" fill="#94aed6"/>
<rect x="482.2" y="702.9" width="6.5" height="6.5" fill="#a9abcc"/>
<rect x="488.4" y="702.9" width="6.5" height="6.5" fill="#97add4"/>
<rect x="494.6" y="702.9" width="6.5" height="6.5" fill="#9dacd2"/>
<rect x="500.8" y="702.9" width="6.5" height="6.5" fill="#9cacd2"/>
<rect x="507" y="702.9" width="6.5" height="6.5" fill="#a5abce"/>
<rect x="513.2" y="702.9" width="6.5" height="6.5" fill="#a5abce"/>
<rect x="519.4" y="702.9" width="6.5" height="6.5" fill="#a3abcf"/>
<rect x="525.6" y="702.9" width="6.5" height="6.5" fill="#a4abce"/>
<rect x="531.8" y="702.9" width="6.5" height="6.5" fill="#a3abce"/>
<rect x="537.9" y="702.9" width="6.5" height="6.5" fill="#a0acd0"/>
<rect x="544.1" y="702.9" width="6.5" height="6.5" fill="#95add5"/>
<rect x="550.3" y="702.9" width="6.5" height="6.5" fill="#93aed6"/>
<rect x="556.5" y="702.9" width="6.5" height="6.5" fill="#93aed6"/>
<rect x="562.7" y="702.9" width="6.5" height="6.5" fill="#a0acd0"/>
<rect x="568.9" y="702.9" width="6.5" height="6.5" fill="#9facd0"/>
<rect x="575.1" y="702.9" width="6.5" height="6.5" fill="#a0acd0"/>
<rect x="581.2" y="702.9" width="6.5" height="6.5" fill="#a2accf"/>
<rect x="587.4" y="702.9" width="6.5" height="6.5" fill="#9facd0"/>
<rect x="593.6" y="702.9" width="6.5" height="6.5" fill="#9bacd2"/>
<rect x="599.8" y="702.9" width="6.5" height="6.5" fill="#99add3"/>
<rect x="606" y="702.9" width="6.5" height="6.5" fill="#97add4"/>
<rect x="612.2" y="702.9" width="6.5" height="6.5" fill="#acaaca"/>
<rect x="618.4" y="702.9" width="6.5" height="6.5" fill="#acaaca"/>
<rect x="624.6" y="702.9" width="6.5" height="6.5" fill="#a0acd0"/>
<rect x="630.8" y="702.9" width="6.5" height="6.5" fill="#a9abcc"/>
<rect x="636.9" y="702.9" width="6.5" height="6.5" fill="#afaac9"/>
<rect x="643.1" y="702.9" width="6.5" height="6.5" fill="#b8a9c5"/>
<rect x="649.3" y="702.9" width="6.5" height="6.5" fill="#acaaca"/>
<rect x="408" y="709.1" width="6.5" height="6.5" fill="#a1accf"/>
<rect x="414.2" y="709.1" width="6.5" height="6.5" fill="#a7abcc"/>
<rect x="420.4" y="709.1" width="6.5" height="6.5" fill="#96add5"/>
<rect x="426.6" y="709.1" width="6.5" height="6.5" fill="#9cacd2"/>
<rect x="432.8" y="709.1" width="6.5" height="6.5" fill="#a0acd0"/>
<rect x="438.9" y="709.1" width="6.5" height="6.5" fill="#9cacd2"/>
<rect x="445.1" y="709.1" width="6.5" height="6.5" fill="#adaaca"/>
<rect x="451.3" y="709.1" width="6.5" height="6.5" fill="#a6abcd"/>
<rect x="457.5" y="709.1" width="6.5" height="6.5" fill="#a2accf"/>
<rect x="463.7" y="709.1" width="6.5" height="6.5" fill="#9badd3"/>
<rect x="469.9" y="709.1" width="6.5" height="6.5" fill="#a6abcd"/>
<rect x="476.1" y="709.1" width="6.5" height="6.5" fill="#a4abce"/>
<rect x="482.2" y="709.1" width="6.5" height="6.5" fill="#9dacd1"/>
<rect x="488.4" y="709.1" width="6.5" height="6.5" fill="#9eacd1"/>
<rect x="494.6" y="709.1" width="6.5" height="6.5" fill="#98add4"/>
<rect x="500.8" y="709.1" width="6.5" height="6.5" fill="#a0acd0"/>
<rect x="507" y="709.1" width="6.5" height="6.5" fill="#a6abcd"/>
<rect x="513.2" y="709.1" width="6.5" height="6.5" fill="#a6abcd"/>
<rect x="519.4" y="709.1" width="6.5" height="6.5" fill="#a4abce"/>
<rect x="525.6" y="709.1" width="6.5" height="6.5" fill="#a5abcd"/>
<rect x="531.8" y="709.1" width="6.5" height="6.5" fill="#9dacd1"/>
<rect x="537.9" y="709.1" width="6.5" height="6.5" fill="#9eacd1"/>
<rect x="544.1" y="709.1" width="6.5" height="6.5" fill="#a8abcc"/>
<rect x="550.3" y="709.1" width="6.5" height="6.5" fill="#a3abce"/>
<rect x="556.5" y="709.1" width="6.5" height="6.5" fill="#9cacd2"/>
<rect x="562.7" y="709.1" width="6.5" height="6.5" fill="#a3abce"/>
<rect x="568.9" y="709.1" width="6.5" height="6.5" fill="#a5abcd"/>
<rect x="575.1" y="709.1" width="6.5" height="6.5" fill="#a5abce"/>
<rect x="581.2" y="709.1" width="6.5" height="6.5" fill="#a1accf"/>
<rect x="587.4" y="709.1" width="6.5" height="6.5" fill="#9eacd1"/>
<rect x="593.6" y="709.1" width="6.5" height="6.5" fill="#a4abce"/>
<rect x="599.8" y="709.1" width="6.5" height="6.5" fill="#acaaca"/>
<rect x="606" y="709.1" width="6.5" height="6.5" fill="#a4abce"/>
<rect x="612.2" y="709.1" width="6.5" height="6.5" fill="#a0acd0"/>
<rect x="618.4" y="709.1" width="6.5" height="6.5" fill="#a8abcc"/>
<rect x="624.6" y="709.1" width="6.5" height="6.5" fill="#a1acd0"/>
<rect x="630.8" y="709.1" width="6.5" height="6.5" fill="#acaaca"/>
<rect x="636.9" y="709.1" width="6.5" height="6.5" fill="#abaacb"/>
<rect x="643.1" y="709.1" width="6.5" height="6.5" fill="#b4a9c6"/>
<rect x="649.3" y="709.1" width="6.5" height="6.5" fill="#b0aac8"/>
<rect x="408" y="715.4" width="6.5" height="6.5" fill="#a7abcd"/>
<rect x="414.2" y="715.4" width="6.5" height="6.5" fill="#aeaac9"/>
<rect x="420.4" y="715.4" width="6.5" height="6.5" fill="#9facd0"/>
<rect x="426.6" y="715.4" width="6.5" height="6.5" fill="#9bacd2"/>
<rect x="432.8" y="715.4" width="6.5" height="6.5" fill="#a3abce"/>
<rect x="438.9" y="715.4" width="6.5" height="6.5" fill="#a0acd0"/>
<rect x="445.1" y="715.4" width="6.5" height="6.5" fill="#a1accf"/>
<rect x="451.3" y="715.4" width="6.5" height="6.5" fill="#9dacd2"/>
<rect x="457.5" y="715.4" width="6.5" height="6.5" fill="#a4abce"/>
<rect x="463.7" y="715.4" width="6.5" height="6.5" fill="#a1acd0"/>
<rect x="469.9" y="715.4" width="6.5" height="6.5" fill="#93aed6"/>
<rect x="476.1" y="715.4" width="6.5" height="6.5" fill="#9facd0"/>
<rect x="482.2" y="715.4" width="6.5" height="6.5" fill="#a2accf"/>
<rect x="488.4" y="715.4" width="6.5" height="6.5" fill="#a7abcc"/>
<rect x="494.6" y="715.4" width="6.5" height="6.5" fill="#9dacd1"/>
<rect x="500.8" y="715.4" width="6.5" height="6.5" fill="#9bacd2"/>
<rect x="507" y="715.4" width="6.5" height="6.5" fill="#a7abcc"/>
<rect x="513.2" y="715.4" width="6.5" height="6.5" fill="#9dacd2"/>
<rect x="519.4" y="715.4" width="6.5" height="6.5" fill="#a1accf"/>
<rect x="525.6" y="715.4" width="6.5" height="6.5" fill="#a3abce"/>
<rect x="531.8" y="715.4" width="6.5" height="6.5" fill="#a5abce"/>
<rect x="537.9" y="715.4" width="6.5" height="6.5" fill="#a0acd0"/>
<rect x="544.1" y="715.4" width="6.5" height="6.5" fill="#9aadd3"/>
<rect x="550.3" y="715.4" width="6.5" height="6.5" fill="#a6abcd"/>
<rect x="556.5" y="715.4" width="6.5" height="6.5" fill="#9eacd1"/>
<rect x="562.7" y="715.4" width="6.5" height="6.5" fill="#9dacd1"/>
<rect x="568.9" y="715.4" width="6.5" height="6.5" fill="#acaaca"/>
<rect x="575.1" y="715.4" width="6.5" height="6.5" fill="#a6abcd"/>
<rect x="581.2" y="715.4" width="6.5" height="6.5" fill="#9aadd3"/>
<rect x="587.4" y="715.4" width="6.5" height="6.5" fill="#9eacd1"/>
<rect x="593.6" y="715.4" width="6.5" height="6.5" fill="#a0acd0"/>
<rect x="599.8" y="715.4" width="6.5" height="6.5" fill="#9dacd1"/>
<rect x="606" y="715.4" width="6.5" height="6.5" fill="#97add4"/>
<rect x="612.2" y="715.4" width="6.5" height="6.5" fill="#a9abcc"/>
<rect x="618.4" y="715.4" width="6.5" height="6.5" fill="#abaacb"/>
<rect x="624.6" y="715.4" width="6.5" height="6.5" fill="#aaabcb"/>
<rect x="630.8" y="715.4" width="6.5" height="6.5" fill="#a8abcc"/>
<rect x="636.9" y="715.4" width="6.5" height="6.5" fill="#aeaac9"/>
<rect x="643.1" y="715.4" width="6.5" height="6.5" fill="#b2a9c7"/>
<rect x="649.3" y="715.4" width="6.5" height="6.5" fill="#a9abcc"/>
<rect x="408" y="721.6" width="6.5" height="6.5" fill="#9eacd1"/>
<rect x="414.2" y="721.6" width="6.5" height="6.5" fill="#9dacd1"/>
<rect x="420.4" y="721.6" width="6.5" height="6.5" fill="#a4abce"/>
<rect x="426.6" y="721.6" width="6.5" height="6.5" fill="#a2accf"/>
<rect x="432.8" y="721.6" width="6.5" height="6.5" fill="#98add4"/>
<rect x="438.9" y="721.6" width="6.5" height="6.5" fill="#9dacd2"/>
<rect x="445.1" y="721.6" width="6.5" height="6.5" fill="#abaacb"/>
<rect x="451.3" y="721.6" width="6.5" height="6.5" fill="#9aadd3"/>
<rect x="457.5" y="721.6" width="6.5" height="6.5" fill="#a1accf"/>
<rect x="463.7" y="721.6" width="6.5" height="6.5" fill="#9dacd2"/>
<rect x="469.9" y="721.6" width="6.5" height="6.5" fill="#a8abcc"/>
<rect x="476.1" y="721.6" width="6.5" height="6.5" fill="#a0acd0"/>
<rect x="482.2" y="721.6" width="6.5" height="6.5" fill="#9eacd1"/>
<rect x="488.4" y="721.6" width="6.5" height="6.5" fill="#99add3"/>
<rect x="494.6" y="721.6" width="6.5" height="6.5" fill="#9facd1"/>
<rect x="500.8" y="721.6" width="6.5" height="6.5" fill="#a5abcd"/>
<rect x="507" y="721.6" width="6.5" height="6.5" fill="#a4abce"/>
<rect x="513.2" y="721.6" width="6.5" height="6.5" fill="#98add4"/>
<rect x="519.4" y="721.6" width="6.5" height="6.5" fill="#aaabcb"/>
<rect x="525.6" y="721.6" width="6.5" height="6.5" fill="#9facd1"/>
<rect x="531.8" y="721.6" width="6.5" height="6.5" fill="#9aadd3"/>
<rect x="537.9" y="721.6" width="6.5" height="6.5" fill="#a1accf"/>
<rect x="544.1" y="721.6" width="6.5" height="6.5" fill="#9dacd2"/>
<rect x="550.3" y="721.6" width="6.5" height="6.5" fill="#9dacd1"/>
<rect x="556.5" y="721.6" width="6.5" height="6.5" fill="#9cacd2"/>
<rect x="562.7" y="721.6" width="6.5" height="6.5" fill="#a0acd0"/>
<rect x="568.9" y="721.6" width="6.5" height="6.5" fill="#9dacd1"/>
<rect x="575.1" y="721.6" width="6.5" height="6.5" fill="#96add5"/>
<rect x="581.2" y="721.6" width="6.5" height="6.5" fill="#a4abce"/>
<rect x="587.4" y="721.6" width="6.5" height="6.5" fill="#9eacd1"/>
<rect x="593.6" y="721.6" width="6.5" height="6.5" fill="#a8abcc"/>
<rect x="599.8" y="721.6" width="6.5" height="6.5" fill="#a5abce"/>
<rect x="606" y="721.6" width="6.5" height="6.5" fill="#a6abcd"/>
<rect x="612.2" y="721.6" width="6.5" height="6.5" fill="#a5abcd"/>
<rect x="618.4" y="721.6" width="6.5" height="6.5" fill="#aeaac9"/>
<rect x="624.6" y="721.6" width="6.5" height="6.5" fill="#a6abcd"/>
<rect x="630.8" y="721.6" width="6.5" height="6.5" fill="#a4abce"/>
<rect x="636.9" y="721.6" width="6.5" height="6.5" fill="#afaac9"/>
<rect x="643.1" y="721.6" width="6.5" height="6.5" fill="#9eacd1"/>
<rect x="649.3" y="721.6" width="6.5" height="6.5" fill="#adaaca"/>
<rect x="408" y="727.8" width="6.5" height="6.5" fill="#a2accf"/>
<rect x="414.2" y="727.8" width="6.5" height="6.5" fill="#9eacd1"/>
<rect x="420.4" y="727.8" width="6.5" height="6.5" fill="#a8abcc"/>
<rect x="426.6" y="727.8" width="6.5" height="6.5" fill="#a4abce"/>
<rect x="432.8" y="727.8" width="6.5" height="6.5" fill="#a1accf"/>
<rect x="438.9" y="727.8" width="6.5" height="6.5" fill="#9eacd1"/>
<rect x="445.1" y="727.8" width="6.5" height="6.5" fill="#a7abcd"/>
<rect x="451.3" y="727.8" width="6.5" height="6.5" fill="#9cacd2"/>
<rect x="457.5" y="727.8" width="6.5" height="6.5" fill="#9eacd1"/>
<rect x="463.7" y="727.8" width="6.5" height="6.5" fill="#a5abce"/>
<rect x="469.9" y="727.8" width="6.5" height="6.5" fill="#a4abce"/>
<rect x="476.1" y="727.8" width="6.5" height="6.5" fill="#acaaca"/>
<rect x="482.2" y="727.8" width="6.5" height="6.5" fill="#9facd0"/>
<rect x="488.4" y="727.8" width="6.5" height="6.5" fill="#95add5"/>
<rect x="494.6" y="727.8" width="6.5" height="6.5" fill="#a4abce"/>
<rect x="500.8" y="727.8" width="6.5" height="6.5" fill="#a8abcc"/>
<rect x="507" y="727.8" width="6.5" height="6.5" fill="#9facd0"/>
<rect x="513.2" y="727.8" width="6.5" height="6.5" fill="#aaabcb"/>
<rect x="519.4" y="727.8" width="6.5" height="6.5" fill="#abaacb"/>
<rect x="525.6" y="727.8" width="6.5" height="6.5" fill="#9cacd2"/>
<rect x="531.8" y="727.8" width="6.5" height="6.5" fill="#9dacd1"/>
<rect x="537.9" y="727.8" width="6.5" height="6.5" fill="#99add3"/>
<rect x="544.1" y="727.8" width="6.5" height="6.5" fill="#a4abce"/>
<rect x="550.3" y="727.8" width="6.5" height="6.5" fill="#a5abce"/>
<rect x="556.5" y="727.8" width="6.5" height="6.5" fill="#a4abce"/>
<rect x="562.7" y="727.8" width="6.5" height="6.5" fill="#99add3"/>
<rect x="568.9" y="727.8" width="6.5" height="6.5" fill="#9cacd2"/>
<rect x="575.1" y="727.8" width="6.5" height="6.5" fill="#98add4"/>
<rect x="581.2" y="727.8" width="6.5" height="6.5" fill="#97add4"/>
<rect x="587.4" y="727.8" width="6.5" height="6.5" fill="#99add3"/>
<rect x="593.6" y="727.8" width="6.5" height="6.5" fill="#98add4"/>
<rect x="599.8" y="727.8" width="6.5" height="6.5" fill="#a1acd0"/>
<rect x="606" y="727.8" width="6.5" height="6.5" fill="#a5abcd"/>
<rect x="612.2" y="727.8" width="6.5" height="6.5" fill="#a8abcc"/>
<rect x="618.4" y="727.8" width="6.5" height="6.5" fill="#a6abcd"/>
<rect x="624.6" y="727.8" width="6.5" height="6.5" fill="#a4abce"/>
<rect x="630.8" y="727.8" width="6.5" height="6.5" fill="#aaaacb"/>
<rect x="636.9" y="727.8" width="6.5" height="6.5" fill="#b0aac8"/>
<rect x="643.1" y="727.8" width="6.5" height="6.5" fill="#acaaca"/>
<rect x="649.3" y="727.8" width="6.5" height="6.5" fill="#afaac9"/>
<rect x="408" y="734.1" width="6.5" height="6.5" fill="#a0acd0"/>
<rect x="414.2" y="734.1" width="6.5" height="6.5" fill="#9eacd1"/>
<rect x="420.4" y="734.1" width="6.5" height="6.5" fill="#a2accf"/>
<rect x="426.6" y="734.1" width="6.5" height="6.5" fill="#9badd3"/>
<rect x="432.8" y="734.1" width="6.5" height="6.5" fill="#a8abcc"/>
<rect x="438.9" y="734.1" width="6.5" height="6.5" fill="#98add4"/>
<rect x="445.1" y="734.1" width="6.5" height="6.5" fill="#a4abce"/>
<rect x="451.3" y="734.1" width="6.5" height="6.5" fill="#99add3"/>
<rect x="457.5" y="734.1" width="6.5" height="6.5" fill="#abaacb"/>
<rect x="463.7" y="734.1" width="6.5" height="6.5" fill="#a7abcd"/>
<rect x="469.9" y="734.1" width="6.5" height="6.5" fill="#9cacd2"/>
<rect x="476.1" y="734.1" width="6.5" height="6.5" fill="#9facd1"/>
<rect x="482.2" y="734.1" width="6.5" height="6.5" fill="#9aadd3"/>
<rect x="488.4" y="734.1" width="6.5" height="6.5" fill="#a1accf"/>
<rect x="494.6" y="734.1" width="6.5" height="6.5" fill="#a4abce"/>
<rect x="500.8" y="734.1" width="6.5" height="6.5" fill="#b1a9c8"/>
<rect x="507" y="734.1" width="6.5" height="6.5" fill="#99add3"/>
<rect x="513.2" y="734.1" width="6.5" height="6.5" fill="#a9abcc"/>
<rect x="519.4" y="734.1" width="6.5" height="6.5" fill="#9eacd1"/>
<rect x="525.6" y="734.1" width="6.5" height="6.5" fill="#a3abcf"/>
<rect x="531.8" y="734.1" width="6.5" height="6.5" fill="#a7abcd"/>
<rect x="537.9" y="734.1" width="6.5" height="6.5" fill="#a5abce"/>
<rect x="544.1" y="734.1" width="6.5" height="6.5" fill="#a4abce"/>
<rect x="550.3" y="734.1" width="6.5" height="6.5" fill="#a0acd0"/>
<rect x="556.5" y="734.1" width="6.5" height="6.5" fill="#a1accf"/>
<rect x="562.7" y="734.1" width="6.5" height="6.5" fill="#a2accf"/>
<rect x="568.9" y="734.1" width="6.5" height="6.5" fill="#a9abcc"/>
<rect x="575.1" y="734.1" width="6.5" height="6.5" fill="#98add4"/>
<rect x="581.2" y="734.1" width="6.5" height="6.5" fill="#9eacd1"/>
<rect x="587.4" y="734.1" width="6.5" height="6.5" fill="#9aadd3"/>
<rect x="593.6" y="734.1" width="6.5" height="6.5" fill="#9cacd2"/>
<rect x="599.8" y="734.1" width="6.5" height="6.5" fill="#9eacd1"/>
<rect x="606" y="734.1" width="6.5" height="6.5" fill="#aaaacb"/>
<rect x="612.2" y="734.1" width="6.5" height="6.5" fill="#b2a9c7"/>
<rect x="618.4" y="734.1" width="6.5" height="6.5" fill="#afaac9"/>
<rect x="624.6" y="734.1" width="6.5" height="6.5" fill="#a1accf"/>
<rect x="630.8" y="734.1" width="6.5" height="6.5" fill="#abaaca"/>
<rect x="636.9" y="734.1" width="6.5" height="6.5" fill="#a6abcd"/>
<rect x="643.1" y="734.1" width="6.5" height="6.5" fill="#b2a9c8"/>
<rect x="649.3" y="734.1" width="6.5" height="6.5" fill="#b7a9c5"/>
<rect x="408" y="740.3" width="6.5" height="6.5" fill="#a7abcd"/>
<rect x="414.2" y="740.3" width="6.5" height="6.5" fill="#a9abcc"/>
<rect x="420.4" y="740.3" width="6.5" height="6.5" fill="#a2accf"/>
<rect x="426.6" y="740.3" width="6.5" height="6.5" fill="#96add4"/>
<rect x="432.8" y="740.3" width="6.5" height="6.5" fill="#96add5"/>
<rect x="438.9" y="740.3" width="6.5" height="6.5" fill="#a2accf"/>
<rect x="445.1" y="740.3" width="6.5" height="6.5" fill="#a7abcd"/>
<rect x="451.3" y="740.3" width="6.5" height="6.5" fill="#abaacb"/>
<rect x="457.5" y="740.3" width="6.5" height="6.5" fill="#a1acd0"/>
<rect x="463.7" y="740.3" width="6.5" height="6.5" fill="#a3abce"/>
<rect x="469.9" y="740.3" width="6.5" height="6.5" fill="#a5abce"/>
<rect x="476.1" y="740.3" width="6.5" height="6.5" fill="#aaabcb"/>
<rect x="482.2" y="740.3" width="6.5" height="6.5" fill="#a2accf"/>
<rect x="488.4" y="740.3" width="6.5" height="6.5" fill="#9cacd2"/>
<rect x="494.6" y="740.3" width="6.5" height="6.5" fill="#aaabcb"/>
<rect x="500.8" y="740.3" width="6.5" height="6.5" fill="#a5abcd"/>
<rect x="507" y="740.3" width="6.5" height="6.5" fill="#a5abcd"/>
<rect x="513.2" y="740.3" width="6.5" height="6.5" fill="#9badd3"/>
<rect x="519.4" y="740.3" width="6.5" height="6.5" fill="#a3abcf"/>
<rect x="525.6" y="740.3" width="6.5" height="6.5" fill="#98add4"/>
<rect x="531.8" y="740.3" width="6.5" height="6.5" fill="#96add5"/>
<rect x="537.9" y="740.3" width="6.5" height="6.5" fill="#a1accf"/>
<rect x="544.1" y="740.3" width="6.5" height="6.5" fill="#a0acd0"/>
<rect x="550.3" y="740.3" width="6.5" height="6.5" fill="#a6abcd"/>
<rect x="556.5" y="740.3" width="6.5" height="6.5" fill="#acaaca"/>
<rect x="562.7" y="740.3" width="6.5" height="6.5" fill="#a2accf"/>
<rect x="568.9" y="740.3" width="6.5" height="6.5" fill="#aeaac9"/>
<rect x="575.1" y="740.3" width="6.5" height="6.5" fill="#9facd1"/>
<rect x="581.2" y="740.3" width="6.5" height="6.5" fill="#a7abcc"/>
<rect x="587.4" y="740.3" width="6.5" height="6.5" fill="#9badd2"/>
<rect x="593.6" y="740.3" width="6.5" height="6.5" fill="#a4abce"/>
<rect x="599.8" y="740.3" width="6.5" height="6.5" fill="#a2accf"/>
<rect x="606" y="740.3" width="6.5" height="6.5" fill="#a3abce"/>
<rect x="612.2" y="740.3" width="6.5" height="6.5" fill="#aaaacb"/>
<rect x="618.4" y="740.3" width="6.5" height="6.5" fill="#9cacd2"/>
<rect x="624.6" y="740.3" width="6.5" height="6.5" fill="#aaaacb"/>
<rect x="630.8" y="740.3" width="6.5" height="6.5" fill="#a7abcd"/>
<rect x="636.9" y="740.3" width="6.5" height="6.5" fill="#afaac9"/>
<rect x="643.1" y="740.3" width="6.5" height="6.5" fill="#b2a9c7"/>
<rect x="649.3" y="740.3" width="6.5" height="6.5" fill="#aeaac9"/>
<rect x="408" y="746.5" width="6.5" height="6.5" fill="#a3abcf"/>
<rect x="414.2" y="746.5" width="6.5" height="6.5" fill="#9dacd1"/>
<rect x="420.4" y="746.5" width="6.5" height="6.5" fill="#a9abcc"/>
<rect x="426.6" y="746.5" width="6.5" height="6.5" fill="#a1acd0"/>
<rect x="432.8" y="746.5" width="6.5" height="6.5" fill="#a8abcc"/>
<rect x="438.9" y="746.5" width="6.5" height="6.5" fill="#9bacd2"/>
<rect x="445.1" y="746.5" width="6.5" height="6.5" fill="#aeaac9"/>
<rect x="451.3" y="746.5" width="6.5" height="6.5" fill="#9eacd1"/>
<rect x="457.5" y="746.5" width="6.5" height="6.5" fill="#adaaca"/>
<rect x="463.7" y="746.5" width="6.5" height="6.5" fill="#a2accf"/>
<rect x="469.9" y="746.5" width="6.5" height="6.5" fill="#a8abcc"/>
<rect x="476.1" y="746.5" width="6.5" height="6.5" fill="#a4abce"/>
<rect x="482.2" y="746.5" width="6.5" height="6.5" fill="#a9abcc"/>
<rect x="488.4" y="746.5" width="6.5" height="6.5" fill="#a5abce"/>
<rect x="494.6" y="746.5" width="6.5" height="6.5" fill="#adaaca"/>
<rect x="500.8" y="746.5" width="6.5" height="6.5" fill="#a9abcc"/>
<rect x="507" y="746.5" width="6.5" height="6.5" fill="#a9abcc"/>
<rect x="513.2" y="746.5" width="6.5" height="6.5" fill="#b0aac9"/>
<rect x="519.4" y="746.5" width="6.5" height="6.5" fill="#a0acd0"/>
<rect x="525.6" y="746.5" width="6.5" height="6.5" fill="#adaaca"/>
<rect x="531.8" y="746.5" width="6.5" height="6.5" fill="#a5abce"/>
<rect x="537.9" y="746.5" width="6.5" height="6.5" fill="#9aadd3"/>
<rect x="544.1" y="746.5" width="6.5" height="6.5" fill="#a7abcc"/>
<rect x="550.3" y="746.5" width="6.5" height="6.5" fill="#a3abcf"/>
<rect x="556.5" y="746.5" width="6.5" height="6.5" fill="#afaac9"/>
<rect x="562.7" y="746.5" width="6.5" height="6.5" fill="#a1acd0"/>
<rect x="568.9" y="746.5" width="6.5" height="6.5" fill="#a4abce"/>
<rect x="575.1" y="746.5" width="6.5" height="6.5" fill="#a6abcd"/>
<rect x="581.2" y="746.5" width="6.5" height="6.5" fill="#97add4"/>
<rect x="587.4" y="746.5" width="6.5" height="6.5" fill="#a8abcc"/>
<rect x="593.6" y="746.5" width="6.5" height="6.5" fill="#9eacd1"/>
<rect x="599.8" y="746.5" width="6.5" height="6.5" fill="#afaac9"/>
<rect x="606" y="746.5" width="6.5" height="6.5" fill="#b1a9c8"/>
<rect x="612.2" y="746.5" width="6.5" height="6.5" fill="#a7abcd"/>
<rect x="618.4" y="746.5" width="6.5" height="6.5" fill="#9eacd1"/>
<rect x="624.6" y="746.5" width="6.5" height="6.5" fill="#acaaca"/>
<rect x="630.8" y="746.5" width="6.5" height="6.5" fill="#aeaac9"/>
<rect x="636.9" y="746.5" width="6.5" height="6.5" fill="#b4a9c7"/>
<rect x="643.1" y="746.5" width="6.5" height="6.5" fill="#aeaac9"/>
<rect x="649.3" y="746.5" width="6.5" height="6.5" fill="#a9abcc"/>
<rect x="408" y="752.8" width="6.5" height="6.5" fill="#a6abcd"/>
<rect x="414.2" y="752.8" width="6.5" height="6.5" fill="#a1acd0"/>
<rect x="420.4" y="752.8" width="6.5" height="6.5" fill="#b4a9c7"/>
<rect x="426.6" y="752.8" width="6.5" height="6.5" fill="#a2accf"/>
<rect x="432.8" y="752.8" width="6.5" height="6.5" fill="#a3abcf"/>
<rect x="438.9" y="752.8" width="6.5" height="6.5" fill="#a7abcd"/>
<rect x="445.1" y="752.8" width="6.5" height="6.5" fill="#9eacd1"/>
<rect x="451.3" y="752.8" width="6.5" height="6.5" fill="#a4abce"/>
<rect x="457.5" y="752.8" width="6.5" height="6.5" fill="#a6abcd"/>
<rect x="463.7" y="752.8" width="6.5" height="6.5" fill="#a3abce"/>
<rect x="469.9" y="752.8" width="6.5" height="6.5" fill="#a5abce"/>
<rect x="476.1" y="752.8" width="6.5" height="6.5" fill="#afaac9"/>
<rect x="482.2" y="752.8" width="6.5" height="6.5" fill="#aaabcb"/>
<rect x="488.4" y="752.8" width="6.5" height="6.5" fill="#9dacd1"/>
<rect x="494.6" y="752.8" width="6.5" height="6.5" fill="#a3abce"/>
<rect x="500.8" y="752.8" width="6.5" height="6.5" fill="#acaaca"/>
<rect x="507" y="752.8" width="6.5" height="6.5" fill="#a2accf"/>
<rect x="513.2" y="752.8" width="6.5" height="6.5" fill="#a7abcd"/>
<rect x="519.4" y="752.8" width="6.5" height="6.5" fill="#a6abcd"/>
<rect x="525.6" y="752.8" width="6.5" height="6.5" fill="#aaaacb"/>
<rect x="531.8" y="752.8" width="6.5" height="6.5" fill="#a5abce"/>
<rect x="537.9" y="752.8" width="6.5" height="6.5" fill="#a5abce"/>
<rect x="544.1" y="752.8" width="6.5" height="6.5" fill="#a0acd0"/>
<rect x="550.3" y="752.8" width="6.5" height="6.5" fill="#a8abcc"/>
<rect x="556.5" y="752.8" width="6.5" height="6.5" fill="#9facd0"/>
<rect x="562.7" y="752.8" width="6.5" height="6.5" fill="#b2a9c7"/>
<rect x="568.9" y="752.8" width="6.5" height="6.5" fill="#a6abcd"/>
<rect x="575.1" y="752.8" width="6.5" height="6.5" fill="#a4abce"/>
<rect x="581.2" y="752.8" width="6.5" height="6.5" fill="#abaacb"/>
<rect x="587.4" y="752.8" width="6.5" height="6.5" fill="#a5abcd"/>
<rect x="593.6" y="752.8" width="6.5" height="6.5" fill="#a7abcd"/>
<rect x="599.8" y="752.8" width="6.5" height="6.5" fill="#a6abcd"/>
<rect x="606" y="752.8" width="6.5" height="6.5" fill="#a2accf"/>
<rect x="612.2" y="752.8" width="6.5" height="6.5" fill="#a2accf"/>
<rect x="618.4" y="752.8" width="6.5" height="6.5" fill="#a5abcd"/>
<rect x="624.6" y="752.8" width="6.5" height="6.5" fill="#b4a9c6"/>
<rect x="630.8" y="752.8" width="6.5" height="6.5" fill="#aaabcb"/>
<rect x="636.9" y="752.8" width="6.5" height="6.5" fill="#adaaca"/>
<rect x="643.1" y="752.8" width="6.5" height="6.5" fill="#aeaac9"/>
<rect x="649.3" y="752.8" width="6.5" height="6.5" fill="#b7a9c5"/>
<rect x="408" y="759" width="6.5" height="6.5" fill="#b9a8c4"/>
<rect x="414.2" y="759" width="6.5" height="6.5" fill="#a3abcf"/>
<rect x="420.4" y="759" width="6.5" height="6.5" fill="#aeaac9"/>
<rect x="426.6" y="759" width="6.5" height="6.5" fill="#aaaacb"/>
<rect x="432.8" y="759" width="6.5" height="6.5" fill="#a7abcc"/>
<rect x="438.9" y="759" width="6.5" height="6.5" fill="#adaaca"/>
<rect x="445.1" y="759" width="6.5" height="6.5" fill="#a0acd0"/>
<rect x="451.3" y="759" width="6.5" height="6.5" fill="#afaac9"/>
<rect x="457.5" y="759" width="6.5" height="6.5" fill="#abaacb"/>
<rect x="463.7" y="759" width="6.5" height="6.5" fill="#a2accf"/>
<rect x="469.9" y="759" width="6.5" height="6.5" fill="#b5a9c6"/>
<rect x="476.1" y="759" width="6.5" height="6.5" fill="#afaac9"/>
<rect x="482.2" y="759" width="6.5" height="6.5" fill="#b1a9c8"/>
<rect x="488.4" y="759" width="6.5" height="6.5" fill="#9eacd1"/>
<rect x="494.6" y="759" width="6.5" height="6.5" fill="#a7abcd"/>
<rect x="500.8" y="759" width="6.5" height="6.5" fill="#a5abce"/>
<rect x="507" y="759" width="6.5" height="6.5" fill="#adaaca"/>
<rect x="513.2" y="759" width="6.5" height="6.5" fill="#b2a9c7"/>
<rect x="519.4" y="759" width="6.5" height="6.5" fill="#9aadd3"/>
<rect x="525.6" y="759" width="6.5" height="6.5" fill="#a8abcc"/>
<rect x="531.8" y="759" width="6.5" height="6.5" fill="#a7abcd"/>
<rect x="537.9" y="759" width="6.5" height="6.5" fill="#afaac9"/>
<rect x="544.1" y="759" width="6.5" height="6.5" fill="#a8abcc"/>
<rect x="550.3" y="759" width="6.5" height="6.5" fill="#9eacd1"/>
<rect x="556.5" y="759" width="6.5" height="6.5" fill="#a6abcd"/>
<rect x="562.7" y="759" width="6.5" height="6.5" fill="#a0acd0"/>
<rect x="568.9" y="759" width="6.5" height="6.5" fill="#a2accf"/>
<rect x="575.1" y="759" width="6.5" height="6.5" fill="#a8abcc"/>
<rect x="581.2" y="759" width="6.5" height="6.5" fill="#a4abce"/>
<rect x="587.4" y="759" width="6.5" height="6.5" fill="#aaabcb"/>
<rect x="593.6" y="759" width="6.5" height="6.5" fill="#9dacd2"/>
<rect x="599.8" y="759" width="6.5" height="6.5" fill="#b9a8c4"/>
<rect x="606" y="759" width="6.5" height="6.5" fill="#b2a9c7"/>
<rect x="612.2" y="759" width="6.5" height="6.5" fill="#b0aac9"/>
<rect x="618.4" y="759" width="6.5" height="6.5" fill="#a2accf"/>
<rect x="624.6" y="759" width="6.5" height="6.5" fill="#9eacd1"/>
<rect x="630.8" y="759" width="6.5" height="6.5" fill="#a9abcc"/>
<rect x="636.9" y="759" width="6.5" height="6.5" fill="#afaac9"/>
<rect x="643.1" y="759" width="6.5" height="6.5" fill="#c3a7bf"/>
<rect x="649.3" y="759" width="6.5" height="6.5" fill="#bda8c2"/>
<rect x="408" y="765.2" width="6.5" height="6.5" fill="#a8abcc"/>
<rect x="414.2" y="765.2" width="6.5" height="6.5" fill="#b6a9c6"/>
<rect x="420.4" y="765.2" width="6.5" height="6.5" fill="#b6a9c6"/>
<rect x="426.6" y="765.2" width="6.5" height="6.5" fill="#acaaca"/>
<rect x="432.8" y="765.2" width="6.5" height="6.5" fill="#b5a9c6"/>
<rect x="438.9" y="765.2" width="6.5" height="6.5" fill="#aeaac9"/>
<rect x="445.1" y="765.2" width="6.5" height="6.5" fill="#a7abcd"/>
<rect x="451.3" y="765.2" width="6.5" height="6.5" fill="#a2accf"/>
<rect x="457.5" y="765.2" width="6.5" height="6.5" fill="#abaacb"/>
<rect x="463.7" y="765.2" width="6.5" height="6.5" fill="#b3a9c7"/>
<rect x="469.9" y="765.2" width="6.5" height="6.5" fill="#a1acd0"/>
<rect x="476.1" y="765.2" width="6.5" height="6.5" fill="#9facd1"/>
<rect x="482.2" y="765.2" width="6.5" height="6.5" fill="#afaac9"/>
<rect x="488.4" y="765.2" width="6.5" height="6.5" fill="#96add5"/>
<rect x="494.6" y="765.2" width="6.5" height="6.5" fill="#b9a8c4"/>
<rect x="500.8" y="765.2" width="6.5" height="6.5" fill="#a7abcc"/>
<rect x="507" y="765.2" width="6.5" height="6.5" fill="#b0aac8"/>
<rect x="513.2" y="765.2" width="6.5" height="6.5" fill="#b9a8c4"/>
<rect x="519.4" y="765.2" width="6.5" height="6.5" fill="#9facd0"/>
<rect x="525.6" y="765.2" width="6.5" height="6.5" fill="#a2accf"/>
<rect x="531.8" y="765.2" width="6.5" height="6.5" fill="#bba8c3"/>
<rect x="537.9" y="765.2" width="6.5" height="6.5" fill="#a8abcc"/>
<rect x="544.1" y="765.2" width="6.5" height="6.5" fill="#a9abcc"/>
<rect x="550.3" y="765.2" width="6.5" height="6.5" fill="#acaaca"/>
<rect x="556.5" y="765.2" width="6.5" height="6.5" fill="#b2a9c7"/>
<rect x="562.7" y="765.2" width="6.5" height="6.5" fill="#b4a9c7"/>
<rect x="568.9" y="765.2" width="6.5" height="6.5" fill="#aaaacb"/>
<rect x="575.1" y="765.2" width="6.5" height="6.5" fill="#a7abcd"/>
<rect x="581.2" y="765.2" width="6.5" height="6.5" fill="#a9abcc"/>
<rect x="587.4" y="765.2" width="6.5" height="6.5" fill="#acaaca"/>
<rect x="593.6" y="765.2" width="6.5" height="6.5" fill="#b4a9c7"/>
<rect x="599.8" y="765.2" width="6.5" height="6.5" fill="#abaacb"/>
<rect x="606" y="765.2" width="6.5" height="6.5" fill="#b9a8c4"/>
<rect x="612.2" y="765.2" width="6.5" height="6.5" fill="#a5abcd"/>
<rect x="618.4" y="765.2" width="6.5" height="6.5" fill="#b1a9c8"/>
<rect x="624.6" y="765.2" width="6.5" height="6.5" fill="#bda8c2"/>
<rect x="630.8" y="765.2" width="6.5" height="6.5" fill="#bba8c3"/>
<rect x="636.9" y="765.2" width="6.5" height="6.5" fill="#b5a9c6"/>
<rect x="643.1" y="765.2" width="6.5" height="6.5" fill="#adaaca"/>
<rect x="649.3" y="765.2" width="6.5" height="6.5" fill="#afaac9"/>
<rect x="408" y="771.5" width="6.5" height="6.5" fill="#aeaac9"/>
<rect x="414.2" y="771.5" width="6.5" height="6.5" fill="#b2a9c8"/>
<rect x="420.4" y="771.5" width="6.5" height="6.5" fill="#adaaca"/>
<rect x="426.6" y="771.5" width="6.5" height="6.5" fill="#a3abcf"/>
<rect x="432.8" y="771.5" width="6.5" height="6.5" fill="#a9abcc"/>
<rect x="438.9" y="771.5" width="6.5" height="6.5" fill="#b3a9c7"/>
<rect x="445.1" y="771.5" width="6.5" height="6.5" fill="#b5a9c6"/>
<rect x="451.3" y="771.5" width="6.5" height="6.5" fill="#a3abcf"/>
<rect x="457.5" y="771.5" width="6.5" height="6.5" fill="#abaacb"/>
<rect x="463.7" y="771.5" width="6.5" height="6.5" fill="#a0acd0"/>
<rect x="469.9" y="771.5" width="6.5" height="6.5" fill="#a9abcc"/>
<rect x="476.1" y="771.5" width="6.5" height="6.5" fill="#caa6bc"/>
<rect x="482.2" y="771.5" width="6.5" height="6.5" fill="#aeaac9"/>
<rect x="488.4" y="771.5" width="6.5" height="6.5" fill="#aaaacb"/>
<rect x="494.6" y="771.5" width="6.5" height="6.5" fill="#a8abcc"/>
<rect x="500.8" y="771.5" width="6.5" height="6.5" fill="#a3abce"/>
<rect x="507" y="771.5" width="6.5" height="6.5" fill="#9eacd1"/>
<rect x="513.2" y="771.5" width="6.5" height="6.5" fill="#acaaca"/>
<rect x="519.4" y="771.5" width="6.5" height="6.5" fill="#aaaacb"/>
<rect x="525.6" y="771.5" width="6.5" height="6.5" fill="#b8a8c4"/>
<rect x="531.8" y="771.5" width="6.5" height="6.5" fill="#9facd0"/>
<rect x="537.9" y="771.5" width="6.5" height="6.5" fill="#b0aac9"/>
<rect x="544.1" y="771.5" width="6.5" height="6.5" fill="#b7a9c5"/>
<rect x="550.3" y="771.5" width="6.5" height="6.5" fill="#9cacd2"/>
<rect x="556.5" y="771.5" width="6.5" height="6.5" fill="#b1a9c8"/>
<rect x="562.7" y="771.5" width="6.5" height="6.5" fill="#9eacd1"/>
<rect x="568.9" y="771.5" width="6.5" height="6.5" fill="#b0aac8"/>
<rect x="575.1" y="771.5" width="6.5" height="6.5" fill="#b7a9c5"/>
<rect x="581.2" y="771.5" width="6.5" height="6.5" fill="#abaacb"/>
<rect x="587.4" y="771.5" width="6.5" height="6.5" fill="#aeaac9"/>
<rect x="593.6" y="771.5" width="6.5" height="6.5" fill="#a6abcd"/>
<rect x="599.8" y="771.5" width="6.5" height="6.5" fill="#aeaac9"/>
<rect x="606" y="771.5" width="6.5" height="6.5" fill="#b6a9c6"/>
<rect x="612.2" y="771.5" width="6.5" height="6.5" fill="#acaaca"/>
<rect x="618.4" y="771.5" width="6.5" height="6.5" fill="#aeaac9"/>
<rect x="624.6" y="771.5" width="6.5" height="6.5" fill="#b4a9c7"/>
<rect x="630.8" y="771.5" width="6.5" height="6.5" fill="#b9a8c4"/>
<rect x="636.9" y="771.5" width="6.5" height="6.5" fill="#a6abcd"/>
<rect x="643.1" y="771.5" width="6.5" height="6.5" fill="#b5a9c6"/>
<rect x="649.3" y="771.5" width="6.5" height="6.5" fill="#b0aac8"/>
<rect x="408" y="777.7" width="6.5" height="6.5" fill="#b6a9c5"/>
<rect x="414.2" y="777.7" width="6.5" height="6.5" fill="#bba8c3"/>
<rect x="420.4" y="777.7" width="6.5" height="6.5" fill="#b4a9c6"/>
<rect x="426.6" y="777.7" width="6.5" height="6.5" fill="#bda8c2"/>
<rect x="432.8" y="777.7" width="6.5" height="6.5" fill="#a9abcc"/>
<rect x="438.9" y="777.7" width="6.5" height="6.5" fill="#aeaac9"/>
<rect x="445.1" y="777.7" width="6.5" height="6.5" fill="#a8abcc"/>
<rect x="451.3" y="777.7" width="6.5" height="6.5" fill="#b1a9c8"/>
<rect x="457.5" y="777.7" width="6.5" height="6.5" fill="#b1a9c8"/>
<rect x="463.7" y="777.7" width="6.5" height="6.5" fill="#afaac9"/>
<rect x="469.9" y="777.7" width="6.5" height="6.5" fill="#a6abcd"/>
<rect x="476.1" y="777.7" width="6.5" height="6.5" fill="#afaac9"/>
<rect x="482.2" y="777.7" width="6.5" height="6.5" fill="#acaaca"/>
<rect x="488.4" y="777.7" width="6.5" height="6.5" fill="#b5a9c6"/>
<rect x="494.6" y="777.7" width="6.5" height="6.5" fill="#adaaca"/>
<rect x="500.8" y="777.7" width="6.5" height="6.5" fill="#b9a8c4"/>
<rect x="507" y="777.7" width="6.5" height="6.5" fill="#b1a9c8"/>
<rect x="513.2" y="777.7" width="6.5" height="6.5" fill="#9facd0"/>
<rect x="519.4" y="777.7" width="6.5" height="6.5" fill="#adaaca"/>
<rect x="525.6" y="777.7" width="6.5" height="6.5" fill="#a2accf"/>
<rect x="531.8" y="777.7" width="6.5" height="6.5" fill="#b7a9c5"/>
<rect x="537.9" y="777.7" width="6.5" height="6.5" fill="#bba8c3"/>
<rect x="544.1" y="777.7" width="6.5" height="6.5" fill="#aeaac9"/>
<rect x="550.3" y="777.7" width="6.5" height="6.5" fill="#b2a9c7"/>
<rect x="556.5" y="777.7" width="6.5" height="6.5" fill="#a1accf"/>
<rect x="562.7" y="777.7" width="6.5" height="6.5" fill="#9aadd3"/>
<rect x="568.9" y="777.7" width="6.5" height="6.5" fill="#a9abcc"/>
<rect x="575.1" y="777.7" width="6.5" height="6.5" fill="#abaacb"/>
<rect x="581.2" y="777.7" width="6.5" height="6.5" fill="#a0acd0"/>
<rect x="587.4" y="777.7" width="6.5" height="6.5" fill="#aeaac9"/>
<rect x="593.6" y="777.7" width="6.5" height="6.5" fill="#b0aac8"/>
<rect x="599.8" y="777.7" width="6.5" height="6.5" fill="#b3a9c7"/>
<rect x="606" y="777.7" width="6.5" height="6.5" fill="#bca8c3"/>
<rect x="612.2" y="777.7" width="6.5" height="6.5" fill="#b6a9c5"/>
<rect x="618.4" y="777.7" width="6.5" height="6.5" fill="#adaaca"/>
<rect x="624.6" y="777.7" width="6.5" height="6.5" fill="#b3a9c7"/>
<rect x="630.8" y="777.7" width="6.5" height="6.5" fill="#b9a8c4"/>
<rect x="636.9" y="777.7" width="6.5" height="6.5" fill="#acaaca"/>
<rect x="643.1" y="777.7" width="6.5" height="6.5" fill="#c1a7c0"/>
<rect x="649.3" y="777.7" width="6.5" height="6.5" fill="#bea8c2"/>
<rect x="408" y="783.9" width="6.5" height="6.5" fill="#b3a9c7"/>
<rect x="414.2" y="783.9" width="6.5" height="6.5" fill="#afaac9"/>
<rect x="420.4" y="783.9" width="6.5" height="6.5" fill="#d7a4b6"/>
<rect x="426.6" y="783.9" width="6.5" height="6.5" fill="#bca8c3"/>
<rect x="432.8" y="783.9" width="6.5" height="6.5" fill="#bda8c2"/>
<rect x="438.9" y="783.9" width="6.5" height="6.5" fill="#c4a7bf"/>
<rect x="445.1" y="783.9" width="6.5" height="6.5" fill="#bda8c2"/>
<rect x="451.3" y="783.9" width="6.5" height="6.5" fill="#b5a9c6"/>
<rect x="457.5" y="783.9" width="6.5" height="6.5" fill="#baa8c4"/>
<rect x="463.7" y="783.9" width="6.5" height="6.5" fill="#abaacb"/>
<rect x="469.9" y="783.9" width="6.5" height="6.5" fill="#b9a8c4"/>
<rect x="476.1" y="783.9" width="6.5" height="6.5" fill="#a5abce"/>
<rect x="482.2" y="783.9" width="6.5" height="6.5" fill="#b6a9c5"/>
<rect x="488.4" y="783.9" width="6.5" height="6.5" fill="#b7a9c5"/>
<rect x="494.6" y="783.9" width="6.5" height="6.5" fill="#a4abce"/>
<rect x="500.8" y="783.9" width="6.5" height="6.5" fill="#c3a7bf"/>
<rect x="507" y="783.9" width="6.5" height="6.5" fill="#a7abcc"/>
<rect x="513.2" y="783.9" width="6.5" height="6.5" fill="#bba8c3"/>
<rect x="519.4" y="783.9" width="6.5" height="6.5" fill="#adaaca"/>
<rect x="525.6" y="783.9" width="6.5" height="6.5" fill="#b4a9c6"/>
<rect x="531.8" y="783.9" width="6.5" height="6.5" fill="#abaacb"/>
<rect x="537.9" y="783.9" width="6.5" height="6.5" fill="#c7a6bd"/>
<rect x="544.1" y="783.9" width="6.5" height="6.5" fill="#baa8c4"/>
<rect x="550.3" y="783.9" width="6.5" height="6.5" fill="#c1a7c0"/>
<rect x="556.5" y="783.9" width="6.5" height="6.5" fill="#b7a9c5"/>
<rect x="562.7" y="783.9" width="6.5" height="6.5" fill="#b6a9c5"/>
<rect x="568.9" y="783.9" width="6.5" height="6.5" fill="#b1a9c8"/>
<rect x="575.1" y="783.9" width="6.5" height="6.5" fill="#aeaaca"/>
<rect x="581.2" y="783.9" width="6.5" height="6.5" fill="#b5a9c6"/>
<rect x="587.4" y="783.9" width="6.5" height="6.5" fill="#b1a9c8"/>
<rect x="593.6" y="783.9" width="6.5" height="6.5" fill="#aeaac9"/>
<rect x="599.8" y="783.9" width="6.5" height="6.5" fill="#a4abce"/>
<rect x="606" y="783.9" width="6.5" height="6.5" fill="#aeaac9"/>
<rect x="612.2" y="783.9" width="6.5" height="6.5" fill="#b7a9c5"/>
<rect x="618.4" y="783.9" width="6.5" height="6.5" fill="#aeaac9"/>
<rect x="624.6" y="783.9" width="6.5" height="6.5" fill="#b7a9c5"/>
<rect x="630.8" y="783.9" width="6.5" height="6.5" fill="#b4a9c7"/>
<rect x="636.9" y="783.9" width="6.5" height="6.5" fill="#adaaca"/>
<rect x="643.1" y="783.9" width="6.5" height="6.5" fill="#afaac9"/>
<rect x="649.3" y="783.9" width="6.5" height="6.5" fill="#b1a9c8"/>
<rect x="408" y="790.2" width="6.5" height="6.5" fill="#b5a9c6"/>
<rect x="414.2" y="790.2" width="6.5" height="6.5" fill="#b5a9c6"/>
<rect x="420.4" y="790.2" width="6.5" height="6.5" fill="#c2a7c0"/>
<rect x="426.6" y="790.2" width="6.5" height="6.5" fill="#adaaca"/>
<rect x="432.8" y="790.2" width="6.5" height="6.5" fill="#a4abce"/>
<rect x="438.9" y="790.2" width="6.5" height="6.5" fill="#bda8c2"/>
<rect x="445.1" y="790.2" width="6.5" height="6.5" fill="#b2a9c7"/>
<rect x="451.3" y="790.2" width="6.5" height="6.5" fill="#b5a9c6"/>
<rect x="457.5" y="790.2" width="6.5" height="6.5" fill="#cea5ba"/>
<rect x="463.7" y="790.2" width="6.5" height="6.5" fill="#c4a7bf"/>
<rect x="469.9" y="790.2" width="6.5" height="6.5" fill="#bba8c3"/>
<rect x="476.1" y="790.2" width="6.5" height="6.5" fill="#bfa8c1"/>
<rect x="482.2" y="790.2" width="6.5" height="6.5" fill="#b7a9c5"/>
<rect x="488.4" y="790.2" width="6.5" height="6.5" fill="#bea8c2"/>
<rect x="494.6" y="790.2" width="6.5" height="6.5" fill="#afaac9"/>
<rect x="500.8" y="790.2" width="6.5" height="6.5" fill="#aeaac9"/>
<rect x="507" y="790.2" width="6.5" height="6.5" fill="#b0aac8"/>
<rect x="513.2" y="790.2" width="6.5" height="6.5" fill="#c3a7bf"/>
<rect x="519.4" y="790.2" width="6.5" height="6.5" fill="#c3a7bf"/>
<rect x="525.6" y="790.2" width="6.5" height="6.5" fill="#aeaac9"/>
<rect x="531.8" y="790.2" width="6.5" height="6.5" fill="#bfa8c1"/>
<rect x="537.9" y="790.2" width="6.5" height="6.5" fill="#b2a9c7"/>
<rect x="544.1" y="790.2" width="6.5" height="6.5" fill="#bda8c2"/>
<rect x="550.3" y="790.2" width="6.5" height="6.5" fill="#b0aac8"/>
<rect x="556.5" y="790.2" width="6.5" height="6.5" fill="#bca8c3"/>
<rect x="562.7" y="790.2" width="6.5" height="6.5" fill="#b1a9c8"/>
<rect x="568.9" y="790.2" width="6.5" height="6.5" fill="#b0aac9"/>
<rect x="575.1" y="790.2" width="6.5" height="6.5" fill="#b2a9c7"/>
<rect x="581.2" y="790.2" width="6.5" height="6.5" fill="#b3a9c7"/>
<rect x="587.4" y="790.2" width="6.5" height="6.5" fill="#acaaca"/>
<rect x="593.6" y="790.2" width="6.5" height="6.5" fill="#a5abce"/>
<rect x="599.8" y="790.2" width="6.5" height="6.5" fill="#c2a7c0"/>
<rect x="606" y="790.2" width="6.5" height="6.5" fill="#afaac9"/>
<rect x="612.2" y="790.2" width="6.5" height="6.5" fill="#a2accf"/>
<rect x="618.4" y="790.2" width="6.5" height="6.5" fill="#9facd1"/>
<rect x="624.6" y="790.2" width="6.5" height="6.5" fill="#9badd2"/>
<rect x="630.8" y="790.2" width="6.5" height="6.5" fill="#b1a9c8"/>
<rect x="636.9" y="790.2" width="6.5" height="6.5" fill="#c5a7be"/>
<rect x="643.1" y="790.2" width="6.5" height="6.5" fill="#a9abcb"/>
<rect x="649.3" y="790.2" width="6.5" height="6.5" fill="#b6a9c5"/>
<rect x="408" y="796.4" width="6.5" height="6.5" fill="#a9abcc"/>
<rect x="414.2" y="796.4" width="6.5" height="6.5" fill="#c6a7be"/>
<rect x="420.4" y="796.4" width="6.5" height="6.5" fill="#bea8c2"/>
<rect x="426.6" y="796.4" width="6.5" height="6.5" fill="#bea8c2"/>
<rect x="432.8" y="796.4" width="6.5" height="6.5" fill="#c8a6bd"/>
<rect x="438.9" y="796.4" width="6.5" height="6.5" fill="#caa6bc"/>
<rect x="445.1" y="796.4" width="6.5" height="6.5" fill="#c4a7bf"/>
<rect x="451.3" y="796.4" width="6.5" height="6.5" fill="#b4a9c7"/>
<rect x="457.5" y="796.4" width="6.5" height="6.5" fill="#acaaca"/>
<rect x="463.7" y="796.4" width="6.5" height="6.5" fill="#afaac9"/>
<rect x="469.9" y="796.4" width="6.5" height="6.5" fill="#a7abcc"/>
<rect x="476.1" y="796.4" width="6.5" height="6.5" fill="#cba6bc"/>
<rect x="482.2" y="796.4" width="6.5" height="6.5" fill="#b6a9c5"/>
<rect x="488.4" y="796.4" width="6.5" height="6.5" fill="#b9a8c4"/>
<rect x="494.6" y="796.4" width="6.5" height="6.5" fill="#baa8c4"/>
<rect x="500.8" y="796.4" width="6.5" height="6.5" fill="#cca6bb"/>
<rect x="507" y="796.4" width="6.5" height="6.5" fill="#b2a9c8"/>
<rect x="513.2" y="796.4" width="6.5" height="6.5" fill="#c3a7bf"/>
<rect x="519.4" y="796.4" width="6.5" height="6.5" fill="#baa8c4"/>
<rect x="525.6" y="796.4" width="6.5" height="6.5" fill="#b5a9c6"/>
<rect x="531.8" y="796.4" width="6.5" height="6.5" fill="#a3abce"/>
<rect x="537.9" y="796.4" width="6.5" height="6.5" fill="#bfa8c1"/>
<rect x="544.1" y="796.4" width="6.5" height="6.5" fill="#aeaac9"/>
<rect x="550.3" y="796.4" width="6.5" height="6.5" fill="#b1aac8"/>
<rect x="556.5" y="796.4" width="6.5" height="6.5" fill="#b7a9c5"/>
<rect x="562.7" y="796.4" width="6.5" height="6.5" fill="#b6a9c6"/>
<rect x="568.9" y="796.4" width="6.5" height="6.5" fill="#c0a7c1"/>
<rect x="575.1" y="796.4" width="6.5" height="6.5" fill="#aeaac9"/>
<rect x="581.2" y="796.4" width="6.5" height="6.5" fill="#b6a9c6"/>
<rect x="587.4" y="796.4" width="6.5" height="6.5" fill="#b7a9c5"/>
<rect x="593.6" y="796.4" width="6.5" height="6.5" fill="#b4a9c6"/>
<rect x="599.8" y="796.4" width="6.5" height="6.5" fill="#bba8c3"/>
<rect x="606" y="796.4" width="6.5" height="6.5" fill="#b2a9c7"/>
<rect x="612.2" y="796.4" width="6.5" height="6.5" fill="#c1a7c0"/>
<rect x="618.4" y="796.4" width="6.5" height="6.5" fill="#afaac9"/>
<rect x="624.6" y="796.4" width="6.5" height="6.5" fill="#a9abcc"/>
<rect x="630.8" y="796.4" width="6.5" height="6.5" fill="#b8a9c4"/>
<rect x="636.9" y="796.4" width="6.5" height="6.5" fill="#c5a7be"/>
<rect x="643.1" y="796.4" width="6.5" height="6.5" fill="#b5a9c6"/>
<rect x="649.3" y="796.4" width="6.5" height="6.5" fill="#b4a9c6"/>
<rect x="408" y="802.6" width="6.5" height="6.5" fill="#bba8c3"/>
<rect x="414.2" y="802.6" width="6.5" height="6.5" fill="#c0a7c1"/>
<rect x="420.4" y="802.6" width="6.5" height="6.5" fill="#bca8c3"/>
<rect x="426.6" y="802.6" width="6.5" height="6.5" fill="#c1a7c0"/>
<rect x="432.8" y="802.6" width="6.5" height="6.5" fill="#abaacb"/>
<rect x="438.9" y="802.6" width="6.5" height="6.5" fill="#cda6bb"/>
<rect x="445.1" y="802.6" width="6.5" height="6.5" fill="#c3a7bf"/>
<rect x="451.3" y="802.6" width="6.5" height="6.5" fill="#b4a9c7"/>
<rect x="457.5" y="802.6" width="6.5" height="6.5" fill="#cba6bc"/>
<rect x="463.7" y="802.6" width="6.5" height="6.5" fill="#c1a7c0"/>
<rect x="469.9" y="802.6" width="6.5" height="6.5" fill="#cba6bb"/>
<rect x="476.1" y="802.6" width="6.5" height="6.5" fill="#afaac9"/>
<rect x="482.2" y="802.6" width="6.5" height="6.5" fill="#cda6bb"/>
<rect x="488.4" y="802.6" width="6.5" height="6.5" fill="#bba8c3"/>
<rect x="494.6" y="802.6" width="6.5" height="6.5" fill="#a5abce"/>
<rect x="500.8" y="802.6" width="6.5" height="6.5" fill="#c2a7c0"/>
<rect x="507" y="802.6" width="6.5" height="6.5" fill="#b7a9c5"/>
<rect x="513.2" y="802.6" width="6.5" height="6.5" fill="#afaac9"/>
<rect x="519.4" y="802.6" width="6.5" height="6.5" fill="#b7a9c5"/>
<rect x="525.6" y="802.6" width="6.5" height="6.5" fill="#a5abce"/>
<rect x="531.8" y="802.6" width="6.5" height="6.5" fill="#bfa8c1"/>
<rect x="537.9" y="802.6" width="6.5" height="6.5" fill="#b6a9c5"/>
<rect x="544.1" y="802.6" width="6.5" height="6.5" fill="#b5a9c6"/>
<rect x="550.3" y="802.6" width="6.5" height="6.5" fill="#c7a6be"/>
<rect x="556.5" y="802.6" width="6.5" height="6.5" fill="#b8a9c5"/>
<rect x="562.7" y="802.6" width="6.5" height="6.5" fill="#b1aac8"/>
<rect x="568.9" y="802.6" width="6.5" height="6.5" fill="#adaaca"/>
<rect x="575.1" y="802.6" width="6.5" height="6.5" fill="#b6a9c5"/>
<rect x="581.2" y="802.6" width="6.5" height="6.5" fill="#c2a7c0"/>
<rect x="587.4" y="802.6" width="6.5" height="6.5" fill="#b0aac8"/>
<rect x="593.6" y="802.6" width="6.5" height="6.5" fill="#acaaca"/>
<rect x="599.8" y="802.6" width="6.5" height="6.5" fill="#c0a7c1"/>
<rect x="606" y="802.6" width="6.5" height="6.5" fill="#b8a9c5"/>
<rect x="612.2" y="802.6" width="6.5" height="6.5" fill="#b7a9c5"/>
<rect x="618.4" y="802.6" width="6.5" height="6.5" fill="#cea5ba"/>
<rect x="624.6" y="802.6" width="6.5" height="6.5" fill="#acaaca"/>
<rect x="630.8" y="802.6" width="6.5" height="6.5" fill="#bca8c3"/>
<rect x="636.9" y="802.6" width="6.5" height="6.5" fill="#a9abcc"/>
<rect x="643.1" y="802.6" width="6.5" height="6.5" fill="#b9a8c4"/>
<rect x="649.3" y="802.6" width="6.5" height="6.5" fill="#c2a7c0"/>
<rect x="408" y="808.9" width="6.5" height="6.5" fill="#cea5ba"/>
<rect x="414.2" y="808.9" width="6.5" height="6.5" fill="#b4a9c7"/>
<rect x="420.4" y="808.9" width="6.5" height="6.5" fill="#caa6bc"/>
<rect x="426.6" y="808.9" width="6.5" height="6.5" fill="#caa6bc"/>
<rect x="432.8" y="808.9" width="6.5" height="6.5" fill="#bfa8c1"/>
<rect x="438.9" y="808.9" width="6.5" height="6.5" fill="#dba4b4"/>
<rect x="445.1" y="808.9" width="6.5" height="6.5" fill="#c0a7c1"/>
<rect x="451.3" y="808.9" width="6.5" height="6.5" fill="#b6a9c6"/>
<rect x="457.5" y="808.9" width="6.5" height="6.5" fill="#c4a7bf"/>
<rect x="463.7" y="808.9" width="6.5" height="6.5" fill="#abaacb"/>
<rect x="469.9" y="808.9" width="6.5" height="6.5" fill="#d0a5b9"/>
<rect x="476.1" y="808.9" width="6.5" height="6.5" fill="#c9a6bc"/>
<rect x="482.2" y="808.9" width="6.5" height="6.5" fill="#baa8c4"/>
<rect x="488.4" y="808.9" width="6.5" height="6.5" fill="#c4a7bf"/>
<rect x="494.6" y="808.9" width="6.5" height="6.5" fill="#c3a7bf"/>
<rect x="500.8" y="808.9" width="6.5" height="6.5" fill="#d2a5b8"/>
<rect x="507" y="808.9" width="6.5" height="6.5" fill="#b6a9c5"/>
<rect x="513.2" y="808.9" width="6.5" height="6.5" fill="#aeaac9"/>
<rect x="519.4" y="808.9" width="6.5" height="6.5" fill="#a6abcd"/>
<rect x="525.6" y="808.9" width="6.5" height="6.5" fill="#b9a8c4"/>
<rect x="531.8" y="808.9" width="6.5" height="6.5" fill="#aaaacb"/>
<rect x="537.9" y="808.9" width="6.5" height="6.5" fill="#b9a8c4"/>
<rect x="544.1" y="808.9" width="6.5" height="6.5" fill="#bfa8c1"/>
<rect x="550.3" y="808.9" width="6.5" height="6.5" fill="#b6a9c6"/>
<rect x="556.5" y="808.9" width="6.5" height="6.5" fill="#b0aac8"/>
<rect x="562.7" y="808.9" width="6.5" height="6.5" fill="#c7a6bd"/>
<rect x="568.9" y="808.9" width="6.5" height="6.5" fill="#b7a9c5"/>
<rect x="575.1" y="808.9" width="6.5" height="6.5" fill="#bca8c3"/>
<rect x="581.2" y="808.9" width="6.5" height="6.5" fill="#c4a7bf"/>
<rect x="587.4" y="808.9" width="6.5" height="6.5" fill="#abaacb"/>
<rect x="593.6" y="808.9" width="6.5" height="6.5" fill="#afaac9"/>
<rect x="599.8" y="808.9" width="6.5" height="6.5" fill="#d4a5b7"/>
<rect x="606" y="808.9" width="6.5" height="6.5" fill="#b7a9c5"/>
<rect x="612.2" y="808.9" width="6.5" height="6.5" fill="#aeaac9"/>
<rect x="618.4" y="808.9" width="6.5" height="6.5" fill="#b7a9c5"/>
<rect x="624.6" y="808.9" width="6.5" height="6.5" fill="#b5a9c6"/>
<rect x="630.8" y="808.9" width="6.5" height="6.5" fill="#aeaac9"/>
<rect x="636.9" y="808.9" width="6.5" height="6.5" fill="#b8a8c4"/>
<rect x="643.1" y="808.9" width="6.5" height="6.5" fill="#bda8c2"/>
<rect x="649.3" y="808.9" width="6.5" height="6.5" fill="#bda8c2"/>
<rect x="408" y="815.1" width="6.5" height="6.5" fill="#cba6bb"/>
<rect x="414.2" y="815.1" width="6.5" height="6.5" fill="#b1a9c8"/>
<rect x="420.4" y="815.1" width="6.5" height="6.5" fill="#b3a9c7"/>
<rect x="426.6" y="815.1" width="6.5" height="6.5" fill="#cda6ba"/>
<rect x="432.8" y="815.1" width="6.5" height="6.5" fill="#bfa8c1"/>
<rect x="438.9" y="815.1" width="6.5" height="6.5" fill="#d1a5b9"/>
<rect x="445.1" y="815.1" width="6.5" height="6.5" fill="#c7a7be"/>
<rect x="451.3" y="815.1" width="6.5" height="6.5" fill="#b3a9c7"/>
<rect x="457.5" y="815.1" width="6.5" height="6.5" fill="#c9a6bd"/>
<rect x="463.7" y="815.1" width="6.5" height="6.5" fill="#b6a9c5"/>
<rect x="469.9" y="815.1" width="6.5" height="6.5" fill="#c5a7bf"/>
<rect x="476.1" y="815.1" width="6.5" height="6.5" fill="#cfa5b9"/>
<rect x="482.2" y="815.1" width="6.5" height="6.5" fill="#d9a4b5"/>
<rect x="488.4" y="815.1" width="6.5" height="6.5" fill="#c0a7c1"/>
<rect x="494.6" y="815.1" width="6.5" height="6.5" fill="#c8a6bd"/>
<rect x="500.8" y="815.1" width="6.5" height="6.5" fill="#c3a7bf"/>
<rect x="507" y="815.1" width="6.5" height="6.5" fill="#c9a6bd"/>
<rect x="513.2" y="815.1" width="6.5" height="6.5" fill="#a2accf"/>
<rect x="519.4" y="815.1" width="6.5" height="6.5" fill="#baa8c3"/>
<rect x="525.6" y="815.1" width="6.5" height="6.5" fill="#c2a7c0"/>
<rect x="531.8" y="815.1" width="6.5" height="6.5" fill="#c4a7bf"/>
<rect x="537.9" y="815.1" width="6.5" height="6.5" fill="#b5a9c6"/>
<rect x="544.1" y="815.1" width="6.5" height="6.5" fill="#c7a6bd"/>
<rect x="550.3" y="815.1" width="6.5" height="6.5" fill="#caa6bc"/>
<rect x="556.5" y="815.1" width="6.5" height="6.5" fill="#bea8c2"/>
<rect x="562.7" y="815.1" width="6.5" height="6.5" fill="#baa8c4"/>
<rect x="568.9" y="815.1" width="6.5" height="6.5" fill="#b8a9c5"/>
<rect x="575.1" y="815.1" width="6.5" height="6.5" fill="#bda8c2"/>
<rect x="581.2" y="815.1" width="6.5" height="6.5" fill="#c9a6bc"/>
<rect x="587.4" y="815.1" width="6.5" height="6.5" fill="#cca6bb"/>
<rect x="593.6" y="815.1" width="6.5" height="6.5" fill="#b6a9c6"/>
<rect x="599.8" y="815.1" width="6.5" height="6.5" fill="#b0aac8"/>
<rect x="606" y="815.1" width="6.5" height="6.5" fill="#b2a9c7"/>
<rect x="612.2" y="815.1" width="6.5" height="6.5" fill="#c7a6bd"/>
<rect x="618.4" y="815.1" width="6.5" height="6.5" fill="#bfa8c1"/>
<rect x="624.6" y="815.1" width="6.5" height="6.5" fill="#c0a7c1"/>
<rect x="630.8" y="815.1" width="6.5" height="6.5" fill="#c3a7bf"/>
<rect x="636.9" y="815.1" width="6.5" height="6.5" fill="#c3a7c0"/>
<rect x="643.1" y="815.1" width="6.5" height="6.5" fill="#bda8c2"/>
<rect x="649.3" y="815.1" width="6.5" height="6.5" fill="#b3a9c7"/>
<rect x="408" y="821.3" width="6.5" height="6.5" fill="#c1a7c0"/>
<rect x="414.2" y="821.3" width="6.5" height="6.5" fill="#caa6bc"/>
<rect x="420.4" y="821.3" width="6.5" height="6.5" fill="#cda6bb"/>
<rect x="426.6" y="821.3" width="6.5" height="6.5" fill="#c3a7bf"/>
<rect x="432.8" y="821.3" width="6.5" height="6.5" fill="#c2a7c0"/>
<rect x="438.9" y="821.3" width="6.5" height="6.5" fill="#d7a4b6"/>
<rect x="445.1" y="821.3" width="6.5" height="6.5" fill="#c1a7c0"/>
<rect x="451.3" y="821.3" width="6.5" height="6.5" fill="#c9a6bd"/>
<rect x="457.5" y="821.3" width="6.5" height="6.5" fill="#c2a7c0"/>
<rect x="463.7" y="821.3" width="6.5" height="6.5" fill="#bba8c3"/>
<rect x="469.9" y="821.3" width="6.5" height="6.5" fill="#b3a9c7"/>
<rect x="476.1" y="821.3" width="6.5" height="6.5" fill="#bea8c2"/>
<rect x="482.2" y="821.3" width="6.5" height="6.5" fill="#baa8c3"/>
<rect x="488.4" y="821.3" width="6.5" height="6.5" fill="#cea6ba"/>
<rect x="494.6" y="821.3" width="6.5" height="6.5" fill="#b6a9c6"/>
<rect x="500.8" y="821.3" width="6.5" height="6.5" fill="#bea8c2"/>
<rect x="507" y="821.3" width="6.5" height="6.5" fill="#caa6bc"/>
<rect x="513.2" y="821.3" width="6.5" height="6.5" fill="#c1a7c0"/>
<rect x="519.4" y="821.3" width="6.5" height="6.5" fill="#c8a6bd"/>
<rect x="525.6" y="821.3" width="6.5" height="6.5" fill="#cba6bb"/>
<rect x="531.8" y="821.3" width="6.5" height="6.5" fill="#adaaca"/>
<rect x="537.9" y="821.3" width="6.5" height="6.5" fill="#bca8c3"/>
<rect x="544.1" y="821.3" width="6.5" height="6.5" fill="#b5a9c6"/>
<rect x="550.3" y="821.3" width="6.5" height="6.5" fill="#d0a5b9"/>
<rect x="556.5" y="821.3" width="6.5" height="6.5" fill="#bea8c2"/>
<rect x="562.7" y="821.3" width="6.5" height="6.5" fill="#c5a7be"/>
<rect x="568.9" y="821.3" width="6.5" height="6.5" fill="#d3a5b8"/>
<rect x="575.1" y="821.3" width="6.5" height="6.5" fill="#baa8c4"/>
<rect x="581.2" y="821.3" width="6.5" height="6.5" fill="#bfa8c1"/>
<rect x="587.4" y="821.3" width="6.5" height="6.5" fill="#c3a7c0"/>
<rect x="593.6" y="821.3" width="6.5" height="6.5" fill="#baa8c3"/>
<rect x="599.8" y="821.3" width="6.5" height="6.5" fill="#cca6bb"/>
<rect x="606" y="821.3" width="6.5" height="6.5" fill="#c7a6bd"/>
<rect x="612.2" y="821.3" width="6.5" height="6.5" fill="#caa6bc"/>
<rect x="618.4" y="821.3" width="6.5" height="6.5" fill="#bfa8c1"/>
<rect x="624.6" y="821.3" width="6.5" height="6.5" fill="#bba8c3"/>
<rect x="630.8" y="821.3" width="6.5" height="6.5" fill="#bba8c3"/>
<rect x="636.9" y="821.3" width="6.5" height="6.5" fill="#bca8c3"/>
<rect x="643.1" y="821.3" width="6.5" height="6.5" fill="#adaaca"/>
<rect x="649.3" y="821.3" width="6.5" height="6.5" fill="#c5a7bf"/>
<rect x="408" y="827.5" width="6.5" height="6.5" fill="#d6a4b6"/>
<rect x="414.2" y="827.5" width="6.5" height="6.5" fill="#cca6bb"/>
<rect x="420.4" y="827.5" width="6.5" height="6.5" fill="#c5a7be"/>
<rect x="426.6" y="827.5" width="6.5" height="6.5" fill="#cba6bb"/>
<rect x="432.8" y="827.5" width="6.5" height="6.5" fill="#cda6ba"/>
<rect x="438.9" y="827.5" width="6.5" height="6.5" fill="#cea5ba"/>
<rect x="445.1" y="827.5" width="6.5" height="6.5" fill="#e0a3b2"/>
<rect x="451.3" y="827.5" width="6.5" height="6.5" fill="#bfa8c1"/>
<rect x="457.5" y="827.5" width="6.5" height="6.5" fill="#cda6ba"/>
<rect x="463.7" y="827.5" width="6.5" height="6.5" fill="#d1a5b9"/>
<rect x="469.9" y="827.5" width="6.5" height="6.5" fill="#c9a6bd"/>
<rect x="476.1" y="827.5" width="6.5" height="6.5" fill="#c5a7bf"/>
<rect x="482.2" y="827.5" width="6.5" height="6.5" fill="#bba8c3"/>
<rect x="488.4" y="827.5" width="6.5" height="6.5" fill="#bfa8c1"/>
<rect x="494.6" y="827.5" width="6.5" height="6.5" fill="#cfa5ba"/>
<rect x="500.8" y="827.5" width="6.5" height="6.5" fill="#d8a4b5"/>
<rect x="507" y="827.5" width="6.5" height="6.5" fill="#bda8c2"/>
<rect x="513.2" y="827.5" width="6.5" height="6.5" fill="#cba6bc"/>
<rect x="519.4" y="827.5" width="6.5" height="6.5" fill="#cba6bc"/>
<rect x="525.6" y="827.5" width="6.5" height="6.5" fill="#d1a5b9"/>
<rect x="531.8" y="827.5" width="6.5" height="6.5" fill="#c7a6be"/>
<rect x="537.9" y="827.5" width="6.5" height="6.5" fill="#c9a6bd"/>
<rect x="544.1" y="827.5" width="6.5" height="6.5" fill="#cea5ba"/>
<rect x="550.3" y="827.5" width="6.5" height="6.5" fill="#b4a9c6"/>
<rect x="556.5" y="827.5" width="6.5" height="6.5" fill="#c3a7bf"/>
<rect x="562.7" y="827.5" width="6.5" height="6.5" fill="#acaaca"/>
<rect x="568.9" y="827.5" width="6.5" height="6.5" fill="#a9abcc"/>
<rect x="575.1" y="827.5" width="6.5" height="6.5" fill="#b7a9c5"/>
<rect x="581.2" y="827.5" width="6.5" height="6.5" fill="#aeaac9"/>
<rect x="587.4" y="827.5" width="6.5" height="6.5" fill="#c7a7be"/>
<rect x="593.6" y="827.5" width="6.5" height="6.5" fill="#cca6bb"/>
<rect x="599.8" y="827.5" width="6.5" height="6.5" fill="#bca8c3"/>
<rect x="606" y="827.5" width="6.5" height="6.5" fill="#bea8c2"/>
<rect x="612.2" y="827.5" width="6.5" height="6.5" fill="#bda8c2"/>
<rect x="618.4" y="827.5" width="6.5" height="6.5" fill="#bda8c2"/>
<rect x="624.6" y="827.5" width="6.5" height="6.5" fill="#c2a7c0"/>
<rect x="630.8" y="827.5" width="6.5" height="6.5" fill="#c5a7be"/>
<rect x="636.9" y="827.5" width="6.5" height="6.5" fill="#bca8c3"/>
<rect x="643.1" y="827.5" width="6.5" height="6.5" fill="#b8a9c4"/>
<rect x="649.3" y="827.5" width="6.5" height="6.5" fill="#bba8c3"/>
<rect x="408" y="833.8" width="6.5" height="6.5" fill="#daa4b4"/>
<rect x="414.2" y="833.8" width="6.5" height="6.5" fill="#caa6bc"/>
<rect x="420.4" y="833.8" width="6.5" height="6.5" fill="#e1a3b1"/>
<rect x="426.6" y="833.8" width="6.5" height="6.5" fill="#cba6bb"/>
<rect x="432.8" y="833.8" width="6.5" height="6.5" fill="#dfa3b2"/>
<rect x="438.9" y="833.8" width="6.5" height="6.5" fill="#bea8c2"/>
<rect x="445.1" y="833.8" width="6.5" height="6.5" fill="#c4a7bf"/>
<rect x="451.3" y="833.8" width="6.5" height="6.5" fill="#d3a5b8"/>
<rect x="457.5" y="833.8" width="6.5" height="6.5" fill="#d2a5b8"/>
<rect x="463.7" y="833.8" width="6.5" height="6.5" fill="#caa6bc"/>
<rect x="469.9" y="833.8" width="6.5" height="6.5" fill="#e5a2af"/>
<rect x="476.1" y="833.8" width="6.5" height="6.5" fill="#cca6bb"/>
<rect x="482.2" y="833.8" width="6.5" height="6.5" fill="#cea6ba"/>
<rect x="488.4" y="833.8" width="6.5" height="6.5" fill="#c3a7c0"/>
<rect x="494.6" y="833.8" width="6.5" height="6.5" fill="#dfa3b2"/>
<rect x="500.8" y="833.8" width="6.5" height="6.5" fill="#d4a5b7"/>
<rect x="507" y="833.8" width="6.5" height="6.5" fill="#cea6ba"/>
<rect x="513.2" y="833.8" width="6.5" height="6.5" fill="#b3a9c7"/>
<rect x="519.4" y="833.8" width="6.5" height="6.5" fill="#cca6bb"/>
<rect x="525.6" y="833.8" width="6.5" height="6.5" fill="#c1a7c0"/>
<rect x="531.8" y="833.8" width="6.5" height="6.5" fill="#cca6bb"/>
<rect x="537.9" y="833.8" width="6.5" height="6.5" fill="#d2a5b8"/>
<rect x="544.1" y="833.8" width="6.5" height="6.5" fill="#bca8c3"/>
<rect x="550.3" y="833.8" width="6.5" height="6.5" fill="#c8a6bd"/>
<rect x="556.5" y="833.8" width="6.5" height="6.5" fill="#d0a5b9"/>
<rect x="562.7" y="833.8" width="6.5" height="6.5" fill="#c7a7be"/>
<rect x="568.9" y="833.8" width="6.5" height="6.5" fill="#c0a7c1"/>
<rect x="575.1" y="833.8" width="6.5" height="6.5" fill="#b6a9c5"/>
<rect x="581.2" y="833.8" width="6.5" height="6.5" fill="#bba8c3"/>
<rect x="587.4" y="833.8" width="6.5" height="6.5" fill="#b3a9c7"/>
<rect x="593.6" y="833.8" width="6.5" height="6.5" fill="#cfa5ba"/>
<rect x="599.8" y="833.8" width="6.5" height="6.5" fill="#c4a7bf"/>
<rect x="606" y="833.8" width="6.5" height="6.5" fill="#b3a9c7"/>
<rect x="612.2" y="833.8" width="6.5" height="6.5" fill="#c2a7c0"/>
<rect x="618.4" y="833.8" width="6.5" height="6.5" fill="#b2a9c7"/>
<rect x="624.6" y="833.8" width="6.5" height="6.5" fill="#99add3"/>
<rect x="630.8" y="833.8" width="6.5" height="6.5" fill="#d2a5b8"/>
<rect x="636.9" y="833.8" width="6.5" height="6.5" fill="#d2a5b8"/>
<rect x="643.1" y="833.8" width="6.5" height="6.5" fill="#b1aac8"/>
<rect x="649.3" y="833.8" width="6.5" height="6.5" fill="#baa8c4"/>
<rect x="408" y="840" width="6.5" height="6.5" fill="#d6a4b6"/>
<rect x="414.2" y="840" width="6.5" height="6.5" fill="#cea6ba"/>
<rect x="420.4" y="840" width="6.5" height="6.5" fill="#c7a6bd"/>
<rect x="426.6" y="840" width="6.5" height="6.5" fill="#cba6bc"/>
<rect x="432.8" y="840" width="6.5" height="6.5" fill="#cea5ba"/>
<rect x="438.9" y="840" width="6.5" height="6.5" fill="#caa6bc"/>
<rect x="445.1" y="840" width="6.5" height="6.5" fill="#d3a5b8"/>
<rect x="451.3" y="840" width="6.5" height="6.5" fill="#cda6bb"/>
<rect x="457.5" y="840" width="6.5" height="6.5" fill="#c5a7be"/>
<rect x="463.7" y="840" width="6.5" height="6.5" fill="#cfa5ba"/>
<rect x="469.9" y="840" width="6.5" height="6.5" fill="#b8a8c4"/>
<rect x="476.1" y="840" width="6.5" height="6.5" fill="#e1a3b1"/>
<rect x="482.2" y="840" width="6.5" height="6.5" fill="#b6a9c5"/>
<rect x="488.4" y="840" width="6.5" height="6.5" fill="#cca6bb"/>
<rect x="494.6" y="840" width="6.5" height="6.5" fill="#d1a5b9"/>
<rect x="500.8" y="840" width="6.5" height="6.5" fill="#d1a5b8"/>
<rect x="507" y="840" width="6.5" height="6.5" fill="#cfa5ba"/>
<rect x="513.2" y="840" width="6.5" height="6.5" fill="#dca4b4"/>
<rect x="519.4" y="840" width="6.5" height="6.5" fill="#bca8c3"/>
<rect x="525.6" y="840" width="6.5" height="6.5" fill="#c9a6bc"/>
<rect x="531.8" y="840" width="6.5" height="6.5" fill="#cba6bb"/>
<rect x="537.9" y="840" width="6.5" height="6.5" fill="#c3a7c0"/>
<rect x="544.1" y="840" width="6.5" height="6.5" fill="#c1a7c0"/>
<rect x="550.3" y="840" width="6.5" height="6.5" fill="#d9a4b5"/>
<rect x="556.5" y="840" width="6.5" height="6.5" fill="#bea8c2"/>
<rect x="562.7" y="840" width="6.5" height="6.5" fill="#c1a7c0"/>
<rect x="568.9" y="840" width="6.5" height="6.5" fill="#c3a7bf"/>
<rect x="575.1" y="840" width="6.5" height="6.5" fill="#c3a7bf"/>
<rect x="581.2" y="840" width="6.5" height="6.5" fill="#c8a6bd"/>
<rect x="587.4" y="840" width="6.5" height="6.5" fill="#c3a7c0"/>
<rect x="593.6" y="840" width="6.5" height="6.5" fill="#caa6bc"/>
<rect x="599.8" y="840" width="6.5" height="6.5" fill="#c6a7be"/>
<rect x="606" y="840" width="6.5" height="6.5" fill="#cba6bc"/>
<rect x="612.2" y="840" width="6.5" height="6.5" fill="#d6a4b6"/>
<rect x="618.4" y="840" width="6.5" height="6.5" fill="#b9a8c4"/>
<rect x="624.6" y="840" width="6.5" height="6.5" fill="#daa4b4"/>
<rect x="630.8" y="840" width="6.5" height="6.5" fill="#bfa8c1"/>
<rect x="636.9" y="840" width="6.5" height="6.5" fill="#cea6ba"/>
<rect x="643.1" y="840" width="6.5" height="6.5" fill="#c7a6bd"/>
<rect x="649.3" y="840" width="6.5" height="6.5" fill="#c1a7c0"/>
<rect x="408" y="846.2" width="6.5" height="6.5" fill="#bca8c3"/>
<rect x="414.2" y="846.2" width="6.5" height="6.5" fill="#eca1ac"/>
<rect x="420.4" y="846.2" width="6.5" height="6.5" fill="#cba6bb"/>
<rect x="426.6" y="846.2" width="6.5" height="6.5" fill="#cba6bc"/>
<rect x="432.8" y="846.2" width="6.5" height="6.5" fill="#e3a3b0"/>
<rect x="438.9" y="846.2" width="6.5" height="6.5" fill="#d5a4b7"/>
<rect x="445.1" y="846.2" width="6.5" height="6.5" fill="#eea1ab"/>
<rect x="451.3" y="846.2" width="6.5" height="6.5" fill="#eaa2ad"/>
<rect x="457.5" y="846.2" width="6.5" height="6.5" fill="#dca4b3"/>
<rect x="463.7" y="846.2" width="6.5" height="6.5" fill="#d6a4b7"/>
<rect x="469.9" y="846.2" width="6.5" height="6.5" fill="#dca4b3"/>
<rect x="476.1" y="846.2" width="6.5" height="6.5" fill="#bfa8c1"/>
<rect x="482.2" y="846.2" width="6.5" height="6.5" fill="#d3a5b8"/>
<rect x="488.4" y="846.2" width="6.5" height="6.5" fill="#d2a5b8"/>
<rect x="494.6" y="846.2" width="6.5" height="6.5" fill="#c9a6bc"/>
<rect x="500.8" y="846.2" width="6.5" height="6.5" fill="#d3a5b8"/>
<rect x="507" y="846.2" width="6.5" height="6.5" fill="#bba8c3"/>
<rect x="513.2" y="846.2" width="6.5" height="6.5" fill="#daa4b4"/>
<rect x="519.4" y="846.2" width="6.5" height="6.5" fill="#dfa3b2"/>
<rect x="525.6" y="846.2" width="6.5" height="6.5" fill="#bba8c3"/>
<rect x="531.8" y="846.2" width="6.5" height="6.5" fill="#cea5ba"/>
<rect x="537.9" y="846.2" width="6.5" height="6.5" fill="#e1a3b1"/>
<rect x="544.1" y="846.2" width="6.5" height="6.5" fill="#d1a5b9"/>
<rect x="550.3" y="846.2" width="6.5" height="6.5" fill="#bda8c2"/>
<rect x="556.5" y="846.2" width="6.5" height="6.5" fill="#bda8c2"/>
<rect x="562.7" y="846.2" width="6.5" height="6.5" fill="#d6a4b7"/>
<rect x="568.9" y="846.2" width="6.5" height="6.5" fill="#e2a3b0"/>
<rect x="575.1" y="846.2" width="6.5" height="6.5" fill="#baa8c4"/>
<rect x="581.2" y="846.2" width="6.5" height="6.5" fill="#c9a6bd"/>
<rect x="587.4" y="846.2" width="6.5" height="6.5" fill="#bda8c2"/>
<rect x="593.6" y="846.2" width="6.5" height="6.5" fill="#c4a7bf"/>
<rect x="599.8" y="846.2" width="6.5" height="6.5" fill="#cba6bb"/>
<rect x="606" y="846.2" width="6.5" height="6.5" fill="#c6a7be"/>
<rect x="612.2" y="846.2" width="6.5" height="6.5" fill="#bda8c2"/>
<rect x="618.4" y="846.2" width="6.5" height="6.5" fill="#e3a3b0"/>
<rect x="624.6" y="846.2" width="6.5" height="6.5" fill="#c4a7bf"/>
<rect x="630.8" y="846.2" width="6.5" height="6.5" fill="#c4a7bf"/>
<rect x="636.9" y="846.2" width="6.5" height="6.5" fill="#d6a4b6"/>
<rect x="643.1" y="846.2" width="6.5" height="6.5" fill="#c7a7be"/>
<rect x="649.3" y="846.2" width="6.5" height="6.5" fill="#c3a7bf"/>
<rect x="408" y="852.5" width="6.5" height="6.5" fill="#e8a2ae"/>
<rect x="414.2" y="852.5" width="6.5" height="6.5" fill="#cba6bb"/>
<rect x="420.4" y="852.5" width="6.5" height="6.5" fill="#e4a2b0"/>
<rect x="426.6" y="852.5" width="6.5" height="6.5" fill="#e7a2ae"/>
<rect x="432.8" y="852.5" width="6.5" height="6.5" fill="#e2a3b1"/>
<rect x="438.9" y="852.5" width="6.5" height="6.5" fill="#d5a5b7"/>
<rect x="445.1" y="852.5" width="6.5" height="6.5" fill="#d7a4b6"/>
<rect x="451.3" y="852.5" width="6.5" height="6.5" fill="#bea8c2"/>
<rect x="457.5" y="852.5" width="6.5" height="6.5" fill="#d4a5b7"/>
<rect x="463.7" y="852.5" width="6.5" height="6.5" fill="#daa4b5"/>
<rect x="469.9" y="852.5" width="6.5" height="6.5" fill="#e1a3b1"/>
<rect x="476.1" y="852.5" width="6.5" height="6.5" fill="#d6a4b6"/>
<rect x="482.2" y="852.5" width="6.5" height="6.5" fill="#cea5ba"/>
<rect x="488.4" y="852.5" width="6.5" height="6.5" fill="#c7a6bd"/>
<rect x="494.6" y="852.5" width="6.5" height="6.5" fill="#d2a5b8"/>
<rect x="500.8" y="852.5" width="6.5" height="6.5" fill="#d4a5b7"/>
<rect x="507" y="852.5" width="6.5" height="6.5" fill="#e3a3b0"/>
<rect x="513.2" y="852.5" width="6.5" height="6.5" fill="#d1a5b9"/>
<rect x="519.4" y="852.5" width="6.5" height="6.5" fill="#c9a6bc"/>
<rect x="525.6" y="852.5" width="6.5" height="6.5" fill="#cea5ba"/>
<rect x="531.8" y="852.5" width="6.5" height="6.5" fill="#c9a6bd"/>
<rect x="537.9" y="852.5" width="6.5" height="6.5" fill="#cca6bb"/>
<rect x="544.1" y="852.5" width="6.5" height="6.5" fill="#afaac9"/>
<rect x="550.3" y="852.5" width="6.5" height="6.5" fill="#b7a9c5"/>
<rect x="556.5" y="852.5" width="6.5" height="6.5" fill="#bca8c2"/>
<rect x="562.7" y="852.5" width="6.5" height="6.5" fill="#d3a5b8"/>
<rect x="568.9" y="852.5" width="6.5" height="6.5" fill="#cba6bc"/>
<rect x="575.1" y="852.5" width="6.5" height="6.5" fill="#cea6ba"/>
<rect x="581.2" y="852.5" width="6.5" height="6.5" fill="#dba4b4"/>
<rect x="587.4" y="852.5" width="6.5" height="6.5" fill="#bca8c3"/>
<rect x="593.6" y="852.5" width="6.5" height="6.5" fill="#daa4b4"/>
<rect x="599.8" y="852.5" width="6.5" height="6.5" fill="#cfa5ba"/>
<rect x="606" y="852.5" width="6.5" height="6.5" fill="#bfa8c1"/>
<rect x="612.2" y="852.5" width="6.5" height="6.5" fill="#dea3b3"/>
<rect x="618.4" y="852.5" width="6.5" height="6.5" fill="#b5a9c6"/>
<rect x="624.6" y="852.5" width="6.5" height="6.5" fill="#b9a8c4"/>
<rect x="630.8" y="852.5" width="6.5" height="6.5" fill="#c6a7be"/>
<rect x="636.9" y="852.5" width="6.5" height="6.5" fill="#cea5ba"/>
<rect x="643.1" y="852.5" width="6.5" height="6.5" fill="#c5a7be"/>
<rect x="649.3" y="852.5" width="6.5" height="6.5" fill="#aaabcb"/>
<rect x="408" y="858.7" width="6.5" height="6.5" fill="#daa4b4"/>
<rect x="414.2" y="858.7" width="6.5" height="6.5" fill="#dca4b3"/>
<rect x="420.4" y="858.7" width="6.5" height="6.5" fill="#faa0a6"/>
<rect x="426.6" y="858.7" width="6.5" height="6.5" fill="#f1a1aa"/>
<rect x="432.8" y="858.7" width="6.5" height="6.5" fill="#dea3b3"/>
<rect x="438.9" y="858.7" width="6.5" height="6.5" fill="#cba6bb"/>
<rect x="445.1" y="858.7" width="6.5" height="6.5" fill="#e0a3b2"/>
<rect x="451.3" y="858.7" width="6.5" height="6.5" fill="#c9a6bc"/>
<rect x="457.5" y="858.7" width="6.5" height="6.5" fill="#dda3b3"/>
<rect x="463.7" y="858.7" width="6.5" height="6.5" fill="#dea3b2"/>
<rect x="469.9" y="858.7" width="6.5" height="6.5" fill="#d3a5b8"/>
<rect x="476.1" y="858.7" width="6.5" height="6.5" fill="#dba4b4"/>
<rect x="482.2" y="858.7" width="6.5" height="6.5" fill="#d2a5b8"/>
<rect x="488.4" y="858.7" width="6.5" height="6.5" fill="#cea5ba"/>
<rect x="494.6" y="858.7" width="6.5" height="6.5" fill="#eca1ac"/>
<rect x="500.8" y="858.7" width="6.5" height="6.5" fill="#dea3b3"/>
<rect x="507" y="858.7" width="6.5" height="6.5" fill="#d0a5b9"/>
<rect x="513.2" y="858.7" width="6.5" height="6.5" fill="#c9a6bc"/>
<rect x="519.4" y="858.7" width="6.5" height="6.5" fill="#d6a4b6"/>
<rect x="525.6" y="858.7" width="6.5" height="6.5" fill="#dba4b4"/>
<rect x="531.8" y="858.7" width="6.5" height="6.5" fill="#dfa3b2"/>
<rect x="537.9" y="858.7" width="6.5" height="6.5" fill="#e7a2ae"/>
<rect x="544.1" y="858.7" width="6.5" height="6.5" fill="#d8a4b5"/>
<rect x="550.3" y="858.7" width="6.5" height="6.5" fill="#c0a7c1"/>
<rect x="556.5" y="858.7" width="6.5" height="6.5" fill="#eea1ab"/>
<rect x="562.7" y="858.7" width="6.5" height="6.5" fill="#e1a3b1"/>
<rect x="568.9" y="858.7" width="6.5" height="6.5" fill="#dba4b4"/>
<rect x="575.1" y="858.7" width="6.5" height="6.5" fill="#e2a3b1"/>
<rect x="581.2" y="858.7" width="6.5" height="6.5" fill="#b8a9c5"/>
<rect x="587.4" y="858.7" width="6.5" height="6.5" fill="#c8a6bd"/>
<rect x="593.6" y="858.7" width="6.5" height="6.5" fill="#c5a7be"/>
<rect x="599.8" y="858.7" width="6.5" height="6.5" fill="#dea3b3"/>
<rect x="606" y="858.7" width="6.5" height="6.5" fill="#baa8c3"/>
<rect x="612.2" y="858.7" width="6.5" height="6.5" fill="#c7a7be"/>
<rect x="618.4" y="858.7" width="6.5" height="6.5" fill="#e1a3b1"/>
<rect x="624.6" y="858.7" width="6.5" height="6.5" fill="#d4a5b7"/>
<rect x="630.8" y="858.7" width="6.5" height="6.5" fill="#c5a7bf"/>
<rect x="636.9" y="858.7" width="6.5" height="6.5" fill="#e6a2af"/>
<rect x="643.1" y="858.7" width="6.5" height="6.5" fill="#b6a9c5"/>
<rect x="649.3" y="858.7" width="6.5" height="6.5" fill="#d0a5b9"/>
<rect x="408" y="864.9" width="6.5" height="6.5" fill="#dfa3b2"/>
<rect x="414.2" y="864.9" width="6.5" height="6.5" fill="#e9a2ad"/>
<rect x="420.4" y="864.9" width="6.5" height="6.5" fill="#dda3b3"/>
<rect x="426.6" y="864.9" width="6.5" height="6.5" fill="#d4a5b8"/>
<rect x="432.8" y="864.9" width="6.5" height="6.5" fill="#e3a3b0"/>
<rect x="438.9" y="864.9" width="6.5" height="6.5" fill="#cba6bc"/>
<rect x="445.1" y="864.9" width="6.5" height="6.5" fill="#e6a2af"/>
<rect x="451.3" y="864.9" width="6.5" height="6.5" fill="#d9a4b5"/>
<rect x="457.5" y="864.9" width="6.5" height="6.5" fill="#eba1ac"/>
<rect x="463.7" y="864.9" width="6.5" height="6.5" fill="#d6a4b6"/>
<rect x="469.9" y="864.9" width="6.5" height="6.5" fill="#d2a5b8"/>
<rect x="476.1" y="864.9" width="6.5" height="6.5" fill="#e1a3b1"/>
<rect x="482.2" y="864.9" width="6.5" height="6.5" fill="#eda1ab"/>
<rect x="488.4" y="864.9" width="6.5" height="6.5" fill="#bba8c3"/>
<rect x="494.6" y="864.9" width="6.5" height="6.5" fill="#dba4b4"/>
<rect x="500.8" y="864.9" width="6.5" height="6.5" fill="#e2a3b1"/>
<rect x="507" y="864.9" width="6.5" height="6.5" fill="#c2a7c0"/>
<rect x="513.2" y="864.9" width="6.5" height="6.5" fill="#caa6bc"/>
<rect x="519.4" y="864.9" width="6.5" height="6.5" fill="#e1a3b1"/>
<rect x="525.6" y="864.9" width="6.5" height="6.5" fill="#caa6bc"/>
<rect x="531.8" y="864.9" width="6.5" height="6.5" fill="#cca6bb"/>
<rect x="537.9" y="864.9" width="6.5" height="6.5" fill="#efa1ab"/>
<rect x="544.1" y="864.9" width="6.5" height="6.5" fill="#c6a7be"/>
<rect x="550.3" y="864.9" width="6.5" height="6.5" fill="#c7a7be"/>
<rect x="556.5" y="864.9" width="6.5" height="6.5" fill="#b0aac8"/>
<rect x="562.7" y="864.9" width="6.5" height="6.5" fill="#c2a7c0"/>
<rect x="568.9" y="864.9" width="6.5" height="6.5" fill="#bfa8c1"/>
<rect x="575.1" y="864.9" width="6.5" height="6.5" fill="#eba1ac"/>
<rect x="581.2" y="864.9" width="6.5" height="6.5" fill="#e3a3b0"/>
<rect x="587.4" y="864.9" width="6.5" height="6.5" fill="#bda8c2"/>
<rect x="593.6" y="864.9" width="6.5" height="6.5" fill="#eda1ab"/>
<rect x="599.8" y="864.9" width="6.5" height="6.5" fill="#daa4b4"/>
<rect x="606" y="864.9" width="6.5" height="6.5" fill="#cba6bb"/>
<rect x="612.2" y="864.9" width="6.5" height="6.5" fill="#daa4b4"/>
<rect x="618.4" y="864.9" width="6.5" height="6.5" fill="#d3a5b8"/>
<rect x="624.6" y="864.9" width="6.5" height="6.5" fill="#c1a7c0"/>
<rect x="630.8" y="864.9" width="6.5" height="6.5" fill="#b2a9c8"/>
<rect x="636.9" y="864.9" width="6.5" height="6.5" fill="#bea8c2"/>
<rect x="643.1" y="864.9" width="6.5" height="6.5" fill="#cba6bb"/>
<rect x="649.3" y="864.9" width="6.5" height="6.5" fill="#c5a7be"/>
<rect x="408" y="871.2" width="6.5" height="6.5" fill="#daa4b4"/>
<rect x="414.2" y="871.2" width="6.5" height="6.5" fill="#f5a0a8"/>
<rect x="420.4" y="871.2" width="6.5" height="6.5" fill="#d4a5b7"/>
<rect x="426.6" y="871.2" width="6.5" height="6.5" fill="#f2a1a9"/>
<rect x="432.8" y="871.2" width="6.5" height="6.5" fill="#dca4b4"/>
<rect x="438.9" y="871.2" width="6.5" height="6.5" fill="#e4a2b0"/>
<rect x="445.1" y="871.2" width="6.5" height="6.5" fill="#d0a5b9"/>
<rect x="451.3" y="871.2" width="6.5" height="6.5" fill="#e1a3b1"/>
<rect x="457.5" y="871.2" width="6.5" height="6.5" fill="#d4a5b7"/>
<rect x="463.7" y="871.2" width="6.5" height="6.5" fill="#c4a7bf"/>
<rect x="469.9" y="871.2" width="6.5" height="6.5" fill="#dfa3b2"/>
<rect x="476.1" y="871.2" width="6.5" height="6.5" fill="#dea3b3"/>
<rect x="482.2" y="871.2" width="6.5" height="6.5" fill="#eba2ac"/>
<rect x="488.4" y="871.2" width="6.5" height="6.5" fill="#e2a3b1"/>
<rect x="494.6" y="871.2" width="6.5" height="6.5" fill="#cda6bb"/>
<rect x="500.8" y="871.2" width="6.5" height="6.5" fill="#d2a5b8"/>
<rect x="507" y="871.2" width="6.5" height="6.5" fill="#b4a9c6"/>
<rect x="513.2" y="871.2" width="6.5" height="6.5" fill="#c9a6bc"/>
<rect x="519.4" y="871.2" width="6.5" height="6.5" fill="#eea1ab"/>
<rect x="525.6" y="871.2" width="6.5" height="6.5" fill="#f1a1a9"/>
<rect x="531.8" y="871.2" width="6.5" height="6.5" fill="#e5a2af"/>
<rect x="537.9" y="871.2" width="6.5" height="6.5" fill="#dda3b3"/>
<rect x="544.1" y="871.2" width="6.5" height="6.5" fill="#e1a3b1"/>
<rect x="550.3" y="871.2" width="6.5" height="6.5" fill="#dea3b2"/>
<rect x="556.5" y="871.2" width="6.5" height="6.5" fill="#bba8c3"/>
<rect x="562.7" y="871.2" width="6.5" height="6.5" fill="#c8a6bd"/>
<rect x="568.9" y="871.2" width="6.5" height="6.5" fill="#e7a2ae"/>
<rect x="575.1" y="871.2" width="6.5" height="6.5" fill="#e7a2ae"/>
<rect x="581.2" y="871.2" width="6.5" height="6.5" fill="#d7a4b6"/>
<rect x="587.4" y="871.2" width="6.5" height="6.5" fill="#cea6ba"/>
<rect x="593.6" y="871.2" width="6.5" height="6.5" fill="#cca6bb"/>
<rect x="599.8" y="871.2" width="6.5" height="6.5" fill="#c9a6bd"/>
<rect x="606" y="871.2" width="6.5" height="6.5" fill="#c2a7c0"/>
<rect x="612.2" y="871.2" width="6.5" height="6.5" fill="#b2a9c8"/>
<rect x="618.4" y="871.2" width="6.5" height="6.5" fill="#d2a5b8"/>
<rect x="624.6" y="871.2" width="6.5" height="6.5" fill="#c8a6bd"/>
<rect x="630.8" y="871.2" width="6.5" height="6.5" fill="#cba6bc"/>
<rect x="636.9" y="871.2" width="6.5" height="6.5" fill="#e9a2ad"/>
<rect x="643.1" y="871.2" width="6.5" height="6.5" fill="#d6a4b6"/>
<rect x="649.3" y="871.2" width="6.5" height="6.5" fill="#c1a7c0"/>
</g></g>
<rect x="408" y="640.6" width="247.5" height="236.8" fill="none" stroke="#26354d" stroke-width="1"/>
<text x="51" y="667" font-size="15.5" stroke="#eef3fa" stroke-width=".2" text-anchor="start" fill="#eef3fa">Control</text>
<text x="422" y="667" font-size="15.5" stroke="#f3f1f8" stroke-width=".2" text-anchor="start" fill="#f3f1f8">PFTEA</text>
<rect x="212.2" y="858" width="62" height="11.7" fill="#fff"/>
<text x="245.5" y="851.2" font-size="18" stroke="#f0f4fa" stroke-width=".2" text-anchor="middle" fill="#f0f4fa">1 µm</text>
<rect x="584.2" y="858" width="62" height="11.7" fill="#fff"/>
<text x="617.5" y="851.2" font-size="18" stroke="#f6f2f7" stroke-width=".2" text-anchor="middle" fill="#f6f2f7">1 µm</text>
<rect x="318.5" y="640.6" width="20" height="236.8" fill="url(#cb)" stroke="#6c6c74" stroke-width="0.9"/>
<text x="329" y="633" font-size="14.2" stroke="#1a1a1a" stroke-width=".2" text-anchor="middle" fill="#1a1a1a">150.0</text>
<text x="329" y="895" font-size="14.2" stroke="#1a1a1a" stroke-width=".2" text-anchor="middle" fill="#1a1a1a">15.00</text>
<rect x="690.3" y="640.6" width="20" height="236.8" fill="url(#cb)" stroke="#6c6c74" stroke-width="0.9"/>
<text x="700.8" y="633" font-size="14.2" stroke="#1a1a1a" stroke-width=".2" text-anchor="middle" fill="#1a1a1a">150.0</text>
<text x="700.8" y="895" font-size="14.2" stroke="#1a1a1a" stroke-width=".2" text-anchor="middle" fill="#1a1a1a">15.00</text>
<text x="2.5" y="642.3" font-size="19" font-weight="bold" stroke="#1a1a1a" stroke-width=".35" text-anchor="start" fill="#1a1a1a">g</text>
<text x="352" y="642" font-size="19" font-weight="bold" stroke="#1a1a1a" stroke-width=".35" text-anchor="start" fill="#1a1a1a">h</text>
<text x="731" y="642" font-size="19" font-weight="bold" stroke="#1a1a1a" stroke-width=".35" text-anchor="start" fill="#1a1a1a">i</text>
<rect x="801.6" y="739.2" width="17.8" height="1" fill="#f98f8f"/>
<rect x="820.1" y="714.7" width="17.8" height="25.5" fill="#f98f8f"/>
<rect x="838.5" y="655.3" width="17.8" height="84.9" fill="#f98f8f"/>
<rect x="857" y="654.3" width="17.8" height="85.9" fill="#f98f8f"/>
<rect x="875.4" y="684.1" width="17.8" height="56.1" fill="#f98f8f"/>
<rect x="893.9" y="697.9" width="17.8" height="42.3" fill="#f98f8f"/>
<rect x="912.3" y="708.6" width="17.8" height="31.6" fill="#f98f8f"/>
<rect x="930.8" y="717.3" width="17.8" height="22.9" fill="#f98f8f"/>
<rect x="949.2" y="719.3" width="17.8" height="20.9" fill="#f98f8f"/>
<rect x="967.7" y="725.7" width="17.8" height="14.5" fill="#f98f8f"/>
<rect x="986.1" y="732.8" width="17.8" height="7.4" fill="#f98f8f"/>
<rect x="1004.6" y="731.8" width="17.8" height="8.4" fill="#f98f8f"/>
<rect x="1023" y="735.8" width="17.8" height="4.4" fill="#f98f8f"/>
<rect x="1041.5" y="736.6" width="17.8" height="3.6" fill="#f98f8f"/>
<rect x="1060" y="736.9" width="6.7" height="3.3" fill="#f98f8f"/>
<rect x="800.9" y="854.5" width="17" height="10.7" fill="#4a8bd0"/>
<rect x="818.6" y="820.9" width="17" height="44.3" fill="#4a8bd0"/>
<rect x="836.4" y="784.6" width="17" height="80.6" fill="#4a8bd0"/>
<rect x="854.1" y="787.1" width="17" height="78.1" fill="#4a8bd0"/>
<rect x="871.9" y="814.2" width="17" height="51" fill="#4a8bd0"/>
<rect x="889.6" y="831.6" width="17" height="33.6" fill="#4a8bd0"/>
<rect x="907.4" y="842.7" width="17" height="22.5" fill="#4a8bd0"/>
<rect x="925.1" y="848.8" width="17" height="16.4" fill="#4a8bd0"/>
<rect x="942.8" y="846.8" width="17" height="18.4" fill="#4a8bd0"/>
<rect x="960.6" y="852.9" width="17" height="12.3" fill="#4a8bd0"/>
<rect x="978.3" y="855.5" width="17" height="9.7" fill="#4a8bd0"/>
<rect x="996.1" y="855.5" width="17" height="9.7" fill="#4a8bd0"/>
<rect x="1013.8" y="856.5" width="17" height="8.7" fill="#4a8bd0"/>
<rect x="1031.6" y="859.4" width="17" height="5.8" fill="#4a8bd0"/>
<rect x="1049.3" y="859.1" width="17" height="6.1" fill="#4a8bd0"/>
<rect x="782.8" y="641.7" width="283.9" height="98.5" fill="none" stroke="#111" stroke-width="1.1"/>
<rect x="782.8" y="767" width="283.9" height="98.2" fill="none" stroke="#111" stroke-width="1.1"/>
<text x="782.8" y="758.5" font-size="14.4" stroke="#1a1a1a" stroke-width=".2" text-anchor="middle" fill="#1a1a1a">0</text>
<text x="924.8" y="758.5" font-size="14.4" stroke="#1a1a1a" stroke-width=".2" text-anchor="middle" fill="#1a1a1a">100</text>
<text x="1066.7" y="758.5" font-size="14.4" stroke="#1a1a1a" stroke-width=".2" text-anchor="middle" fill="#1a1a1a">200</text>
<text x="775.8" y="744.9" font-size="14.8" stroke="#1a1a1a" stroke-width=".2" text-anchor="end" fill="#1a1a1a">0</text>
<text x="775.8" y="712" font-size="14.8" stroke="#1a1a1a" stroke-width=".2" text-anchor="end" fill="#1a1a1a">200</text>
<text x="775.8" y="679.1" font-size="14.8" stroke="#1a1a1a" stroke-width=".2" text-anchor="end" fill="#1a1a1a">400</text>
<text x="782.8" y="883.5" font-size="14.4" stroke="#1a1a1a" stroke-width=".2" text-anchor="middle" fill="#1a1a1a">0</text>
<text x="853.8" y="883.5" font-size="14.4" stroke="#1a1a1a" stroke-width=".2" text-anchor="middle" fill="#1a1a1a">20</text>
<text x="924.8" y="883.5" font-size="14.4" stroke="#1a1a1a" stroke-width=".2" text-anchor="middle" fill="#1a1a1a">40</text>
<text x="995.7" y="883.5" font-size="14.4" stroke="#1a1a1a" stroke-width=".2" text-anchor="middle" fill="#1a1a1a">60</text>
<text x="1066.7" y="883.5" font-size="14.4" stroke="#1a1a1a" stroke-width=".2" text-anchor="middle" fill="#1a1a1a">80</text>
<text x="775.8" y="869.9" font-size="14.8" stroke="#1a1a1a" stroke-width=".2" text-anchor="end" fill="#1a1a1a">0</text>
<text x="775.8" y="837" font-size="14.8" stroke="#1a1a1a" stroke-width=".2" text-anchor="end" fill="#1a1a1a">200</text>
<text x="775.8" y="804.1" font-size="14.8" stroke="#1a1a1a" stroke-width=".2" text-anchor="end" fill="#1a1a1a">400</text>
<path d="M782.8 740.2L782.8 744.7M924.8 740.2L924.8 744.7M1066.7 740.2L1066.7 744.7M853.8 740.2L853.8 742.7M995.7 740.2L995.7 742.7M782.8 740.2L778.3 740.2M782.8 707.3L778.3 707.3M782.8 674.4L778.3 674.4M782.8 723.8L780.3 723.8M782.8 690.9L780.3 690.9M782.8 865.2L782.8 869.7M853.8 865.2L853.8 869.7M924.8 865.2L924.8 869.7M995.7 865.2L995.7 869.7M1066.7 865.2L1066.7 869.7M818.3 865.2L818.3 867.7M889.3 865.2L889.3 867.7M960.2 865.2L960.2 867.7M1031.2 865.2L1031.2 867.7M782.8 865.2L778.3 865.2M782.8 832.3L778.3 832.3M782.8 799.4L778.3 799.4M782.8 848.8L780.3 848.8M782.8 815.9L780.3 815.9" stroke="#111" stroke-width="1.1" fill="none"/>
<rect x="962.8" y="650.7" width="33" height="15.2" fill="#f98f8f"/>
<text x="1001" y="663.5" font-size="15.6" stroke="#1a1a1a" stroke-width=".2" text-anchor="start" fill="#1a1a1a">PFTEA</text>
<rect x="962.8" y="776.3" width="33" height="15.2" fill="#4a8bd0"/>
<text x="1001" y="789" font-size="15.6" stroke="#1a1a1a" stroke-width=".2" text-anchor="start" fill="#1a1a1a">Control</text>
<text x="743.8" y="766" font-size="15.9" font-weight="bold" stroke="#1a1a1a" stroke-width=".35" text-anchor="middle" fill="#1a1a1a" transform="rotate(-90 743.8 766)">Counts</text>
<text x="922" y="909" font-size="15.5" font-weight="bold" stroke="#1a1a1a" stroke-width=".35" text-anchor="middle" fill="#1a1a1a">Intensity</text>
</svg>
</body></html>
